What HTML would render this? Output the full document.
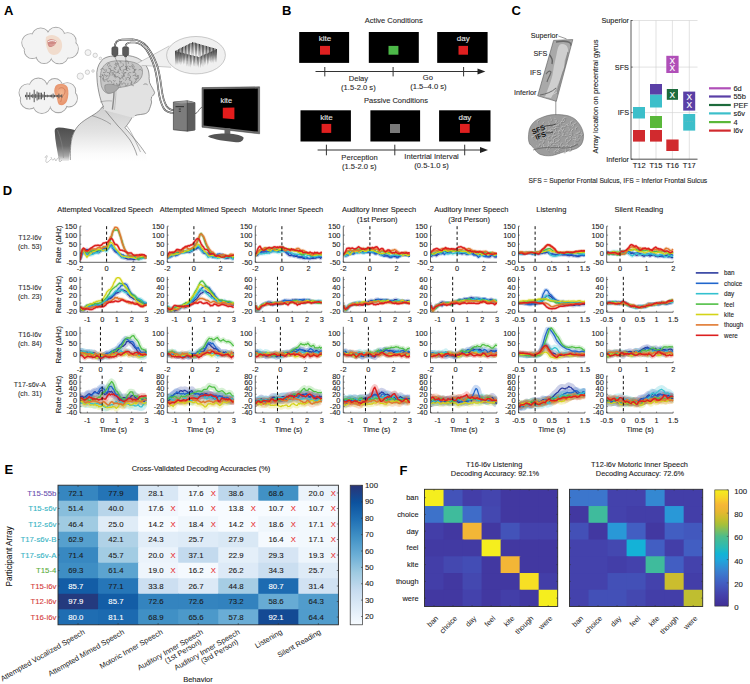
<!DOCTYPE html>
<html><head><meta charset="utf-8"><title>Figure</title>
<style>
html,body{margin:0;padding:0;background:#fff;}
svg{display:block;}
text{font-family:"Liberation Sans", Arial, sans-serif;}
</style></head>
<body>
<svg width="750" height="684" viewBox="0 0 750 684">
<rect width="750" height="684" fill="#fff"/>
<defs>
<linearGradient id="torsog" x1="0" y1="0" x2="0" y2="1"><stop offset="0" stop-color="#cfcfcf"/><stop offset="0.45" stop-color="#e2e2e2"/><stop offset="0.85" stop-color="#fbfbfb"/><stop offset="1" stop-color="#ffffff"/></linearGradient>
<linearGradient id="chairg" x1="0" y1="0" x2="0" y2="1"><stop offset="0" stop-color="#4e4e4e"/><stop offset="0.55" stop-color="#6a6a6a"/><stop offset="0.85" stop-color="#a8a8a8"/><stop offset="1" stop-color="#f0f0f0"/></linearGradient>
<radialGradient id="earg" cx="0.5" cy="0.45" r="0.6"><stop offset="0" stop-color="#f4b892"/><stop offset="1" stop-color="#e58f68"/></radialGradient>
<linearGradient id="spikeg" x1="0" y1="0" x2="0" y2="1"><stop offset="0" stop-color="#2a2a2a"/><stop offset="0.75" stop-color="#3a3a3a"/><stop offset="1" stop-color="#777"/></linearGradient>
</defs>
<circle cx="69.1" cy="48.8" r="9.23" fill="#f3f3f3" stroke="#a9a9a9" stroke-width="1.1"/>
<circle cx="59.3" cy="54.6" r="9.22" fill="#f3f3f3" stroke="#a9a9a9" stroke-width="1.1"/>
<circle cx="44.1" cy="55.4" r="7.99" fill="#f3f3f3" stroke="#a9a9a9" stroke-width="1.1"/>
<circle cx="32.3" cy="50.5" r="8.03" fill="#f3f3f3" stroke="#a9a9a9" stroke-width="1.1"/>
<circle cx="30.9" cy="42.8" r="9.06" fill="#f3f3f3" stroke="#a9a9a9" stroke-width="1.1"/>
<circle cx="40.7" cy="37.0" r="8.92" fill="#f3f3f3" stroke="#a9a9a9" stroke-width="1.1"/>
<circle cx="55.9" cy="36.2" r="8.83" fill="#f3f3f3" stroke="#a9a9a9" stroke-width="1.1"/>
<circle cx="67.7" cy="41.1" r="8.34" fill="#f3f3f3" stroke="#a9a9a9" stroke-width="1.1"/>
<circle cx="69.1" cy="48.8" r="8.73" fill="#f3f3f3"/>
<circle cx="59.3" cy="54.6" r="8.72" fill="#f3f3f3"/>
<circle cx="44.1" cy="55.4" r="7.49" fill="#f3f3f3"/>
<circle cx="32.3" cy="50.5" r="7.53" fill="#f3f3f3"/>
<circle cx="30.9" cy="42.8" r="8.56" fill="#f3f3f3"/>
<circle cx="40.7" cy="37.0" r="8.42" fill="#f3f3f3"/>
<circle cx="55.9" cy="36.2" r="8.33" fill="#f3f3f3"/>
<circle cx="67.7" cy="41.1" r="7.84" fill="#f3f3f3"/>
<ellipse cx="50.0" cy="45.8" rx="21.0" ry="11.0" fill="#f3f3f3"/>
<circle cx="68.8" cy="98.3" r="8.57" fill="#f3f3f3" stroke="#a9a9a9" stroke-width="1.1"/>
<circle cx="58.3" cy="103.9" r="8.72" fill="#f3f3f3" stroke="#a9a9a9" stroke-width="1.1"/>
<circle cx="41.9" cy="104.6" r="8.80" fill="#f3f3f3" stroke="#a9a9a9" stroke-width="1.1"/>
<circle cx="29.3" cy="99.9" r="8.99" fill="#f3f3f3" stroke="#a9a9a9" stroke-width="1.1"/>
<circle cx="27.8" cy="92.7" r="8.72" fill="#f3f3f3" stroke="#a9a9a9" stroke-width="1.1"/>
<circle cx="38.3" cy="87.1" r="8.97" fill="#f3f3f3" stroke="#a9a9a9" stroke-width="1.1"/>
<circle cx="54.7" cy="86.4" r="7.77" fill="#f3f3f3" stroke="#a9a9a9" stroke-width="1.1"/>
<circle cx="67.3" cy="91.1" r="8.35" fill="#f3f3f3" stroke="#a9a9a9" stroke-width="1.1"/>
<circle cx="68.8" cy="98.3" r="8.07" fill="#f3f3f3"/>
<circle cx="58.3" cy="103.9" r="8.22" fill="#f3f3f3"/>
<circle cx="41.9" cy="104.6" r="8.30" fill="#f3f3f3"/>
<circle cx="29.3" cy="99.9" r="8.49" fill="#f3f3f3"/>
<circle cx="27.8" cy="92.7" r="8.22" fill="#f3f3f3"/>
<circle cx="38.3" cy="87.1" r="8.47" fill="#f3f3f3"/>
<circle cx="54.7" cy="86.4" r="7.27" fill="#f3f3f3"/>
<circle cx="67.3" cy="91.1" r="7.85" fill="#f3f3f3"/>
<ellipse cx="48.3" cy="95.5" rx="22.5" ry="10.5" fill="#f3f3f3"/>
<circle cx="88.0" cy="52.6" r="3.0" fill="#f4f4f4" stroke="#a8a8a8" stroke-width="0.5"/>
<circle cx="95.2" cy="55.3" r="2.2" fill="#f4f4f4" stroke="#a8a8a8" stroke-width="0.5"/>
<circle cx="100.4" cy="58.4" r="1.3" fill="#f4f4f4" stroke="#a8a8a8" stroke-width="0.5"/>
<circle cx="80.3" cy="76.2" r="3.2" fill="#f4f4f4" stroke="#a8a8a8" stroke-width="0.5"/>
<circle cx="87.4" cy="72.2" r="2.2" fill="#f4f4f4" stroke="#a8a8a8" stroke-width="0.5"/>
<circle cx="93.0" cy="71.0" r="1.3" fill="#f4f4f4" stroke="#a8a8a8" stroke-width="0.5"/>
<path d="M46,37 C50,33.5 56,34.5 60,39 C63,43 63,49 59,53 C55,56.5 50,55 48,51 C46,47 45,41 46,37 Z" fill="#f1dccd"/>
<path d="M47.5,40.5 C50,38.5 54.5,38.8 56.5,41.2 C56,45 52,47.8 49,46.8 C47.6,45.5 47.2,42.5 47.5,40.5 Z" fill="#cf8a84"/>
<path d="M48,41.6 C50.5,40.3 54,40.4 56,41.6" fill="none" stroke="#fff" stroke-width="0.9"/>
<path d="M49.5,44.8 C51.5,45.3 53.5,45 55,44" fill="none" stroke="#e9b0aa" stroke-width="0.8"/>
<path d="M55.5,86 C58.5,83 64.5,83 67.5,87 C69,91 68.5,97 67,101 C65.5,104.5 62,106.5 58.8,104.5 C56.8,101.5 57.8,98.5 55.8,96 C53.8,93 53.8,89 55.5,86 Z" fill="url(#earg)"/>
<path d="M58.5,89 C60.5,87 64,87.5 65,90 C65.6,93 63.6,95 62,97.5 C61,99 61.5,101 60.5,102" fill="none" stroke="#c46a48" stroke-width="0.6"/>
<line x1="25.5" y1="94.8" x2="25.5" y2="97.2" stroke="#505050" stroke-width="0.95"/>
<line x1="26.9" y1="92.3" x2="26.9" y2="99.7" stroke="#505050" stroke-width="0.95"/>
<line x1="28.4" y1="94.9" x2="28.4" y2="97.1" stroke="#505050" stroke-width="0.95"/>
<line x1="29.8" y1="92.4" x2="29.8" y2="99.6" stroke="#505050" stroke-width="0.95"/>
<line x1="31.3" y1="94.8" x2="31.3" y2="97.2" stroke="#505050" stroke-width="0.95"/>
<line x1="32.8" y1="93.9" x2="32.8" y2="98.1" stroke="#505050" stroke-width="0.95"/>
<line x1="34.2" y1="89.8" x2="34.2" y2="102.2" stroke="#505050" stroke-width="0.95"/>
<line x1="35.7" y1="93.9" x2="35.7" y2="98.1" stroke="#505050" stroke-width="0.95"/>
<line x1="37.1" y1="91.5" x2="37.1" y2="100.5" stroke="#505050" stroke-width="0.95"/>
<line x1="38.6" y1="92.5" x2="38.6" y2="99.5" stroke="#505050" stroke-width="0.95"/>
<line x1="40.0" y1="92.7" x2="40.0" y2="99.3" stroke="#505050" stroke-width="0.95"/>
<line x1="41.5" y1="92.7" x2="41.5" y2="99.3" stroke="#505050" stroke-width="0.95"/>
<line x1="42.9" y1="94.3" x2="42.9" y2="97.7" stroke="#505050" stroke-width="0.95"/>
<line x1="44.4" y1="91.9" x2="44.4" y2="100.1" stroke="#505050" stroke-width="0.95"/>
<line x1="45.8" y1="95.0" x2="45.8" y2="97.0" stroke="#505050" stroke-width="0.95"/>
<line x1="47.3" y1="94.7" x2="47.3" y2="97.3" stroke="#505050" stroke-width="0.95"/>
<line x1="48.7" y1="95.4" x2="48.7" y2="96.6" stroke="#505050" stroke-width="0.95"/>
<line x1="50.2" y1="94.9" x2="50.2" y2="97.1" stroke="#505050" stroke-width="0.95"/>
<line x1="51.6" y1="94.6" x2="51.6" y2="97.4" stroke="#505050" stroke-width="0.95"/>
<line x1="53.1" y1="93.6" x2="53.1" y2="98.4" stroke="#505050" stroke-width="0.95"/>
<line x1="54.5" y1="94.8" x2="54.5" y2="97.2" stroke="#505050" stroke-width="0.95"/>
<line x1="56.0" y1="95.4" x2="56.0" y2="96.6" stroke="#505050" stroke-width="0.95"/>
<line x1="57.4" y1="95.1" x2="57.4" y2="96.9" stroke="#505050" stroke-width="0.95"/>
<line x1="58.9" y1="93.7" x2="58.9" y2="98.3" stroke="#505050" stroke-width="0.95"/>
<line x1="60.3" y1="95.5" x2="60.3" y2="96.5" stroke="#505050" stroke-width="0.95"/>
<line x1="61.8" y1="94.4" x2="61.8" y2="97.6" stroke="#505050" stroke-width="0.95"/>
<line x1="25.00" y1="96.00" x2="62.00" y2="96.00" stroke="#505050" stroke-width="0.8" />
<path d="M54.7,131 C54.5,128.5 56.5,127.5 59,127.5 C64,127.8 71,128.8 75.5,130.3 C72.5,134 71.3,138 71.2,142 L68.8,161 L59,161 C57.5,151 55,141 54.7,131 Z" fill="url(#chairg)"/>
<path d="M57.5,130 C61,138 63,148 63.5,158" fill="none" stroke="#8a8a8a" stroke-width="0.5"/>
<path d="M70.3,162 C70.3,152 70.6,144 71.5,140 C73,133 76,127 81.6,122.5 C86,119 90,117 94,114.5 C97,112.5 100.5,110 102.6,106.5 L133.8,114 C131,120 128,124 125,127.7 C131,134 139,144 146,155 L148,162 Z" fill="url(#torsog)"/>
<path d="M70.3,160 C70.3,150 70.6,144 71.5,140 C73,133 76,127 81.6,122.5 C86,119 90,117 94,114.5 C97,112.5 100.5,110 102.6,106.5" fill="none" stroke="#555" stroke-width="0.6"/>
<path d="M92,115.6 C98,117.5 105,120 111,124.3" fill="none" stroke="#666" stroke-width="0.5"/>
<path d="M102.4,106.9 C108,114 113,120 118,126 C123,131 127,136 130,140 C133,145 135.5,150 137,155.5" fill="none" stroke="#555" stroke-width="0.55"/>
<path d="M125,127.7 C129,132 132,136 135.3,139.9 C139,144 142.5,149 145.7,153.7" fill="none" stroke="#555" stroke-width="0.55"/>
<path d="M126.7,126 C131,131 134,138 140.5,152" fill="none" stroke="#666" stroke-width="0.45"/>
<path d="M133.8,114 C131,120 128,124 125,127.7" fill="none" stroke="#555" stroke-width="0.55"/>
<path d="M103.7,107.1 C101.5,103 100,98 98.8,92 C97.5,86 96.8,80 96.8,72.3 C97.5,66 100,61.5 103.7,58.6 C106.5,57 109.5,56.3 112.4,56.1 C117,55.4 122,55.2 127.3,55.5 C131,55.8 134.5,56.8 137.3,58 C140.5,59.6 142.8,61.5 144.7,63.6 C146.8,66.5 148,69 148.5,71 C149.1,74 149.3,76 149.1,78.5 C149.3,80 149.5,81.2 149.5,82.3 C150.3,84.5 151.5,86.5 152.5,88.2 C153.5,90 154.3,91.5 154.6,92.5 C154.3,94.5 152.8,95.8 151.6,96.9 C151.4,98 151.5,99 151.1,99.8 C151.3,100.8 151.7,101.5 151.6,102.2 C151.2,104.5 150,108 148.7,111 C147.5,112.8 146,113.6 144,114 C141.5,114.4 139.5,114.6 137.5,114.9 C136.3,115.2 135.3,115.5 134.8,115.8 L133.8,118 L103.7,110 Z" fill="#e2e2e2"/>
<path d="M103.7,107.1 C101.5,103 100,98 98.8,92 C97.5,86 96.8,80 96.8,72.3 C97.5,66 100,61.5 103.7,58.6 C106.5,57 109.5,56.3 112.4,56.1 C117,55.4 122,55.2 127.3,55.5 C131,55.8 134.5,56.8 137.3,58 C140.5,59.6 142.8,61.5 144.7,63.6 C146.8,66.5 148,69 148.5,71 C149.1,74 149.3,76 149.1,78.5 C149.3,80 149.5,81.2 149.5,82.3 C150.3,84.5 151.5,86.5 152.5,88.2 C153.5,90 154.3,91.5 154.6,92.5 C154.3,94.5 152.8,95.8 151.6,96.9 C151.4,98 151.5,99 151.1,99.8 C151.3,100.8 151.7,101.5 151.6,102.2 C151.2,104.5 150,108 148.7,111 C147.5,112.8 146,113.6 144,114 C141.5,114.4 139.5,114.6 137.5,114.9 C136.3,115.2 135.3,115.5 134.8,115.8" fill="none" stroke="#555" stroke-width="0.6"/>
<path d="M100.6,78 C100,71 102.5,66 107,63 C112,60.5 118,60.5 124,61 C131,61.3 137,62.5 140.5,66 C143,69 143,73 141.5,77 C139.5,81 136,83.5 131,85 C127,86.5 123,87 119,87.5 C116,90 113,93.5 108,93.3 C104,92.8 101.5,88 101,84 C100.7,82 100.6,80 100.6,78 Z" fill="#c6c6c6" stroke="#6a6a6a" stroke-width="0.5"/>
<path d="M118.9,63.6 Q116.4,65.6 115.6,62.5" fill="none" stroke="#6a6a6a" stroke-width="0.5"/>
<path d="M119.3,61.3 Q121.9,61.1 120.9,63.5" fill="none" stroke="#6a6a6a" stroke-width="0.5"/>
<path d="M125.2,61.2 Q128.9,60.0 128.4,63.8" fill="none" stroke="#6a6a6a" stroke-width="0.5"/>
<path d="M107.3,65.8 Q107.4,62.6 110.2,64.1" fill="none" stroke="#6a6a6a" stroke-width="0.5"/>
<path d="M115.7,64.1 Q118.4,67.2 114.4,68.2" fill="none" stroke="#6a6a6a" stroke-width="0.5"/>
<path d="M116.1,65.9 Q113.8,64.5 116.0,63.0" fill="none" stroke="#6a6a6a" stroke-width="0.5"/>
<path d="M122.9,63.3 Q125.0,65.9 121.7,66.7" fill="none" stroke="#6a6a6a" stroke-width="0.5"/>
<path d="M128.0,65.7 Q127.2,68.6 125.0,66.5" fill="none" stroke="#6a6a6a" stroke-width="0.5"/>
<path d="M132.1,64.7 Q131.5,68.1 128.8,66.1" fill="none" stroke="#6a6a6a" stroke-width="0.5"/>
<path d="M132.0,63.6 Q134.8,65.0 132.3,66.9" fill="none" stroke="#6a6a6a" stroke-width="0.5"/>
<path d="M108.1,66.7 Q110.2,63.9 111.8,67.0" fill="none" stroke="#6a6a6a" stroke-width="0.5"/>
<path d="M113.6,70.1 Q110.0,71.8 110.0,67.9" fill="none" stroke="#6a6a6a" stroke-width="0.5"/>
<path d="M116.2,69.5 Q113.1,69.3 114.6,66.6" fill="none" stroke="#6a6a6a" stroke-width="0.5"/>
<path d="M121.6,70.9 Q118.0,68.3 121.9,66.2" fill="none" stroke="#6a6a6a" stroke-width="0.5"/>
<path d="M125.5,66.1 Q127.8,69.2 123.9,69.9" fill="none" stroke="#6a6a6a" stroke-width="0.5"/>
<path d="M128.2,70.6 Q125.1,70.5 126.6,67.8" fill="none" stroke="#6a6a6a" stroke-width="0.5"/>
<path d="M133.4,69.1 Q131.1,67.6 133.4,66.2" fill="none" stroke="#6a6a6a" stroke-width="0.5"/>
<path d="M135.9,70.3 Q132.1,69.4 134.6,66.4" fill="none" stroke="#6a6a6a" stroke-width="0.5"/>
<path d="M100.2,69.9 Q103.2,66.7 104.8,70.8" fill="none" stroke="#6a6a6a" stroke-width="0.5"/>
<path d="M106.0,69.0 Q107.3,73.1 103.0,72.5" fill="none" stroke="#6a6a6a" stroke-width="0.5"/>
<path d="M108.1,67.9 Q112.5,68.9 109.7,72.5" fill="none" stroke="#6a6a6a" stroke-width="0.5"/>
<path d="M113.7,70.5 Q115.3,73.9 111.5,73.9" fill="none" stroke="#6a6a6a" stroke-width="0.5"/>
<path d="M119.2,70.8 Q116.9,74.8 114.3,71.0" fill="none" stroke="#6a6a6a" stroke-width="0.5"/>
<path d="M120.1,73.8 Q116.0,72.4 119.1,69.3" fill="none" stroke="#6a6a6a" stroke-width="0.5"/>
<path d="M126.3,72.6 Q122.3,73.3 123.4,69.4" fill="none" stroke="#6a6a6a" stroke-width="0.5"/>
<path d="M125.4,69.6 Q128.1,66.1 130.1,70.0" fill="none" stroke="#6a6a6a" stroke-width="0.5"/>
<path d="M134.8,69.7 Q135.5,72.6 132.5,72.0" fill="none" stroke="#6a6a6a" stroke-width="0.5"/>
<path d="M134.2,71.0 Q134.0,68.4 136.5,69.4" fill="none" stroke="#6a6a6a" stroke-width="0.5"/>
<path d="M138.6,70.1 Q140.5,68.0 141.6,70.6" fill="none" stroke="#6a6a6a" stroke-width="0.5"/>
<path d="M102.8,74.5 Q102.1,78.4 98.9,76.1" fill="none" stroke="#6a6a6a" stroke-width="0.5"/>
<path d="M106.5,75.3 Q104.1,76.3 104.2,73.7" fill="none" stroke="#6a6a6a" stroke-width="0.5"/>
<path d="M106.8,72.4 Q111.4,72.3 109.5,76.5" fill="none" stroke="#6a6a6a" stroke-width="0.5"/>
<path d="M109.3,74.5 Q110.0,70.5 113.4,72.9" fill="none" stroke="#6a6a6a" stroke-width="0.5"/>
<path d="M118.3,75.9 Q115.7,78.6 114.4,75.1" fill="none" stroke="#6a6a6a" stroke-width="0.5"/>
<path d="M121.5,72.6 Q125.5,73.4 123.0,76.6" fill="none" stroke="#6a6a6a" stroke-width="0.5"/>
<path d="M124.6,76.6 Q122.1,73.4 126.1,72.6" fill="none" stroke="#6a6a6a" stroke-width="0.5"/>
<path d="M128.2,75.9 Q127.2,71.8 131.3,72.7" fill="none" stroke="#6a6a6a" stroke-width="0.5"/>
<path d="M132.8,72.8 Q135.7,71.2 135.9,74.6" fill="none" stroke="#6a6a6a" stroke-width="0.5"/>
<path d="M139.1,75.3 Q136.3,78.0 135.1,74.3" fill="none" stroke="#6a6a6a" stroke-width="0.5"/>
<path d="M101.5,74.7 Q105.2,75.4 102.9,78.5" fill="none" stroke="#6a6a6a" stroke-width="0.5"/>
<path d="M106.8,78.8 Q103.8,81.7 102.5,77.7" fill="none" stroke="#6a6a6a" stroke-width="0.5"/>
<path d="M105.9,77.4 Q106.4,74.4 108.9,76.2" fill="none" stroke="#6a6a6a" stroke-width="0.5"/>
<path d="M111.7,75.3 Q115.5,72.9 116.1,77.4" fill="none" stroke="#6a6a6a" stroke-width="0.5"/>
<path d="M115.6,78.1 Q112.3,75.8 115.8,73.9" fill="none" stroke="#6a6a6a" stroke-width="0.5"/>
<path d="M121.9,75.1 Q123.1,78.9 119.2,78.3" fill="none" stroke="#6a6a6a" stroke-width="0.5"/>
<path d="M123.8,79.7 Q121.0,77.0 124.7,75.6" fill="none" stroke="#6a6a6a" stroke-width="0.5"/>
<path d="M128.9,74.5 Q132.6,77.2 128.6,79.3" fill="none" stroke="#6a6a6a" stroke-width="0.5"/>
<path d="M132.6,75.9 Q134.9,73.7 135.9,76.7" fill="none" stroke="#6a6a6a" stroke-width="0.5"/>
<path d="M137.2,74.9 Q140.1,78.2 135.9,79.4" fill="none" stroke="#6a6a6a" stroke-width="0.5"/>
<path d="M105.3,81.4 Q101.9,81.2 103.5,78.2" fill="none" stroke="#6a6a6a" stroke-width="0.5"/>
<path d="M108.4,82.2 Q105.1,79.4 109.1,77.6" fill="none" stroke="#6a6a6a" stroke-width="0.5"/>
<path d="M115.7,80.6 Q113.9,82.4 113.0,80.0" fill="none" stroke="#6a6a6a" stroke-width="0.5"/>
<path d="M117.6,77.1 Q121.4,77.2 119.6,80.5" fill="none" stroke="#6a6a6a" stroke-width="0.5"/>
<path d="M122.0,80.8 Q120.8,83.4 119.0,81.2" fill="none" stroke="#6a6a6a" stroke-width="0.5"/>
<path d="M125.7,77.6 Q127.8,79.7 124.9,80.7" fill="none" stroke="#6a6a6a" stroke-width="0.5"/>
<path d="M126.6,77.7 Q129.7,76.1 129.8,79.6" fill="none" stroke="#6a6a6a" stroke-width="0.5"/>
<path d="M134.3,77.9 Q138.0,80.7 133.9,82.8" fill="none" stroke="#6a6a6a" stroke-width="0.5"/>
<path d="M136.0,79.7 Q136.3,76.8 138.8,78.4" fill="none" stroke="#6a6a6a" stroke-width="0.5"/>
<path d="M107.9,81.5 Q111.4,79.3 111.9,83.4" fill="none" stroke="#6a6a6a" stroke-width="0.5"/>
<path d="M113.9,82.7 Q114.7,85.3 112.0,84.9" fill="none" stroke="#6a6a6a" stroke-width="0.5"/>
<path d="M119.6,84.9 Q116.5,86.4 116.4,82.9" fill="none" stroke="#6a6a6a" stroke-width="0.5"/>
<path d="M119.9,85.3 Q118.1,81.9 121.9,81.8" fill="none" stroke="#6a6a6a" stroke-width="0.5"/>
<path d="M128.0,82.9 Q128.2,86.5 124.9,85.1" fill="none" stroke="#6a6a6a" stroke-width="0.5"/>
<path d="M129.0,80.1 Q133.3,80.5 131.0,84.2" fill="none" stroke="#6a6a6a" stroke-width="0.5"/>
<path d="M134.0,85.8 Q129.5,85.6 131.7,81.7" fill="none" stroke="#6a6a6a" stroke-width="0.5"/>
<path d="M117.5,83.7 Q119.6,85.3 117.2,86.5" fill="none" stroke="#6a6a6a" stroke-width="0.5"/>
<path d="M120.7,87.4 Q117.8,84.3 121.9,83.0" fill="none" stroke="#6a6a6a" stroke-width="0.5"/>
<path d="M121.7,85.1 Q123.2,81.3 126.0,84.3" fill="none" stroke="#6a6a6a" stroke-width="0.5"/>
<path d="M105,85 C109,83.5 115,84 119,87 C117,91 113,93.5 108.5,93.2 C105.5,92.5 104,89 105,85 Z" fill="#a8a8a8" stroke="#6a6a6a" stroke-width="0.4"/>
<path d="M114,92 C114,98 113,104 112.4,109.6" fill="none" stroke="#8a8a8a" stroke-width="1.4"/>
<path d="M116,90 C116,97 115,104 114.5,110" fill="none" stroke="#9a9a9a" stroke-width="0.5"/>
<path d="M143.5,84.5 C145,83.6 146.6,83.8 147.6,84.8" fill="none" stroke="#555" stroke-width="0.55"/>
<path d="M100,102 C104,101 108,100.5 112,101" fill="none" stroke="#777" stroke-width="0.45"/>
<polygon points="137,63.6 169.3,45.9 171.2,67.3 141.7,65.4" fill="#efefef"/>
<line x1="137.00" y1="63.60" x2="169.30" y2="45.90" stroke="#9a9a9a" stroke-width="0.5" />
<line x1="141.70" y1="65.40" x2="171.20" y2="67.30" stroke="#9a9a9a" stroke-width="0.5" />
<path d="M114.9,47 C114.8,42 117.5,39.8 122,39.6 L132.5,39.4 C139,39.8 143.5,42.5 147,46.5 C151,51.5 154.5,58 157,65 C159.5,72 160.5,80 161.5,88 C162.5,96 164,102 166.5,106 C168.5,109 171,110 174,110.2" fill="none" stroke="#333" stroke-width="1.7"/>
<path d="M114.9,47 C114.8,42 117.5,39.8 122,39.6 L132.5,39.4 C139,39.8 143.5,42.5 147,46.5 C151,51.5 154.5,58 157,65 C159.5,72 160.5,80 161.5,88 C162.5,96 164,102 166.5,106 C168.5,109 171,110 174,110.2" fill="none" stroke="#fafafa" stroke-width="0.7"/>
<path d="M125.5,47 C125.6,44 127.5,42.6 130.5,42.5 L135,42.5 C140,43 143.5,46 146.5,50 C149.5,54.5 152.5,61 154.5,67.5 C156.5,74.5 157.5,82 158.3,89.5 C159.3,97.5 161,104 163.8,108.5 C165.8,111.5 169,112.8 174,113" fill="none" stroke="#333" stroke-width="1.7"/>
<path d="M125.5,47 C125.6,44 127.5,42.6 130.5,42.5 L135,42.5 C140,43 143.5,46 146.5,50 C149.5,54.5 152.5,61 154.5,67.5 C156.5,74.5 157.5,82 158.3,89.5 C159.3,97.5 161,104 163.8,108.5 C165.8,111.5 169,112.8 174,113" fill="none" stroke="#fafafa" stroke-width="0.7"/>
<rect x="111.8" y="46.8" width="6.2" height="8.7" rx="1.6" fill="#5a5a5a" stroke="#333" stroke-width="0.4"/>
<rect x="113.50" y="55.30" width="2.80" height="1.80" fill="#555" />
<line x1="114.90" y1="57.00" x2="120.90" y2="70.50" stroke="#6a6a6a" stroke-width="0.5" />
<rect x="122.5" y="46.8" width="6.2" height="8.7" rx="1.6" fill="#5a5a5a" stroke="#333" stroke-width="0.4"/>
<rect x="124.20" y="55.30" width="2.80" height="1.80" fill="#555" />
<line x1="125.60" y1="57.00" x2="126.60" y2="70.50" stroke="#6a6a6a" stroke-width="0.5" />
<ellipse cx="196.0" cy="55.2" rx="29.4" ry="18.7" fill="#f0f0f0" stroke="#a8a8a8" stroke-width="0.6"/>
<polygon points="175.1,50.7 176.1,50.7 175.6,65.5" fill="#333"/>
<polygon points="176.5,49.9 177.5,49.9 177.0,65.2" fill="#333"/>
<polygon points="177.9,49.2 178.9,49.2 178.4,64.6" fill="#333"/>
<polygon points="179.3,48.5 180.3,48.5 179.8,64.4" fill="#333"/>
<polygon points="180.7,47.8 181.7,47.8 181.2,63.1" fill="#333"/>
<polygon points="182.1,47.1 183.1,47.1 182.6,62.9" fill="#333"/>
<polygon points="183.5,46.4 184.5,46.4 184.0,59.5" fill="#333"/>
<polygon points="184.9,45.7 185.9,45.7 185.4,60.1" fill="#333"/>
<polygon points="186.4,45.0 187.4,45.0 186.9,60.9" fill="#333"/>
<polygon points="187.8,44.3 188.8,44.3 188.3,59.3" fill="#333"/>
<polygon points="189.2,43.6 190.2,43.6 189.7,59.3" fill="#333"/>
<polygon points="190.6,42.9 191.6,42.9 191.1,56.3" fill="#333"/>
<polygon points="192.0,42.2 193.0,42.2 192.5,56.6" fill="#333"/>
<polygon points="193.4,42.4 194.4,42.4 193.9,56.2" fill="#333"/>
<polygon points="194.8,42.8 195.8,42.8 195.3,57.5" fill="#333"/>
<polygon points="196.2,43.3 197.2,43.3 196.7,58.0" fill="#333"/>
<polygon points="197.6,43.7 198.6,43.7 198.1,56.7" fill="#333"/>
<polygon points="199.0,44.1 200.0,44.1 199.5,57.7" fill="#333"/>
<polygon points="200.4,44.5 201.4,44.5 200.9,58.3" fill="#333"/>
<polygon points="201.8,44.9 202.8,44.9 202.3,60.6" fill="#333"/>
<polygon points="203.2,45.3 204.2,45.3 203.7,60.6" fill="#333"/>
<polygon points="204.6,45.7 205.6,45.7 205.1,59.2" fill="#333"/>
<polygon points="206.1,46.1 207.1,46.1 206.6,61.5" fill="#333"/>
<polygon points="207.5,46.5 208.5,46.5 208.0,59.9" fill="#333"/>
<polygon points="208.9,46.9 209.9,46.9 209.4,61.8" fill="#333"/>
<polygon points="210.3,47.3 211.3,47.3 210.8,60.7" fill="#333"/>
<polygon points="211.7,47.7 212.7,47.7 212.2,60.7" fill="#333"/>
<polygon points="213.1,48.1 214.1,48.1 213.6,63.7" fill="#333"/>
<polygon points="214.5,48.5 215.5,48.5 215.0,62.2" fill="#333"/>
<polygon points="215.9,48.9 216.9,48.9 216.4,62.6" fill="#333"/>
<polygon points="175.8,51.3 176.8,51.3 176.3,64.3" fill="#454545"/>
<polygon points="177.2,51.7 178.2,51.7 177.7,64.3" fill="#454545"/>
<polygon points="178.6,52.0 179.6,52.0 179.1,62.9" fill="#454545"/>
<polygon points="180.0,52.4 181.0,52.4 180.5,65.3" fill="#454545"/>
<polygon points="181.4,52.7 182.4,52.7 181.9,64.4" fill="#454545"/>
<polygon points="182.8,53.1 183.8,53.1 183.3,65.1" fill="#454545"/>
<polygon points="184.2,53.5 185.2,53.5 184.7,64.1" fill="#454545"/>
<polygon points="185.6,53.8 186.6,53.8 186.1,66.6" fill="#454545"/>
<polygon points="187.1,54.2 188.1,54.2 187.6,66.2" fill="#454545"/>
<polygon points="188.5,54.5 189.5,54.5 189.0,67.4" fill="#454545"/>
<polygon points="189.9,54.9 190.9,54.9 190.4,67.5" fill="#454545"/>
<polygon points="191.3,55.2 192.3,55.2 191.8,66.1" fill="#454545"/>
<polygon points="192.7,55.6 193.7,55.6 193.2,66.6" fill="#454545"/>
<polygon points="194.1,55.9 195.1,55.9 194.6,66.4" fill="#454545"/>
<polygon points="195.5,56.3 196.5,56.3 196.0,66.7" fill="#454545"/>
<polygon points="196.9,56.6 197.9,56.6 197.4,66.8" fill="#454545"/>
<polygon points="198.3,57.0 199.3,57.0 198.8,67.9" fill="#454545"/>
<polygon points="199.7,56.5 200.7,56.5 200.2,68.3" fill="#454545"/>
<polygon points="201.1,55.8 202.1,55.8 201.6,65.9" fill="#454545"/>
<polygon points="202.5,55.2 203.5,55.2 203.0,67.3" fill="#454545"/>
<polygon points="203.9,54.6 204.9,54.6 204.4,65.6" fill="#454545"/>
<polygon points="205.3,54.0 206.3,54.0 205.8,64.9" fill="#454545"/>
<polygon points="206.8,53.4 207.8,53.4 207.3,65.8" fill="#454545"/>
<polygon points="208.2,52.8 209.2,52.8 208.7,64.2" fill="#454545"/>
<polygon points="209.6,52.1 210.6,52.1 210.1,63.1" fill="#454545"/>
<polygon points="211.0,51.5 212.0,51.5 211.5,63.0" fill="#454545"/>
<polygon points="212.4,50.9 213.4,50.9 212.9,63.0" fill="#454545"/>
<polygon points="213.8,50.3 214.8,50.3 214.3,60.5" fill="#454545"/>
<polygon points="215.2,49.7 216.2,49.7 215.7,62.6" fill="#454545"/>
<polygon points="173.4,102 187.3,100.8 195,102.6 195,130 187.3,131.2 173.4,129.8" fill="#7c7c7c" stroke="#2e2e2e" stroke-width="0.6"/>
<polygon points="187.3,100.8 195,102.6 195,130 187.3,131.2" fill="#5c5c5c"/>
<polygon points="173.4,102 187.3,100.8 195,102.6 181,103.6" fill="#9a9a9a"/>
<line x1="187.30" y1="100.80" x2="187.30" y2="131.20" stroke="#2e2e2e" stroke-width="0.5" />
<rect x="175.50" y="106.00" width="8.50" height="1.20" fill="#3a3a3a" />
<rect x="178.80" y="108.50" width="2.00" height="1.10" fill="#3a3a3a" />
<rect x="178.80" y="110.80" width="2.00" height="1.10" fill="#3a3a3a" />
<path d="M195,113.5 C198,113.5 199,108 202.5,107" fill="none" stroke="#2e2e2e" stroke-width="0.7"/>
<polygon points="202,87.6 259.6,86.8 259.6,133.8 202,127.2" fill="#707070" stroke="#3a3a3a" stroke-width="0.5"/>
<polygon points="203.6,89.2 257.8,88.6 257.8,131.6 203.6,125.6" fill="#000"/>
<text x="226.3" y="100.2" font-size="7.4" text-anchor="middle" fill="#f0f0f0" stroke="#f0f0f0" stroke-width="0.1" dominant-baseline="central" >kite</text>
<polygon points="222.8,107.7 234.4,107.5 234.4,119.2 222.8,118.2" fill="#e41c1c"/>
<rect x="224.50" y="128.20" width="5.80" height="6.50" fill="#666" />
<path d="M208,136.5 C212,132.5 238,132 243.6,137.5 C243.5,141 240.5,142.6 236,142.3 C225,141 214,139.8 208,136.5 Z" fill="#555"/>
<path d="M45,158 C46,155 48,155 47,157 C46,159 45,162.5 47,162.5 C49,161.5 50,160 51,159 M51,157 C52,160 53,161.5 54,159 C55,157 55,160.5 56,161 C57,159 58,157 59,158 C60,159 58,161 60,162 L62,160" fill="none" stroke="#8a8a8a" stroke-width="0.45"/>
<text x="393.8" y="20.8" font-size="7.5" text-anchor="middle" fill="#2a2a2a" stroke="#2a2a2a" stroke-width="0.1" textLength="58" lengthAdjust="spacingAndGlyphs" dominant-baseline="central" >Active Conditions</text>
<rect x="299.20" y="32.00" width="49.90" height="30.90" fill="#000" />
<text x="325.0" y="38.9" font-size="8.0" text-anchor="middle" fill="#e8e8e8" stroke="#e8e8e8" stroke-width="0.1" dominant-baseline="central" >kite</text>
<rect x="320.00" y="45.90" width="10.00" height="8.80" fill="#e02020" />
<rect x="368.80" y="32.00" width="50.00" height="30.90" fill="#000" />
<rect x="388.50" y="45.90" width="9.90" height="8.80" fill="#4cb848" />
<rect x="437.20" y="32.00" width="50.40" height="30.90" fill="#000" />
<text x="463.2" y="38.9" font-size="8.0" text-anchor="middle" fill="#e8e8e8" stroke="#e8e8e8" stroke-width="0.1" dominant-baseline="central" >day</text>
<rect x="458.50" y="45.90" width="9.50" height="8.80" fill="#e02020" />
<line x1="315.50" y1="71.50" x2="479.00" y2="71.50" stroke="#333" stroke-width="1" />
<polygon points="477.5,68.6 485.4,71.5 477.5,74.4" fill="#222"/>
<line x1="324.80" y1="67.00" x2="324.80" y2="76.40" stroke="#333" stroke-width="1" />
<line x1="393.10" y1="67.00" x2="393.10" y2="76.40" stroke="#333" stroke-width="1" />
<line x1="463.60" y1="67.00" x2="463.60" y2="76.40" stroke="#333" stroke-width="1" />
<text x="358.4" y="78.7" font-size="7.6" text-anchor="middle" fill="#2a2a2a" stroke="#2a2a2a" stroke-width="0.1" dominant-baseline="central" >Delay</text>
<text x="358.4" y="87.2" font-size="7.6" text-anchor="middle" fill="#2a2a2a" stroke="#2a2a2a" stroke-width="0.1" dominant-baseline="central" >(1.5-2.0 s)</text>
<text x="427.8" y="77.8" font-size="7.6" text-anchor="middle" fill="#2a2a2a" stroke="#2a2a2a" stroke-width="0.1" dominant-baseline="central" >Go</text>
<text x="428.4" y="86.6" font-size="7.6" text-anchor="middle" fill="#2a2a2a" stroke="#2a2a2a" stroke-width="0.1" dominant-baseline="central" >(1.5–4.0 s)</text>
<text x="396.0" y="100.9" font-size="7.5" text-anchor="middle" fill="#2a2a2a" stroke="#2a2a2a" stroke-width="0.1" textLength="64" lengthAdjust="spacingAndGlyphs" dominant-baseline="central" >Passive Conditions</text>
<rect x="300.50" y="110.30" width="50.40" height="31.20" fill="#000" />
<text x="326.4" y="117.2" font-size="8.0" text-anchor="middle" fill="#e8e8e8" stroke="#e8e8e8" stroke-width="0.1" dominant-baseline="central" >kite</text>
<rect x="321.60" y="123.90" width="9.60" height="9.00" fill="#e02020" />
<rect x="370.40" y="110.30" width="49.70" height="31.20" fill="#000" />
<rect x="390.00" y="124.00" width="10.00" height="9.00" fill="#7a7a7a" />
<rect x="439.10" y="110.30" width="51.40" height="31.20" fill="#000" />
<text x="464.9" y="117.2" font-size="8.0" text-anchor="middle" fill="#e8e8e8" stroke="#e8e8e8" stroke-width="0.1" dominant-baseline="central" >day</text>
<rect x="460.00" y="123.90" width="9.70" height="9.00" fill="#e02020" />
<line x1="317.60" y1="150.00" x2="482.00" y2="150.00" stroke="#333" stroke-width="1" />
<polygon points="480.0,147.1 488.0,150 480.0,152.9" fill="#222"/>
<line x1="326.40" y1="144.70" x2="326.40" y2="155.30" stroke="#333" stroke-width="1" />
<line x1="394.80" y1="144.70" x2="394.80" y2="155.30" stroke="#333" stroke-width="1" />
<line x1="464.70" y1="144.70" x2="464.70" y2="155.30" stroke="#333" stroke-width="1" />
<text x="359.5" y="157.2" font-size="7.6" text-anchor="middle" fill="#2a2a2a" stroke="#2a2a2a" stroke-width="0.1" dominant-baseline="central" >Perception</text>
<text x="359.2" y="166.0" font-size="7.6" text-anchor="middle" fill="#2a2a2a" stroke="#2a2a2a" stroke-width="0.1" dominant-baseline="central" >(1.5-2.0 s)</text>
<text x="431.6" y="156.9" font-size="7.6" text-anchor="middle" fill="#2a2a2a" stroke="#2a2a2a" stroke-width="0.1" dominant-baseline="central" >Intertrial Interval</text>
<text x="431.6" y="165.7" font-size="7.6" text-anchor="middle" fill="#2a2a2a" stroke="#2a2a2a" stroke-width="0.1" dominant-baseline="central" >(0.5-1.0 s)</text>
<defs><linearGradient id="stripg" x1="0" y1="0" x2="1" y2="0"><stop offset="0" stop-color="#8a8a8a"/><stop offset="0.5" stop-color="#c8c8c8"/><stop offset="1" stop-color="#9a9a9a"/></linearGradient><radialGradient id="braing" cx="0.45" cy="0.4" r="0.7"><stop offset="0" stop-color="#a8a8a8"/><stop offset="1" stop-color="#6a6a6a"/></radialGradient></defs>
<defs><clipPath id="stripclip"><polygon points="553.6,40.4 572.8,39.6 556.3,101.3 537.7,95.8"/></clipPath></defs>
<polygon points="553.6,40.4 572.8,39.6 556.3,101.3 537.7,95.8" fill="#a9a9a9"/>
<g clip-path="url(#stripclip)">
<path d="M562,44 C568,44 570,50 566,57 C563,62 566,68 562,75 C559,82 556,90 551,98 L545,97 C548,88 552,80 553,72 C554,64 556,58 557,52 C558,47 559,44 562,44 Z" fill="#cfcfcf"/>
<path d="M556,42 C566,40 572,42 571,46" fill="none" stroke="#6a6a6a" stroke-width="1.4"/>
<path d="M549,54 C552,58 553,60 552,64" fill="none" stroke="#606060" stroke-width="1.3"/>
<path d="M546,74 C548,72 549,70 551,72 C550,76 548,78 547,82" fill="none" stroke="#6a6a6a" stroke-width="1.1"/>
<path d="M568,52 C566,60 566,66 563,72 C561,78 559,86 557,94" fill="none" stroke="#8a8a8a" stroke-width="1.2"/>
<path d="M540,95 C546,94 552,92 556,88" fill="none" stroke="#6a6a6a" stroke-width="1.0"/>
<path d="M542,98 C548,96 553,95 557,92" fill="none" stroke="#d0d0d0" stroke-width="0.8"/>
</g>
<polygon points="553.6,40.4 572.8,39.6 556.3,101.3 537.7,95.8" fill="none" stroke="#555" stroke-width="0.6"/>
<line x1="555.80" y1="101.00" x2="555.80" y2="121.50" stroke="#555" stroke-width="0.6" />
<path d="M528.4,138 C528.5,133 529,129 530.7,126.3 C533,122 536.5,119.5 540.1,118.2 C545,116 549.5,114.8 554.1,114.6 C559,114.4 564,114.9 568.2,115.8 C572.5,117.2 575.5,119 577.5,121.7 C580.5,125 582.5,129 583.4,133.4 C584,138 583,142 581,145 C578.5,147.8 575.5,149 572.9,149.7 C569.5,150.8 566.5,151.3 563.5,152 C559.5,153.2 555.5,155 551.8,155.6 C547.5,156.2 543.5,155.6 540.1,154.4 C537.5,153 535.5,151 534.2,148.6 C532.5,146.5 530.8,145.3 529.6,143.9 C528.8,142 528.4,140 528.4,138 Z" fill="#9c9c9c" stroke="#5a5a5a" stroke-width="0.5"/>
<path d="M550.4,117.7 Q553.1,118.9 551.0,121.0" fill="none" stroke="#c4c4c4" stroke-width="0.8"/>
<path d="M550.4,117.7 Q553.1,118.9 551.0,121.0" fill="none" stroke="#5e5e5e" stroke-width="0.35" transform="translate(0.6 0.6)"/>
<path d="M554.5,118.3 Q558.4,119.4 556.0,122.7" fill="none" stroke="#c4c4c4" stroke-width="0.8"/>
<path d="M554.5,118.3 Q558.4,119.4 556.0,122.7" fill="none" stroke="#5e5e5e" stroke-width="0.35" transform="translate(0.6 0.6)"/>
<path d="M558.8,121.9 Q555.8,123.8 555.1,120.4" fill="none" stroke="#c4c4c4" stroke-width="0.8"/>
<path d="M558.8,121.9 Q555.8,123.8 555.1,120.4" fill="none" stroke="#5e5e5e" stroke-width="0.35" transform="translate(0.6 0.6)"/>
<path d="M564.3,118.2 Q565.4,122.4 561.1,121.9" fill="none" stroke="#c4c4c4" stroke-width="0.8"/>
<path d="M564.3,118.2 Q565.4,122.4 561.1,121.9" fill="none" stroke="#5e5e5e" stroke-width="0.35" transform="translate(0.6 0.6)"/>
<path d="M562.8,120.3 Q562.6,117.1 565.7,118.0" fill="none" stroke="#c4c4c4" stroke-width="0.8"/>
<path d="M562.8,120.3 Q562.6,117.1 565.7,118.0" fill="none" stroke="#5e5e5e" stroke-width="0.35" transform="translate(0.6 0.6)"/>
<path d="M538.5,124.5 Q535.6,121.2 539.7,119.7" fill="none" stroke="#c4c4c4" stroke-width="0.8"/>
<path d="M538.5,124.5 Q535.6,121.2 539.7,119.7" fill="none" stroke="#5e5e5e" stroke-width="0.35" transform="translate(0.6 0.6)"/>
<path d="M544.0,124.7 Q541.8,123.2 543.9,121.7" fill="none" stroke="#c4c4c4" stroke-width="0.8"/>
<path d="M544.0,124.7 Q541.8,123.2 543.9,121.7" fill="none" stroke="#5e5e5e" stroke-width="0.35" transform="translate(0.6 0.6)"/>
<path d="M548.0,121.7 Q551.0,122.9 548.8,125.3" fill="none" stroke="#c4c4c4" stroke-width="0.8"/>
<path d="M548.0,121.7 Q551.0,122.9 548.8,125.3" fill="none" stroke="#5e5e5e" stroke-width="0.35" transform="translate(0.6 0.6)"/>
<path d="M555.8,121.7 Q557.5,125.8 553.0,126.0" fill="none" stroke="#c4c4c4" stroke-width="0.8"/>
<path d="M555.8,121.7 Q557.5,125.8 553.0,126.0" fill="none" stroke="#5e5e5e" stroke-width="0.35" transform="translate(0.6 0.6)"/>
<path d="M558.9,123.4 Q558.9,127.1 555.5,125.9" fill="none" stroke="#c4c4c4" stroke-width="0.8"/>
<path d="M558.9,123.4 Q558.9,127.1 555.5,125.9" fill="none" stroke="#5e5e5e" stroke-width="0.35" transform="translate(0.6 0.6)"/>
<path d="M560.9,124.3 Q559.3,121.7 562.2,121.2" fill="none" stroke="#c4c4c4" stroke-width="0.8"/>
<path d="M560.9,124.3 Q559.3,121.7 562.2,121.2" fill="none" stroke="#5e5e5e" stroke-width="0.35" transform="translate(0.6 0.6)"/>
<path d="M568.4,123.4 Q565.8,126.6 563.7,123.1" fill="none" stroke="#c4c4c4" stroke-width="0.8"/>
<path d="M568.4,123.4 Q565.8,126.6 563.7,123.1" fill="none" stroke="#5e5e5e" stroke-width="0.35" transform="translate(0.6 0.6)"/>
<path d="M570.6,121.6 Q572.4,123.4 570.1,124.5" fill="none" stroke="#c4c4c4" stroke-width="0.8"/>
<path d="M570.6,121.6 Q572.4,123.4 570.1,124.5" fill="none" stroke="#5e5e5e" stroke-width="0.35" transform="translate(0.6 0.6)"/>
<path d="M570.8,123.4 Q570.0,120.7 572.8,120.9" fill="none" stroke="#c4c4c4" stroke-width="0.8"/>
<path d="M570.8,123.4 Q570.0,120.7 572.8,120.9" fill="none" stroke="#5e5e5e" stroke-width="0.35" transform="translate(0.6 0.6)"/>
<path d="M538.8,126.8 Q537.7,129.4 535.6,127.4" fill="none" stroke="#c4c4c4" stroke-width="0.8"/>
<path d="M538.8,126.8 Q537.7,129.4 535.6,127.4" fill="none" stroke="#5e5e5e" stroke-width="0.35" transform="translate(0.6 0.6)"/>
<path d="M543.7,125.0 Q545.5,128.3 541.8,128.9" fill="none" stroke="#c4c4c4" stroke-width="0.8"/>
<path d="M543.7,125.0 Q545.5,128.3 541.8,128.9" fill="none" stroke="#5e5e5e" stroke-width="0.35" transform="translate(0.6 0.6)"/>
<path d="M545.9,124.6 Q547.9,127.0 545.0,128.0" fill="none" stroke="#c4c4c4" stroke-width="0.8"/>
<path d="M545.9,124.6 Q547.9,127.0 545.0,128.0" fill="none" stroke="#5e5e5e" stroke-width="0.35" transform="translate(0.6 0.6)"/>
<path d="M549.3,124.0 Q551.6,124.9 550.0,126.8" fill="none" stroke="#c4c4c4" stroke-width="0.8"/>
<path d="M549.3,124.0 Q551.6,124.9 550.0,126.8" fill="none" stroke="#5e5e5e" stroke-width="0.35" transform="translate(0.6 0.6)"/>
<path d="M555.8,127.2 Q554.4,130.7 551.7,128.2" fill="none" stroke="#c4c4c4" stroke-width="0.8"/>
<path d="M555.8,127.2 Q554.4,130.7 551.7,128.2" fill="none" stroke="#5e5e5e" stroke-width="0.35" transform="translate(0.6 0.6)"/>
<path d="M555.8,125.8 Q557.9,123.6 559.2,126.3" fill="none" stroke="#c4c4c4" stroke-width="0.8"/>
<path d="M555.8,125.8 Q557.9,123.6 559.2,126.3" fill="none" stroke="#5e5e5e" stroke-width="0.35" transform="translate(0.6 0.6)"/>
<path d="M562.1,126.0 Q563.1,128.5 560.3,128.5" fill="none" stroke="#c4c4c4" stroke-width="0.8"/>
<path d="M562.1,126.0 Q563.1,128.5 560.3,128.5" fill="none" stroke="#5e5e5e" stroke-width="0.35" transform="translate(0.6 0.6)"/>
<path d="M565.8,125.5 Q564.5,128.6 562.0,126.3" fill="none" stroke="#c4c4c4" stroke-width="0.8"/>
<path d="M565.8,125.5 Q564.5,128.6 562.0,126.3" fill="none" stroke="#5e5e5e" stroke-width="0.35" transform="translate(0.6 0.6)"/>
<path d="M567.0,125.4 Q569.5,124.4 569.5,127.1" fill="none" stroke="#c4c4c4" stroke-width="0.8"/>
<path d="M567.0,125.4 Q569.5,124.4 569.5,127.1" fill="none" stroke="#5e5e5e" stroke-width="0.35" transform="translate(0.6 0.6)"/>
<path d="M571.3,125.7 Q571.9,122.9 574.4,124.4" fill="none" stroke="#c4c4c4" stroke-width="0.8"/>
<path d="M571.3,125.7 Q571.9,122.9 574.4,124.4" fill="none" stroke="#5e5e5e" stroke-width="0.35" transform="translate(0.6 0.6)"/>
<path d="M574.3,127.1 Q572.3,123.6 576.1,122.9" fill="none" stroke="#c4c4c4" stroke-width="0.8"/>
<path d="M574.3,127.1 Q572.3,123.6 576.1,122.9" fill="none" stroke="#5e5e5e" stroke-width="0.35" transform="translate(0.6 0.6)"/>
<path d="M535.9,129.7 Q535.0,133.0 532.2,130.9" fill="none" stroke="#c4c4c4" stroke-width="0.8"/>
<path d="M535.9,129.7 Q535.0,133.0 532.2,130.9" fill="none" stroke="#5e5e5e" stroke-width="0.35" transform="translate(0.6 0.6)"/>
<path d="M536.8,131.7 Q532.9,132.6 533.4,128.7" fill="none" stroke="#c4c4c4" stroke-width="0.8"/>
<path d="M536.8,131.7 Q532.9,132.6 533.4,128.7" fill="none" stroke="#5e5e5e" stroke-width="0.35" transform="translate(0.6 0.6)"/>
<path d="M539.7,130.8 Q537.6,129.3 539.7,127.9" fill="none" stroke="#c4c4c4" stroke-width="0.8"/>
<path d="M539.7,130.8 Q537.6,129.3 539.7,127.9" fill="none" stroke="#5e5e5e" stroke-width="0.35" transform="translate(0.6 0.6)"/>
<path d="M546.2,127.5 Q547.4,130.4 544.3,130.5" fill="none" stroke="#c4c4c4" stroke-width="0.8"/>
<path d="M546.2,127.5 Q547.4,130.4 544.3,130.5" fill="none" stroke="#5e5e5e" stroke-width="0.35" transform="translate(0.6 0.6)"/>
<path d="M550.6,128.6 Q550.8,131.2 548.2,130.5" fill="none" stroke="#c4c4c4" stroke-width="0.8"/>
<path d="M550.6,128.6 Q550.8,131.2 548.2,130.5" fill="none" stroke="#5e5e5e" stroke-width="0.35" transform="translate(0.6 0.6)"/>
<path d="M553.0,126.3 Q557.5,126.9 555.4,130.9" fill="none" stroke="#c4c4c4" stroke-width="0.8"/>
<path d="M553.0,126.3 Q557.5,126.9 555.4,130.9" fill="none" stroke="#5e5e5e" stroke-width="0.35" transform="translate(0.6 0.6)"/>
<path d="M554.2,129.0 Q555.6,125.7 558.3,128.2" fill="none" stroke="#c4c4c4" stroke-width="0.8"/>
<path d="M554.2,129.0 Q555.6,125.7 558.3,128.2" fill="none" stroke="#5e5e5e" stroke-width="0.35" transform="translate(0.6 0.6)"/>
<path d="M561.6,129.3 Q561.3,132.5 558.5,131.2" fill="none" stroke="#c4c4c4" stroke-width="0.8"/>
<path d="M561.6,129.3 Q561.3,132.5 558.5,131.2" fill="none" stroke="#5e5e5e" stroke-width="0.35" transform="translate(0.6 0.6)"/>
<path d="M565.7,131.0 Q563.6,132.6 562.9,130.1" fill="none" stroke="#c4c4c4" stroke-width="0.8"/>
<path d="M565.7,131.0 Q563.6,132.6 562.9,130.1" fill="none" stroke="#5e5e5e" stroke-width="0.35" transform="translate(0.6 0.6)"/>
<path d="M567.8,127.5 Q571.1,128.5 569.0,131.2" fill="none" stroke="#c4c4c4" stroke-width="0.8"/>
<path d="M567.8,127.5 Q571.1,128.5 569.0,131.2" fill="none" stroke="#5e5e5e" stroke-width="0.35" transform="translate(0.6 0.6)"/>
<path d="M572.1,126.4 Q575.2,125.0 575.4,128.4" fill="none" stroke="#c4c4c4" stroke-width="0.8"/>
<path d="M572.1,126.4 Q575.2,125.0 575.4,128.4" fill="none" stroke="#5e5e5e" stroke-width="0.35" transform="translate(0.6 0.6)"/>
<path d="M575.6,129.8 Q574.5,127.1 577.4,127.0" fill="none" stroke="#c4c4c4" stroke-width="0.8"/>
<path d="M575.6,129.8 Q574.5,127.1 577.4,127.0" fill="none" stroke="#5e5e5e" stroke-width="0.35" transform="translate(0.6 0.6)"/>
<path d="M532.2,132.9 Q532.1,130.0 534.9,130.9" fill="none" stroke="#c4c4c4" stroke-width="0.8"/>
<path d="M532.2,132.9 Q532.1,130.0 534.9,130.9" fill="none" stroke="#5e5e5e" stroke-width="0.35" transform="translate(0.6 0.6)"/>
<path d="M534.8,129.9 Q538.7,127.8 539.4,132.2" fill="none" stroke="#c4c4c4" stroke-width="0.8"/>
<path d="M534.8,129.9 Q538.7,127.8 539.4,132.2" fill="none" stroke="#5e5e5e" stroke-width="0.35" transform="translate(0.6 0.6)"/>
<path d="M537.3,132.1 Q538.1,128.2 541.5,130.2" fill="none" stroke="#c4c4c4" stroke-width="0.8"/>
<path d="M537.3,132.1 Q538.1,128.2 541.5,130.2" fill="none" stroke="#5e5e5e" stroke-width="0.35" transform="translate(0.6 0.6)"/>
<path d="M544.4,130.8 Q547.9,128.7 548.7,132.7" fill="none" stroke="#c4c4c4" stroke-width="0.8"/>
<path d="M544.4,130.8 Q547.9,128.7 548.7,132.7" fill="none" stroke="#5e5e5e" stroke-width="0.35" transform="translate(0.6 0.6)"/>
<path d="M548.7,130.5 Q552.6,130.1 551.6,133.9" fill="none" stroke="#c4c4c4" stroke-width="0.8"/>
<path d="M548.7,130.5 Q552.6,130.1 551.6,133.9" fill="none" stroke="#5e5e5e" stroke-width="0.35" transform="translate(0.6 0.6)"/>
<path d="M550.5,134.3 Q548.8,131.0 552.5,130.5" fill="none" stroke="#c4c4c4" stroke-width="0.8"/>
<path d="M550.5,134.3 Q548.8,131.0 552.5,130.5" fill="none" stroke="#5e5e5e" stroke-width="0.35" transform="translate(0.6 0.6)"/>
<path d="M559.5,132.8 Q559.1,135.2 556.9,134.0" fill="none" stroke="#c4c4c4" stroke-width="0.8"/>
<path d="M559.5,132.8 Q559.1,135.2 556.9,134.0" fill="none" stroke="#5e5e5e" stroke-width="0.35" transform="translate(0.6 0.6)"/>
<path d="M559.1,132.7 Q557.9,130.2 560.7,130.0" fill="none" stroke="#c4c4c4" stroke-width="0.8"/>
<path d="M559.1,132.7 Q557.9,130.2 560.7,130.0" fill="none" stroke="#5e5e5e" stroke-width="0.35" transform="translate(0.6 0.6)"/>
<path d="M564.3,133.7 Q560.5,131.4 564.1,128.7" fill="none" stroke="#c4c4c4" stroke-width="0.8"/>
<path d="M564.3,133.7 Q560.5,131.4 564.1,128.7" fill="none" stroke="#5e5e5e" stroke-width="0.35" transform="translate(0.6 0.6)"/>
<path d="M571.9,133.6 Q568.3,136.4 567.0,132.1" fill="none" stroke="#c4c4c4" stroke-width="0.8"/>
<path d="M571.9,133.6 Q568.3,136.4 567.0,132.1" fill="none" stroke="#5e5e5e" stroke-width="0.35" transform="translate(0.6 0.6)"/>
<path d="M572.4,133.4 Q569.7,130.8 573.1,129.1" fill="none" stroke="#c4c4c4" stroke-width="0.8"/>
<path d="M572.4,133.4 Q569.7,130.8 573.1,129.1" fill="none" stroke="#5e5e5e" stroke-width="0.35" transform="translate(0.6 0.6)"/>
<path d="M579.4,130.9 Q579.6,134.1 576.6,133.2" fill="none" stroke="#c4c4c4" stroke-width="0.8"/>
<path d="M579.4,130.9 Q579.6,134.1 576.6,133.2" fill="none" stroke="#5e5e5e" stroke-width="0.35" transform="translate(0.6 0.6)"/>
<path d="M581.6,134.6 Q578.0,136.1 577.9,132.2" fill="none" stroke="#c4c4c4" stroke-width="0.8"/>
<path d="M581.6,134.6 Q578.0,136.1 577.9,132.2" fill="none" stroke="#5e5e5e" stroke-width="0.35" transform="translate(0.6 0.6)"/>
<path d="M534.3,134.0 Q534.8,137.4 531.4,136.7" fill="none" stroke="#c4c4c4" stroke-width="0.8"/>
<path d="M534.3,134.0 Q534.8,137.4 531.4,136.7" fill="none" stroke="#5e5e5e" stroke-width="0.35" transform="translate(0.6 0.6)"/>
<path d="M536.5,136.9 Q533.9,135.8 535.9,133.8" fill="none" stroke="#c4c4c4" stroke-width="0.8"/>
<path d="M536.5,136.9 Q533.9,135.8 535.9,133.8" fill="none" stroke="#5e5e5e" stroke-width="0.35" transform="translate(0.6 0.6)"/>
<path d="M541.7,137.1 Q537.3,137.8 538.2,133.4" fill="none" stroke="#c4c4c4" stroke-width="0.8"/>
<path d="M541.7,137.1 Q537.3,137.8 538.2,133.4" fill="none" stroke="#5e5e5e" stroke-width="0.35" transform="translate(0.6 0.6)"/>
<path d="M545.8,134.7 Q546.5,138.5 542.6,137.8" fill="none" stroke="#c4c4c4" stroke-width="0.8"/>
<path d="M545.8,134.7 Q546.5,138.5 542.6,137.8" fill="none" stroke="#5e5e5e" stroke-width="0.35" transform="translate(0.6 0.6)"/>
<path d="M549.8,135.6 Q548.0,138.9 545.5,136.1" fill="none" stroke="#c4c4c4" stroke-width="0.8"/>
<path d="M549.8,135.6 Q548.0,138.9 545.5,136.1" fill="none" stroke="#5e5e5e" stroke-width="0.35" transform="translate(0.6 0.6)"/>
<path d="M555.8,134.6 Q554.8,138.0 551.9,135.9" fill="none" stroke="#c4c4c4" stroke-width="0.8"/>
<path d="M555.8,134.6 Q554.8,138.0 551.9,135.9" fill="none" stroke="#5e5e5e" stroke-width="0.35" transform="translate(0.6 0.6)"/>
<path d="M553.2,135.4 Q553.0,131.0 557.2,132.3" fill="none" stroke="#c4c4c4" stroke-width="0.8"/>
<path d="M553.2,135.4 Q553.0,131.0 557.2,132.3" fill="none" stroke="#5e5e5e" stroke-width="0.35" transform="translate(0.6 0.6)"/>
<path d="M561.3,131.8 Q565.0,133.8 561.8,136.5" fill="none" stroke="#c4c4c4" stroke-width="0.8"/>
<path d="M561.3,131.8 Q565.0,133.8 561.8,136.5" fill="none" stroke="#5e5e5e" stroke-width="0.35" transform="translate(0.6 0.6)"/>
<path d="M565.9,136.0 Q562.6,136.5 563.3,133.2" fill="none" stroke="#c4c4c4" stroke-width="0.8"/>
<path d="M565.9,136.0 Q562.6,136.5 563.3,133.2" fill="none" stroke="#5e5e5e" stroke-width="0.35" transform="translate(0.6 0.6)"/>
<path d="M570.0,132.0 Q573.6,134.3 570.2,136.8" fill="none" stroke="#c4c4c4" stroke-width="0.8"/>
<path d="M570.0,132.0 Q573.6,134.3 570.2,136.8" fill="none" stroke="#5e5e5e" stroke-width="0.35" transform="translate(0.6 0.6)"/>
<path d="M576.5,136.0 Q575.3,139.5 572.5,137.1" fill="none" stroke="#c4c4c4" stroke-width="0.8"/>
<path d="M576.5,136.0 Q575.3,139.5 572.5,137.1" fill="none" stroke="#5e5e5e" stroke-width="0.35" transform="translate(0.6 0.6)"/>
<path d="M575.7,133.3 Q579.6,134.2 577.5,137.6" fill="none" stroke="#c4c4c4" stroke-width="0.8"/>
<path d="M575.7,133.3 Q579.6,134.2 577.5,137.6" fill="none" stroke="#5e5e5e" stroke-width="0.35" transform="translate(0.6 0.6)"/>
<path d="M581.0,132.0 Q584.0,134.3 580.8,136.3" fill="none" stroke="#c4c4c4" stroke-width="0.8"/>
<path d="M581.0,132.0 Q584.0,134.3 580.8,136.3" fill="none" stroke="#5e5e5e" stroke-width="0.35" transform="translate(0.6 0.6)"/>
<path d="M533.7,139.6 Q530.7,138.5 532.8,136.1" fill="none" stroke="#c4c4c4" stroke-width="0.8"/>
<path d="M533.7,139.6 Q530.7,138.5 532.8,136.1" fill="none" stroke="#5e5e5e" stroke-width="0.35" transform="translate(0.6 0.6)"/>
<path d="M537.6,137.2 Q538.8,139.6 536.2,139.8" fill="none" stroke="#c4c4c4" stroke-width="0.8"/>
<path d="M537.6,137.2 Q538.8,139.6 536.2,139.8" fill="none" stroke="#5e5e5e" stroke-width="0.35" transform="translate(0.6 0.6)"/>
<path d="M538.9,136.5 Q541.7,135.8 541.3,138.7" fill="none" stroke="#c4c4c4" stroke-width="0.8"/>
<path d="M538.9,136.5 Q541.7,135.8 541.3,138.7" fill="none" stroke="#5e5e5e" stroke-width="0.35" transform="translate(0.6 0.6)"/>
<path d="M546.4,137.6 Q544.8,140.7 542.4,138.2" fill="none" stroke="#c4c4c4" stroke-width="0.8"/>
<path d="M546.4,137.6 Q544.8,140.7 542.4,138.2" fill="none" stroke="#5e5e5e" stroke-width="0.35" transform="translate(0.6 0.6)"/>
<path d="M550.4,139.7 Q547.9,140.6 548.0,137.9" fill="none" stroke="#c4c4c4" stroke-width="0.8"/>
<path d="M550.4,139.7 Q547.9,140.6 548.0,137.9" fill="none" stroke="#5e5e5e" stroke-width="0.35" transform="translate(0.6 0.6)"/>
<path d="M552.3,139.4 Q551.0,135.7 554.9,135.8" fill="none" stroke="#c4c4c4" stroke-width="0.8"/>
<path d="M552.3,139.4 Q551.0,135.7 554.9,135.8" fill="none" stroke="#5e5e5e" stroke-width="0.35" transform="translate(0.6 0.6)"/>
<path d="M560.0,139.3 Q557.2,142.4 555.2,138.7" fill="none" stroke="#c4c4c4" stroke-width="0.8"/>
<path d="M560.0,139.3 Q557.2,142.4 555.2,138.7" fill="none" stroke="#5e5e5e" stroke-width="0.35" transform="translate(0.6 0.6)"/>
<path d="M558.8,138.8 Q556.5,136.1 559.9,134.9" fill="none" stroke="#c4c4c4" stroke-width="0.8"/>
<path d="M558.8,138.8 Q556.5,136.1 559.9,134.9" fill="none" stroke="#5e5e5e" stroke-width="0.35" transform="translate(0.6 0.6)"/>
<path d="M564.8,135.3 Q568.3,135.2 567.2,138.5" fill="none" stroke="#c4c4c4" stroke-width="0.8"/>
<path d="M564.8,135.3 Q568.3,135.2 567.2,138.5" fill="none" stroke="#5e5e5e" stroke-width="0.35" transform="translate(0.6 0.6)"/>
<path d="M568.9,136.2 Q572.5,138.6 569.0,141.2" fill="none" stroke="#c4c4c4" stroke-width="0.8"/>
<path d="M568.9,136.2 Q572.5,138.6 569.0,141.2" fill="none" stroke="#5e5e5e" stroke-width="0.35" transform="translate(0.6 0.6)"/>
<path d="M574.0,134.8 Q578.0,136.5 575.0,139.7" fill="none" stroke="#c4c4c4" stroke-width="0.8"/>
<path d="M574.0,134.8 Q578.0,136.5 575.0,139.7" fill="none" stroke="#5e5e5e" stroke-width="0.35" transform="translate(0.6 0.6)"/>
<path d="M579.1,138.4 Q578.9,141.7 575.9,140.4" fill="none" stroke="#c4c4c4" stroke-width="0.8"/>
<path d="M579.1,138.4 Q578.9,141.7 575.9,140.4" fill="none" stroke="#5e5e5e" stroke-width="0.35" transform="translate(0.6 0.6)"/>
<path d="M536.3,140.2 Q538.8,139.0 539.0,141.8" fill="none" stroke="#c4c4c4" stroke-width="0.8"/>
<path d="M536.3,140.2 Q538.8,139.0 539.0,141.8" fill="none" stroke="#5e5e5e" stroke-width="0.35" transform="translate(0.6 0.6)"/>
<path d="M543.6,139.9 Q545.0,142.4 542.1,142.8" fill="none" stroke="#c4c4c4" stroke-width="0.8"/>
<path d="M543.6,139.9 Q545.0,142.4 542.1,142.8" fill="none" stroke="#5e5e5e" stroke-width="0.35" transform="translate(0.6 0.6)"/>
<path d="M546.9,138.7 Q550.6,140.2 547.9,143.2" fill="none" stroke="#c4c4c4" stroke-width="0.8"/>
<path d="M546.9,138.7 Q550.6,140.2 547.9,143.2" fill="none" stroke="#5e5e5e" stroke-width="0.35" transform="translate(0.6 0.6)"/>
<path d="M551.9,141.7 Q549.6,144.1 548.2,141.2" fill="none" stroke="#c4c4c4" stroke-width="0.8"/>
<path d="M551.9,141.7 Q549.6,144.1 548.2,141.2" fill="none" stroke="#5e5e5e" stroke-width="0.35" transform="translate(0.6 0.6)"/>
<path d="M552.8,139.3 Q555.4,141.2 552.7,142.9" fill="none" stroke="#c4c4c4" stroke-width="0.8"/>
<path d="M552.8,139.3 Q555.4,141.2 552.7,142.9" fill="none" stroke="#5e5e5e" stroke-width="0.35" transform="translate(0.6 0.6)"/>
<path d="M553.9,141.1 Q553.0,137.5 556.7,137.9" fill="none" stroke="#c4c4c4" stroke-width="0.8"/>
<path d="M553.9,141.1 Q553.0,137.5 556.7,137.9" fill="none" stroke="#5e5e5e" stroke-width="0.35" transform="translate(0.6 0.6)"/>
<path d="M560.0,142.9 Q557.3,142.9 558.2,140.4" fill="none" stroke="#c4c4c4" stroke-width="0.8"/>
<path d="M560.0,142.9 Q557.3,142.9 558.2,140.4" fill="none" stroke="#5e5e5e" stroke-width="0.35" transform="translate(0.6 0.6)"/>
<path d="M568.0,139.7 Q569.4,142.9 565.9,143.2" fill="none" stroke="#c4c4c4" stroke-width="0.8"/>
<path d="M568.0,139.7 Q569.4,142.9 565.9,143.2" fill="none" stroke="#5e5e5e" stroke-width="0.35" transform="translate(0.6 0.6)"/>
<path d="M565.8,141.6 Q564.9,137.9 568.7,138.3" fill="none" stroke="#c4c4c4" stroke-width="0.8"/>
<path d="M565.8,141.6 Q564.9,137.9 568.7,138.3" fill="none" stroke="#5e5e5e" stroke-width="0.35" transform="translate(0.6 0.6)"/>
<path d="M572.7,140.0 Q575.5,138.9 575.6,141.9" fill="none" stroke="#c4c4c4" stroke-width="0.8"/>
<path d="M572.7,140.0 Q575.5,138.9 575.6,141.9" fill="none" stroke="#5e5e5e" stroke-width="0.35" transform="translate(0.6 0.6)"/>
<path d="M574.9,140.9 Q575.5,137.9 578.1,139.4" fill="none" stroke="#c4c4c4" stroke-width="0.8"/>
<path d="M574.9,140.9 Q575.5,137.9 578.1,139.4" fill="none" stroke="#5e5e5e" stroke-width="0.35" transform="translate(0.6 0.6)"/>
<path d="M539.7,144.4 Q539.1,147.6 536.3,145.9" fill="none" stroke="#c4c4c4" stroke-width="0.8"/>
<path d="M539.7,144.4 Q539.1,147.6 536.3,145.9" fill="none" stroke="#5e5e5e" stroke-width="0.35" transform="translate(0.6 0.6)"/>
<path d="M539.5,141.1 Q543.0,140.0 542.8,143.7" fill="none" stroke="#c4c4c4" stroke-width="0.8"/>
<path d="M539.5,141.1 Q543.0,140.0 542.8,143.7" fill="none" stroke="#5e5e5e" stroke-width="0.35" transform="translate(0.6 0.6)"/>
<path d="M545.8,146.7 Q542.9,147.0 543.6,144.1" fill="none" stroke="#c4c4c4" stroke-width="0.8"/>
<path d="M545.8,146.7 Q542.9,147.0 543.6,144.1" fill="none" stroke="#5e5e5e" stroke-width="0.35" transform="translate(0.6 0.6)"/>
<path d="M548.1,144.8 Q548.5,142.3 550.7,143.4" fill="none" stroke="#c4c4c4" stroke-width="0.8"/>
<path d="M548.1,144.8 Q548.5,142.3 550.7,143.4" fill="none" stroke="#5e5e5e" stroke-width="0.35" transform="translate(0.6 0.6)"/>
<path d="M550.5,144.7 Q551.3,141.3 554.2,143.2" fill="none" stroke="#c4c4c4" stroke-width="0.8"/>
<path d="M550.5,144.7 Q551.3,141.3 554.2,143.2" fill="none" stroke="#5e5e5e" stroke-width="0.35" transform="translate(0.6 0.6)"/>
<path d="M554.7,142.9 Q557.7,140.3 559.1,144.0" fill="none" stroke="#c4c4c4" stroke-width="0.8"/>
<path d="M554.7,142.9 Q557.7,140.3 559.1,144.0" fill="none" stroke="#5e5e5e" stroke-width="0.35" transform="translate(0.6 0.6)"/>
<path d="M560.8,145.8 Q559.3,143.3 562.2,142.7" fill="none" stroke="#c4c4c4" stroke-width="0.8"/>
<path d="M560.8,145.8 Q559.3,143.3 562.2,142.7" fill="none" stroke="#5e5e5e" stroke-width="0.35" transform="translate(0.6 0.6)"/>
<path d="M567.4,143.8 Q568.0,146.6 565.2,146.2" fill="none" stroke="#c4c4c4" stroke-width="0.8"/>
<path d="M567.4,143.8 Q568.0,146.6 565.2,146.2" fill="none" stroke="#5e5e5e" stroke-width="0.35" transform="translate(0.6 0.6)"/>
<path d="M571.7,145.7 Q569.7,148.0 568.2,145.3" fill="none" stroke="#c4c4c4" stroke-width="0.8"/>
<path d="M571.7,145.7 Q569.7,148.0 568.2,145.3" fill="none" stroke="#5e5e5e" stroke-width="0.35" transform="translate(0.6 0.6)"/>
<path d="M574.3,141.7 Q576.5,143.7 573.8,145.1" fill="none" stroke="#c4c4c4" stroke-width="0.8"/>
<path d="M574.3,141.7 Q576.5,143.7 573.8,145.1" fill="none" stroke="#5e5e5e" stroke-width="0.35" transform="translate(0.6 0.6)"/>
<path d="M577.9,145.3 Q575.0,145.2 576.1,142.6" fill="none" stroke="#c4c4c4" stroke-width="0.8"/>
<path d="M577.9,145.3 Q575.0,145.2 576.1,142.6" fill="none" stroke="#5e5e5e" stroke-width="0.35" transform="translate(0.6 0.6)"/>
<path d="M539.2,144.2 Q542.5,143.9 541.7,147.1" fill="none" stroke="#c4c4c4" stroke-width="0.8"/>
<path d="M539.2,144.2 Q542.5,143.9 541.7,147.1" fill="none" stroke="#5e5e5e" stroke-width="0.35" transform="translate(0.6 0.6)"/>
<path d="M543.0,146.5 Q545.3,145.6 545.4,148.1" fill="none" stroke="#c4c4c4" stroke-width="0.8"/>
<path d="M543.0,146.5 Q545.3,145.6 545.4,148.1" fill="none" stroke="#5e5e5e" stroke-width="0.35" transform="translate(0.6 0.6)"/>
<path d="M547.7,147.9 Q547.2,144.5 550.7,145.3" fill="none" stroke="#c4c4c4" stroke-width="0.8"/>
<path d="M547.7,147.9 Q547.2,144.5 550.7,145.3" fill="none" stroke="#5e5e5e" stroke-width="0.35" transform="translate(0.6 0.6)"/>
<path d="M552.9,145.0 Q556.2,143.2 556.7,147.0" fill="none" stroke="#c4c4c4" stroke-width="0.8"/>
<path d="M552.9,145.0 Q556.2,143.2 556.7,147.0" fill="none" stroke="#5e5e5e" stroke-width="0.35" transform="translate(0.6 0.6)"/>
<path d="M556.7,144.4 Q560.3,145.4 558.1,148.5" fill="none" stroke="#c4c4c4" stroke-width="0.8"/>
<path d="M556.7,144.4 Q560.3,145.4 558.1,148.5" fill="none" stroke="#5e5e5e" stroke-width="0.35" transform="translate(0.6 0.6)"/>
<path d="M561.3,149.5 Q557.2,149.2 558.9,145.5" fill="none" stroke="#c4c4c4" stroke-width="0.8"/>
<path d="M561.3,149.5 Q557.2,149.2 558.9,145.5" fill="none" stroke="#5e5e5e" stroke-width="0.35" transform="translate(0.6 0.6)"/>
<path d="M561.8,147.8 Q561.7,144.9 564.5,145.8" fill="none" stroke="#c4c4c4" stroke-width="0.8"/>
<path d="M561.8,147.8 Q561.7,144.9 564.5,145.8" fill="none" stroke="#5e5e5e" stroke-width="0.35" transform="translate(0.6 0.6)"/>
<path d="M571.1,148.3 Q568.6,150.7 567.2,147.6" fill="none" stroke="#c4c4c4" stroke-width="0.8"/>
<path d="M571.1,148.3 Q568.6,150.7 567.2,147.6" fill="none" stroke="#5e5e5e" stroke-width="0.35" transform="translate(0.6 0.6)"/>
<path d="M571.1,149.3 Q568.7,147.2 571.5,145.7" fill="none" stroke="#c4c4c4" stroke-width="0.8"/>
<path d="M571.1,149.3 Q568.7,147.2 571.5,145.7" fill="none" stroke="#5e5e5e" stroke-width="0.35" transform="translate(0.6 0.6)"/>
<path d="M549.2,151.4 Q545.6,150.7 547.5,147.6" fill="none" stroke="#c4c4c4" stroke-width="0.8"/>
<path d="M549.2,151.4 Q545.6,150.7 547.5,147.6" fill="none" stroke="#5e5e5e" stroke-width="0.35" transform="translate(0.6 0.6)"/>
<path d="M549.5,148.2 Q552.3,145.1 554.3,148.7" fill="none" stroke="#c4c4c4" stroke-width="0.8"/>
<path d="M549.5,148.2 Q552.3,145.1 554.3,148.7" fill="none" stroke="#5e5e5e" stroke-width="0.35" transform="translate(0.6 0.6)"/>
<path d="M559.0,150.4 Q558.1,153.4 555.6,151.5" fill="none" stroke="#c4c4c4" stroke-width="0.8"/>
<path d="M559.0,150.4 Q558.1,153.4 555.6,151.5" fill="none" stroke="#5e5e5e" stroke-width="0.35" transform="translate(0.6 0.6)"/>
<path d="M558.9,152.8 Q556.4,149.5 560.3,148.3" fill="none" stroke="#c4c4c4" stroke-width="0.8"/>
<path d="M558.9,152.8 Q556.4,149.5 560.3,148.3" fill="none" stroke="#5e5e5e" stroke-width="0.35" transform="translate(0.6 0.6)"/>
<path d="M565.5,148.4 Q567.3,152.1 563.2,152.5" fill="none" stroke="#c4c4c4" stroke-width="0.8"/>
<path d="M565.5,148.4 Q567.3,152.1 563.2,152.5" fill="none" stroke="#5e5e5e" stroke-width="0.35" transform="translate(0.6 0.6)"/>
<path d="M570.7,148.6 Q571.3,151.2 568.7,150.9" fill="none" stroke="#c4c4c4" stroke-width="0.8"/>
<path d="M570.7,148.6 Q571.3,151.2 568.7,150.9" fill="none" stroke="#5e5e5e" stroke-width="0.35" transform="translate(0.6 0.6)"/>
<path d="M555.0,154.3 Q552.7,150.7 556.9,149.8" fill="none" stroke="#c4c4c4" stroke-width="0.8"/>
<path d="M555.0,154.3 Q552.7,150.7 556.9,149.8" fill="none" stroke="#5e5e5e" stroke-width="0.35" transform="translate(0.6 0.6)"/>
<path d="M533,150 C542,147 552,147 562,148 C568,148.5 574,147 578,144" fill="none" stroke="#555" stroke-width="0.6"/>
<text x="538.3" y="129.6" font-size="7.0" text-anchor="middle" fill="#111" font-weight="bold" transform="rotate(-22 538.3 129.6)" dominant-baseline="central" >SFS</text>
<text x="540.6" y="135.6" font-size="7.0" text-anchor="middle" fill="#111" font-weight="bold" transform="rotate(-22 540.6 135.6)" dominant-baseline="central" >IFS</text>
<path d="M544,126.5 C548,125 552,126 556,124" fill="none" stroke="#111" stroke-width="0.6"/>
<path d="M545.5,133 C548,132.5 550,133.5 553,132" fill="none" stroke="#111" stroke-width="0.6"/>
<text x="558.0" y="35.0" font-size="7.2" text-anchor="end" fill="#1a1a1a" stroke="#1a1a1a" stroke-width="0.1" dominant-baseline="central" >Superior</text>
<line x1="558.30" y1="36.00" x2="566.50" y2="38.90" stroke="#333" stroke-width="0.5" />
<text x="540.4" y="53.6" font-size="7.2" text-anchor="middle" fill="#222" stroke="#222" stroke-width="0.1" dominant-baseline="central" >SFS</text>
<text x="535.6" y="72.8" font-size="7.2" text-anchor="middle" fill="#222" stroke="#222" stroke-width="0.1" dominant-baseline="central" >IFS</text>
<text x="525.3" y="92.4" font-size="7.2" text-anchor="middle" fill="#222" stroke="#222" stroke-width="0.1" dominant-baseline="central" >Inferior</text>
<line x1="631.00" y1="20.50" x2="697.50" y2="20.50" stroke="#cfcfcf" stroke-width="0.6" />
<text x="629.0" y="20.5" font-size="7.3" text-anchor="end" fill="#1a1a1a" stroke="#1a1a1a" stroke-width="0.1" dominant-baseline="central" >Superior</text>
<line x1="631.00" y1="20.50" x2="632.80" y2="20.50" stroke="#333" stroke-width="0.6" />
<line x1="631.00" y1="67.10" x2="697.50" y2="67.10" stroke="#cfcfcf" stroke-width="0.6" />
<text x="629.0" y="67.1" font-size="7.3" text-anchor="end" fill="#1a1a1a" stroke="#1a1a1a" stroke-width="0.1" dominant-baseline="central" >SFS</text>
<line x1="631.00" y1="67.10" x2="632.80" y2="67.10" stroke="#333" stroke-width="0.6" />
<line x1="631.00" y1="112.60" x2="697.50" y2="112.60" stroke="#cfcfcf" stroke-width="0.6" />
<text x="629.0" y="112.6" font-size="7.3" text-anchor="end" fill="#1a1a1a" stroke="#1a1a1a" stroke-width="0.1" dominant-baseline="central" >IFS</text>
<line x1="631.00" y1="112.60" x2="632.80" y2="112.60" stroke="#333" stroke-width="0.6" />
<line x1="631.00" y1="159.20" x2="697.50" y2="159.20" stroke="#cfcfcf" stroke-width="0.6" />
<text x="629.0" y="159.2" font-size="7.3" text-anchor="end" fill="#1a1a1a" stroke="#1a1a1a" stroke-width="0.1" dominant-baseline="central" >Inferior</text>
<line x1="631.00" y1="159.20" x2="632.80" y2="159.20" stroke="#333" stroke-width="0.6" />
<line x1="639.20" y1="20.50" x2="639.20" y2="159.20" stroke="#cfcfcf" stroke-width="0.6" />
<text x="639.2" y="165.5" font-size="7.5" text-anchor="middle" fill="#1a1a1a" stroke="#1a1a1a" stroke-width="0.1" dominant-baseline="central" >T12</text>
<line x1="656.00" y1="20.50" x2="656.00" y2="159.20" stroke="#cfcfcf" stroke-width="0.6" />
<text x="656.0" y="165.5" font-size="7.5" text-anchor="middle" fill="#1a1a1a" stroke="#1a1a1a" stroke-width="0.1" dominant-baseline="central" >T15</text>
<line x1="672.40" y1="20.50" x2="672.40" y2="159.20" stroke="#cfcfcf" stroke-width="0.6" />
<text x="672.4" y="165.5" font-size="7.5" text-anchor="middle" fill="#1a1a1a" stroke="#1a1a1a" stroke-width="0.1" dominant-baseline="central" >T16</text>
<line x1="689.30" y1="20.50" x2="689.30" y2="159.20" stroke="#cfcfcf" stroke-width="0.6" />
<text x="689.3" y="165.5" font-size="7.5" text-anchor="middle" fill="#1a1a1a" stroke="#1a1a1a" stroke-width="0.1" dominant-baseline="central" >T17</text>
<line x1="631.00" y1="20.00" x2="631.00" y2="159.60" stroke="#333" stroke-width="0.8" />
<line x1="631.00" y1="159.20" x2="697.50" y2="159.20" stroke="#333" stroke-width="0.8" />
<rect x="633.00" y="107.00" width="12.00" height="11.50" fill="#3cbfca" />
<rect x="633.00" y="130.00" width="12.00" height="11.60" fill="#d12a2e" />
<rect x="650.00" y="84.00" width="12.00" height="10.70" fill="#5a3fa6" />
<rect x="650.00" y="94.70" width="12.00" height="12.80" fill="#3cbfca" />
<rect x="650.00" y="116.00" width="12.00" height="12.00" fill="#5ab83a" />
<rect x="650.00" y="130.00" width="12.00" height="11.60" fill="#d12a2e" />
<rect x="666.30" y="55.80" width="12.30" height="17.20" fill="#b04fb8" />
<text x="672.4" y="60.7" font-size="8.4" text-anchor="middle" fill="#fff" stroke="#fff" stroke-width="0.1" dominant-baseline="central" >X</text>
<text x="672.4" y="67.8" font-size="8.4" text-anchor="middle" fill="#fff" stroke="#fff" stroke-width="0.1" dominant-baseline="central" >X</text>
<rect x="666.80" y="89.00" width="11.20" height="10.80" fill="#1d6b3c" />
<text x="672.4" y="94.7" font-size="8.4" text-anchor="middle" fill="#fff" stroke="#fff" stroke-width="0.1" dominant-baseline="central" >X</text>
<rect x="666.30" y="139.50" width="12.30" height="11.50" fill="#d12a2e" />
<rect x="683.20" y="91.60" width="12.00" height="19.00" fill="#5a3fa6" />
<text x="689.3" y="96.5" font-size="8.4" text-anchor="middle" fill="#fff" stroke="#fff" stroke-width="0.1" dominant-baseline="central" >X</text>
<text x="689.3" y="104.5" font-size="8.4" text-anchor="middle" fill="#fff" stroke="#fff" stroke-width="0.1" dominant-baseline="central" >X</text>
<rect x="683.20" y="114.00" width="12.00" height="16.60" fill="#3cbfca" />
<line x1="685.50" y1="121.50" x2="693.00" y2="121.50" stroke="#7fb8c0" stroke-width="0.6" stroke-dasharray="0.8 0.8"/>
<text x="595.8" y="96.4" font-size="7.6" text-anchor="middle" fill="#1a1a1a" stroke="#1a1a1a" stroke-width="0.1" textLength="114" lengthAdjust="spacingAndGlyphs" transform="rotate(-90 595.8 96.4)" dominant-baseline="central" >Array location on precentral gyrus</text>
<line x1="709.00" y1="88.30" x2="730.80" y2="88.30" stroke="#b04fb8" stroke-width="2.2" />
<text x="733.4" y="88.3" font-size="7.5" text-anchor="start" fill="#1a1a1a" stroke="#1a1a1a" stroke-width="0.1" dominant-baseline="central" >6d</text>
<line x1="709.00" y1="96.50" x2="730.80" y2="96.50" stroke="#5a3fa6" stroke-width="2.2" />
<text x="733.4" y="96.5" font-size="7.5" text-anchor="start" fill="#1a1a1a" stroke="#1a1a1a" stroke-width="0.1" dominant-baseline="central" >55b</text>
<line x1="709.00" y1="105.00" x2="730.80" y2="105.00" stroke="#1d6b3c" stroke-width="2.2" />
<text x="733.4" y="105.0" font-size="7.5" text-anchor="start" fill="#1a1a1a" stroke="#1a1a1a" stroke-width="0.1" dominant-baseline="central" >PEF</text>
<line x1="709.00" y1="113.40" x2="730.80" y2="113.40" stroke="#3cbfca" stroke-width="2.2" />
<text x="733.4" y="113.4" font-size="7.5" text-anchor="start" fill="#1a1a1a" stroke="#1a1a1a" stroke-width="0.1" dominant-baseline="central" >s6v</text>
<line x1="709.00" y1="122.10" x2="730.80" y2="122.10" stroke="#5ab83a" stroke-width="2.2" />
<text x="733.4" y="122.1" font-size="7.5" text-anchor="start" fill="#1a1a1a" stroke="#1a1a1a" stroke-width="0.1" dominant-baseline="central" >4</text>
<line x1="709.00" y1="130.60" x2="730.80" y2="130.60" stroke="#d12a2e" stroke-width="2.2" />
<text x="733.4" y="130.6" font-size="7.5" text-anchor="start" fill="#1a1a1a" stroke="#1a1a1a" stroke-width="0.1" dominant-baseline="central" >i6v</text>
<text x="617.9" y="180.5" font-size="6.6" text-anchor="middle" fill="#222" stroke="#222" stroke-width="0.1" textLength="178.7" lengthAdjust="spacingAndGlyphs" dominant-baseline="central" >SFS = Superior Frontal Sulcus, IFS = Inferior Frontal Sulcus</text>
<text x="29.9" y="237.2" font-size="7.0" text-anchor="middle" fill="#333" stroke="#333" stroke-width="0.1" dominant-baseline="central" >T12-i6v</text>
<text x="29.9" y="246.8" font-size="7.0" text-anchor="middle" fill="#333" stroke="#333" stroke-width="0.1" dominant-baseline="central" >(ch. 53)</text>
<clipPath id="clipD00"><rect x="80.00" y="226.20" width="67.00" height="36.10"/></clipPath>
<g clip-path="url(#clipD00)">
<defs><path id="tr000" d="M80.0 259.5l1.2-4.1 1.1-2.9 1.2-0.8 1.2-1 1.1-0.7 1.2-0.5 1.2 0.5 1.1 0.3 1.2 0.6 1.2 1 1.1-0.2 1.2-0.2 1.2-1.2 1.1 1 1.2 0.8 1.2 0.5 1.1-0.9 1.2-1.2 1.2-0.7 1.1-0.7 1.2 0.2 1.2-0.5 1.1-0.2 1.2-0.7 1.2-1.4 1.1-0.4 1.2-0.4 1.2 2 1.1 1.8 1.2 1.9 1.2 0.8 1.1 0.4 1.2 0.9 1.2 1.2 1.1 1.5 1.2 1.1 1.2 0 1.1 0.6 1.2 0.2 1.2 0.6 1.1 0.4 1.2 0.1 1.2-0.4 1.1 0.3 1.2 0.1 1.2 0.6 1.1-0.6 1.2-0.5 1.2-0.1 1.1 0.2 1.2-0.2 1.2-0.5 1.1-1.2 1.2-0.4 1.2 0.1 1.1 0.3 1.2 1.2" fill="none" stroke="#2b3a9e" stroke-linejoin="round"/></defs><use href="#tr000" stroke-width="3.8" opacity="0.24"/>
<defs><path id="tr001" d="M80.0 259.7l1.2-3.2 1.1-3.4 1.2-0.7 1.2-0.4 1.1 1.5 1.2 0.7 1.2 0.3 1.1-1.9 1.2-1.4 1.2 0.6 1.1 1.5 1.2-0.1 1.2-0.7 1.1-0.8 1.2-0.4 1.2-0.9 1.1-0.7 1.2 0.2 1.2 0.2 1.1-0.9 1.2-0.4 1.2-0.2 1.1 0.1 1.2-0.1 1.2-1.8 1.1-1.1 1.2-0.7 1.2 2.4 1.1 2 1.2 1.1 1.2 1 1.1 0.9 1.2 1.1 1.2 0.7 1.1-0.2 1.2 0.8 1.2 0 1.1 1.1 1.2 0.3 1.2 0.1 1.1-0.2 1.2 0.7 1.2 0.3 1.1 0.2 1.2-0.3 1.2 0.3 1.1 0.1 1.2-0.7 1.2-0.1 1.1 1.1 1.2 0.8 1.2-0.2 1.1-0.4 1.2-0.7 1.2 0.4 1.1-0.7 1.2 1.3" fill="none" stroke="#2166cc" stroke-linejoin="round"/></defs><use href="#tr001" stroke-width="3.3" opacity="0.24"/>
<defs><path id="tr002" d="M80.0 259.1l1.2-4.5 1.1-3 1.2 0 1.2 1.3 1.1 1.2 1.2 0.7 1.2 0.2 1.1 0.1 1.2-0.1 1.2-0.3 1.1-0.2 1.2-1.3 1.2-0.3 1.1-0.3 1.2 0.3 1.2-0.5 1.1-1.2 1.2-0.4 1.2-0.5 1.1-0.6 1.2 0.8 1.2 0.3 1.1 0.3 1.2-2.6 1.2-2 1.1-0.6 1.2 0.2 1.2 1.1 1.1 1.4 1.2 0.4 1.2 1.2 1.1 1.4 1.2 2.4 1.2 1.3 1.1 0.3 1.2 1.7 1.2 0.5 1.1-0.2 1.2-0.6 1.2-0.1 1.1 0.2 1.2-0.9 1.2-0.7 1.1 1.4 1.2 0.6 1.2 0.9 1.1-1 1.2-0.7 1.2 1.2 1.1-0.2 1.2 1.2 1.2-1.5 1.1 1.2 1.2-0.7 1.2-0.2 1.1-0.6 1.2 0" fill="none" stroke="#33c1cf" stroke-linejoin="round"/></defs><use href="#tr002" stroke-width="3.8" opacity="0.24"/>
<defs><path id="tr003" d="M80.0 259.1l1.2-4.9 1.1-4.4 1.2-0.5 1.2 0.5 1.1 2.4 1.2-0.2 1.2 1.2 1.1-1.1 1.2-0.6 1.2-0.8 1.1-0.8 1.2 0.7 1.2 0.5 1.1-0.2 1.2-0.5 1.2-0.4 1.1 0.7 1.2-1.3 1.2-1.1 1.1-1.7 1.2 0.6 1.2-0.1 1.1 0.6 1.2-2.1 1.2-2.7 1.1-2.5 1.2-3.9 1.2-4.3 1.1-2.5 1.2 0.6 1.2-0.5 1.1 0.3 1.2 1.2 1.2 3.4 1.1 3 1.2 3 1.2 4.6 1.1 2.9 1.2 3.3 1.2 0.8 1.1 1.5 1.2 1.6 1.2 0.7 1.1 0.2 1.2-0.2 1.2 0 1.1 0.3 1.2 1.3 1.2 1 1.1 0.8 1.2-1.4 1.2-0.3 1.1-0.5 1.2 0.4 1.2-0.2 1.1-0.3 1.2-0.5" fill="none" stroke="#4fbf45" stroke-linejoin="round"/></defs><use href="#tr003" stroke-width="2.8" opacity="0.24"/>
<defs><path id="tr004" d="M80.0 258.4l1.2-5 1.1-2.8 1.2 0 1.2 3.1 1.1 1.8 1.2 1.8 1.2-1.8 1.1-0.6 1.2-1.8 1.2-0.2 1.1-1.2 1.2-0.1 1.2-0.5 1.1-1 1.2-0.5 1.2-0.3 1.1 0.2 1.2 0 1.2 0.7 1.1 0.5 1.2-0.9 1.2-0.2 1.1-0.5 1.2-1.5 1.2-3.3 1.1-1.7 1.2 0 1.2 1 1.1 1.7 1.2 2.3 1.2 2 1.1 0.9 1.2 1.3 1.2 1.5 1.1 1.6 1.2 1.1 1.2 0.2 1.1 0.5 1.2-0.5 1.2 1.2 1.1-0.5 1.2 0.6 1.2-0.1 1.1 0 1.2-0.1 1.2 0.3 1.1 0.8 1.2-0.1 1.2-0.8 1.1-0.7 1.2-0.1 1.2-0.4 1.1 0.3 1.2-0.2 1.2 0 1.1 0.1 1.2 1.7" fill="none" stroke="#d4d417" stroke-linejoin="round"/></defs><use href="#tr004" stroke-width="2.8" opacity="0.24"/>
<defs><path id="tr005" d="M80.0 258.6l1.2-3.9 1.1-4.2 1.2-0.2 1.2 0.4 1.1 0.8 1.2-0.2 1.2-0.4 1.1-0.2 1.2-1 1.2-0.5 1.1-0.1 1.2 0 1.2 0 1.1-0.1 1.2-1.1 1.2-0.3 1.1-0.1 1.2 0.7 1.2 0 1.1-0.7 1.2-0.8 1.2-0.2 1.1 0 1.2-2.8 1.2-3.2 1.1-3.3 1.2-1.1 1.2-4.4 1.1-1.9 1.2-2.7 1.2 0.1 1.1 0.7 1.2 2 1.2 3.6 1.1 3.5 1.2 5.5 1.2 3 1.1 3 1.2 2 1.2 2 1.1 1.9 1.2 1.3 1.2-0.3 1.1 0.2 1.2 0.8 1.2-0.8 1.1-0.5 1.2 0.2 1.2 1.8 1.1-0.3 1.2-0.9 1.2-1.5 1.1 0.5 1.2 0.9 1.2 0.8 1.1 1.4 1.2 0.1" fill="none" stroke="#e0782f" stroke-linejoin="round"/></defs><use href="#tr005" stroke-width="3.3" opacity="0.24"/>
<defs><path id="tr006" d="M80.0 260.5l1.2-5.8 1.1-5.2 1.2-1.4 1.2 0.8 1.1 1.6 1.2 0.5 1.2-0.7 1.1-1 1.2-1 1.2-0.5 1.1-0.9 1.2-0.8 1.2-0.6 1.1-0.1 1.2-0.2 1.2 0.1 1.1 0.4 1.2-0.4 1.2-1 1.1-1.2 1.2-0.2 1.2-0.3 1.1-0.1 1.2-0.7 1.2-1.6 1.1-1 1.2-0.9 1.2 1.5 1.1 2.3 1.2 2.3 1.2 0.1 1.1 0.6 1.2 2 1.2 2.6 1.1 0.5 1.2 0.1 1.2 0.4 1.1 0.3 1.2 0.6 1.2 0.6 1.1 0.9 1.2-0.1 1.2-0.1 1.1 0 1.2 1.5 1.2 0.8 1.1 0.3 1.2-0.2 1.2-0.4 1.1 0.2 1.2-0.4 1.2 0.7 1.1-0.8 1.2 0.1 1.2 0.1 1.1 1.3 1.2-0.4" fill="none" stroke="#dc1f1f" stroke-linejoin="round"/></defs><use href="#tr006" stroke-width="2.8" opacity="0.24"/>
<use href="#tr000" stroke-width="1.25"/>
<use href="#tr001" stroke-width="1.25"/>
<use href="#tr002" stroke-width="1.25"/>
<use href="#tr003" stroke-width="1.25"/>
<use href="#tr004" stroke-width="1.25"/>
<use href="#tr005" stroke-width="1.5"/>
<use href="#tr006" stroke-width="1.5"/>
</g>
<line x1="106.60" y1="226.20" x2="106.60" y2="262.30" stroke="#111" stroke-width="1.0" stroke-dasharray="3 2.4"/>
<line x1="80.00" y1="226.20" x2="80.00" y2="262.30" stroke="#3a3a3a" stroke-width="0.8" />
<line x1="80.00" y1="262.30" x2="146.50" y2="262.30" stroke="#3a3a3a" stroke-width="0.8" />
<line x1="80.00" y1="226.12" x2="81.40" y2="226.12" stroke="#3a3a3a" stroke-width="0.6" />
<text x="77.1" y="226.1" font-size="7.4" text-anchor="end" fill="#1a1a1a" stroke="#1a1a1a" stroke-width="0.1" dominant-baseline="central" >150</text>
<line x1="80.00" y1="235.15" x2="81.40" y2="235.15" stroke="#3a3a3a" stroke-width="0.6" />
<text x="77.1" y="235.1" font-size="7.4" text-anchor="end" fill="#1a1a1a" stroke="#1a1a1a" stroke-width="0.1" dominant-baseline="central" >100</text>
<line x1="80.00" y1="244.17" x2="81.40" y2="244.17" stroke="#3a3a3a" stroke-width="0.6" />
<text x="77.1" y="244.2" font-size="7.4" text-anchor="end" fill="#1a1a1a" stroke="#1a1a1a" stroke-width="0.1" dominant-baseline="central" >50</text>
<line x1="80.00" y1="253.20" x2="81.40" y2="253.20" stroke="#3a3a3a" stroke-width="0.6" />
<text x="77.1" y="253.2" font-size="7.4" text-anchor="end" fill="#1a1a1a" stroke="#1a1a1a" stroke-width="0.1" dominant-baseline="central" >0</text>
<line x1="80.00" y1="262.22" x2="81.40" y2="262.22" stroke="#3a3a3a" stroke-width="0.6" />
<text x="77.1" y="262.2" font-size="7.4" text-anchor="end" fill="#1a1a1a" stroke="#1a1a1a" stroke-width="0.1" dominant-baseline="central" >-50</text>
<line x1="80.00" y1="262.30" x2="80.00" y2="260.90" stroke="#3a3a3a" stroke-width="0.6" />
<text x="80.0" y="268.3" font-size="7.4" text-anchor="middle" fill="#1a1a1a" stroke="#1a1a1a" stroke-width="0.1" dominant-baseline="central" >-2</text>
<line x1="106.60" y1="262.30" x2="106.60" y2="260.90" stroke="#3a3a3a" stroke-width="0.6" />
<text x="106.6" y="268.3" font-size="7.4" text-anchor="middle" fill="#1a1a1a" stroke="#1a1a1a" stroke-width="0.1" dominant-baseline="central" >0</text>
<line x1="133.20" y1="262.30" x2="133.20" y2="260.90" stroke="#3a3a3a" stroke-width="0.6" />
<text x="133.2" y="268.3" font-size="7.4" text-anchor="middle" fill="#1a1a1a" stroke="#1a1a1a" stroke-width="0.1" dominant-baseline="central" >2</text>
<clipPath id="clipD01"><rect x="167.30" y="226.20" width="67.00" height="36.10"/></clipPath>
<g clip-path="url(#clipD01)">
<defs><path id="tr010" d="M167.3 257.0l1.2-0.6 1.1 0.5 1.2-0.2 1.2-0.7 1.1-1.6 1.2-0.8 1.2-0.3 1.1-0.4 1.2-0.3 1.2-0.5 1.1 0 1.2 0 1.2-0.5 1.1 0.3 1.2-0.1 1.2 0.1 1.1 0 1.2-0.3 1.2 0.7 1.1-0.6 1.2-0.7 1.2-1.4 1.1-0.6 1.2-0.2 1.2 0.1 1.1-1.2 1.2 0 1.2-0.5 1.1 2.2 1.2 1.3 1.2 2.2 1.1 0.2 1.2 0.4 1.2 0.6 1.1 0.6 1.2 0.4 1.2 0.1 1.1 1.1 1.2 0.9 1.2-0.3 1.1 0 1.2-0.4 1.2-0.3 1.1-0.8 1.2-0.1 1.2-0.5 1.1-0.1 1.2 1.1 1.2 1.1 1.1 1.2 1.2 0 1.2 0 1.1-0.4 1.2-0.6 1.2 0.8 1.1 0.8 1.2 0.3" fill="none" stroke="#2b3a9e" stroke-linejoin="round"/></defs><use href="#tr010" stroke-width="3.8" opacity="0.24"/>
<defs><path id="tr011" d="M167.3 258.0l1.2-0.2 1.1-1 1.2-0.7 1.2-0.8 1.1 0.1 1.2-0.3 1.2 0.8 1.1-0.4 1.2-0.6 1.2-0.9 1.1-1 1.2-0.3 1.2-0.4 1.1 0 1.2 0 1.2-1 1.1-0.6 1.2-0.3 1.2 0.4 1.1 0.1 1.2-0.2 1.2-1.1 1.1-0.6 1.2-0.8 1.2-0.4 1.1-0.6 1.2 0.3 1.2 1 1.1 1.3 1.2 0.9 1.2 0.6 1.1 1 1.2 1 1.2-0.4 1.1 0.6 1.2-0.5 1.2 1.3 1.1-0.5 1.2 1.8 1.2 0.5 1.1 0.6 1.2-1.3 1.2-1.3 1.1 0 1.2-0.2 1.2 0.9 1.1-0.3 1.2 0.5 1.2 0.5 1.1 0.3 1.2 0.8 1.2-0.5 1.1 0.8 1.2-0.6 1.2-0.3 1.1-0.3 1.2 0.2" fill="none" stroke="#2166cc" stroke-linejoin="round"/></defs><use href="#tr011" stroke-width="3.3" opacity="0.24"/>
<defs><path id="tr012" d="M167.3 257.5l1.2 0.1 1.1-0.7 1.2-1.1 1.2 0.1 1.1-1 1.2-0.9 1.2-0.8 1.1 0.3 1.2 0.6 1.2-1 1.1 0.1 1.2-0.8 1.2 0.6 1.1-0.2 1.2-0.2 1.2-1 1.1-0.6 1.2 0.5 1.2 0 1.1-0.2 1.2-0.7 1.2-0.7 1.1-0.9 1.2-0.7 1.2-1.8 1.1-0.4 1.2-0.3 1.2 2.5 1.1 1.4 1.2 2.3 1.2-0.1 1.1 0.5 1.2 0.8 1.2 2.3 1.1 2 1.2-0.7 1.2-0.2 1.1-0.4 1.2 0.9 1.2 0 1.1 0.5 1.2 0 1.2 0.7 1.1-0.4 1.2-0.1 1.2-0.9 1.1 0.2 1.2 0.6 1.2 0.2 1.1 0.1 1.2-1.1 1.2-0.2 1.1-0.2 1.2 1 1.2 0.7 1.1 0.5 1.2-0.1" fill="none" stroke="#33c1cf" stroke-linejoin="round"/></defs><use href="#tr012" stroke-width="3.8" opacity="0.24"/>
<defs><path id="tr013" d="M167.3 256.2l1.2-1.3 1.1 0.1 1.2-0.3 1.2-0.8 1.1 0 1.2-0.2 1.2 0.7 1.1-1.5 1.2-0.9 1.2-0.2 1.1-0.5 1.2-0.2 1.2-0.8 1.1 0.9 1.2 0.2 1.2 0.2 1.1-0.7 1.2-0.1 1.2-0.6 1.1-0.5 1.2-1.2 1.2-0.6 1.1-1.1 1.2-1.5 1.2-2 1.1-1.7 1.2-2.9 1.2-4 1.1-1.3 1.2 1.8 1.2 2.2 1.1 3.5 1.2 3.3 1.2 2.4 1.1 1.7 1.2 1.9 1.2 2.4 1.1 0.3 1.2 0.8 1.2 0 1.1 1.4 1.2 0.4 1.2 0.7 1.1 0.7 1.2-0.6 1.2-0.3 1.1 0.1 1.2 0.4 1.2 0.5 1.1-1 1.2 0.2 1.2 0.7 1.1 0.3 1.2-0.5 1.2-0.4 1.1 0.5 1.2 1.4" fill="none" stroke="#4fbf45" stroke-linejoin="round"/></defs><use href="#tr013" stroke-width="2.8" opacity="0.24"/>
<defs><path id="tr014" d="M167.3 257.3l1.2-1.2 1.1-0.4 1.2-0.8 1.2 0 1.1-0.1 1.2 0.3 1.2-1 1.1-0.4 1.2 0.3 1.2-0.3 1.1-1 1.2-0.2 1.2-0.1 1.1 0 1.2-1.1 1.2-0.3 1.1-0.5 1.2 0.1 1.2-0.8 1.1-1 1.2-0.4 1.2-0.3 1.1 0.6 1.2-1.3 1.2-1.4 1.1-2 1.2 0.4 1.2 1.2 1.1 1.7 1.2 1.5 1.2 1.2 1.1 1.7 1.2 0.5 1.2 1.5 1.1 1.3 1.2 0.8 1.2-0.1 1.1-0.2 1.2-0.1 1.2 0.5 1.1 0.1 1.2 0.4 1.2 0.7 1.1 0.1 1.2 0.3 1.2-1.1 1.1-0.2 1.2-0.1 1.2 0.7 1.1-0.2 1.2-0.6 1.2 0.1 1.1-1 1.2 1.1 1.2-0.3 1.1 1.1 1.2-0.8" fill="none" stroke="#d4d417" stroke-linejoin="round"/></defs><use href="#tr014" stroke-width="2.8" opacity="0.24"/>
<defs><path id="tr015" d="M167.3 258.1l1.2-1.6 1.1-1.9 1.2-1.6 1.2-0.4 1.1-0.5 1.2 0.3 1.2-0.6 1.1-1.2 1.2 0.6 1.2-0.2 1.1 2 1.2-1.3 1.2-0.3 1.1-2.4 1.2-1 1.2-0.4 1.1 0.2 1.2 1 1.2 0.3 1.1 0 1.2-0.8 1.2-0.9 1.1-1 1.2-1.1 1.2-2.5 1.1-2.4 1.2-2.7 1.2-3.1 1.1-0.7 1.2 1.2 1.2 1.3 1.1 2.6 1.2 3.3 1.2 3 1.1 1.9 1.2 2 1.2 1.3 1.1 1.5 1.2 0 1.2 1.5 1.1 0.8 1.2 1.4 1.2-0.3 1.1-0.1 1.2-0.6 1.2 0.3 1.1 0 1.2-0.4 1.2 0.3 1.1 0.1 1.2 1.3 1.2 0 1.1-0.4 1.2-1.6 1.2-0.1 1.1 0.4 1.2-0.1" fill="none" stroke="#e0782f" stroke-linejoin="round"/></defs><use href="#tr015" stroke-width="3.3" opacity="0.24"/>
<defs><path id="tr016" d="M167.3 255.8l1.2-1.9 1.1-1.8 1.2 0.5 1.2-0.3 1.1 0.4 1.2-0.6 1.2-0.9 1.1-1.6 1.2-0.1 1.2 0.3 1.1 0.3 1.2-0.3 1.2-1.1 1.1-0.7 1.2-1 1.2-0.7 1.1 0.3 1.2-1 1.2 0.4 1.1-1.1 1.2 0 1.2-1.2 1.1-1.5 1.2-1.6 1.2-1.5 1.1-0.5 1.2 0.3 1.2 2.3 1.1 2.6 1.2 1.9 1.2 1.3 1.1 2 1.2 0.6 1.2 0 1.1 1.1 1.2 2 1.2 1.5 1.1-0.7 1.2 0.2 1.2 0.7 1.1 1.3 1.2 0.5 1.2-0.5 1.1 0.1 1.2 0.6 1.2 0.5 1.1 0.4 1.2-0.4 1.2 0.1 1.1-1.2 1.2 0.1 1.2 0.1 1.1 0.3 1.2-0.4 1.2-0.2 1.1-0.3 1.2-0.4" fill="none" stroke="#dc1f1f" stroke-linejoin="round"/></defs><use href="#tr016" stroke-width="2.8" opacity="0.24"/>
<use href="#tr010" stroke-width="1.25"/>
<use href="#tr011" stroke-width="1.25"/>
<use href="#tr012" stroke-width="1.25"/>
<use href="#tr013" stroke-width="1.25"/>
<use href="#tr014" stroke-width="1.25"/>
<use href="#tr015" stroke-width="1.5"/>
<use href="#tr016" stroke-width="1.5"/>
</g>
<line x1="193.90" y1="226.20" x2="193.90" y2="262.30" stroke="#111" stroke-width="1.0" stroke-dasharray="3 2.4"/>
<line x1="167.30" y1="226.20" x2="167.30" y2="262.30" stroke="#3a3a3a" stroke-width="0.8" />
<line x1="167.30" y1="262.30" x2="233.80" y2="262.30" stroke="#3a3a3a" stroke-width="0.8" />
<line x1="167.30" y1="226.12" x2="168.70" y2="226.12" stroke="#3a3a3a" stroke-width="0.6" />
<text x="164.4" y="226.1" font-size="7.4" text-anchor="end" fill="#1a1a1a" stroke="#1a1a1a" stroke-width="0.1" dominant-baseline="central" >150</text>
<line x1="167.30" y1="235.15" x2="168.70" y2="235.15" stroke="#3a3a3a" stroke-width="0.6" />
<text x="164.4" y="235.1" font-size="7.4" text-anchor="end" fill="#1a1a1a" stroke="#1a1a1a" stroke-width="0.1" dominant-baseline="central" >100</text>
<line x1="167.30" y1="244.17" x2="168.70" y2="244.17" stroke="#3a3a3a" stroke-width="0.6" />
<text x="164.4" y="244.2" font-size="7.4" text-anchor="end" fill="#1a1a1a" stroke="#1a1a1a" stroke-width="0.1" dominant-baseline="central" >50</text>
<line x1="167.30" y1="253.20" x2="168.70" y2="253.20" stroke="#3a3a3a" stroke-width="0.6" />
<text x="164.4" y="253.2" font-size="7.4" text-anchor="end" fill="#1a1a1a" stroke="#1a1a1a" stroke-width="0.1" dominant-baseline="central" >0</text>
<line x1="167.30" y1="262.22" x2="168.70" y2="262.22" stroke="#3a3a3a" stroke-width="0.6" />
<text x="164.4" y="262.2" font-size="7.4" text-anchor="end" fill="#1a1a1a" stroke="#1a1a1a" stroke-width="0.1" dominant-baseline="central" >-50</text>
<line x1="167.30" y1="262.30" x2="167.30" y2="260.90" stroke="#3a3a3a" stroke-width="0.6" />
<text x="167.3" y="268.3" font-size="7.4" text-anchor="middle" fill="#1a1a1a" stroke="#1a1a1a" stroke-width="0.1" dominant-baseline="central" >-2</text>
<line x1="193.90" y1="262.30" x2="193.90" y2="260.90" stroke="#3a3a3a" stroke-width="0.6" />
<text x="193.9" y="268.3" font-size="7.4" text-anchor="middle" fill="#1a1a1a" stroke="#1a1a1a" stroke-width="0.1" dominant-baseline="central" >0</text>
<line x1="220.50" y1="262.30" x2="220.50" y2="260.90" stroke="#3a3a3a" stroke-width="0.6" />
<text x="220.5" y="268.3" font-size="7.4" text-anchor="middle" fill="#1a1a1a" stroke="#1a1a1a" stroke-width="0.1" dominant-baseline="central" >2</text>
<clipPath id="clipD02"><rect x="255.30" y="226.20" width="67.00" height="36.10"/></clipPath>
<g clip-path="url(#clipD02)">
<defs><path id="tr020" d="M255.3 254.9l1.2-0.4 1.1 0.7 1.2-2.2 1.2-0.3 1.1-1.4 1.2 0.5 1.2 0.2 1.1-0.3 1.2 0.2 1.2 0.2 1.1 0.1 1.2-0.7 1.2-0.1 1.1-0.4 1.2 0.3 1.2-1.2 1.1 0 1.2-0.6 1.2 0.2 1.1-0.3 1.2 0.8 1.2-0.4 1.1 1 1.2 0.2 1.2 0.2 1.1 0.2 1.2 0.8 1.2 2 1.1 1.1 1.2 0.4 1.2-0.4 1.1 0 1.2 0.3 1.2 0.7 1.1-0.2 1.2 0.6 1.2 0.5 1.1 0.3 1.2 0 1.2 0 1.1 0.8 1.2 0.2 1.2-0.3 1.1-0.4 1.2 0.5 1.2 0.2 1.1 0.1 1.2-0.2 1.2-0.1 1.1 0.1 1.2-0.4 1.2 0 1.1-0.9 1.2 0.1 1.2 0.1 1.1 1 1.2-1.5" fill="none" stroke="#2b3a9e" stroke-linejoin="round"/></defs><use href="#tr020" stroke-width="3.8" opacity="0.24"/>
<defs><path id="tr021" d="M255.3 255.9l1.2-1.8 1.1-1.7 1.2-0.1 1.2 0.2 1.1 0.5 1.2-1.3 1.2 0 1.1-0.8 1.2-0.1 1.2 0.4 1.1 0.6 1.2 0.7 1.2-1.4 1.1 0.5 1.2-1 1.2-0.2 1.1-0.4 1.2 0.6 1.2 1.3 1.1-0.6 1.2-1 1.2-0.4 1.1 0.2 1.2 0.4 1.2-0.2 1.1 2 1.2 1 1.2 0.4 1.1-0.9 1.2 0 1.2 2.1 1.1 0.8 1.2 0.6 1.2-2 1.1 0.8 1.2 0.6 1.2 1.4 1.1-0.6 1.2 0.2 1.2-0.3 1.1 0.9 1.2-0.2 1.2 0.9 1.1-0.3 1.2 0.5 1.2 0.5 1.1-0.4 1.2-0.5 1.2-0.6 1.1 0.4 1.2-0.5 1.2 0.1 1.1 0.1 1.2 0.1 1.2-0.9 1.1 0 1.2 1.2" fill="none" stroke="#2166cc" stroke-linejoin="round"/></defs><use href="#tr021" stroke-width="3.3" opacity="0.24"/>
<defs><path id="tr022" d="M255.3 255.2l1.2-0.2 1.1-0.9 1.2-0.5 1.2 0 1.1 0.3 1.2-0.1 1.2-0.3 1.1 0.1 1.2-0.6 1.2 0.3 1.1-1 1.2 0.7 1.2-0.9 1.1-0.4 1.2-0.7 1.2 0.4 1.1 0.5 1.2-0.1 1.2 0.4 1.1 0.3 1.2-0.1 1.2-0.6 1.1-0.3 1.2-0.2 1.2-0.5 1.1-0.2 1.2 0.2 1.2 0.6 1.1 0.7 1.2 0.6 1.2 0.2 1.1 0.2 1.2 0.9 1.2 0.2 1.1 0.1 1.2-0.1 1.2 0.1 1.1 0 1.2-0.1 1.2-0.7 1.1 1.8 1.2 0.3 1.2 2 1.1-1.4 1.2-1.2 1.2 0.4 1.1 0.5 1.2 1 1.2-1 1.1-0.2 1.2 1.3 1.2-0.6 1.1 0.1 1.2-1.1 1.2 0.6 1.1-0.1 1.2 0.2" fill="none" stroke="#33c1cf" stroke-linejoin="round"/></defs><use href="#tr022" stroke-width="3.8" opacity="0.24"/>
<defs><path id="tr023" d="M255.3 256.2l1.2-1.3 1.1-1.9 1.2-2.7 1.2-0.1 1.1-0.1 1.2-0.2 1.2-0.5 1.1-0.7 1.2-0.6 1.2 0.5 1.1 1.4 1.2 0.5 1.2-1.3 1.1-1.4 1.2-0.1 1.2 0.9 1.1 0.7 1.2-0.2 1.2 0.1 1.1 0.4 1.2 0.9 1.2-1.7 1.1-1.7 1.2-0.1 1.2 1.7 1.1 1 1.2 0.2 1.2-0.8 1.1 0.3 1.2 0.3 1.2 0.2 1.1 0.3 1.2-0.4 1.2 0.8 1.1 0.1 1.2 0.3 1.2 0.6 1.1 1.1 1.2 1.6 1.2 0.6 1.1-0.1 1.2-0.7 1.2-0.3 1.1-0.3 1.2 0.1 1.2 0.6 1.1 0.8 1.2 1.1 1.2-0.2 1.1-0.4 1.2-1.2 1.2 0 1.1 0.4 1.2-0.2 1.2 0 1.1-0.4 1.2 0.3" fill="none" stroke="#4fbf45" stroke-linejoin="round"/></defs><use href="#tr023" stroke-width="2.8" opacity="0.24"/>
<defs><path id="tr024" d="M255.3 254.6l1.2-0.9 1.1-0.3 1.2-0.9 1.2-1.3 1.1-1.4 1.2-0.6 1.2 0.4 1.1 0.2 1.2-0.4 1.2-0.3 1.1 1.1 1.2 0.6 1.2 0.2 1.1-1.4 1.2-0.4 1.2 0.5 1.1 0.7 1.2 0.3 1.2-0.1 1.1-1 1.2 0 1.2-0.4 1.1-0.3 1.2-0.8 1.2-0.1 1.1 1.5 1.2 0.5 1.2-0.5 1.1-0.4 1.2-0.2 1.2 0.9 1.1 0.3 1.2 0.9 1.2 0 1.1-0.2 1.2 0.8 1.2 0.5 1.1 0.8 1.2-0.2 1.2 0.4 1.1 0 1.2-0.9 1.2-0.2 1.1 0.4 1.2 1.9 1.2-0.5 1.1 0.3 1.2-0.6 1.2 1.5 1.1 0.1 1.2 0.6 1.2-0.5 1.1-0.2 1.2-0.4 1.2-0.1 1.1 0.7 1.2-0.6" fill="none" stroke="#d4d417" stroke-linejoin="round"/></defs><use href="#tr024" stroke-width="2.8" opacity="0.24"/>
<defs><path id="tr025" d="M255.3 256.3l1.2-1.7 1.1-2.3 1.2-1.4 1.2-1.1 1.1-0.2 1.2-0.3 1.2-0.6 1.1-0.9 1.2 0 1.2 0.6 1.1 0.4 1.2-0.1 1.2-0.4 1.1-0.1 1.2 1 1.2 0.2 1.1 0.3 1.2-1.5 1.2 0.1 1.1-0.5 1.2-0.8 1.2 0.2 1.1 0.6 1.2 1.7 1.2 0.8 1.1 0.6 1.2-0.7 1.2-0.6 1.1 0.2 1.2 1 1.2-0.5 1.1-0.4 1.2-0.3 1.2 0.3 1.1-0.7 1.2-0.8 1.2 0 1.1 0.9 1.2 1.2 1.2 0 1.1-0.2 1.2 0.6 1.2 0.9 1.1 0.8 1.2 0.1 1.2 0.6 1.1 1 1.2 0.3 1.2 0.6 1.1-1.1 1.2-0.4 1.2-0.1 1.1-0.1 1.2-0.1 1.2 0.4 1.1-0.1 1.2 0.1" fill="none" stroke="#e0782f" stroke-linejoin="round"/></defs><use href="#tr025" stroke-width="3.3" opacity="0.24"/>
<defs><path id="tr026" d="M255.3 254.4l1.2-1.8 1.1-3.5 1.2-2 1.2-0.9 1.1 2 1.2 1.3 1.2 1.1 1.1-0.6 1.2-0.6 1.2-1 1.1-0.6 1.2-0.4 1.2 0.5 1.1 0.3 1.2-0.5 1.2-0.7 1.1-0.2 1.2 0.6 1.2-0.4 1.1 0.4 1.2-0.5 1.2 0.3 1.1-0.1 1.2 0.1 1.2 1.4 1.1-0.3 1.2 0.5 1.2 0.4 1.1 0.3 1.2 0.6 1.2-1.2 1.1 0.8 1.2-0.1 1.2 0.7 1.1 0.1 1.2 0 1.2 0.7 1.1-0.3 1.2 0.4 1.2-0.2 1.1 1.8 1.2-0.4 1.2 0.2 1.1-0.3 1.2 0.7 1.2 0 1.1-1 1.2 0.9 1.2 0 1.1 0.9 1.2-1.5 1.2 0.8 1.1-0.7 1.2 1 1.2 0 1.1-0.6 1.2-0.9" fill="none" stroke="#dc1f1f" stroke-linejoin="round"/></defs><use href="#tr026" stroke-width="2.8" opacity="0.24"/>
<use href="#tr020" stroke-width="1.25"/>
<use href="#tr021" stroke-width="1.25"/>
<use href="#tr022" stroke-width="1.25"/>
<use href="#tr023" stroke-width="1.25"/>
<use href="#tr024" stroke-width="1.25"/>
<use href="#tr025" stroke-width="1.5"/>
<use href="#tr026" stroke-width="1.5"/>
</g>
<line x1="281.90" y1="226.20" x2="281.90" y2="262.30" stroke="#111" stroke-width="1.0" stroke-dasharray="3 2.4"/>
<line x1="255.30" y1="226.20" x2="255.30" y2="262.30" stroke="#3a3a3a" stroke-width="0.8" />
<line x1="255.30" y1="262.30" x2="321.80" y2="262.30" stroke="#3a3a3a" stroke-width="0.8" />
<line x1="255.30" y1="226.12" x2="256.70" y2="226.12" stroke="#3a3a3a" stroke-width="0.6" />
<text x="252.4" y="226.1" font-size="7.4" text-anchor="end" fill="#1a1a1a" stroke="#1a1a1a" stroke-width="0.1" dominant-baseline="central" >150</text>
<line x1="255.30" y1="235.15" x2="256.70" y2="235.15" stroke="#3a3a3a" stroke-width="0.6" />
<text x="252.4" y="235.1" font-size="7.4" text-anchor="end" fill="#1a1a1a" stroke="#1a1a1a" stroke-width="0.1" dominant-baseline="central" >100</text>
<line x1="255.30" y1="244.17" x2="256.70" y2="244.17" stroke="#3a3a3a" stroke-width="0.6" />
<text x="252.4" y="244.2" font-size="7.4" text-anchor="end" fill="#1a1a1a" stroke="#1a1a1a" stroke-width="0.1" dominant-baseline="central" >50</text>
<line x1="255.30" y1="253.20" x2="256.70" y2="253.20" stroke="#3a3a3a" stroke-width="0.6" />
<text x="252.4" y="253.2" font-size="7.4" text-anchor="end" fill="#1a1a1a" stroke="#1a1a1a" stroke-width="0.1" dominant-baseline="central" >0</text>
<line x1="255.30" y1="262.22" x2="256.70" y2="262.22" stroke="#3a3a3a" stroke-width="0.6" />
<text x="252.4" y="262.2" font-size="7.4" text-anchor="end" fill="#1a1a1a" stroke="#1a1a1a" stroke-width="0.1" dominant-baseline="central" >-50</text>
<line x1="255.30" y1="262.30" x2="255.30" y2="260.90" stroke="#3a3a3a" stroke-width="0.6" />
<text x="255.3" y="268.3" font-size="7.4" text-anchor="middle" fill="#1a1a1a" stroke="#1a1a1a" stroke-width="0.1" dominant-baseline="central" >-2</text>
<line x1="281.90" y1="262.30" x2="281.90" y2="260.90" stroke="#3a3a3a" stroke-width="0.6" />
<text x="281.9" y="268.3" font-size="7.4" text-anchor="middle" fill="#1a1a1a" stroke="#1a1a1a" stroke-width="0.1" dominant-baseline="central" >0</text>
<line x1="308.50" y1="262.30" x2="308.50" y2="260.90" stroke="#3a3a3a" stroke-width="0.6" />
<text x="308.5" y="268.3" font-size="7.4" text-anchor="middle" fill="#1a1a1a" stroke="#1a1a1a" stroke-width="0.1" dominant-baseline="central" >2</text>
<clipPath id="clipD03"><rect x="343.30" y="226.20" width="67.00" height="36.10"/></clipPath>
<g clip-path="url(#clipD03)">
<defs><path id="tr030" d="M343.3 254.2l1.2 1.2 1.1 0.5 1.2-0.2 1.2-0.7 1.1-0.8 1.2-0.8 1.2-0.5 1.1 0 1.2-0.1 1.2-0.4 1.1-0.4 1.2-0.7 1.2 0.3 1.1 0.9 1.2-0.4 1.2-0.5 1.1-1.3 1.2 1.3 1.2 0.1 1.1 0.5 1.2-0.1 1.2 0.1 1.1-0.2 1.2-1 1.2-0.8 1.1 1.1 1.2 1.5 1.2 0.9 1.1-0.5 1.2-0.3 1.2 1.2 1.1 0.4 1.2 0.1 1.2-0.6 1.1 0.8 1.2 0.4 1.2 0.1 1.1 0.3 1.2 1.2 1.2 0.4 1.1-0.4 1.2-0.7 1.2-0.1 1.1 0.6 1.2 0.1 1.2 0.6 1.1-0.6 1.2-0.8 1.2-0.1 1.1-0.8 1.2 0 1.2-0.6 1.1 0.6 1.2-0.3 1.2 0.4 1.1 0.2 1.2 1.2" fill="none" stroke="#2b3a9e" stroke-linejoin="round"/></defs><use href="#tr030" stroke-width="3.8" opacity="0.24"/>
<defs><path id="tr031" d="M343.3 253.9l1.2-0.2 1.1 0.5 1.2-0.1 1.2 0.6 1.1-0.9 1.2 0 1.2-0.4 1.1 0.6 1.2 0 1.2-1.1 1.1-1.1 1.2 0.1 1.2-0.1 1.1-0.1 1.2-0.5 1.2 1 1.1 0.6 1.2-0.1 1.2-0.9 1.1-0.2 1.2 0.6 1.2 0.1 1.1 0.7 1.2-1.2 1.2 0.9 1.1-0.1 1.2 1.2 1.2 0.1 1.1-0.6 1.2-0.4 1.2-0.1 1.1 0.8 1.2 1.4 1.2 0.8 1.1 0.6 1.2-0.2 1.2-0.3 1.1 0.2 1.2-0.1 1.2 0.8 1.1 0.7 1.2-0.6 1.2-1 1.1-1 1.2 0.7 1.2 2 1.1 0 1.2-1 1.2-1.4 1.1-0.4 1.2-0.1 1.2-0.4 1.1 0.6 1.2 0.2 1.2 0.2 1.1 0.5 1.2 0.7" fill="none" stroke="#2166cc" stroke-linejoin="round"/></defs><use href="#tr031" stroke-width="3.3" opacity="0.24"/>
<defs><path id="tr032" d="M343.3 255.5l1.2-0.4 1.1 0.8 1.2-0.5 1.2-0.9 1.1-1.8 1.2 1.1 1.2-0.5 1.1-0.5 1.2-1.7 1.2 0.5 1.1 0.7 1.2 0.9 1.2-0.7 1.1-0.5 1.2-0.2 1.2 1 1.1 0 1.2 0.2 1.2-1 1.1 0.1 1.2-1 1.2-0.2 1.1 0.3 1.2 0.7 1.2-0.2 1.1 0.2 1.2 0.1 1.2 0.5 1.1-0.7 1.2 0.2 1.2 1.4 1.1 1.4 1.2 0.2 1.2-0.6 1.1-1.7 1.2 0.6 1.2-0.2 1.1 0.9 1.2 0.5 1.2 1 1.1 0.3 1.2-0.4 1.2-0.3 1.1-0.1 1.2 0.2 1.2-0.2 1.1 0.5 1.2-0.1 1.2 0 1.1-0.1 1.2-0.4 1.2-0.5 1.1-0.3 1.2 0.2 1.2 0.4 1.1 0.2 1.2-0.6" fill="none" stroke="#33c1cf" stroke-linejoin="round"/></defs><use href="#tr032" stroke-width="3.8" opacity="0.24"/>
<defs><path id="tr033" d="M343.3 254.7l1.2-0.6 1.1-0.8 1.2-0.2 1.2-1.6 1.1 0.2 1.2-1.5 1.2 1 1.1-0.6 1.2-0.3 1.2-0.7 1.1 0.4 1.2-0.6 1.2-0.3 1.1-0.1 1.2 1.4 1.2-0.3 1.1-0.4 1.2-0.5 1.2-0.6 1.1 0.2 1.2-0.1 1.2 0.1 1.1 0.4 1.2-0.2 1.2-0.1 1.1 0.3 1.2 1.2 1.2 1.5 1.1 0.4 1.2-0.5 1.2 0.6 1.1-0.9 1.2-0.3 1.2 0 1.1 0.5 1.2 1.8 1.2-1 1.1 0.4 1.2-0.6 1.2 0.5 1.1-0.4 1.2 0.2 1.2 0.2 1.1 0.6 1.2-0.1 1.2 0.7 1.1-0.2 1.2 1.1 1.2-0.3 1.1-0.8 1.2-0.8 1.2 0.4 1.1 0.9 1.2 0.5 1.2 0.3 1.1 0.5 1.2-0.7" fill="none" stroke="#4fbf45" stroke-linejoin="round"/></defs><use href="#tr033" stroke-width="2.8" opacity="0.24"/>
<defs><path id="tr034" d="M343.3 254.4l1.2 0.5 1.1-1 1.2-0.8 1.2-0.3 1.1 1.4 1.2 0.4 1.2-1.8 1.1-0.7 1.2-0.9 1.2 0.9 1.1-0.6 1.2-0.1 1.2 0.6 1.1 0.3 1.2-1 1.2-0.4 1.1-1 1.2 1.5 1.2-0.3 1.1 0.2 1.2-1.3 1.2 0.4 1.1-0.1 1.2 0.3 1.2 0 1.1 0.1 1.2 0.8 1.2 0.2 1.1 0.4 1.2 1.1 1.2-0.1 1.1 0.6 1.2-0.4 1.2 0.3 1.1-0.7 1.2-0.3 1.2-0.6 1.1 1.1 1.2 0.6 1.2 0.1 1.1-0.6 1.2-0.9 1.2 1.3 1.1-0.1 1.2 0.4 1.2-0.6 1.1 0.4 1.2-0.4 1.2 0.6 1.1 0.5 1.2 1.3 1.2-0.9 1.1-0.1 1.2-0.3 1.2 1 1.1-0.2 1.2 0.1" fill="none" stroke="#d4d417" stroke-linejoin="round"/></defs><use href="#tr034" stroke-width="2.8" opacity="0.24"/>
<defs><path id="tr035" d="M343.3 253.9l1.2-0.6 1.1-1.2 1.2-0.8 1.2-0.8 1.1-0.3 1.2-0.5 1.2 0.9 1.1 0.3 1.2 0.5 1.2-1.5 1.1 0.5 1.2-0.2 1.2 0.5 1.1-0.7 1.2-0.9 1.2-0.1 1.1-0.7 1.2 1.1 1.2 0.5 1.1-0.2 1.2-0.9 1.2-1.1 1.1 0.5 1.2 0 1.2 1 1.1-0.2 1.2 0.7 1.2-0.8 1.1 0.5 1.2 0.8 1.2 1.3 1.1-0.4 1.2-0.6 1.2-0.3 1.1 0.5 1.2 0.3 1.2 0.3 1.1 0.2 1.2-0.1 1.2-0.8 1.1 0.2 1.2-0.6 1.2 0 1.1-0.6 1.2 0.5 1.2 0.9 1.1 0.8 1.2 0.7 1.2 0.5 1.1 0.1 1.2 0.4 1.2-1.1 1.1-0.2 1.2 0 1.2 1.7 1.1 0.4 1.2 0" fill="none" stroke="#e0782f" stroke-linejoin="round"/></defs><use href="#tr035" stroke-width="3.3" opacity="0.24"/>
<defs><path id="tr036" d="M343.3 255.3l1.2-1.9 1.1-1.8 1.2-3.2 1.2-0.2 1.1-0.2 1.2 0.4 1.2-0.2 1.1-0.2 1.2 0.8 1.2 0.3 1.1-0.6 1.2-0.7 1.2-1.1 1.1 0.9 1.2 0.4 1.2 1.3 1.1-0.6 1.2 0.7 1.2-0.6 1.1-0.1 1.2-1.3 1.2 0.6 1.1-0.1 1.2 0.5 1.2-0.9 1.1 0.7 1.2-0.7 1.2-0.7 1.1 0.2 1.2 1.5 1.2 1.5 1.1-1 1.2-0.6 1.2 0.4 1.1 2.2 1.2 1 1.2-0.6 1.1-1.5 1.2 0 1.2 1.1 1.1 1.3 1.2 0.9 1.2-0.6 1.1 0.5 1.2-1.3 1.2 1.3 1.1 0.2 1.2 0.5 1.2-0.4 1.1-0.9 1.2 0.2 1.2 0.3 1.1 0.2 1.2-0.4 1.2 0.5 1.1-0.5 1.2 0.2" fill="none" stroke="#dc1f1f" stroke-linejoin="round"/></defs><use href="#tr036" stroke-width="2.8" opacity="0.24"/>
<use href="#tr030" stroke-width="1.25"/>
<use href="#tr031" stroke-width="1.25"/>
<use href="#tr032" stroke-width="1.25"/>
<use href="#tr033" stroke-width="1.25"/>
<use href="#tr034" stroke-width="1.25"/>
<use href="#tr035" stroke-width="1.5"/>
<use href="#tr036" stroke-width="1.5"/>
</g>
<line x1="369.90" y1="226.20" x2="369.90" y2="262.30" stroke="#111" stroke-width="1.0" stroke-dasharray="3 2.4"/>
<line x1="343.30" y1="226.20" x2="343.30" y2="262.30" stroke="#3a3a3a" stroke-width="0.8" />
<line x1="343.30" y1="262.30" x2="409.80" y2="262.30" stroke="#3a3a3a" stroke-width="0.8" />
<line x1="343.30" y1="226.12" x2="344.70" y2="226.12" stroke="#3a3a3a" stroke-width="0.6" />
<text x="340.4" y="226.1" font-size="7.4" text-anchor="end" fill="#1a1a1a" stroke="#1a1a1a" stroke-width="0.1" dominant-baseline="central" >150</text>
<line x1="343.30" y1="235.15" x2="344.70" y2="235.15" stroke="#3a3a3a" stroke-width="0.6" />
<text x="340.4" y="235.1" font-size="7.4" text-anchor="end" fill="#1a1a1a" stroke="#1a1a1a" stroke-width="0.1" dominant-baseline="central" >100</text>
<line x1="343.30" y1="244.17" x2="344.70" y2="244.17" stroke="#3a3a3a" stroke-width="0.6" />
<text x="340.4" y="244.2" font-size="7.4" text-anchor="end" fill="#1a1a1a" stroke="#1a1a1a" stroke-width="0.1" dominant-baseline="central" >50</text>
<line x1="343.30" y1="253.20" x2="344.70" y2="253.20" stroke="#3a3a3a" stroke-width="0.6" />
<text x="340.4" y="253.2" font-size="7.4" text-anchor="end" fill="#1a1a1a" stroke="#1a1a1a" stroke-width="0.1" dominant-baseline="central" >0</text>
<line x1="343.30" y1="262.22" x2="344.70" y2="262.22" stroke="#3a3a3a" stroke-width="0.6" />
<text x="340.4" y="262.2" font-size="7.4" text-anchor="end" fill="#1a1a1a" stroke="#1a1a1a" stroke-width="0.1" dominant-baseline="central" >-50</text>
<line x1="343.30" y1="262.30" x2="343.30" y2="260.90" stroke="#3a3a3a" stroke-width="0.6" />
<text x="343.3" y="268.3" font-size="7.4" text-anchor="middle" fill="#1a1a1a" stroke="#1a1a1a" stroke-width="0.1" dominant-baseline="central" >-2</text>
<line x1="369.90" y1="262.30" x2="369.90" y2="260.90" stroke="#3a3a3a" stroke-width="0.6" />
<text x="369.9" y="268.3" font-size="7.4" text-anchor="middle" fill="#1a1a1a" stroke="#1a1a1a" stroke-width="0.1" dominant-baseline="central" >0</text>
<line x1="396.50" y1="262.30" x2="396.50" y2="260.90" stroke="#3a3a3a" stroke-width="0.6" />
<text x="396.5" y="268.3" font-size="7.4" text-anchor="middle" fill="#1a1a1a" stroke="#1a1a1a" stroke-width="0.1" dominant-baseline="central" >2</text>
<clipPath id="clipD04"><rect x="430.50" y="226.20" width="67.00" height="36.10"/></clipPath>
<g clip-path="url(#clipD04)">
<defs><path id="tr040" d="M430.5 255.9l1.2 0.3 1.1-1.7 1.2 0.1 1.2 0 1.1 1.2 1.2-0.9 1.2-0.8 1.1-0.4 1.2-0.1 1.2-0.2 1.1-1.7 1.2-0.8 1.2 0.3 1.1 1.1 1.2 0.6 1.2 0.1 1.1-0.8 1.2-0.5 1.2-1.1 1.1-0.1 1.2 0.4 1.2 0.1 1.1-0.3 1.2-0.4 1.2 1.3 1.1 1.5 1.2 0.8 1.2-0.5 1.1-0.2 1.2 0.5 1.2 0.6 1.1-0.2 1.2-0.7 1.2 0 1.1-0.4 1.2 0.7 1.2 0 1.1 1.2 1.2-0.7 1.2 0.4 1.1-0.5 1.2-0.1 1.2 0.2 1.1-0.3 1.2 0.1 1.2 0.1 1.1 1 1.2 1 1.2 0.6 1.1 0.1 1.2 0 1.2-1.4 1.1-0.2 1.2-0.2 1.2 1.9 1.1 0.1 1.2-0.2" fill="none" stroke="#2b3a9e" stroke-linejoin="round"/></defs><use href="#tr040" stroke-width="3.8" opacity="0.24"/>
<defs><path id="tr041" d="M430.5 254.6l1.2 0.2 1.1-1.3 1.2 1.6 1.2-0.5 1.1 0.1 1.2-1.4 1.2-0.6 1.1-0.2 1.2-0.3 1.2 1 1.1 0.3 1.2 1 1.2-1.3 1.1-0.6 1.2-1.2 1.2 0.6 1.1 0.3 1.2-1 1.2-1.3 1.1-0.3 1.2 0.2 1.2 1.6 1.1 1 1.2 0.9 1.2-0.1 1.1-0.5 1.2 0 1.2-1.5 1.1 0.3 1.2 0.4 1.2 1.5 1.1 0 1.2-0.2 1.2-0.5 1.1 0.7 1.2 0.5 1.2 1.1 1.1-0.7 1.2 0.9 1.2 0.7 1.1 1.4 1.2-1 1.2-0.8 1.1-1.1 1.2 1.4 1.2 0.4 1.1 0.4 1.2-0.3 1.2 0.3 1.1-0.6 1.2-0.8 1.2-0.4 1.1 0.2 1.2 0.6 1.2 0.1 1.1 0.3 1.2-0.5" fill="none" stroke="#2166cc" stroke-linejoin="round"/></defs><use href="#tr041" stroke-width="3.3" opacity="0.24"/>
<defs><path id="tr042" d="M430.5 255.2l1.2 0.1 1.1-1.3 1.2-0.5 1.2-0.7 1.1-0.2 1.2-0.6 1.2 0.8 1.1 0.5 1.2 0.2 1.2-1.8 1.1-0.4 1.2 0 1.2 1.4 1.1 1 1.2 0.2 1.2-0.8 1.1 0.1 1.2 0.3 1.2 0.4 1.1-0.5 1.2-0.3 1.2 0 1.1 0.7 1.2-0.4 1.2-0.8 1.1-0.5 1.2 0.2 1.2 0.6 1.1-0.3 1.2 0.4 1.2 0.7 1.1 0.1 1.2-0.2 1.2 0.2 1.1-0.6 1.2-0.4 1.2-1.2 1.1 0.1 1.2 0.7 1.2 1.1 1.1 1.3 1.2 0.8 1.2-0.1 1.1-0.2 1.2-0.7 1.2 1.1 1.1-1.1 1.2-0.7 1.2-1 1.1 0.8 1.2 0.8 1.2-0.1 1.1 0.4 1.2 0.3 1.2 0.5 1.1-0.2 1.2-0.1" fill="none" stroke="#33c1cf" stroke-linejoin="round"/></defs><use href="#tr042" stroke-width="3.8" opacity="0.24"/>
<defs><path id="tr043" d="M430.5 254.3l1.2-0.1 1.1-0.9 1.2 0.3 1.2-0.5 1.1-0.4 1.2-1.1 1.2 0.1 1.1 0.5 1.2 0.1 1.2-0.7 1.1-1.1 1.2-0.2 1.2 0.5 1.1 0.5 1.2-0.3 1.2 0 1.1 0.4 1.2 0.1 1.2-0.8 1.1 0.1 1.2 0.4 1.2 0.1 1.1 0 1.2-0.5 1.2 0.1 1.1-0.5 1.2 0.6 1.2 0.3 1.1 0.2 1.2-0.5 1.2 0.4 1.1-0.5 1.2 1 1.2-0.2 1.1 0.7 1.2-1.1 1.2 0.3 1.1-0.1 1.2 0.9 1.2-0.4 1.1-0.4 1.2 0.1 1.2 0.3 1.1 1.4 1.2-0.5 1.2-0.2 1.1-0.4 1.2 1.1 1.2 0.4 1.1-0.4 1.2-1 1.2-0.1 1.1 1.5 1.2 0.9 1.2-0.2 1.1-0.2 1.2-0.8" fill="none" stroke="#4fbf45" stroke-linejoin="round"/></defs><use href="#tr043" stroke-width="2.8" opacity="0.24"/>
<defs><path id="tr044" d="M430.5 252.3l1.2 0.9 1.1 0.6 1.2 0.4 1.2-0.4 1.1-0.8 1.2-0.6 1.2-0.3 1.1-0.4 1.2-0.1 1.2-0.3 1.1-0.9 1.2-0.2 1.2-0.1 1.1 0.8 1.2 0.4 1.2-0.7 1.1-0.3 1.2 0.1 1.2 0.8 1.1 0.1 1.2-0.3 1.2-0.8 1.1 0.5 1.2-0.3 1.2 0.5 1.1 0.2 1.2 0.3 1.2 0.3 1.1-0.6 1.2 0.5 1.2 0 1.1 1.2 1.2 0.5 1.2-0.1 1.1-1.1 1.2-0.4 1.2 0.9 1.1 0.1 1.2 1.2 1.2 0.3 1.1 0.3 1.2-1.1 1.2 0.3 1.1 1.3 1.2-0.3 1.2-0.4 1.1-0.5 1.2 0.7 1.2-0.3 1.1 0.8 1.2-0.5 1.2 0 1.1-0.2 1.2 0.1 1.2 1.2 1.1-1.6 1.2 0.2" fill="none" stroke="#d4d417" stroke-linejoin="round"/></defs><use href="#tr044" stroke-width="2.8" opacity="0.24"/>
<defs><path id="tr045" d="M430.5 252.4l1.2-0.3 1.1-0.9 1.2-0.4 1.2 0.3 1.1-0.4 1.2 0 1.2-0.5 1.1-0.4 1.2-0.6 1.2-0.6 1.1 0.3 1.2-0.6 1.2 0.9 1.1-0.5 1.2 1.4 1.2-0.5 1.1 0.4 1.2-0.8 1.2 0.3 1.1 0 1.2 0.1 1.2 0.7 1.1 0 1.2-0.1 1.2-0.8 1.1 0.1 1.2-0.1 1.2-0.6 1.1-0.2 1.2 0.4 1.2 0.1 1.1-0.2 1.2-0.3 1.2 0.4 1.1 0.8 1.2 0.7 1.2 0.2 1.1 0.3 1.2 0.2 1.2 0.5 1.1-0.3 1.2 0.2 1.2-0.1 1.1 0.4 1.2-0.4 1.2 0.1 1.1-0.3 1.2 0.1 1.2 1.1 1.1 1 1.2 0.7 1.2-0.7 1.1-1.2 1.2 0.3 1.2 0.2 1.1 1.2 1.2-0.2" fill="none" stroke="#e0782f" stroke-linejoin="round"/></defs><use href="#tr045" stroke-width="3.3" opacity="0.24"/>
<defs><path id="tr046" d="M430.5 252.9l1.2-1.8 1.1-0.5 1.2-1.3 1.2-0.2 1.1-0.7 1.2 0.2 1.2 0.7 1.1 0.7 1.2 0.5 1.2 0.1 1.1-1.9 1.2 0 1.2-1.1 1.1 1.2 1.2-0.4 1.2 0.4 1.1 0.3 1.2-0.3 1.2 0.1 1.1 0.2 1.2 0.1 1.2-0.2 1.1-1.1 1.2-0.9 1.2-0.1 1.1-0.3 1.2 0.6 1.2 0.5 1.1 0.2 1.2 1.5 1.2 0.6 1.1 0.7 1.2 0 1.2-0.3 1.1 1.3 1.2-0.3 1.2 0.7 1.1-0.7 1.2 0.9 1.2-0.5 1.1 0.4 1.2-0.5 1.2 0.4 1.1-0.1 1.2 0.8 1.2 1.3 1.1 0.1 1.2-0.1 1.2-0.9 1.1-0.1 1.2 0.6 1.2 0.2 1.1 0.6 1.2-0.4 1.2-0.4 1.1-0.2 1.2 0" fill="none" stroke="#dc1f1f" stroke-linejoin="round"/></defs><use href="#tr046" stroke-width="2.8" opacity="0.24"/>
<use href="#tr040" stroke-width="1.25"/>
<use href="#tr041" stroke-width="1.25"/>
<use href="#tr042" stroke-width="1.25"/>
<use href="#tr043" stroke-width="1.25"/>
<use href="#tr044" stroke-width="1.25"/>
<use href="#tr045" stroke-width="1.5"/>
<use href="#tr046" stroke-width="1.5"/>
</g>
<line x1="457.10" y1="226.20" x2="457.10" y2="262.30" stroke="#111" stroke-width="1.0" stroke-dasharray="3 2.4"/>
<line x1="430.50" y1="226.20" x2="430.50" y2="262.30" stroke="#3a3a3a" stroke-width="0.8" />
<line x1="430.50" y1="262.30" x2="497.00" y2="262.30" stroke="#3a3a3a" stroke-width="0.8" />
<line x1="430.50" y1="226.12" x2="431.90" y2="226.12" stroke="#3a3a3a" stroke-width="0.6" />
<text x="427.6" y="226.1" font-size="7.4" text-anchor="end" fill="#1a1a1a" stroke="#1a1a1a" stroke-width="0.1" dominant-baseline="central" >150</text>
<line x1="430.50" y1="235.15" x2="431.90" y2="235.15" stroke="#3a3a3a" stroke-width="0.6" />
<text x="427.6" y="235.1" font-size="7.4" text-anchor="end" fill="#1a1a1a" stroke="#1a1a1a" stroke-width="0.1" dominant-baseline="central" >100</text>
<line x1="430.50" y1="244.17" x2="431.90" y2="244.17" stroke="#3a3a3a" stroke-width="0.6" />
<text x="427.6" y="244.2" font-size="7.4" text-anchor="end" fill="#1a1a1a" stroke="#1a1a1a" stroke-width="0.1" dominant-baseline="central" >50</text>
<line x1="430.50" y1="253.20" x2="431.90" y2="253.20" stroke="#3a3a3a" stroke-width="0.6" />
<text x="427.6" y="253.2" font-size="7.4" text-anchor="end" fill="#1a1a1a" stroke="#1a1a1a" stroke-width="0.1" dominant-baseline="central" >0</text>
<line x1="430.50" y1="262.22" x2="431.90" y2="262.22" stroke="#3a3a3a" stroke-width="0.6" />
<text x="427.6" y="262.2" font-size="7.4" text-anchor="end" fill="#1a1a1a" stroke="#1a1a1a" stroke-width="0.1" dominant-baseline="central" >-50</text>
<line x1="430.50" y1="262.30" x2="430.50" y2="260.90" stroke="#3a3a3a" stroke-width="0.6" />
<text x="430.5" y="268.3" font-size="7.4" text-anchor="middle" fill="#1a1a1a" stroke="#1a1a1a" stroke-width="0.1" dominant-baseline="central" >-2</text>
<line x1="457.10" y1="262.30" x2="457.10" y2="260.90" stroke="#3a3a3a" stroke-width="0.6" />
<text x="457.1" y="268.3" font-size="7.4" text-anchor="middle" fill="#1a1a1a" stroke="#1a1a1a" stroke-width="0.1" dominant-baseline="central" >0</text>
<line x1="483.70" y1="262.30" x2="483.70" y2="260.90" stroke="#3a3a3a" stroke-width="0.6" />
<text x="483.7" y="268.3" font-size="7.4" text-anchor="middle" fill="#1a1a1a" stroke="#1a1a1a" stroke-width="0.1" dominant-baseline="central" >2</text>
<clipPath id="clipD05"><rect x="518.50" y="226.20" width="67.00" height="36.10"/></clipPath>
<g clip-path="url(#clipD05)">
<defs><path id="tr050" d="M518.5 253.4l1.2-0.4 1.1 0.1 1.2 0.3 1.2 0.4 1.1 0.1 1.2-0.5 1.2-0.4 1.1-0.1 1.2-0.2 1.2 0.3 1.1 0.2 1.2 0.1 1.2 0 1.1-0.3 1.2 0.5 1.2-0.2 1.1 0.2 1.2 0.1 1.2-0.1 1.1-0.2 1.2-0.5 1.2 0.2 1.1-0.1 1.2-0.5 1.2-0.2 1.1 0.7 1.2 0.8 1.2 0.4 1.1-0.3 1.2 0.3 1.2 0.2 1.1 0.3 1.2-0.1 1.2 0.2 1.1-0.5 1.2 0.4 1.2 0 1.1 0.3 1.2-0.2 1.2 0.1 1.1 0 1.2 0.6 1.2 0.1 1.1 0 1.2-0.2 1.2 0.2 1.1 0.3 1.2-0.2 1.2-0.1 1.1 0.6 1.2 0.3 1.2-0.2 1.1-0.6 1.2-0.7 1.2 0 1.1 0 1.2 0.3" fill="none" stroke="#2b3a9e" stroke-linejoin="round"/></defs><use href="#tr050" stroke-width="3.8" opacity="0.24"/>
<defs><path id="tr051" d="M518.5 252.9l1.2 0.8 1.1-0.4 1.2 0.5 1.2-0.7 1.1 0.1 1.2 0.1 1.2 0.1 1.1 0.1 1.2-0.3 1.2 0.2 1.1 0.3 1.2 0.5 1.2-0.7 1.1-0.2 1.2-0.4 1.2 0.9 1.1-0.3 1.2 0 1.2-0.6 1.1-0.1 1.2-0.4 1.2-0.5 1.1-0.1 1.2-0.3 1.2 0.6 1.1 0.8 1.2 0.8 1.2 0.5 1.1-0.3 1.2 0.8 1.2 0.1 1.1 0.6 1.2-0.7 1.2-0.2 1.1-0.3 1.2-0.2 1.2 0.1 1.1 0 1.2-0.1 1.2 0.2 1.1 0.2 1.2 0.4 1.2-0.1 1.1 0.1 1.2-0.1 1.2 0 1.1 0.5 1.2 0.3 1.2 0.5 1.1-0.1 1.2 0 1.2-0.6 1.1-0.3 1.2 0.2 1.2 0.2 1.1 0.2 1.2-0.4" fill="none" stroke="#2166cc" stroke-linejoin="round"/></defs><use href="#tr051" stroke-width="3.3" opacity="0.24"/>
<defs><path id="tr052" d="M518.5 253.1l1.2 0.6 1.1 0.4 1.2-0.6 1.2-0.2 1.1-0.4 1.2-0.3 1.2 0.2 1.1 0.2 1.2-0.1 1.2-0.2 1.1-0.1 1.2 0.8 1.2 0.4 1.1 0.3 1.2-0.5 1.2-0.4 1.1-0.8 1.2-0.1 1.2 0.1 1.1 0.2 1.2-1 1.2-0.7 1.1-1.1 1.2 0.1 1.2 0.2 1.1 1.8 1.2 1.9 1.2 1.5 1.1 0.6 1.2 0.3 1.2 0 1.1-0.2 1.2-0.4 1.2-0.2 1.1-0.5 1.2-0.5 1.2-0.6 1.1-0.2 1.2-0.1 1.2 0 1.1-0.5 1.2 0 1.2 0 1.1 0.2 1.2 0.2 1.2-0.1 1.1-0.3 1.2-0.3 1.2 0.2 1.1 0.3 1.2 0.3 1.2 0.6 1.1 0 1.2 0 1.2-0.2 1.1 0.4 1.2-0.1" fill="none" stroke="#33c1cf" stroke-linejoin="round"/></defs><use href="#tr052" stroke-width="3.8" opacity="0.24"/>
<defs><path id="tr053" d="M518.5 253.1l1.2-1 1.1 0.5 1.2 0 1.2 0.6 1.1-0.3 1.2 0 1.2 0 1.1-0.3 1.2 0.1 1.2-0.2 1.1 0.1 1.2-0.2 1.2-0.1 1.1 0 1.2-0.2 1.2 0.1 1.1 0 1.2-0.2 1.2-0.8 1.1 0.1 1.2-0.6 1.2-0.1 1.1-0.8 1.2-0.4 1.2-0.6 1.1-0.2 1.2 0 1.2 0.9 1.1 0.8 1.2 1 1.2 0.2 1.1 0.7 1.2 0.2 1.2 0.4 1.1-0.1 1.2 0.3 1.2-0.1 1.1-0.1 1.2-0.2 1.2 0.2 1.1 0 1.2-0.1 1.2 0.2 1.1-0.1 1.2 0.5 1.2-0.3 1.1 0.1 1.2-0.7 1.2 0 1.1 0.2 1.2 0.4 1.2 0.2 1.1-0.3 1.2-0.2 1.2-0.2 1.1-0.1 1.2 0.1" fill="none" stroke="#4fbf45" stroke-linejoin="round"/></defs><use href="#tr053" stroke-width="2.8" opacity="0.24"/>
<defs><path id="tr054" d="M518.5 253.0l1.2-0.4 1.1-0.1 1.2 0.6 1.2 0.3 1.1-0.1 1.2-0.4 1.2-0.1 1.1 0 1.2-0.1 1.2-0.1 1.1-0.2 1.2 0.3 1.2 0.2 1.1-0.1 1.2 0.1 1.2-0.2 1.1 0.3 1.2 0 1.2-0.3 1.1-0.2 1.2-0.6 1.2-0.4 1.1-0.1 1.2-0.4 1.2-0.2 1.1-0.5 1.2 0.4 1.2 0.3 1.1 0.6 1.2-0.1 1.2 0.2 1.1 0 1.2-0.1 1.2 0.2 1.1 0.3 1.2 0.5 1.2 0.2 1.1 0 1.2 0.3 1.2-0.2 1.1-0.1 1.2-0.6 1.2 0.1 1.1-0.3 1.2 0.4 1.2-0.1 1.1 0.7 1.2 0 1.2 0.1 1.1-0.7 1.2-0.3 1.2 0 1.1 0.2 1.2 0 1.2-0.2 1.1 0.1 1.2 0.2" fill="none" stroke="#d4d417" stroke-linejoin="round"/></defs><use href="#tr054" stroke-width="2.8" opacity="0.24"/>
<defs><path id="tr055" d="M518.5 252.8l1.2-0.4 1.1-0.6 1.2 0 1.2 0.5 1.1 0.3 1.2-0.2 1.2-0.2 1.1 0.1 1.2 0.1 1.2 0.2 1.1-0.3 1.2 0.1 1.2 0.3 1.1 0 1.2-0.4 1.2-0.2 1.1-0.2 1.2-0.4 1.2-0.6 1.1-0.4 1.2-1.1 1.2-1.4 1.1-1.6 1.2-0.5 1.2-0.9 1.1 0.3 1.2 0.4 1.2 1.2 1.1 0.6 1.2 1 1.2 1.3 1.1 1.3 1.2 1.1 1.2 0.3 1.1 0 1.2-0.2 1.2 0 1.1 0 1.2-0.1 1.2 0 1.1-0.2 1.2 0.1 1.2 0 1.1 0.4 1.2-0.4 1.2 0.1 1.1-0.3 1.2 0.1 1.2-0.2 1.1-0.3 1.2-0.1 1.2-0.3 1.1 0.1 1.2-0.4 1.2 0.3 1.1-0.1 1.2 0.1" fill="none" stroke="#e0782f" stroke-linejoin="round"/></defs><use href="#tr055" stroke-width="3.3" opacity="0.24"/>
<defs><path id="tr056" d="M518.5 253.3l1.2-0.1 1.1-0.2 1.2 0.1 1.2 0.3 1.1 0.6 1.2-0.1 1.2-0.2 1.1-0.4 1.2-0.2 1.2-0.5 1.1 0 1.2 0 1.2 0.5 1.1 0 1.2 0.1 1.2 0.2 1.1 0.6 1.2-0.7 1.2-1.4 1.1-2.1 1.2-0.9 1.2-0.7 1.1-1.2 1.2-1.6 1.2-0.7 1.1 0.1 1.2 0.4 1.2 0.9 1.1 0.6 1.2 1.1 1.2 0.8 1.1 1.8 1.2 1.4 1.2 0.7 1.1 0.3 1.2-0.4 1.2 0.5 1.1-0.1 1.2 0.4 1.2-0.5 1.1-0.5 1.2 0 1.2 0 1.1 0.2 1.2-0.1 1.2 0.4 1.1-0.4 1.2-0.3 1.2-0.7 1.1 0.2 1.2-0.1 1.2-0.2 1.1-0.2 1.2-0.3 1.2 0.2 1.1-0.2 1.2 0.3" fill="none" stroke="#dc1f1f" stroke-linejoin="round"/></defs><use href="#tr056" stroke-width="2.8" opacity="0.24"/>
<use href="#tr050" stroke-width="1.25"/>
<use href="#tr051" stroke-width="1.25"/>
<use href="#tr052" stroke-width="1.25"/>
<use href="#tr053" stroke-width="1.25"/>
<use href="#tr054" stroke-width="1.25"/>
<use href="#tr055" stroke-width="1.5"/>
<use href="#tr056" stroke-width="1.5"/>
</g>
<line x1="535.12" y1="226.20" x2="535.12" y2="262.30" stroke="#111" stroke-width="1.0" stroke-dasharray="3 2.4"/>
<line x1="518.50" y1="226.20" x2="518.50" y2="262.30" stroke="#3a3a3a" stroke-width="0.8" />
<line x1="518.50" y1="262.30" x2="585.00" y2="262.30" stroke="#3a3a3a" stroke-width="0.8" />
<line x1="518.50" y1="226.12" x2="519.90" y2="226.12" stroke="#3a3a3a" stroke-width="0.6" />
<text x="515.6" y="226.1" font-size="7.4" text-anchor="end" fill="#1a1a1a" stroke="#1a1a1a" stroke-width="0.1" dominant-baseline="central" >150</text>
<line x1="518.50" y1="235.15" x2="519.90" y2="235.15" stroke="#3a3a3a" stroke-width="0.6" />
<text x="515.6" y="235.1" font-size="7.4" text-anchor="end" fill="#1a1a1a" stroke="#1a1a1a" stroke-width="0.1" dominant-baseline="central" >100</text>
<line x1="518.50" y1="244.17" x2="519.90" y2="244.17" stroke="#3a3a3a" stroke-width="0.6" />
<text x="515.6" y="244.2" font-size="7.4" text-anchor="end" fill="#1a1a1a" stroke="#1a1a1a" stroke-width="0.1" dominant-baseline="central" >50</text>
<line x1="518.50" y1="253.20" x2="519.90" y2="253.20" stroke="#3a3a3a" stroke-width="0.6" />
<text x="515.6" y="253.2" font-size="7.4" text-anchor="end" fill="#1a1a1a" stroke="#1a1a1a" stroke-width="0.1" dominant-baseline="central" >0</text>
<line x1="518.50" y1="262.22" x2="519.90" y2="262.22" stroke="#3a3a3a" stroke-width="0.6" />
<text x="515.6" y="262.2" font-size="7.4" text-anchor="end" fill="#1a1a1a" stroke="#1a1a1a" stroke-width="0.1" dominant-baseline="central" >-50</text>
<line x1="518.50" y1="262.30" x2="518.50" y2="260.90" stroke="#3a3a3a" stroke-width="0.6" />
<text x="518.5" y="268.3" font-size="7.4" text-anchor="middle" fill="#1a1a1a" stroke="#1a1a1a" stroke-width="0.1" dominant-baseline="central" >-0.5</text>
<line x1="535.12" y1="262.30" x2="535.12" y2="260.90" stroke="#3a3a3a" stroke-width="0.6" />
<text x="535.1" y="268.3" font-size="7.4" text-anchor="middle" fill="#1a1a1a" stroke="#1a1a1a" stroke-width="0.1" dominant-baseline="central" >0</text>
<line x1="551.75" y1="262.30" x2="551.75" y2="260.90" stroke="#3a3a3a" stroke-width="0.6" />
<text x="551.8" y="268.3" font-size="7.4" text-anchor="middle" fill="#1a1a1a" stroke="#1a1a1a" stroke-width="0.1" dominant-baseline="central" >0.5</text>
<line x1="568.38" y1="262.30" x2="568.38" y2="260.90" stroke="#3a3a3a" stroke-width="0.6" />
<text x="568.4" y="268.3" font-size="7.4" text-anchor="middle" fill="#1a1a1a" stroke="#1a1a1a" stroke-width="0.1" dominant-baseline="central" >1</text>
<line x1="585.00" y1="262.30" x2="585.00" y2="260.90" stroke="#3a3a3a" stroke-width="0.6" />
<text x="585.0" y="268.3" font-size="7.4" text-anchor="middle" fill="#1a1a1a" stroke="#1a1a1a" stroke-width="0.1" dominant-baseline="central" >1.5</text>
<clipPath id="clipD06"><rect x="606.70" y="226.20" width="67.00" height="36.10"/></clipPath>
<g clip-path="url(#clipD06)">
<defs><path id="tr060" d="M606.7 253.2l1.2-0.1 1.1 0.9 1.2-0.9 1.2 0.3 1.1 0.5 1.2 0.2 1.2-0.3 1.1-0.6 1.2-0.3 1.2 0.2 1.1 0 1.2 0.4 1.2-0.5 1.1 0 1.2-0.4 1.2-0.8 1.1 0 1.2-0.4 1.2 2 1.1-0.8 1.2 1.1 1.2-0.9 1.1 1 1.2 0.4 1.2 0.8 1.1 0.3 1.2-0.6 1.2-0.9 1.1 0.2 1.2 0.9 1.2 0.9 1.1 0.5 1.2-1 1.2-0.5 1.1-0.6 1.2 1.1 1.2 0.8 1.1-0.5 1.2-0.5 1.2 0 1.1 0.2 1.2 0.9 1.2-0.7 1.1 1 1.2-0.3 1.2 0.1 1.1-0.5 1.2-0.6 1.2 0.7 1.1-0.5 1.2 0 1.2-0.3 1.1 0.6 1.2 1 1.2 0.2 1.1 0.8 1.2-0.3" fill="none" stroke="#2b3a9e" stroke-linejoin="round"/></defs><use href="#tr060" stroke-width="3.8" opacity="0.24"/>
<defs><path id="tr061" d="M606.7 252.1l1.2-0.3 1.1 0.7 1.2 0.4 1.2 0.5 1.1-0.3 1.2 0.7 1.2-0.6 1.1 0.7 1.2-0.7 1.2 0.3 1.1-0.5 1.2-1.1 1.2 0 1.1-0.9 1.2 0.1 1.2 0.2 1.1 0.5 1.2-0.1 1.2 0 1.1 0.1 1.2 0.9 1.2 0 1.1 0.5 1.2 0 1.2 0 1.1-0.5 1.2 0.2 1.2 0.5 1.1 0.4 1.2 0.3 1.2 0.6 1.1 0 1.2 0.4 1.2-0.9 1.1 1 1.2-1.2 1.2 1 1.1-0.8 1.2 0.2 1.2 0 1.1-0.2 1.2 1.1 1.2 0.4 1.1 0.4 1.2-0.6 1.2-0.7 1.1 1.5 1.2 0.4 1.2 0.1 1.1-0.9 1.2 0.2 1.2 0.7 1.1 0.1 1.2-0.9 1.2-1.4 1.1-0.1 1.2 1.2" fill="none" stroke="#2166cc" stroke-linejoin="round"/></defs><use href="#tr061" stroke-width="3.3" opacity="0.24"/>
<defs><path id="tr062" d="M606.7 252.2l1.2 0.7 1.1 0.3 1.2 0.2 1.2-1.3 1.1-0.5 1.2-0.3 1.2 0 1.1 0.7 1.2-0.6 1.2 0.7 1.1-0.4 1.2 0.2 1.2 0.2 1.1 0.4 1.2 1.2 1.2-0.5 1.1-0.2 1.2-0.6 1.2 0.2 1.1 1.9 1.2 0.9 1.2 0.6 1.1-0.9 1.2-0.6 1.2-1 1.1-0.2 1.2 0.7 1.2 1 1.1-0.2 1.2-0.6 1.2 0.2 1.1-0.4 1.2 0.9 1.2-0.7 1.1 0.4 1.2-0.6 1.2-0.5 1.1 0.4 1.2 0.3 1.2 0.9 1.1-0.5 1.2 0.6 1.2 0.1 1.1 0.8 1.2-0.8 1.2-0.5 1.1-0.3 1.2 0.4 1.2 0.6 1.1 1.4 1.2-0.4 1.2-0.1 1.1-1.3 1.2 0.5 1.2 0.7 1.1 0.2 1.2-0.7" fill="none" stroke="#33c1cf" stroke-linejoin="round"/></defs><use href="#tr062" stroke-width="3.8" opacity="0.24"/>
<defs><path id="tr063" d="M606.7 253.8l1.2 0.2 1.1 0.5 1.2-1.1 1.2 0.6 1.1 0.5 1.2-0.5 1.2-0.1 1.1 0.2 1.2 1.1 1.2-0.3 1.1-0.8 1.2-0.8 1.2 0.6 1.1-0.4 1.2 0.4 1.2-0.8 1.1-0.8 1.2-1.5 1.2-1 1.1 0 1.2 0 1.2-0.1 1.1 0.2 1.2-0.4 1.2-0.2 1.1 0.9 1.2-0.6 1.2 0.8 1.1-0.6 1.2 1.4 1.2-0.7 1.1 0.3 1.2-0.1 1.2-0.6 1.1-0.1 1.2 0.7 1.2 0.9 1.1 0.5 1.2-0.3 1.2 0.1 1.1-0.5 1.2 0.1 1.2-0.3 1.1 0.3 1.2 0.5 1.2 0.1 1.1 0.1 1.2-1.1 1.2 0.7 1.1-0.3 1.2 0.4 1.2 1 1.1 1 1.2 0.7 1.2-1.8 1.1 0.2 1.2-0.9" fill="none" stroke="#4fbf45" stroke-linejoin="round"/></defs><use href="#tr063" stroke-width="2.8" opacity="0.24"/>
<defs><path id="tr064" d="M606.7 252.2l1.2 0.5 1.1 0.1 1.2 0 1.2-0.6 1.1-0.5 1.2-0.1 1.2 0.3 1.1 0.4 1.2-0.5 1.2 0.2 1.1 0.1 1.2 0.2 1.2-0.7 1.1-0.6 1.2 0.8 1.2-0.2 1.1-0.2 1.2-1.7 1.2 0.7 1.1-0.1 1.2 0.1 1.2-1 1.1-0.4 1.2 0.1 1.2 1.1 1.1 0.6 1.2 0.9 1.2 0 1.1-0.3 1.2 0.3 1.2 0.1 1.1 0.9 1.2 0.2 1.2-0.8 1.1-0.3 1.2-0.9 1.2 0.3 1.1 0.5 1.2 0.2 1.2 0.6 1.1 0 1.2 0.6 1.2-0.3 1.1-0.7 1.2 0.2 1.2 0 1.1 0.6 1.2 0.3 1.2 0.7 1.1 0.1 1.2-0.7 1.2-0.6 1.1-0.2 1.2 0.2 1.2 0.4 1.1 0 1.2 0.6" fill="none" stroke="#d4d417" stroke-linejoin="round"/></defs><use href="#tr064" stroke-width="2.8" opacity="0.24"/>
<defs><path id="tr065" d="M606.7 253.7l1.2-0.4 1.1 0.3 1.2-0.4 1.2-0.1 1.1 0.1 1.2 0 1.2 0.8 1.1-0.3 1.2 0.2 1.2-0.9 1.1 1.4 1.2-0.1 1.2 0 1.1-0.3 1.2-0.3 1.2-0.2 1.1-1.9 1.2-1 1.2-1.7 1.1-1.2 1.2-0.6 1.2-0.3 1.1 0.4 1.2-0.1 1.2 1 1.1 0.2 1.2 0.2 1.2-0.5 1.1 0.1 1.2 0.5 1.2 0.7 1.1-0.2 1.2 0 1.2-0.2 1.1 0.2 1.2 0 1.2 1.3 1.1 0.2 1.2-0.1 1.2-1.1 1.1 0.5 1.2-0.4 1.2 0.2 1.1 0 1.2 0.9 1.2-0.2 1.1 0.3 1.2 0.2 1.2-0.7 1.1-1.1 1.2-0.9 1.2 0.4 1.1 0.3 1.2 1.3 1.2 0.2 1.1-0.3 1.2-0.9" fill="none" stroke="#e0782f" stroke-linejoin="round"/></defs><use href="#tr065" stroke-width="3.3" opacity="0.24"/>
<defs><path id="tr066" d="M606.7 252.9l1.2-0.7 1.1 0.6 1.2 0.2 1.2-0.1 1.1-0.4 1.2 0.3 1.2-0.4 1.1 0.5 1.2 0.7 1.2 0.7 1.1-1.4 1.2-0.8 1.2-1 1.1 0.9 1.2-1 1.2-0.3 1.1-0.7 1.2-1.4 1.2-1.1 1.1-1.9 1.2-1 1.2 0.4 1.1 0.6 1.2 1 1.2-0.8 1.1 1 1.2 1.1 1.2 1.9 1.1 0.4 1.2-0.4 1.2-1.6 1.1 0.2 1.2-0.3 1.2 0.8 1.1-0.2 1.2-0.3 1.2 1.4 1.1-0.1 1.2 1 1.2-2 1.1-0.8 1.2-0.8 1.2 1 1.1 0.4 1.2 0.5 1.2 0 1.1 0.4 1.2 0.8 1.2 0.6 1.1 0.9 1.2-0.8 1.2 0.2 1.1 0.6 1.2 1 1.2 0 1.1-0.8 1.2-0.5" fill="none" stroke="#dc1f1f" stroke-linejoin="round"/></defs><use href="#tr066" stroke-width="2.8" opacity="0.24"/>
<use href="#tr060" stroke-width="1.25"/>
<use href="#tr061" stroke-width="1.25"/>
<use href="#tr062" stroke-width="1.25"/>
<use href="#tr063" stroke-width="1.25"/>
<use href="#tr064" stroke-width="1.25"/>
<use href="#tr065" stroke-width="1.5"/>
<use href="#tr066" stroke-width="1.5"/>
</g>
<line x1="620.00" y1="226.20" x2="620.00" y2="262.30" stroke="#111" stroke-width="1.0" stroke-dasharray="3 2.4"/>
<line x1="606.70" y1="226.20" x2="606.70" y2="262.30" stroke="#3a3a3a" stroke-width="0.8" />
<line x1="606.70" y1="262.30" x2="673.20" y2="262.30" stroke="#3a3a3a" stroke-width="0.8" />
<line x1="606.70" y1="226.12" x2="608.10" y2="226.12" stroke="#3a3a3a" stroke-width="0.6" />
<text x="603.8" y="226.1" font-size="7.4" text-anchor="end" fill="#1a1a1a" stroke="#1a1a1a" stroke-width="0.1" dominant-baseline="central" >150</text>
<line x1="606.70" y1="235.15" x2="608.10" y2="235.15" stroke="#3a3a3a" stroke-width="0.6" />
<text x="603.8" y="235.1" font-size="7.4" text-anchor="end" fill="#1a1a1a" stroke="#1a1a1a" stroke-width="0.1" dominant-baseline="central" >100</text>
<line x1="606.70" y1="244.17" x2="608.10" y2="244.17" stroke="#3a3a3a" stroke-width="0.6" />
<text x="603.8" y="244.2" font-size="7.4" text-anchor="end" fill="#1a1a1a" stroke="#1a1a1a" stroke-width="0.1" dominant-baseline="central" >50</text>
<line x1="606.70" y1="253.20" x2="608.10" y2="253.20" stroke="#3a3a3a" stroke-width="0.6" />
<text x="603.8" y="253.2" font-size="7.4" text-anchor="end" fill="#1a1a1a" stroke="#1a1a1a" stroke-width="0.1" dominant-baseline="central" >0</text>
<line x1="606.70" y1="262.22" x2="608.10" y2="262.22" stroke="#3a3a3a" stroke-width="0.6" />
<text x="603.8" y="262.2" font-size="7.4" text-anchor="end" fill="#1a1a1a" stroke="#1a1a1a" stroke-width="0.1" dominant-baseline="central" >-50</text>
<line x1="620.00" y1="262.30" x2="620.00" y2="260.90" stroke="#3a3a3a" stroke-width="0.6" />
<text x="620.0" y="268.3" font-size="7.4" text-anchor="middle" fill="#1a1a1a" stroke="#1a1a1a" stroke-width="0.1" dominant-baseline="central" >0</text>
<line x1="646.60" y1="262.30" x2="646.60" y2="260.90" stroke="#3a3a3a" stroke-width="0.6" />
<text x="646.6" y="268.3" font-size="7.4" text-anchor="middle" fill="#1a1a1a" stroke="#1a1a1a" stroke-width="0.1" dominant-baseline="central" >1</text>
<line x1="673.20" y1="262.30" x2="673.20" y2="260.90" stroke="#3a3a3a" stroke-width="0.6" />
<text x="673.2" y="268.3" font-size="7.4" text-anchor="middle" fill="#1a1a1a" stroke="#1a1a1a" stroke-width="0.1" dominant-baseline="central" >2</text>
<text x="58.8" y="244.2" font-size="7.6" text-anchor="middle" fill="#222" stroke="#222" stroke-width="0.1" transform="rotate(-90 58.8 244.2)" dominant-baseline="central" >Rate (ΔHz)</text>
<text x="29.9" y="287.0" font-size="7.0" text-anchor="middle" fill="#333" stroke="#333" stroke-width="0.1" dominant-baseline="central" >T15-i6v</text>
<text x="29.9" y="296.6" font-size="7.0" text-anchor="middle" fill="#333" stroke="#333" stroke-width="0.1" dominant-baseline="central" >(ch. 23)</text>
<clipPath id="clipD10"><rect x="80.00" y="276.80" width="67.00" height="35.40"/></clipPath>
<g clip-path="url(#clipD10)">
<defs><path id="tr100" d="M80.0 307.4l1.2 1.5 1.1 1.4 1.2-0.2 1.2-1.9 1.1-1.4 1.2-0.6 1.2 0.1 1.1-0.3 1.2-0.8 1.2 0.3 1.1 0 1.2 0 1.2-0.4 1.1-0.1 1.2-0.3 1.2 0.5 1.1 0.1 1.2 0.5 1.2-0.8 1.1-0.9 1.2-0.9 1.2-0.9 1.1-1.7 1.2-1.7 1.2-0.4 1.1 0.1 1.2-0.8 1.2-1.4 1.1-1.1 1.2-1.2 1.2-1 1.1-0.2 1.2-0.7 1.2-0.7 1.1-1.3 1.2-0.3 1.2 0.1 1.1 0.5 1.2 0.6 1.2 1 1.1 2.1 1.2 1.1 1.2 1.5 1.1 0.4 1.2 0.9 1.2 1 1.1-0.1 1.2 0.9 1.2-0.6 1.1 1.1 1.2 0.1 1.2 0.6 1.1 0.2 1.2 1.2 1.2 1 1.1 0.4 1.2-0.8" fill="none" stroke="#2b3a9e" stroke-linejoin="round"/></defs><use href="#tr100" stroke-width="4.1" opacity="0.24"/>
<defs><path id="tr101" d="M80.0 307.0l1.2 1.1 1.1 1.2 1.2 0.8 1.2-0.8 1.1-0.7 1.2-1.3 1.2 0 1.1-0.2 1.2 0 1.2-0.2 1.1-1.4 1.2-1.2 1.2-0.7 1.1 0.4 1.2 0.6 1.2 0.7 1.1 0.6 1.2-0.8 1.2-1.9 1.1-1.3 1.2-0.4 1.2-0.4 1.1-0.8 1.2-0.9 1.2-1 1.1-1 1.2-1.1 1.2-0.7 1.1-0.8 1.2-1.3 1.2-1.8 1.1-1.2 1.2-2.1 1.2-0.6 1.1-1.9 1.2-0.2 1.2-1.6 1.1-0.2 1.2 0 1.2 0.8 1.1 2.1 1.2 2.6 1.2 2.5 1.1 1.3 1.2 1.2 1.2 1 1.1 0.9 1.2 1.6 1.2 1.4 1.1 1.3 1.2 0.9 1.2 0.6 1.1 0.8 1.2 0.1 1.2-0.2 1.1 0 1.2-0.1" fill="none" stroke="#2166cc" stroke-linejoin="round"/></defs><use href="#tr101" stroke-width="3.6" opacity="0.24"/>
<defs><path id="tr102" d="M80.0 306.4l1.2 0.9 1.1 0.9 1.2 0.7 1.2-0.4 1.1-0.8 1.2-0.2 1.2-1.3 1.1-0.1 1.2-0.8 1.2 1.2 1.1-0.4 1.2-0.6 1.2-0.6 1.1 0 1.2 0.1 1.2-0.2 1.1-0.4 1.2-0.4 1.2-0.9 1.1-0.5 1.2-1.1 1.2-0.9 1.1-1.6 1.2-1.3 1.2-0.9 1.1-0.5 1.2-0.6 1.2-1.1 1.1-1.5 1.2-1.5 1.2-0.9 1.1 0.2 1.2 0.5 1.2-0.3 1.1-0.7 1.2-0.4 1.2 1 1.1 0.8 1.2 0.4 1.2 0.4 1.1 0.5 1.2 0.9 1.2 0.7 1.1 1.2 1.2 0.2 1.2 0.2 1.1 0.5 1.2 1.3 1.2 0.4 1.1 0.1 1.2 0.3 1.2 0.4 1.1 0.9 1.2 1 1.2 0.8 1.1 0.6 1.2 0.1" fill="none" stroke="#33c1cf" stroke-linejoin="round"/></defs><use href="#tr102" stroke-width="4.1" opacity="0.24"/>
<defs><path id="tr103" d="M80.0 307.8l1.2 1.6 1.1 0.6 1.2-0.2 1.2-1.9 1.1-1.4 1.2-1.4 1.2-0.1 1.1-0.5 1.2-0.4 1.2 0.5 1.1-0.1 1.2-0.1 1.2-1.2 1.1 0.6 1.2-0.5 1.2 0.1 1.1-0.5 1.2-0.4 1.2-0.8 1.1-1.1 1.2-0.8 1.2-1.4 1.1-1 1.2-2.1 1.2-1.4 1.1-2.3 1.2-1.5 1.2-1.3 1.1-0.8 1.2-1 1.2-0.6 1.1-1.3 1.2-1.1 1.2-1 1.1 0.7 1.2 0.1 1.2 0.6 1.1 1.3 1.2 1.7 1.2 0.9 1.1 0.7 1.2 1.3 1.2 2.2 1.1 1.6 1.2 1.1 1.2-0.1 1.1 0.7 1.2 1.3 1.2 1.6 1.1 1 1.2 0.5 1.2 0.8 1.1 1 1.2 1.3 1.2 1.1 1.1 0.1 1.2 0.2" fill="none" stroke="#4fbf45" stroke-linejoin="round"/></defs><use href="#tr103" stroke-width="3.0" opacity="0.24"/>
<defs><path id="tr104" d="M80.0 306.9l1.2 2.2 1.1 0.9 1.2 0 1.2-1.3 1.1-1.6 1.2-0.9 1.2-1.1 1.1-0.3 1.2-0.7 1.2-0.4 1.1-0.4 1.2-1 1.2 0 1.1-0.9 1.2-0.1 1.2-0.4 1.1-0.1 1.2-0.2 1.2-0.9 1.1-1 1.2-2.4 1.2-1.6 1.1-2.5 1.2-1.3 1.2-1.3 1.1-0.1 1.2-1.9 1.2-1.7 1.1-3 1.2-2 1.2-2.4 1.1-0.8 1.2-0.1 1.2 0.5 1.1 1.5 1.2 2.2 1.2 2.3 1.1 1.2 1.2 1.6 1.2 1.3 1.1 2.5 1.2 1.6 1.2 2.2 1.1 1.1 1.2 0.8 1.2 0.8 1.1 1.5 1.2 1.4 1.2 1.5 1.1 0.7 1.2 0.9 1.2 0.2 1.1 1.4 1.2 0.8 1.2 0.1 1.1-0.7 1.2-1" fill="none" stroke="#d4d417" stroke-linejoin="round"/></defs><use href="#tr104" stroke-width="3.0" opacity="0.24"/>
<defs><path id="tr105" d="M80.0 306.8l1.2 0.6 1.1 0 1.2 0.5 1.2 0.1 1.1-0.1 1.2 0.1 1.2-0.2 1.1 0.3 1.2-0.4 1.2-0.6 1.1-0.2 1.2-0.4 1.2 0.3 1.1-0.7 1.2 0.8 1.2-0.3 1.1 0 1.2-0.8 1.2-0.8 1.1-0.4 1.2-1.4 1.2-0.7 1.1-0.8 1.2-0.3 1.2 0.1 1.1-0.2 1.2-0.6 1.2-1.2 1.1-0.4 1.2-1.6 1.2 0.5 1.1-0.5 1.2 1.4 1.2-0.3 1.1 0.4 1.2 0.1 1.2 0.6 1.1 0.5 1.2 0.5 1.2 0.8 1.1 0.7 1.2 0.9 1.2 0.1 1.1 0.3 1.2-0.3 1.2 0.1 1.1-0.4 1.2 0.1 1.2 0.3 1.1 0.8 1.2 0.4 1.2 0.7 1.1 0.7 1.2 0.6 1.2-1.4 1.1-0.3 1.2-0.3" fill="none" stroke="#e0782f" stroke-linejoin="round"/></defs><use href="#tr105" stroke-width="3.6" opacity="0.24"/>
<defs><path id="tr106" d="M80.0 306.9l1.2 0.6 1.1 1.4 1.2-0.1 1.2 0.4 1.1-0.4 1.2 0.3 1.2-0.1 1.1 0.5 1.2 0 1.2 0.1 1.1-0.5 1.2-0.7 1.2-0.6 1.1-0.7 1.2-0.1 1.2-0.4 1.1-0.1 1.2 0.3 1.2-0.2 1.1 0.1 1.2-0.7 1.2-0.8 1.1-1.6 1.2-0.6 1.2-0.8 1.1 0.1 1.2-0.5 1.2 0.2 1.1-0.2 1.2-0.7 1.2 0 1.1 0.4 1.2 0.1 1.2-0.5 1.1-0.8 1.2-0.2 1.2 0 1.1 0.8 1.2 0.4 1.2 0.6 1.1-0.4 1.2 0.3 1.2 0.3 1.1 0.6 1.2-0.4 1.2 1.3 1.1 0.4 1.2 0.2 1.2-0.5 1.1 0.9 1.2 1 1.2 0.8 1.1-0.2 1.2 0.2 1.2-0.9 1.1-0.3 1.2 0" fill="none" stroke="#dc1f1f" stroke-linejoin="round"/></defs><use href="#tr106" stroke-width="3.0" opacity="0.24"/>
<use href="#tr100" stroke-width="1.25"/>
<use href="#tr101" stroke-width="1.25"/>
<use href="#tr102" stroke-width="1.25"/>
<use href="#tr103" stroke-width="1.25"/>
<use href="#tr104" stroke-width="1.25"/>
<use href="#tr105" stroke-width="1.5"/>
<use href="#tr106" stroke-width="1.5"/>
</g>
<line x1="102.17" y1="276.80" x2="102.17" y2="312.20" stroke="#111" stroke-width="1.0" stroke-dasharray="3 2.4"/>
<line x1="80.00" y1="276.80" x2="80.00" y2="312.20" stroke="#3a3a3a" stroke-width="0.8" />
<line x1="80.00" y1="312.20" x2="146.50" y2="312.20" stroke="#3a3a3a" stroke-width="0.8" />
<line x1="80.00" y1="279.55" x2="81.40" y2="279.55" stroke="#3a3a3a" stroke-width="0.6" />
<text x="77.1" y="279.6" font-size="7.4" text-anchor="end" fill="#1a1a1a" stroke="#1a1a1a" stroke-width="0.1" dominant-baseline="central" >60</text>
<line x1="80.00" y1="287.40" x2="81.40" y2="287.40" stroke="#3a3a3a" stroke-width="0.6" />
<text x="77.1" y="287.4" font-size="7.4" text-anchor="end" fill="#1a1a1a" stroke="#1a1a1a" stroke-width="0.1" dominant-baseline="central" >40</text>
<line x1="80.00" y1="295.25" x2="81.40" y2="295.25" stroke="#3a3a3a" stroke-width="0.6" />
<text x="77.1" y="295.2" font-size="7.4" text-anchor="end" fill="#1a1a1a" stroke="#1a1a1a" stroke-width="0.1" dominant-baseline="central" >20</text>
<line x1="80.00" y1="303.10" x2="81.40" y2="303.10" stroke="#3a3a3a" stroke-width="0.6" />
<text x="77.1" y="303.1" font-size="7.4" text-anchor="end" fill="#1a1a1a" stroke="#1a1a1a" stroke-width="0.1" dominant-baseline="central" >0</text>
<line x1="80.00" y1="310.95" x2="81.40" y2="310.95" stroke="#3a3a3a" stroke-width="0.6" />
<text x="77.1" y="311.0" font-size="7.4" text-anchor="end" fill="#1a1a1a" stroke="#1a1a1a" stroke-width="0.1" dominant-baseline="central" >-20</text>
<line x1="87.39" y1="312.20" x2="87.39" y2="310.80" stroke="#3a3a3a" stroke-width="0.6" />
<text x="87.4" y="319.7" font-size="7.4" text-anchor="middle" fill="#1a1a1a" stroke="#1a1a1a" stroke-width="0.1" dominant-baseline="central" >-1</text>
<line x1="102.17" y1="312.20" x2="102.17" y2="310.80" stroke="#3a3a3a" stroke-width="0.6" />
<text x="102.2" y="319.7" font-size="7.4" text-anchor="middle" fill="#1a1a1a" stroke="#1a1a1a" stroke-width="0.1" dominant-baseline="central" >0</text>
<line x1="116.94" y1="312.20" x2="116.94" y2="310.80" stroke="#3a3a3a" stroke-width="0.6" />
<text x="116.9" y="319.7" font-size="7.4" text-anchor="middle" fill="#1a1a1a" stroke="#1a1a1a" stroke-width="0.1" dominant-baseline="central" >1</text>
<line x1="131.72" y1="312.20" x2="131.72" y2="310.80" stroke="#3a3a3a" stroke-width="0.6" />
<text x="131.7" y="319.7" font-size="7.4" text-anchor="middle" fill="#1a1a1a" stroke="#1a1a1a" stroke-width="0.1" dominant-baseline="central" >2</text>
<line x1="146.50" y1="312.20" x2="146.50" y2="310.80" stroke="#3a3a3a" stroke-width="0.6" />
<text x="146.5" y="319.7" font-size="7.4" text-anchor="middle" fill="#1a1a1a" stroke="#1a1a1a" stroke-width="0.1" dominant-baseline="central" >3</text>
<clipPath id="clipD11"><rect x="167.30" y="276.80" width="67.00" height="35.40"/></clipPath>
<g clip-path="url(#clipD11)">
<defs><path id="tr110" d="M167.3 306.9l1.2 1.9 1.1 1.4 1.2-0.1 1.2 0.1 1.1 0.1 1.2 0.2 1.2-0.1 1.1-0.3 1.2-0.7 1.2-0.6 1.1-0.9 1.2-0.5 1.2-0.4 1.1 0.5 1.2 0.1 1.2-0.5 1.1-0.6 1.2-1 1.2 0.1 1.1-1 1.2-0.8 1.2-1.8 1.1-1.1 1.2-1.1 1.2-0.9 1.1-1.2 1.2-2 1.2-1.3 1.1-1.2 1.2-0.4 1.2-1.1 1.1-0.5 1.2-0.1 1.2 1.3 1.1 0.1 1.2 0.7 1.2 0.5 1.1 2.1 1.2 1.4 1.2 0.7 1.1 1.3 1.2 1 1.2 1.4 1.1-0.3 1.2 0 1.2-0.5 1.1 1.1 1.2 0.3 1.2 0.4 1.1-0.1 1.2 0.6 1.2 0 1.1 0.3 1.2 0.4 1.2 1 1.1-0.2 1.2 1" fill="none" stroke="#2b3a9e" stroke-linejoin="round"/></defs><use href="#tr110" stroke-width="4.1" opacity="0.24"/>
<defs><path id="tr111" d="M167.3 306.5l1.2 2.6 1.1 1.4 1.2 0.7 1.2-1.1 1.1 0 1.2-0.7 1.2 0.2 1.1-1.4 1.2 0 1.2-0.8 1.1 0 1.2-1.2 1.2-0.2 1.1-0.5 1.2-0.6 1.2-0.7 1.1-0.9 1.2 0.4 1.2-0.7 1.1 0.2 1.2-1.5 1.2-1.3 1.1-1.8 1.2-1.1 1.2-2 1.1-1.9 1.2-1.4 1.2-1.7 1.1-1.1 1.2-1.8 1.2-0.6 1.1-0.7 1.2 0 1.2 0.7 1.1 0.3 1.2 0.6 1.2 1.9 1.1 1.3 1.2 1.7 1.2 0.8 1.1 2 1.2 1.5 1.2 1.9 1.1 1.3 1.2 0.9 1.2 0.3 1.1-0.2 1.2 0.5 1.2-0.4 1.1 0.6 1.2 0 1.2 0.5 1.1-0.3 1.2 0.1 1.2 0.8 1.1 0.6 1.2 0.7" fill="none" stroke="#2166cc" stroke-linejoin="round"/></defs><use href="#tr111" stroke-width="3.6" opacity="0.24"/>
<defs><path id="tr112" d="M167.3 305.6l1.2 1.2 1.1 1.1 1.2 0.4 1.2-0.3 1.1 0 1.2-0.1 1.2-0.7 1.1 0.2 1.2 0.3 1.2 0.8 1.1-1.2 1.2-1.2 1.2-0.7 1.1-0.3 1.2 0 1.2-0.7 1.1-0.1 1.2-0.5 1.2-0.5 1.1-1.4 1.2-2 1.2-0.9 1.1-1.4 1.2-0.8 1.2-2.4 1.1-1.6 1.2-2 1.2-1.6 1.1 0 1.2 1.1 1.2 0.7 1.1 0.5 1.2 1.1 1.2 1.2 1.1 0.9 1.2 1.3 1.2 0.9 1.1 1.3 1.2-0.5 1.2 1.3 1.1 0.5 1.2 1.6 1.2 0.4 1.1-0.2 1.2 0 1.2 0.9 1.1-0.2 1.2-0.7 1.2-0.7 1.1 1.1 1.2 1.1 1.2 1 1.1-0.3 1.2-0.8 1.2-0.1 1.1 0.3 1.2 0.7" fill="none" stroke="#33c1cf" stroke-linejoin="round"/></defs><use href="#tr112" stroke-width="4.1" opacity="0.24"/>
<defs><path id="tr113" d="M167.3 306.2l1.2 1.6 1.1 1.3 1.2 0.5 1.2-0.9 1.1-0.7 1.2-0.1 1.2-1 1.1-0.3 1.2-0.6 1.2 0 1.1-0.2 1.2-0.2 1.2-0.2 1.1-1.2 1.2-0.8 1.2-0.8 1.1 0.5 1.2-0.1 1.2-1.3 1.1-1.6 1.2-2.1 1.2-1.6 1.1-2.7 1.2-2.4 1.2-1.8 1.1-1.8 1.2-2.5 1.2-2.6 1.1-1.3 1.2-0.4 1.2 1.2 1.1 1.5 1.2 1.8 1.2 1.3 1.1 1.2 1.2 1.5 1.2 1.4 1.1 1.1 1.2 1.9 1.2 1.8 1.1 1.9 1.2 0.4 1.2 0.8 1.1 1 1.2 0.3 1.2 0.1 1.1 0 1.2 0.9 1.2 0.2 1.1 0.2 1.2 0 1.2 0.2 1.1-0.3 1.2 0.8 1.2 0.2 1.1 1.4 1.2 0.1" fill="none" stroke="#4fbf45" stroke-linejoin="round"/></defs><use href="#tr113" stroke-width="3.0" opacity="0.24"/>
<defs><path id="tr114" d="M167.3 306.9l1.2 1.9 1.1 2.1 1.2 0.2 1.2-0.7 1.1-0.5 1.2-0.1 1.2-1 1.1-0.4 1.2-1 1.2 0.3 1.1-0.6 1.2-0.6 1.2-0.7 1.1-1.1 1.2-0.2 1.2-0.3 1.1-1.2 1.2-1.2 1.2-1.6 1.1-0.9 1.2-1.9 1.2-1.8 1.1-1.3 1.2-1.4 1.2-2.2 1.1-2.5 1.2-2.8 1.2-0.9 1.1 0.1 1.2 0.9 1.2 0.9 1.1 0.6 1.2 1.5 1.2 0.4 1.1 1.4 1.2 1 1.2 1.6 1.1 1 1.2 1.5 1.2 1.4 1.1 0.7 1.2 1.2 1.2 1.3 1.1 1.8 1.2 0.8 1.2 0.1 1.1-0.3 1.2-0.8 1.2 0.3 1.1 1 1.2 0.4 1.2 0.5 1.1-0.3 1.2 0.4 1.2-0.5 1.1-0.2 1.2-1" fill="none" stroke="#d4d417" stroke-linejoin="round"/></defs><use href="#tr114" stroke-width="3.0" opacity="0.24"/>
<defs><path id="tr115" d="M167.3 307.2l1.2 0.7 1.1 0.2 1.2 0.8 1.2-0.3 1.1 0.4 1.2-0.6 1.2 1.2 1.1-0.2 1.2 0.3 1.2-1.3 1.1-1 1.2-0.8 1.2 0.6 1.1 0.2 1.2-0.6 1.2-0.3 1.1 0.1 1.2-0.2 1.2-1.1 1.1-1 1.2-0.9 1.2-0.2 1.1 0 1.2-1 1.2-1 1.1-1.6 1.2-0.4 1.2-0.8 1.1 0.2 1.2-0.2 1.2 0.7 1.1 0.2 1.2 0.9 1.2 0.1 1.1 0.3 1.2 1.1 1.2 0.8 1.1-0.3 1.2-0.6 1.2-0.2 1.1 0.6 1.2 0.6 1.2 0.6 1.1 0.5 1.2-0.4 1.2-0.2 1.1-0.8 1.2 0.4 1.2-0.3 1.1 0.6 1.2 0.7 1.2 0.3 1.1 0.2 1.2-0.7 1.2 0.7 1.1 0.3 1.2 0.5" fill="none" stroke="#e0782f" stroke-linejoin="round"/></defs><use href="#tr115" stroke-width="3.6" opacity="0.24"/>
<defs><path id="tr116" d="M167.3 308.2l1.2 0.7 1.1 0.9 1.2-0.2 1.2-0.8 1.1-1.9 1.2-1.3 1.2-0.1 1.1 0.2 1.2 0.6 1.2-0.3 1.1 0.2 1.2 0 1.2-0.1 1.1 0.4 1.2-0.5 1.2 0 1.1-0.3 1.2 0.2 1.2-0.5 1.1-0.4 1.2-0.6 1.2-0.4 1.1-1.2 1.2 0.2 1.2 0 1.1 0.3 1.2-1 1.2-0.2 1.1-0.1 1.2 1.1 1.2 0.4 1.1-0.2 1.2-0.2 1.2-0.6 1.1 1.2 1.2 0.4 1.2 1.7 1.1-0.3 1.2-0.1 1.2-1.3 1.1 0.1 1.2 0.2 1.2 1.2 1.1 0.1 1.2-0.4 1.2-0.6 1.1-0.4 1.2 0.2 1.2 0.5 1.1 0.3 1.2 0.5 1.2 0.6 1.1-0.2 1.2 0.1 1.2 0.1 1.1 0.6 1.2 0.2" fill="none" stroke="#dc1f1f" stroke-linejoin="round"/></defs><use href="#tr116" stroke-width="3.0" opacity="0.24"/>
<use href="#tr110" stroke-width="1.25"/>
<use href="#tr111" stroke-width="1.25"/>
<use href="#tr112" stroke-width="1.25"/>
<use href="#tr113" stroke-width="1.25"/>
<use href="#tr114" stroke-width="1.25"/>
<use href="#tr115" stroke-width="1.5"/>
<use href="#tr116" stroke-width="1.5"/>
</g>
<line x1="189.47" y1="276.80" x2="189.47" y2="312.20" stroke="#111" stroke-width="1.0" stroke-dasharray="3 2.4"/>
<line x1="167.30" y1="276.80" x2="167.30" y2="312.20" stroke="#3a3a3a" stroke-width="0.8" />
<line x1="167.30" y1="312.20" x2="233.80" y2="312.20" stroke="#3a3a3a" stroke-width="0.8" />
<line x1="167.30" y1="279.55" x2="168.70" y2="279.55" stroke="#3a3a3a" stroke-width="0.6" />
<text x="164.4" y="279.6" font-size="7.4" text-anchor="end" fill="#1a1a1a" stroke="#1a1a1a" stroke-width="0.1" dominant-baseline="central" >60</text>
<line x1="167.30" y1="287.40" x2="168.70" y2="287.40" stroke="#3a3a3a" stroke-width="0.6" />
<text x="164.4" y="287.4" font-size="7.4" text-anchor="end" fill="#1a1a1a" stroke="#1a1a1a" stroke-width="0.1" dominant-baseline="central" >40</text>
<line x1="167.30" y1="295.25" x2="168.70" y2="295.25" stroke="#3a3a3a" stroke-width="0.6" />
<text x="164.4" y="295.2" font-size="7.4" text-anchor="end" fill="#1a1a1a" stroke="#1a1a1a" stroke-width="0.1" dominant-baseline="central" >20</text>
<line x1="167.30" y1="303.10" x2="168.70" y2="303.10" stroke="#3a3a3a" stroke-width="0.6" />
<text x="164.4" y="303.1" font-size="7.4" text-anchor="end" fill="#1a1a1a" stroke="#1a1a1a" stroke-width="0.1" dominant-baseline="central" >0</text>
<line x1="167.30" y1="310.95" x2="168.70" y2="310.95" stroke="#3a3a3a" stroke-width="0.6" />
<text x="164.4" y="311.0" font-size="7.4" text-anchor="end" fill="#1a1a1a" stroke="#1a1a1a" stroke-width="0.1" dominant-baseline="central" >-20</text>
<line x1="174.69" y1="312.20" x2="174.69" y2="310.80" stroke="#3a3a3a" stroke-width="0.6" />
<text x="174.7" y="319.7" font-size="7.4" text-anchor="middle" fill="#1a1a1a" stroke="#1a1a1a" stroke-width="0.1" dominant-baseline="central" >-1</text>
<line x1="189.47" y1="312.20" x2="189.47" y2="310.80" stroke="#3a3a3a" stroke-width="0.6" />
<text x="189.5" y="319.7" font-size="7.4" text-anchor="middle" fill="#1a1a1a" stroke="#1a1a1a" stroke-width="0.1" dominant-baseline="central" >0</text>
<line x1="204.24" y1="312.20" x2="204.24" y2="310.80" stroke="#3a3a3a" stroke-width="0.6" />
<text x="204.2" y="319.7" font-size="7.4" text-anchor="middle" fill="#1a1a1a" stroke="#1a1a1a" stroke-width="0.1" dominant-baseline="central" >1</text>
<line x1="219.02" y1="312.20" x2="219.02" y2="310.80" stroke="#3a3a3a" stroke-width="0.6" />
<text x="219.0" y="319.7" font-size="7.4" text-anchor="middle" fill="#1a1a1a" stroke="#1a1a1a" stroke-width="0.1" dominant-baseline="central" >2</text>
<line x1="233.80" y1="312.20" x2="233.80" y2="310.80" stroke="#3a3a3a" stroke-width="0.6" />
<text x="233.8" y="319.7" font-size="7.4" text-anchor="middle" fill="#1a1a1a" stroke="#1a1a1a" stroke-width="0.1" dominant-baseline="central" >3</text>
<clipPath id="clipD12"><rect x="255.30" y="276.80" width="67.00" height="35.40"/></clipPath>
<g clip-path="url(#clipD12)">
<defs><path id="tr120" d="M255.3 305.3l1.2 3.1 1.1 1.7 1.2-1.4 1.2-0.7 1.1-0.8 1.2-1.2 1.2-1.6 1.1-0.1 1.2 0 1.2-0.1 1.1-0.8 1.2-1 1.2-0.1 1.1 0.4 1.2 1.6 1.2-0.3 1.1-0.2 1.2-0.9 1.2 0.6 1.1-0.4 1.2 0.3 1.2-0.7 1.1-0.1 1.2-1 1.2-0.7 1.1-0.1 1.2-0.2 1.2 0 1.1 0.3 1.2 0 1.2 0.1 1.1-0.9 1.2 0.2 1.2-0.3 1.1 0.2 1.2 0.3 1.2 0.9 1.1 0.7 1.2-0.5 1.2-0.6 1.1-0.7 1.2-0.2 1.2 0.4 1.1-0.1 1.2 0.1 1.2-0.4 1.1 0.3 1.2 0.8 1.2 0.1 1.1 0.7 1.2 0 1.2 0.3 1.1-0.3 1.2-0.4 1.2 0.1 1.1 0.5 1.2-0.1" fill="none" stroke="#2b3a9e" stroke-linejoin="round"/></defs><use href="#tr120" stroke-width="4.1" opacity="0.24"/>
<defs><path id="tr121" d="M255.3 305.8l1.2 2.2 1.1 1.4 1.2-0.3 1.2-1.5 1.1-2 1.2-1.1 1.2-0.2 1.1 0 1.2-1.5 1.2-0.3 1.1-0.4 1.2 0.8 1.2 0.7 1.1 0.7 1.2 0.6 1.2-0.9 1.1-0.5 1.2-1.1 1.2 0.1 1.1-0.2 1.2 0.4 1.2-0.4 1.1-1 1.2-0.4 1.2-0.7 1.1 0.2 1.2 0.2 1.2 0.1 1.1 0.4 1.2-0.4 1.2 0.1 1.1-0.2 1.2 0.2 1.2-0.5 1.1 0.1 1.2-0.4 1.2 0 1.1-0.3 1.2 0 1.2 0.1 1.1-0.1 1.2-0.2 1.2 1.1 1.1-0.3 1.2 0.7 1.2 0.2 1.1 1 1.2 0.5 1.2-0.5 1.1 0.3 1.2 0 1.2-0.1 1.1-0.5 1.2 0 1.2 0.2 1.1 0.2 1.2-0.3" fill="none" stroke="#2166cc" stroke-linejoin="round"/></defs><use href="#tr121" stroke-width="3.6" opacity="0.24"/>
<defs><path id="tr122" d="M255.3 304.8l1.2 3.6 1.1 1.8 1.2-0.4 1.2-1.9 1.1-1.3 1.2-0.6 1.2-0.9 1.1-1.3 1.2-0.4 1.2 0 1.1 0.2 1.2-0.1 1.2 0.6 1.1 0 1.2 0 1.2-0.5 1.1-0.2 1.2-0.2 1.2-0.1 1.1 0.8 1.2 0.5 1.2-0.4 1.1-1 1.2-1 1.2-0.3 1.1 0 1.2 0.4 1.2 0.4 1.1-0.3 1.2-0.2 1.2-0.7 1.1 0.4 1.2 0.2 1.2 0.3 1.1 0.2 1.2-1.2 1.2 0.3 1.1-0.6 1.2 0.8 1.2 0 1.1 0.6 1.2 0.7 1.2-0.6 1.1-1 1.2-1.4 1.2 0.9 1.1 0.2 1.2 0.8 1.2-0.7 1.1 0.4 1.2-0.2 1.2 0 1.1-0.3 1.2-0.2 1.2 0.4 1.1-0.3 1.2 0.8" fill="none" stroke="#33c1cf" stroke-linejoin="round"/></defs><use href="#tr122" stroke-width="4.1" opacity="0.24"/>
<defs><path id="tr123" d="M255.3 305.4l1.2 3.9 1.1 0.8 1.2-1.1 1.2-2.1 1.1-1.3 1.2-1 1.2 0.1 1.1-0.3 1.2-0.3 1.2-0.8 1.1 0.3 1.2 0.4 1.2 0.5 1.1-1.4 1.2-0.3 1.2-0.3 1.1 0.1 1.2 0.6 1.2-0.6 1.1 0.1 1.2-0.4 1.2 0.7 1.1 0.1 1.2 0.6 1.2-0.5 1.1 0.5 1.2-1.4 1.2 0 1.1 0.1 1.2 0.1 1.2-0.6 1.1-0.7 1.2-0.5 1.2-0.2 1.1-0.2 1.2 1 1.2 1.4 1.1-0.1 1.2-0.5 1.2-0.8 1.1 0.7 1.2 0.4 1.2 0.4 1.1-0.5 1.2-0.2 1.2-1.1 1.1-0.1 1.2 0.2 1.2 0.4 1.1-0.4 1.2 0.2 1.2 0.8 1.1 0.8 1.2 0.4 1.2-0.1 1.1-0.2 1.2-0.5" fill="none" stroke="#4fbf45" stroke-linejoin="round"/></defs><use href="#tr123" stroke-width="3.0" opacity="0.24"/>
<defs><path id="tr124" d="M255.3 305.1l1.2 2.9 1.1 1.4 1.2-1.1 1.2-1.9 1.1-0.8 1.2-0.4 1.2-0.8 1.1-0.8 1.2-0.6 1.2 0.6 1.1-0.4 1.2 0.2 1.2 0.2 1.1 0.3 1.2 0 1.2-0.8 1.1 0.1 1.2-0.2 1.2 0.3 1.1-0.4 1.2 0.1 1.2-0.6 1.1 0.5 1.2-0.2 1.2 0.5 1.1-0.8 1.2-0.3 1.2-0.5 1.1 0.2 1.2 0.2 1.2 0.5 1.1 0 1.2-0.1 1.2-0.5 1.1-0.2 1.2-0.5 1.2 0.1 1.1 0.5 1.2 0.7 1.2 0 1.1-0.4 1.2-1 1.2 0 1.1-0.5 1.2 0 1.2 0.5 1.1 0.2 1.2 0.3 1.2-0.8 1.1 0.5 1.2 0.1 1.2 0.7 1.1 0 1.2 0.4 1.2-0.8 1.1 0.1 1.2-0.3" fill="none" stroke="#d4d417" stroke-linejoin="round"/></defs><use href="#tr124" stroke-width="3.0" opacity="0.24"/>
<defs><path id="tr125" d="M255.3 305.2l1.2 2.8 1.1 1.7 1.2-0.8 1.2-1 1.1-1.3 1.2-0.6 1.2-0.9 1.1-0.6 1.2 0.4 1.2-0.3 1.1-0.6 1.2-0.5 1.2-0.1 1.1 0.6 1.2-0.4 1.2-0.1 1.1-0.7 1.2 0.3 1.2 0.1 1.1 0 1.2-0.7 1.2-0.2 1.1-0.2 1.2 0.6 1.2-0.3 1.1-0.4 1.2-0.2 1.2 0 1.1 0.2 1.2-0.2 1.2 0.7 1.1-0.6 1.2 0.7 1.2-0.6 1.1 0.8 1.2-1.1 1.2 0.3 1.1-0.1 1.2 0.2 1.2-0.3 1.1 0.2 1.2 0 1.2 0 1.1-0.5 1.2 0.5 1.2 0.2 1.1 0.5 1.2 0.1 1.2-0.1 1.1-0.2 1.2-0.8 1.2 0.2 1.1 0.1 1.2 0.1 1.2-0.1 1.1 0.2 1.2 0.4" fill="none" stroke="#e0782f" stroke-linejoin="round"/></defs><use href="#tr125" stroke-width="3.6" opacity="0.24"/>
<defs><path id="tr126" d="M255.3 305.3l1.2 2.6 1.1 1.4 1.2 0.2 1.2-1.5 1.1-1.7 1.2-0.7 1.2-0.1 1.1-0.3 1.2-1.1 1.2-1 1.1 0.5 1.2 0.3 1.2 0.8 1.1-0.4 1.2 0.3 1.2-0.4 1.1-0.3 1.2-0.3 1.2 0.2 1.1 0.4 1.2-0.1 1.2 0 1.1-0.2 1.2-0.2 1.2-0.9 1.1 0.7 1.2 0.6 1.2 0.9 1.1-1.2 1.2-1.4 1.2-0.5 1.1 0.2 1.2 0.4 1.2 1 1.1 0.1 1.2 1.5 1.2-0.9 1.1 0.1 1.2-1 1.2 0 1.1 0 1.2-0.5 1.2 0.1 1.1-0.3 1.2-0.6 1.2 0.2 1.1-0.2 1.2 1.2 1.2-0.6 1.1 0 1.2-0.3 1.2 0 1.1-0.2 1.2-0.4 1.2 0.3 1.1 0.6 1.2 0.1" fill="none" stroke="#dc1f1f" stroke-linejoin="round"/></defs><use href="#tr126" stroke-width="3.0" opacity="0.24"/>
<use href="#tr120" stroke-width="1.25"/>
<use href="#tr121" stroke-width="1.25"/>
<use href="#tr122" stroke-width="1.25"/>
<use href="#tr123" stroke-width="1.25"/>
<use href="#tr124" stroke-width="1.25"/>
<use href="#tr125" stroke-width="1.5"/>
<use href="#tr126" stroke-width="1.5"/>
</g>
<line x1="277.47" y1="276.80" x2="277.47" y2="312.20" stroke="#111" stroke-width="1.0" stroke-dasharray="3 2.4"/>
<line x1="255.30" y1="276.80" x2="255.30" y2="312.20" stroke="#3a3a3a" stroke-width="0.8" />
<line x1="255.30" y1="312.20" x2="321.80" y2="312.20" stroke="#3a3a3a" stroke-width="0.8" />
<line x1="255.30" y1="279.55" x2="256.70" y2="279.55" stroke="#3a3a3a" stroke-width="0.6" />
<text x="252.4" y="279.6" font-size="7.4" text-anchor="end" fill="#1a1a1a" stroke="#1a1a1a" stroke-width="0.1" dominant-baseline="central" >60</text>
<line x1="255.30" y1="287.40" x2="256.70" y2="287.40" stroke="#3a3a3a" stroke-width="0.6" />
<text x="252.4" y="287.4" font-size="7.4" text-anchor="end" fill="#1a1a1a" stroke="#1a1a1a" stroke-width="0.1" dominant-baseline="central" >40</text>
<line x1="255.30" y1="295.25" x2="256.70" y2="295.25" stroke="#3a3a3a" stroke-width="0.6" />
<text x="252.4" y="295.2" font-size="7.4" text-anchor="end" fill="#1a1a1a" stroke="#1a1a1a" stroke-width="0.1" dominant-baseline="central" >20</text>
<line x1="255.30" y1="303.10" x2="256.70" y2="303.10" stroke="#3a3a3a" stroke-width="0.6" />
<text x="252.4" y="303.1" font-size="7.4" text-anchor="end" fill="#1a1a1a" stroke="#1a1a1a" stroke-width="0.1" dominant-baseline="central" >0</text>
<line x1="255.30" y1="310.95" x2="256.70" y2="310.95" stroke="#3a3a3a" stroke-width="0.6" />
<text x="252.4" y="311.0" font-size="7.4" text-anchor="end" fill="#1a1a1a" stroke="#1a1a1a" stroke-width="0.1" dominant-baseline="central" >-20</text>
<line x1="262.69" y1="312.20" x2="262.69" y2="310.80" stroke="#3a3a3a" stroke-width="0.6" />
<text x="262.7" y="319.7" font-size="7.4" text-anchor="middle" fill="#1a1a1a" stroke="#1a1a1a" stroke-width="0.1" dominant-baseline="central" >-1</text>
<line x1="277.47" y1="312.20" x2="277.47" y2="310.80" stroke="#3a3a3a" stroke-width="0.6" />
<text x="277.5" y="319.7" font-size="7.4" text-anchor="middle" fill="#1a1a1a" stroke="#1a1a1a" stroke-width="0.1" dominant-baseline="central" >0</text>
<line x1="292.24" y1="312.20" x2="292.24" y2="310.80" stroke="#3a3a3a" stroke-width="0.6" />
<text x="292.2" y="319.7" font-size="7.4" text-anchor="middle" fill="#1a1a1a" stroke="#1a1a1a" stroke-width="0.1" dominant-baseline="central" >1</text>
<line x1="307.02" y1="312.20" x2="307.02" y2="310.80" stroke="#3a3a3a" stroke-width="0.6" />
<text x="307.0" y="319.7" font-size="7.4" text-anchor="middle" fill="#1a1a1a" stroke="#1a1a1a" stroke-width="0.1" dominant-baseline="central" >2</text>
<line x1="321.80" y1="312.20" x2="321.80" y2="310.80" stroke="#3a3a3a" stroke-width="0.6" />
<text x="321.8" y="319.7" font-size="7.4" text-anchor="middle" fill="#1a1a1a" stroke="#1a1a1a" stroke-width="0.1" dominant-baseline="central" >3</text>
<clipPath id="clipD13"><rect x="343.30" y="276.80" width="67.00" height="35.40"/></clipPath>
<g clip-path="url(#clipD13)">
<defs><path id="tr130" d="M343.3 305.6l1.2 2.3 1.1 0.8 1.2-1.1 1.2-1.4 1.1-0.8 1.2 0.3 1.2-0.5 1.1-0.6 1.2-0.7 1.2-0.2 1.1-0.3 1.2 0.2 1.2 0.2 1.1 0.8 1.2-0.8 1.2 0.2 1.1-0.1 1.2 0 1.2-0.4 1.1-1.1 1.2 0.1 1.2-1.2 1.1-0.3 1.2-0.5 1.2 0.4 1.1 0.1 1.2-0.4 1.2-1 1.1-0.1 1.2 0.5 1.2 0.3 1.1-0.6 1.2 0.2 1.2 0.5 1.1 0.7 1.2-0.7 1.2-0.4 1.1 0 1.2 0.7 1.2 0 1.1 0.6 1.2-0.6 1.2 0.4 1.1-1.4 1.2-0.1 1.2 0.3 1.1 0.8 1.2 0.5 1.2 0.2 1.1-0.1 1.2-0.3 1.2 0.3 1.1 0.2 1.2-0.1 1.2-0.7 1.1 0.3 1.2 0.8" fill="none" stroke="#2b3a9e" stroke-linejoin="round"/></defs><use href="#tr130" stroke-width="4.1" opacity="0.24"/>
<defs><path id="tr131" d="M343.3 305.5l1.2 2.7 1.1 1.4 1.2 0.2 1.2-1.3 1.1-1.4 1.2-1.9 1.2-0.7 1.1-0.8 1.2-0.1 1.2-0.6 1.1 0 1.2 1.1 1.2-0.3 1.1-0.3 1.2-0.7 1.2 0.5 1.1 0.5 1.2 0.1 1.2 0.4 1.1-0.7 1.2-0.8 1.2-0.8 1.1-0.5 1.2-0.3 1.2-0.2 1.1 0.4 1.2-0.2 1.2-0.6 1.1-0.8 1.2-0.4 1.2 0.5 1.1 0.5 1.2 0 1.2 0.1 1.1-0.5 1.2 0.6 1.2-0.2 1.1 0.3 1.2 0.2 1.2 0.7 1.1-0.7 1.2-0.2 1.2 0.1 1.1 1 1.2 0.5 1.2-0.3 1.1 0.6 1.2-0.5 1.2-0.8 1.1-0.7 1.2 0 1.2 0.4 1.1 0.4 1.2-0.1 1.2 0.9 1.1-0.2 1.2 0.7" fill="none" stroke="#2166cc" stroke-linejoin="round"/></defs><use href="#tr131" stroke-width="3.6" opacity="0.24"/>
<defs><path id="tr132" d="M343.3 304.6l1.2 3.7 1.1 1.8 1.2-0.8 1.2-2 1.1-1.8 1.2-1 1.2-0.5 1.1 0 1.2-0.7 1.2-0.2 1.1-0.2 1.2-0.1 1.2-0.6 1.1-0.2 1.2 0.6 1.2 0.8 1.1-0.2 1.2 0 1.2-0.7 1.1 0.5 1.2-0.4 1.2 0 1.1-0.6 1.2-0.3 1.2-0.2 1.1 0.3 1.2 0.2 1.2 0 1.1-1.2 1.2-0.5 1.2 0.2 1.1 0.8 1.2 0 1.2-0.8 1.1 0 1.2-0.1 1.2 0.4 1.1-0.1 1.2 0.6 1.2 0.2 1.1 0.2 1.2-0.5 1.2 0.6 1.1-0.6 1.2 0 1.2-0.8 1.1-0.1 1.2 0.1 1.2 0.9 1.1 0.6 1.2 0.1 1.2-0.3 1.1 0.5 1.2 0 1.2-0.3 1.1-0.2 1.2 0.3" fill="none" stroke="#33c1cf" stroke-linejoin="round"/></defs><use href="#tr132" stroke-width="4.1" opacity="0.24"/>
<defs><path id="tr133" d="M343.3 305.5l1.2 2.4 1.1 2.1 1.2-0.6 1.2-1.7 1.1-2 1.2-0.9 1.2-0.5 1.1-0.1 1.2 0.1 1.2 0.8 1.1 0 1.2-0.6 1.2-1 1.1-0.4 1.2 0.3 1.2 0.1 1.1-0.4 1.2-0.4 1.2 0.8 1.1 0.2 1.2 0.8 1.2-0.9 1.1-0.1 1.2-0.9 1.2-0.6 1.1-0.9 1.2-0.6 1.2 0.3 1.1 0.2 1.2 0.3 1.2 0 1.1-0.6 1.2 0.1 1.2 0.2 1.1 0.6 1.2-0.6 1.2-0.5 1.1 0.5 1.2 0.4 1.2 0.4 1.1 0.2 1.2-0.1 1.2 0.2 1.1-0.8 1.2-0.1 1.2 0.2 1.1 0.3 1.2 0.4 1.2 0 1.1 0.2 1.2-0.4 1.2-0.1 1.1 0.5 1.2 0.7 1.2-0.4 1.1-1.3 1.2 0.1" fill="none" stroke="#4fbf45" stroke-linejoin="round"/></defs><use href="#tr133" stroke-width="3.0" opacity="0.24"/>
<defs><path id="tr134" d="M343.3 305.8l1.2 2.7 1.1 1.7 1.2-1.3 1.2-2.2 1.1-1.2 1.2-1 1.2-0.2 1.1-0.5 1.2 0.2 1.2-0.4 1.1-0.6 1.2-0.4 1.2 0.9 1.1-0.1 1.2-0.2 1.2-1.2 1.1-0.2 1.2-0.2 1.2 0.6 1.1 0.4 1.2 0.3 1.2-0.2 1.1-0.2 1.2-0.6 1.2-0.4 1.1-0.1 1.2 0.3 1.2-0.1 1.1-0.5 1.2 0 1.2 0 1.1 0.4 1.2-0.5 1.2 0 1.1 0.2 1.2 0.2 1.2-0.3 1.1-0.7 1.2 0.5 1.2 1.6 1.1 0.5 1.2-0.3 1.2-0.6 1.1 0.7 1.2-0.3 1.2-0.1 1.1-0.4 1.2-0.1 1.2-0.9 1.1-0.6 1.2-0.1 1.2 1 1.1 0.4 1.2 0.4 1.2-0.5 1.1 0.1 1.2 0" fill="none" stroke="#d4d417" stroke-linejoin="round"/></defs><use href="#tr134" stroke-width="3.0" opacity="0.24"/>
<defs><path id="tr135" d="M343.3 304.8l1.2 2.7 1.1 1.6 1.2-0.6 1.2-0.4 1.1-1.7 1.2-0.9 1.2-1 1.1-0.9 1.2 0 1.2 0 1.1 1 1.2-0.4 1.2-0.5 1.1-1 1.2 0.8 1.2 0 1.1 0 1.2-0.4 1.2-0.3 1.1 0.3 1.2-0.4 1.2 0 1.1-1.1 1.2 0.5 1.2-0.3 1.1 0.2 1.2-0.1 1.2 0.2 1.1-0.5 1.2-0.8 1.2 1 1.1 0.9 1.2 0.9 1.2-1.1 1.1 0.2 1.2-0.4 1.2 0.4 1.1-0.3 1.2 0 1.2 0 1.1 0.2 1.2-0.2 1.2 0 1.1-0.5 1.2 0.8 1.2-0.5 1.1 0.6 1.2-1.1 1.2 0.4 1.1 0.1 1.2 1.1 1.2-0.9 1.1-0.4 1.2-0.1 1.2 0.8 1.1 0.6 1.2-0.9" fill="none" stroke="#e0782f" stroke-linejoin="round"/></defs><use href="#tr135" stroke-width="3.6" opacity="0.24"/>
<defs><path id="tr136" d="M343.3 305.6l1.2 2.8 1.1 1 1.2-0.8 1.2-1.2 1.1-1.3 1.2-0.5 1.2-0.3 1.1-0.4 1.2-0.2 1.2-0.3 1.1 0.3 1.2 0.3 1.2-0.1 1.1-0.5 1.2 0.5 1.2 0.2 1.1-0.2 1.2-1.2 1.2 0 1.1 0 1.2 0.5 1.2 0 1.1-0.3 1.2-0.3 1.2-0.4 1.1 1.2 1.2 0.1 1.2 0.2 1.1-0.6 1.2 0.2 1.2-0.8 1.1 0 1.2-0.5 1.2 0.6 1.1-0.4 1.2-0.8 1.2 0 1.1-0.3 1.2 0 1.2-0.7 1.1 0.5 1.2 1.1 1.2 0.3 1.1 0.2 1.2-0.6 1.2 0.9 1.1 0 1.2 0 1.2-0.4 1.1-0.2 1.2-0.5 1.2-0.4 1.1 0.4 1.2-0.3 1.2 0.9 1.1 0 1.2 0.7" fill="none" stroke="#dc1f1f" stroke-linejoin="round"/></defs><use href="#tr136" stroke-width="3.0" opacity="0.24"/>
<use href="#tr130" stroke-width="1.25"/>
<use href="#tr131" stroke-width="1.25"/>
<use href="#tr132" stroke-width="1.25"/>
<use href="#tr133" stroke-width="1.25"/>
<use href="#tr134" stroke-width="1.25"/>
<use href="#tr135" stroke-width="1.5"/>
<use href="#tr136" stroke-width="1.5"/>
</g>
<line x1="365.47" y1="276.80" x2="365.47" y2="312.20" stroke="#111" stroke-width="1.0" stroke-dasharray="3 2.4"/>
<line x1="343.30" y1="276.80" x2="343.30" y2="312.20" stroke="#3a3a3a" stroke-width="0.8" />
<line x1="343.30" y1="312.20" x2="409.80" y2="312.20" stroke="#3a3a3a" stroke-width="0.8" />
<line x1="343.30" y1="279.55" x2="344.70" y2="279.55" stroke="#3a3a3a" stroke-width="0.6" />
<text x="340.4" y="279.6" font-size="7.4" text-anchor="end" fill="#1a1a1a" stroke="#1a1a1a" stroke-width="0.1" dominant-baseline="central" >60</text>
<line x1="343.30" y1="287.40" x2="344.70" y2="287.40" stroke="#3a3a3a" stroke-width="0.6" />
<text x="340.4" y="287.4" font-size="7.4" text-anchor="end" fill="#1a1a1a" stroke="#1a1a1a" stroke-width="0.1" dominant-baseline="central" >40</text>
<line x1="343.30" y1="295.25" x2="344.70" y2="295.25" stroke="#3a3a3a" stroke-width="0.6" />
<text x="340.4" y="295.2" font-size="7.4" text-anchor="end" fill="#1a1a1a" stroke="#1a1a1a" stroke-width="0.1" dominant-baseline="central" >20</text>
<line x1="343.30" y1="303.10" x2="344.70" y2="303.10" stroke="#3a3a3a" stroke-width="0.6" />
<text x="340.4" y="303.1" font-size="7.4" text-anchor="end" fill="#1a1a1a" stroke="#1a1a1a" stroke-width="0.1" dominant-baseline="central" >0</text>
<line x1="343.30" y1="310.95" x2="344.70" y2="310.95" stroke="#3a3a3a" stroke-width="0.6" />
<text x="340.4" y="311.0" font-size="7.4" text-anchor="end" fill="#1a1a1a" stroke="#1a1a1a" stroke-width="0.1" dominant-baseline="central" >-20</text>
<line x1="350.69" y1="312.20" x2="350.69" y2="310.80" stroke="#3a3a3a" stroke-width="0.6" />
<text x="350.7" y="319.7" font-size="7.4" text-anchor="middle" fill="#1a1a1a" stroke="#1a1a1a" stroke-width="0.1" dominant-baseline="central" >-1</text>
<line x1="365.47" y1="312.20" x2="365.47" y2="310.80" stroke="#3a3a3a" stroke-width="0.6" />
<text x="365.5" y="319.7" font-size="7.4" text-anchor="middle" fill="#1a1a1a" stroke="#1a1a1a" stroke-width="0.1" dominant-baseline="central" >0</text>
<line x1="380.24" y1="312.20" x2="380.24" y2="310.80" stroke="#3a3a3a" stroke-width="0.6" />
<text x="380.2" y="319.7" font-size="7.4" text-anchor="middle" fill="#1a1a1a" stroke="#1a1a1a" stroke-width="0.1" dominant-baseline="central" >1</text>
<line x1="395.02" y1="312.20" x2="395.02" y2="310.80" stroke="#3a3a3a" stroke-width="0.6" />
<text x="395.0" y="319.7" font-size="7.4" text-anchor="middle" fill="#1a1a1a" stroke="#1a1a1a" stroke-width="0.1" dominant-baseline="central" >2</text>
<line x1="409.80" y1="312.20" x2="409.80" y2="310.80" stroke="#3a3a3a" stroke-width="0.6" />
<text x="409.8" y="319.7" font-size="7.4" text-anchor="middle" fill="#1a1a1a" stroke="#1a1a1a" stroke-width="0.1" dominant-baseline="central" >3</text>
<clipPath id="clipD14"><rect x="430.50" y="276.80" width="67.00" height="35.40"/></clipPath>
<g clip-path="url(#clipD14)">
<defs><path id="tr140" d="M430.5 306.0l1.2 2.5 1.1 1.2 1.2-1.2 1.2-1.3 1.1-2 1.2 0.3 1.2-0.6 1.1-0.7 1.2-1.6 1.2-0.6 1.1 0.4 1.2 0.6 1.2 0.7 1.1-0.4 1.2 0.3 1.2-0.3 1.1 1 1.2 0.2 1.2-0.8 1.1-1 1.2-1.1 1.2 0.9 1.1-0.6 1.2-1.2 1.2-0.7 1.1 0.4 1.2 0.4 1.2-0.7 1.1-1.2 1.2 0.1 1.2 0.1 1.1 0.2 1.2-0.6 1.2-0.5 1.1-0.7 1.2 0.7 1.2-0.1 1.1 0.5 1.2-0.3 1.2 0 1.1 0 1.2 0.3 1.2 1 1.1 0.1 1.2-0.3 1.2-0.3 1.1 0.2 1.2 1 1.2 0.4 1.1-0.1 1.2-0.9 1.2-0.3 1.1 0.9 1.2 0.7 1.2 0.6 1.1-0.4 1.2-0.7" fill="none" stroke="#2b3a9e" stroke-linejoin="round"/></defs><use href="#tr140" stroke-width="4.1" opacity="0.24"/>
<defs><path id="tr141" d="M430.5 304.6l1.2 3.3 1.1 1.5 1.2-0.4 1.2-1.8 1.1-0.6 1.2-1 1.2-0.9 1.1-0.3 1.2 0.9 1.2 0.5 1.1-1.5 1.2-1 1.2-0.6 1.1 0.3 1.2-0.3 1.2 0.4 1.1 0.4 1.2 0.1 1.2-0.6 1.1-0.7 1.2-0.4 1.2-0.1 1.1-0.7 1.2-0.5 1.2-1 1.1 1 1.2-0.6 1.2 0.9 1.1-1.3 1.2 0.3 1.2-1.1 1.1 0.2 1.2-0.2 1.2 0 1.1-0.2 1.2 0.2 1.2 1.1 1.1 0.5 1.2-0.4 1.2-0.5 1.1-0.3 1.2 0.4 1.2 0.1 1.1-0.1 1.2-0.7 1.2-0.2 1.1 0.5 1.2 0.4 1.2 0.5 1.1 0.4 1.2 0.1 1.2-0.7 1.1 0 1.2 0.8 1.2 0.3 1.1 0.4 1.2 0" fill="none" stroke="#2166cc" stroke-linejoin="round"/></defs><use href="#tr141" stroke-width="3.6" opacity="0.24"/>
<defs><path id="tr142" d="M430.5 305.8l1.2 2.6 1.1 0.5 1.2 0 1.2-0.7 1.1-0.6 1.2-0.9 1.2-1.9 1.1-0.5 1.2-0.7 1.2 0.5 1.1-0.6 1.2-0.7 1.2 0.4 1.1-0.2 1.2 0.4 1.2 0 1.1 0.2 1.2 0.5 1.2-1.1 1.1 0 1.2-1.2 1.2-0.3 1.1-0.4 1.2 0.2 1.2 0.1 1.1-0.1 1.2-1 1.2-0.3 1.1-0.4 1.2 0.3 1.2-0.3 1.1 0.2 1.2-0.9 1.2 0.6 1.1-0.5 1.2 1 1.2-0.8 1.1-0.3 1.2-0.7 1.2 0.5 1.1 0.3 1.2 0 1.2 0.1 1.1-0.1 1.2 0.5 1.2 0 1.1 0.2 1.2 0.3 1.2 1 1.1-0.6 1.2 0.5 1.2 0.3 1.1 1.1 1.2-1 1.2-1.2 1.1 0.1 1.2 0.7" fill="none" stroke="#33c1cf" stroke-linejoin="round"/></defs><use href="#tr142" stroke-width="4.1" opacity="0.24"/>
<defs><path id="tr143" d="M430.5 305.9l1.2 2.9 1.1 0.6 1.2-0.4 1.2-0.6 1.1-0.3 1.2-1.3 1.2-1.6 1.1-1.2 1.2-0.3 1.2 0 1.1 0.5 1.2-0.2 1.2-0.4 1.1-0.7 1.2-0.3 1.2 0.5 1.1 1 1.2 1.1 1.2-1.4 1.1-0.7 1.2-1.1 1.2 0.5 1.1-1 1.2-1.4 1.2-0.1 1.1 0.1 1.2 1.1 1.2-0.5 1.1-0.5 1.2 0 1.2-0.6 1.1-0.2 1.2-0.6 1.2 0.6 1.1 0.5 1.2 0.8 1.2-0.2 1.1 0.3 1.2-0.3 1.2-0.1 1.1 0.1 1.2 0.1 1.2 0.1 1.1-1 1.2 0.2 1.2-0.1 1.1 1 1.2-0.3 1.2 0.3 1.1 0.3 1.2-0.2 1.2-0.4 1.1-0.3 1.2 0.3 1.2 1.2 1.1-0.6 1.2 0.2" fill="none" stroke="#4fbf45" stroke-linejoin="round"/></defs><use href="#tr143" stroke-width="3.0" opacity="0.24"/>
<defs><path id="tr144" d="M430.5 305.8l1.2 2.8 1.1 2.7 1.2-1.7 1.2-2.5 1.1-1.9 1.2 0 1.2 0.3 1.1-0.7 1.2-0.7 1.2-0.9 1.1 0 1.2 0 1.2 1.1 1.1-1 1.2 0.2 1.2-0.4 1.1-0.1 1.2-0.1 1.2-0.8 1.1 0 1.2-0.9 1.2 0.5 1.1 0.1 1.2 0.2 1.2-0.5 1.1-0.7 1.2 0.2 1.2-0.6 1.1-0.2 1.2 0.3 1.2 0.6 1.1 0.8 1.2-0.5 1.2-0.5 1.1-0.2 1.2-0.2 1.2 0.3 1.1 0.1 1.2-0.1 1.2-0.4 1.1 0.3 1.2 0.3 1.2 0.6 1.1-0.2 1.2 0.6 1.2-0.6 1.1-0.3 1.2-0.4 1.2 0.7 1.1 0.4 1.2 0.3 1.2 0.4 1.1-0.7 1.2-1.4 1.2 0 1.1 1 1.2 1.1" fill="none" stroke="#d4d417" stroke-linejoin="round"/></defs><use href="#tr144" stroke-width="3.0" opacity="0.24"/>
<defs><path id="tr145" d="M430.5 306.1l1.2 3 1.1 1.9 1.2-1.9 1.2-1.1 1.1-2.1 1.2-0.2 1.2-0.8 1.1-0.5 1.2-0.2 1.2-0.8 1.1-0.1 1.2-0.2 1.2 0.5 1.1 0.2 1.2 0.2 1.2-0.2 1.1-1 1.2-0.7 1.2-0.2 1.1 0 1.2-0.2 1.2-0.2 1.1 0.5 1.2 0.6 1.2-0.2 1.1-0.1 1.2 0 1.2 0.4 1.1-1 1.2-0.7 1.2-0.7 1.1 0.6 1.2 0.2 1.2 0 1.1-0.3 1.2 0 1.2 0 1.1 0 1.2 0.2 1.2 0.1 1.1 0.7 1.2-0.3 1.2 0.2 1.1-0.6 1.2 0.5 1.2-0.7 1.1 0.6 1.2 0 1.2 1 1.1-0.3 1.2 0.1 1.2-1 1.1-0.1 1.2-0.5 1.2 1.2 1.1 0.5 1.2 0.5" fill="none" stroke="#e0782f" stroke-linejoin="round"/></defs><use href="#tr145" stroke-width="3.6" opacity="0.24"/>
<defs><path id="tr146" d="M430.5 304.8l1.2 2.5 1.1 1.6 1.2-0.4 1.2-1.4 1.1-0.8 1.2-0.3 1.2-1 1.1 0 1.2-0.2 1.2 0.1 1.1-0.8 1.2 0.6 1.2 0.1 1.1 0.6 1.2-0.5 1.2-0.5 1.1 0 1.2-1.1 1.2 0.5 1.1-0.6 1.2 0.5 1.2-0.7 1.1 0.3 1.2 0.5 1.2 0.4 1.1-0.5 1.2-0.4 1.2-0.4 1.1-0.1 1.2 0.3 1.2 0.5 1.1-0.4 1.2-0.2 1.2 0.3 1.1-0.2 1.2 0.1 1.2-0.2 1.1 0.3 1.2 0.1 1.2 0 1.1 0 1.2-0.1 1.2-1.2 1.1 0.4 1.2-1.3 1.2 0.8 1.1 0.1 1.2 1.2 1.2 0.1 1.1 0.2 1.2-0.2 1.2-0.4 1.1 0.3 1.2 0.3 1.2 1.1 1.1-1.1 1.2-0.3" fill="none" stroke="#dc1f1f" stroke-linejoin="round"/></defs><use href="#tr146" stroke-width="3.0" opacity="0.24"/>
<use href="#tr140" stroke-width="1.25"/>
<use href="#tr141" stroke-width="1.25"/>
<use href="#tr142" stroke-width="1.25"/>
<use href="#tr143" stroke-width="1.25"/>
<use href="#tr144" stroke-width="1.25"/>
<use href="#tr145" stroke-width="1.5"/>
<use href="#tr146" stroke-width="1.5"/>
</g>
<line x1="452.67" y1="276.80" x2="452.67" y2="312.20" stroke="#111" stroke-width="1.0" stroke-dasharray="3 2.4"/>
<line x1="430.50" y1="276.80" x2="430.50" y2="312.20" stroke="#3a3a3a" stroke-width="0.8" />
<line x1="430.50" y1="312.20" x2="497.00" y2="312.20" stroke="#3a3a3a" stroke-width="0.8" />
<line x1="430.50" y1="279.55" x2="431.90" y2="279.55" stroke="#3a3a3a" stroke-width="0.6" />
<text x="427.6" y="279.6" font-size="7.4" text-anchor="end" fill="#1a1a1a" stroke="#1a1a1a" stroke-width="0.1" dominant-baseline="central" >60</text>
<line x1="430.50" y1="287.40" x2="431.90" y2="287.40" stroke="#3a3a3a" stroke-width="0.6" />
<text x="427.6" y="287.4" font-size="7.4" text-anchor="end" fill="#1a1a1a" stroke="#1a1a1a" stroke-width="0.1" dominant-baseline="central" >40</text>
<line x1="430.50" y1="295.25" x2="431.90" y2="295.25" stroke="#3a3a3a" stroke-width="0.6" />
<text x="427.6" y="295.2" font-size="7.4" text-anchor="end" fill="#1a1a1a" stroke="#1a1a1a" stroke-width="0.1" dominant-baseline="central" >20</text>
<line x1="430.50" y1="303.10" x2="431.90" y2="303.10" stroke="#3a3a3a" stroke-width="0.6" />
<text x="427.6" y="303.1" font-size="7.4" text-anchor="end" fill="#1a1a1a" stroke="#1a1a1a" stroke-width="0.1" dominant-baseline="central" >0</text>
<line x1="430.50" y1="310.95" x2="431.90" y2="310.95" stroke="#3a3a3a" stroke-width="0.6" />
<text x="427.6" y="311.0" font-size="7.4" text-anchor="end" fill="#1a1a1a" stroke="#1a1a1a" stroke-width="0.1" dominant-baseline="central" >-20</text>
<line x1="437.89" y1="312.20" x2="437.89" y2="310.80" stroke="#3a3a3a" stroke-width="0.6" />
<text x="437.9" y="319.7" font-size="7.4" text-anchor="middle" fill="#1a1a1a" stroke="#1a1a1a" stroke-width="0.1" dominant-baseline="central" >-1</text>
<line x1="452.67" y1="312.20" x2="452.67" y2="310.80" stroke="#3a3a3a" stroke-width="0.6" />
<text x="452.7" y="319.7" font-size="7.4" text-anchor="middle" fill="#1a1a1a" stroke="#1a1a1a" stroke-width="0.1" dominant-baseline="central" >0</text>
<line x1="467.44" y1="312.20" x2="467.44" y2="310.80" stroke="#3a3a3a" stroke-width="0.6" />
<text x="467.4" y="319.7" font-size="7.4" text-anchor="middle" fill="#1a1a1a" stroke="#1a1a1a" stroke-width="0.1" dominant-baseline="central" >1</text>
<line x1="482.22" y1="312.20" x2="482.22" y2="310.80" stroke="#3a3a3a" stroke-width="0.6" />
<text x="482.2" y="319.7" font-size="7.4" text-anchor="middle" fill="#1a1a1a" stroke="#1a1a1a" stroke-width="0.1" dominant-baseline="central" >2</text>
<line x1="497.00" y1="312.20" x2="497.00" y2="310.80" stroke="#3a3a3a" stroke-width="0.6" />
<text x="497.0" y="319.7" font-size="7.4" text-anchor="middle" fill="#1a1a1a" stroke="#1a1a1a" stroke-width="0.1" dominant-baseline="central" >3</text>
<clipPath id="clipD15"><rect x="518.50" y="276.80" width="67.00" height="35.40"/></clipPath>
<g clip-path="url(#clipD15)">
<defs><path id="tr150" d="M518.5 302.9l1.2 0 1.1-0.1 1.2 0.2 1.2 0.2 1.1 0.2 1.2 0.3 1.2-0.1 1.1 0.3 1.2 0 1.2 0.1 1.1-0.2 1.2-0.3 1.2-0.2 1.1-0.3 1.2-0.2 1.2 0.2 1.1-0.1 1.2 0.2 1.2-0.4 1.1-1 1.2-1.9 1.2-1.7 1.1-1 1.2-1.3 1.2-0.3 1.1-0.2 1.2 0.8 1.2 0.7 1.1 1.2 1.2 1.3 1.2 0.8 1.1 0.7 1.2 1 1.2 0.6 1.1 0.9 1.2 0.3 1.2 0.6 1.1 0.3 1.2 0.4 1.2 0.3 1.1-0.1 1.2-0.1 1.2-0.3 1.1 0.3 1.2-0.1 1.2 0.3 1.1 0.2 1.2-0.1 1.2-0.5 1.1 0 1.2 0.1 1.2 0.2 1.1-0.4 1.2-0.2 1.2-0.3 1.1 0.2 1.2-0.1" fill="none" stroke="#2b3a9e" stroke-linejoin="round"/></defs><use href="#tr150" stroke-width="4.1" opacity="0.24"/>
<defs><path id="tr151" d="M518.5 303.2l1.2 0.1 1.1-0.2 1.2 0 1.2 0.1 1.1 0.2 1.2 0.2 1.2 0.2 1.1 0.4 1.2 0.4 1.2 0.1 1.1-0.1 1.2-0.4 1.2-0.1 1.1-0.1 1.2 0.1 1.2-0.4 1.1-0.3 1.2-0.5 1.2-0.9 1.1-3.5 1.2-4.1 1.2-2.2 1.1-2.1 1.2-0.2 1.2 0.9 1.1 2 1.2 1.4 1.2 0.9 1.1 1.3 1.2 1.4 1.2 1.2 1.1 0.8 1.2 0.6 1.2 0.4 1.1 0.6 1.2 0.1 1.2 0.1 1.1-0.2 1.2 0.2 1.2 0.4 1.1 0.2 1.2 0.2 1.2 0.3 1.1 0.2 1.2 0.1 1.2-0.2 1.1 0.1 1.2 0.1 1.2 0 1.1-0.1 1.2 0 1.2-0.1 1.1-0.1 1.2 0 1.2 0 1.1 0.4 1.2 0.6" fill="none" stroke="#2166cc" stroke-linejoin="round"/></defs><use href="#tr151" stroke-width="3.6" opacity="0.24"/>
<defs><path id="tr152" d="M518.5 303.1l1.2 0 1.1 0.2 1.2-0.2 1.2-0.1 1.1-0.3 1.2-0.1 1.2-0.2 1.1-0.3 1.2 0.1 1.2-0.1 1.1 0.2 1.2 0 1.2 0.1 1.1 0.1 1.2-0.1 1.2-0.2 1.1-0.1 1.2-0.7 1.2 0 1.1-0.3 1.2-0.8 1.2-1.8 1.1-2 1.2-1 1.2 0.2 1.1 1.4 1.2 1.4 1.2 0.7 1.1 0.1 1.2 0.4 1.2 0.9 1.1 0.7 1.2 0.5 1.2 0.6 1.1 0.5 1.2 0.5 1.2-0.2 1.1 0.1 1.2-0.2 1.2 0.3 1.1-0.5 1.2 0.2 1.2-0.1 1.1 0.3 1.2-0.2 1.2-0.2 1.1 0.4 1.2-0.1 1.2-0.1 1.1-0.2 1.2 0.2 1.2 0.4 1.1-0.2 1.2-0.2 1.2-0.2 1.1 0.4 1.2-0.3" fill="none" stroke="#33c1cf" stroke-linejoin="round"/></defs><use href="#tr152" stroke-width="4.1" opacity="0.24"/>
<defs><path id="tr153" d="M518.5 302.7l1.2 0.2 1.1-0.4 1.2 0.3 1.2-0.6 1.1 0 1.2-0.6 1.2 0.1 1.1-0.3 1.2-0.2 1.2-0.1 1.1-0.2 1.2 0.1 1.2-0.5 1.1 0 1.2-0.3 1.2 0 1.1-0.5 1.2 0 1.2-0.2 1.1 0.2 1.2-0.2 1.2 0 1.1-0.1 1.2 0 1.2 0.5 1.1 0.3 1.2 0.7 1.2 0.2 1.1 0 1.2 0.4 1.2 0.4 1.1 0.9 1.2 0 1.2 0.2 1.1 0.4 1.2 0.4 1.2 0 1.1-0.3 1.2-0.5 1.2 0.2 1.1-0.1 1.2 0.4 1.2-0.3 1.1 0.1 1.2-0.1 1.2 0.2 1.1-0.4 1.2 0.1 1.2 0.2 1.1 0.4 1.2 0 1.2-0.2 1.1-0.2 1.2-0.2 1.2-0.1 1.1-0.1 1.2 0" fill="none" stroke="#4fbf45" stroke-linejoin="round"/></defs><use href="#tr153" stroke-width="3.0" opacity="0.24"/>
<defs><path id="tr154" d="M518.5 301.7l1.2-0.2 1.1-0.4 1.2-0.1 1.2-0.3 1.1 0.1 1.2 0.1 1.2-0.1 1.1-0.3 1.2-0.5 1.2 0 1.1 0.2 1.2-0.1 1.2 0.1 1.1-0.3 1.2 0 1.2-0.1 1.1-0.7 1.2 0 1.2-0.4 1.1 0.5 1.2-0.4 1.2 0 1.1 0 1.2 0.3 1.2 0.6 1.1 0.2 1.2 0.5 1.2 0 1.1 0.4 1.2 0 1.2 0 1.1 0 1.2 0.3 1.2 0.3 1.1 0 1.2-0.1 1.2-0.1 1.1 0 1.2 0.1 1.2 0.2 1.1-0.2 1.2 0.1 1.2-0.4 1.1 0.3 1.2-0.1 1.2 0 1.1-0.1 1.2 0 1.2 0.3 1.1-0.1 1.2-0.4 1.2-0.2 1.1 0.1 1.2 0.5 1.2 0.2 1.1 0 1.2-0.3" fill="none" stroke="#d4d417" stroke-linejoin="round"/></defs><use href="#tr154" stroke-width="3.0" opacity="0.24"/>
<defs><path id="tr155" d="M518.5 303.2l1.2 0 1.1 0.1 1.2-0.3 1.2-0.1 1.1-0.1 1.2 0.3 1.2-0.3 1.1-0.3 1.2-0.6 1.2 0.3 1.1 0 1.2 0.3 1.2-0.3 1.1 0.4 1.2-0.1 1.2 0.2 1.1 0.2 1.2 0.1 1.2-0.1 1.1 0.2 1.2 0 1.2 0.2 1.1-0.4 1.2 0.4 1.2 0.6 1.1 0.7 1.2 1.1 1.2 0.9 1.1 0.2 1.2-0.4 1.2-0.3 1.1-0.3 1.2-0.6 1.2 0 1.1-0.5 1.2-0.1 1.2-0.8 1.1 0.1 1.2 0.1 1.2-0.1 1.1-0.1 1.2 0.1 1.2-0.1 1.1 0.1 1.2-0.2 1.2 0.1 1.1 0 1.2-0.1 1.2-0.1 1.1-0.1 1.2 0.1 1.2 0.2 1.1-0.5 1.2-0.1 1.2-0.6 1.1 0.2 1.2 0" fill="none" stroke="#e0782f" stroke-linejoin="round"/></defs><use href="#tr155" stroke-width="3.6" opacity="0.24"/>
<defs><path id="tr156" d="M518.5 303.4l1.2-0.2 1.1-0.3 1.2 0 1.2-0.2 1.1-0.1 1.2 0.1 1.2 0.1 1.1 0.2 1.2-0.4 1.2 0 1.1-0.4 1.2 0.1 1.2 0 1.1 0.2 1.2 0.1 1.2 0.2 1.1 0.2 1.2 0.3 1.2-0.1 1.1 0 1.2 0 1.2 1.2 1.1 1 1.2 1.5 1.2 0.6 1.1 0.8 1.2 0.3 1.2 0.1 1.1 0.1 1.2-0.2 1.2 0 1.1-0.4 1.2-0.5 1.2-0.6 1.1-0.6 1.2-0.2 1.2 0 1.1 0 1.2-0.2 1.2-0.3 1.1-0.2 1.2-0.1 1.2-0.3 1.1-0.1 1.2-0.3 1.2 0.1 1.1-0.2 1.2-0.3 1.2-0.5 1.1 0 1.2 0.1 1.2 0.2 1.1 0 1.2-0.2 1.2-0.3 1.1 0 1.2-0.4" fill="none" stroke="#dc1f1f" stroke-linejoin="round"/></defs><use href="#tr156" stroke-width="3.0" opacity="0.24"/>
<use href="#tr150" stroke-width="1.25"/>
<use href="#tr151" stroke-width="1.25"/>
<use href="#tr152" stroke-width="1.25"/>
<use href="#tr153" stroke-width="1.25"/>
<use href="#tr154" stroke-width="1.25"/>
<use href="#tr155" stroke-width="1.5"/>
<use href="#tr156" stroke-width="1.5"/>
</g>
<line x1="535.12" y1="276.80" x2="535.12" y2="312.20" stroke="#111" stroke-width="1.0" stroke-dasharray="3 2.4"/>
<line x1="518.50" y1="276.80" x2="518.50" y2="312.20" stroke="#3a3a3a" stroke-width="0.8" />
<line x1="518.50" y1="312.20" x2="585.00" y2="312.20" stroke="#3a3a3a" stroke-width="0.8" />
<line x1="518.50" y1="279.55" x2="519.90" y2="279.55" stroke="#3a3a3a" stroke-width="0.6" />
<text x="515.6" y="279.6" font-size="7.4" text-anchor="end" fill="#1a1a1a" stroke="#1a1a1a" stroke-width="0.1" dominant-baseline="central" >60</text>
<line x1="518.50" y1="287.40" x2="519.90" y2="287.40" stroke="#3a3a3a" stroke-width="0.6" />
<text x="515.6" y="287.4" font-size="7.4" text-anchor="end" fill="#1a1a1a" stroke="#1a1a1a" stroke-width="0.1" dominant-baseline="central" >40</text>
<line x1="518.50" y1="295.25" x2="519.90" y2="295.25" stroke="#3a3a3a" stroke-width="0.6" />
<text x="515.6" y="295.2" font-size="7.4" text-anchor="end" fill="#1a1a1a" stroke="#1a1a1a" stroke-width="0.1" dominant-baseline="central" >20</text>
<line x1="518.50" y1="303.10" x2="519.90" y2="303.10" stroke="#3a3a3a" stroke-width="0.6" />
<text x="515.6" y="303.1" font-size="7.4" text-anchor="end" fill="#1a1a1a" stroke="#1a1a1a" stroke-width="0.1" dominant-baseline="central" >0</text>
<line x1="518.50" y1="310.95" x2="519.90" y2="310.95" stroke="#3a3a3a" stroke-width="0.6" />
<text x="515.6" y="311.0" font-size="7.4" text-anchor="end" fill="#1a1a1a" stroke="#1a1a1a" stroke-width="0.1" dominant-baseline="central" >-20</text>
<line x1="518.50" y1="312.20" x2="518.50" y2="310.80" stroke="#3a3a3a" stroke-width="0.6" />
<text x="518.5" y="319.7" font-size="7.4" text-anchor="middle" fill="#1a1a1a" stroke="#1a1a1a" stroke-width="0.1" dominant-baseline="central" >-0.5</text>
<line x1="535.12" y1="312.20" x2="535.12" y2="310.80" stroke="#3a3a3a" stroke-width="0.6" />
<text x="535.1" y="319.7" font-size="7.4" text-anchor="middle" fill="#1a1a1a" stroke="#1a1a1a" stroke-width="0.1" dominant-baseline="central" >0</text>
<line x1="551.75" y1="312.20" x2="551.75" y2="310.80" stroke="#3a3a3a" stroke-width="0.6" />
<text x="551.8" y="319.7" font-size="7.4" text-anchor="middle" fill="#1a1a1a" stroke="#1a1a1a" stroke-width="0.1" dominant-baseline="central" >0.5</text>
<line x1="568.38" y1="312.20" x2="568.38" y2="310.80" stroke="#3a3a3a" stroke-width="0.6" />
<text x="568.4" y="319.7" font-size="7.4" text-anchor="middle" fill="#1a1a1a" stroke="#1a1a1a" stroke-width="0.1" dominant-baseline="central" >1</text>
<line x1="585.00" y1="312.20" x2="585.00" y2="310.80" stroke="#3a3a3a" stroke-width="0.6" />
<text x="585.0" y="319.7" font-size="7.4" text-anchor="middle" fill="#1a1a1a" stroke="#1a1a1a" stroke-width="0.1" dominant-baseline="central" >1.5</text>
<clipPath id="clipD16"><rect x="606.70" y="276.80" width="67.00" height="35.40"/></clipPath>
<g clip-path="url(#clipD16)">
<defs><path id="tr160" d="M606.7 304.2l1.2-0.9 1.1-0.9 1.2-0.2 1.2 0.4 1.1 0.7 1.2-0.1 1.2 0 1.1-1.1 1.2 0.3 1.2 0 1.1 1.2 1.2-0.5 1.2 0.2 1.1-0.4 1.2 0.7 1.2-0.7 1.1 0.5 1.2 0.7 1.2 1 1.1 0.7 1.2 0.2 1.2 0.4 1.1 0.3 1.2-0.4 1.2 0.6 1.1-0.4 1.2 0.3 1.2-0.3 1.1 0.2 1.2 0.1 1.2 0 1.1-0.3 1.2-0.7 1.2-0.3 1.1-0.9 1.2-0.6 1.2 0.1 1.1 0.2 1.2 0.5 1.2-0.7 1.1 0.5 1.2-0.8 1.2 0.2 1.1-0.5 1.2 0.7 1.2-1.1 1.1-0.7 1.2 0.1 1.2 0.7 1.1 0.2 1.2-0.5 1.2-0.2 1.1 0.4 1.2-0.4 1.2 0.2 1.1-0.8 1.2-0.9" fill="none" stroke="#2b3a9e" stroke-linejoin="round"/></defs><use href="#tr160" stroke-width="4.1" opacity="0.24"/>
<defs><path id="tr161" d="M606.7 302.5l1.2 0.1 1.1 0.7 1.2 0.4 1.2-0.3 1.1-0.4 1.2-0.7 1.2 0.1 1.1 0.6 1.2 0.4 1.2-0.7 1.1-0.5 1.2 0 1.2 1.4 1.1 0.4 1.2-0.1 1.2-0.1 1.1-0.3 1.2 0.9 1.2 0.4 1.1 1.1 1.2 0.3 1.2-0.3 1.1 0.3 1.2 0.8 1.2 0.6 1.1-0.2 1.2-1.1 1.2 0.4 1.1-0.4 1.2 0.2 1.2-0.8 1.1 0.5 1.2 0.3 1.2 0.2 1.1-0.8 1.2-0.7 1.2-0.9 1.1-0.5 1.2-0.1 1.2 0.2 1.1-0.2 1.2 0.3 1.2-0.1 1.1 0.7 1.2-0.5 1.2-0.4 1.1 0 1.2-0.7 1.2 0.4 1.1-0.2 1.2 0.9 1.2-0.2 1.1-0.6 1.2-1 1.2-0.6 1.1-0.3 1.2-0.1" fill="none" stroke="#2166cc" stroke-linejoin="round"/></defs><use href="#tr161" stroke-width="3.6" opacity="0.24"/>
<defs><path id="tr162" d="M606.7 303.2l1.2-0.9 1.1 0.1 1.2-0.1 1.2 0.5 1.1-0.6 1.2-0.1 1.2-0.2 1.1 0.8 1.2 0.2 1.2 1.1 1.1-0.3 1.2-0.9 1.2-0.7 1.1 0 1.2 0.9 1.2 0.3 1.1 0.9 1.2 0.8 1.2 0.5 1.1 0 1.2 0.4 1.2 0.4 1.1 0.6 1.2 0.4 1.2 0.4 1.1 0.2 1.2-0.7 1.2-0.6 1.1-0.6 1.2 0.2 1.2 0.5 1.1 0.5 1.2-0.2 1.2-1 1.1-1.3 1.2-0.5 1.2 0.5 1.1 0.2 1.2-0.3 1.2-0.2 1.1-0.3 1.2 0.2 1.2-0.2 1.1 0.1 1.2-0.8 1.2 0.3 1.1-0.8 1.2 0.3 1.2-0.4 1.1 0.2 1.2-0.2 1.2-0.3 1.1-0.3 1.2 0 1.2 0.3 1.1-0.2 1.2-0.4" fill="none" stroke="#33c1cf" stroke-linejoin="round"/></defs><use href="#tr162" stroke-width="4.1" opacity="0.24"/>
<defs><path id="tr163" d="M606.7 303.1l1.2 0.1 1.1 0.4 1.2-1 1.2-0.3 1.1-0.7 1.2 0.5 1.2 0.8 1.1 0.9 1.2-0.6 1.2-0.2 1.1-0.2 1.2 0.1 1.2-0.1 1.1-0.5 1.2 0.5 1.2 0.9 1.1 1 1.2 0.7 1.2 0.1 1.1 0 1.2-0.5 1.2 0.4 1.1 0.4 1.2 1.3 1.2-0.3 1.1 0 1.2-0.4 1.2 1 1.1 0.3 1.2-0.4 1.2-0.2 1.1-0.8 1.2-0.3 1.2-0.5 1.1 0.5 1.2-0.2 1.2-0.8 1.1-0.5 1.2 0.5 1.2-0.1 1.1-0.5 1.2-0.4 1.2-0.2 1.1-0.1 1.2-0.5 1.2 0.4 1.1 0 1.2-0.1 1.2 0 1.1 0.2 1.2 0 1.2-0.9 1.1-1.3 1.2-1.2 1.2-0.1 1.1-0.4 1.2 0.5" fill="none" stroke="#4fbf45" stroke-linejoin="round"/></defs><use href="#tr163" stroke-width="3.0" opacity="0.24"/>
<defs><path id="tr164" d="M606.7 303.4l1.2-0.4 1.1 0.3 1.2-0.5 1.2 0.6 1.1-0.2 1.2-0.3 1.2-0.2 1.1 0.1 1.2 0.2 1.2-0.3 1.1-0.2 1.2 0.6 1.2 0.9 1.1 0.5 1.2-0.6 1.2-0.3 1.1-0.2 1.2 0.4 1.2 0.3 1.1 0.5 1.2 0.9 1.2 1.1 1.1 0.2 1.2 0.1 1.2-0.6 1.1 0.8 1.2 0.1 1.2-0.4 1.1-0.2 1.2-0.2 1.2 0 1.1-0.4 1.2-0.3 1.2 0.9 1.1-0.6 1.2-0.1 1.2-1.4 1.1 0.1 1.2-0.2 1.2 0.2 1.1-0.2 1.2-0.1 1.2-0.5 1.1-0.6 1.2-0.4 1.2 0 1.1-0.1 1.2-0.3 1.2 0.1 1.1 0 1.2-0.1 1.2-0.4 1.1-0.4 1.2 0.1 1.2 0 1.1-0.3 1.2-0.1" fill="none" stroke="#d4d417" stroke-linejoin="round"/></defs><use href="#tr164" stroke-width="3.0" opacity="0.24"/>
<defs><path id="tr165" d="M606.7 302.8l1.2 0.1 1.1 0.2 1.2 0.2 1.2-0.5 1.1 0.1 1.2 0.4 1.2 0.7 1.1-0.2 1.2-0.7 1.2-0.3 1.1 0.6 1.2 0.2 1.2 0.2 1.1-0.2 1.2 0.1 1.2 0.3 1.1 0 1.2 0.7 1.2 0.4 1.1 0.6 1.2-0.3 1.2-0.4 1.1-0.1 1.2 1 1.2 0.8 1.1 0.1 1.2-0.4 1.2 0.6 1.1 0.3 1.2 0.4 1.2-1.1 1.1-0.5 1.2-0.3 1.2-0.8 1.1 0 1.2-1.3 1.2 0.6 1.1-0.2 1.2 0 1.2 0 1.1 0 1.2-0.1 1.2-0.3 1.1-0.5 1.2 0.8 1.2-0.8 1.1-0.4 1.2-0.7 1.2 0.2 1.1 0.3 1.2 0 1.2 0.6 1.1-0.6 1.2-0.9 1.2-1.1 1.1-0.5 1.2 0" fill="none" stroke="#e0782f" stroke-linejoin="round"/></defs><use href="#tr165" stroke-width="3.6" opacity="0.24"/>
<defs><path id="tr166" d="M606.7 303.6l1.2-0.4 1.1-0.8 1.2 0.3 1.2 0.4 1.1 0.1 1.2 0.1 1.2 0.2 1.1 0.3 1.2 0.1 1.2-0.2 1.1 0 1.2-0.6 1.2-1.1 1.1-0.7 1.2 0.6 1.2 0.7 1.1 1 1.2 0.2 1.2 1.1 1.1 0.4 1.2 1.2 1.2-0.5 1.1 0.5 1.2-0.6 1.2 1.1 1.1-0.2 1.2 0.7 1.2 0 1.1-0.3 1.2-0.8 1.2 0.4 1.1-0.3 1.2 0.4 1.2-1.1 1.1-0.1 1.2-0.5 1.2 0 1.1 0.1 1.2-0.5 1.2-0.6 1.1-0.8 1.2-0.1 1.2-0.5 1.1 0.6 1.2-0.6 1.2 0.6 1.1-0.8 1.2 0.5 1.2-0.4 1.1 0.4 1.2-0.5 1.2-0.9 1.1-0.7 1.2-0.2 1.2 0.4 1.1-0.4 1.2-0.3" fill="none" stroke="#dc1f1f" stroke-linejoin="round"/></defs><use href="#tr166" stroke-width="3.0" opacity="0.24"/>
<use href="#tr160" stroke-width="1.25"/>
<use href="#tr161" stroke-width="1.25"/>
<use href="#tr162" stroke-width="1.25"/>
<use href="#tr163" stroke-width="1.25"/>
<use href="#tr164" stroke-width="1.25"/>
<use href="#tr165" stroke-width="1.5"/>
<use href="#tr166" stroke-width="1.5"/>
</g>
<line x1="623.33" y1="276.80" x2="623.33" y2="312.20" stroke="#111" stroke-width="1.0" stroke-dasharray="3 2.4"/>
<line x1="606.70" y1="276.80" x2="606.70" y2="312.20" stroke="#3a3a3a" stroke-width="0.8" />
<line x1="606.70" y1="312.20" x2="673.20" y2="312.20" stroke="#3a3a3a" stroke-width="0.8" />
<line x1="606.70" y1="279.55" x2="608.10" y2="279.55" stroke="#3a3a3a" stroke-width="0.6" />
<text x="603.8" y="279.6" font-size="7.4" text-anchor="end" fill="#1a1a1a" stroke="#1a1a1a" stroke-width="0.1" dominant-baseline="central" >60</text>
<line x1="606.70" y1="287.40" x2="608.10" y2="287.40" stroke="#3a3a3a" stroke-width="0.6" />
<text x="603.8" y="287.4" font-size="7.4" text-anchor="end" fill="#1a1a1a" stroke="#1a1a1a" stroke-width="0.1" dominant-baseline="central" >40</text>
<line x1="606.70" y1="295.25" x2="608.10" y2="295.25" stroke="#3a3a3a" stroke-width="0.6" />
<text x="603.8" y="295.2" font-size="7.4" text-anchor="end" fill="#1a1a1a" stroke="#1a1a1a" stroke-width="0.1" dominant-baseline="central" >20</text>
<line x1="606.70" y1="303.10" x2="608.10" y2="303.10" stroke="#3a3a3a" stroke-width="0.6" />
<text x="603.8" y="303.1" font-size="7.4" text-anchor="end" fill="#1a1a1a" stroke="#1a1a1a" stroke-width="0.1" dominant-baseline="central" >0</text>
<line x1="606.70" y1="310.95" x2="608.10" y2="310.95" stroke="#3a3a3a" stroke-width="0.6" />
<text x="603.8" y="311.0" font-size="7.4" text-anchor="end" fill="#1a1a1a" stroke="#1a1a1a" stroke-width="0.1" dominant-baseline="central" >-20</text>
<line x1="606.70" y1="312.20" x2="606.70" y2="310.80" stroke="#3a3a3a" stroke-width="0.6" />
<text x="606.7" y="319.7" font-size="7.4" text-anchor="middle" fill="#1a1a1a" stroke="#1a1a1a" stroke-width="0.1" dominant-baseline="central" >-0.5</text>
<line x1="623.33" y1="312.20" x2="623.33" y2="310.80" stroke="#3a3a3a" stroke-width="0.6" />
<text x="623.3" y="319.7" font-size="7.4" text-anchor="middle" fill="#1a1a1a" stroke="#1a1a1a" stroke-width="0.1" dominant-baseline="central" >0</text>
<line x1="639.95" y1="312.20" x2="639.95" y2="310.80" stroke="#3a3a3a" stroke-width="0.6" />
<text x="640.0" y="319.7" font-size="7.4" text-anchor="middle" fill="#1a1a1a" stroke="#1a1a1a" stroke-width="0.1" dominant-baseline="central" >0.5</text>
<line x1="656.58" y1="312.20" x2="656.58" y2="310.80" stroke="#3a3a3a" stroke-width="0.6" />
<text x="656.6" y="319.7" font-size="7.4" text-anchor="middle" fill="#1a1a1a" stroke="#1a1a1a" stroke-width="0.1" dominant-baseline="central" >1</text>
<line x1="673.20" y1="312.20" x2="673.20" y2="310.80" stroke="#3a3a3a" stroke-width="0.6" />
<text x="673.2" y="319.7" font-size="7.4" text-anchor="middle" fill="#1a1a1a" stroke="#1a1a1a" stroke-width="0.1" dominant-baseline="central" >1.5</text>
<text x="58.8" y="294.5" font-size="7.6" text-anchor="middle" fill="#222" stroke="#222" stroke-width="0.1" transform="rotate(-90 58.8 294.5)" dominant-baseline="central" >Rate (ΔHz)</text>
<text x="29.9" y="334.0" font-size="7.0" text-anchor="middle" fill="#333" stroke="#333" stroke-width="0.1" dominant-baseline="central" >T16-i6v</text>
<text x="29.9" y="343.6" font-size="7.0" text-anchor="middle" fill="#333" stroke="#333" stroke-width="0.1" dominant-baseline="central" >(ch. 84)</text>
<clipPath id="clipD20"><rect x="80.00" y="326.80" width="67.00" height="35.90"/></clipPath>
<g clip-path="url(#clipD20)">
<defs><path id="tr200" d="M80.0 351.2l1.2-0.3 1.1 0.9 1.2 1.3 1.2 0.7 1.1-0.7 1.2-0.6 1.2 0.3 1.1-0.4 1.2 0.8 1.2-0.6 1.1 0.7 1.2-0.6 1.2 0.9 1.1 0.8 1.2 1.8 1.2 1.3 1.1 0.7 1.2-1.1 1.2-1.6 1.1-0.4 1.2-0.3 1.2 0 1.1-1.1 1.2 1 1.2 0.4 1.1 0.9 1.2-0.8 1.2-1.8 1.1-0.7 1.2-0.7 1.2 0.3 1.1-1.7 1.2-1 1.2-1.5 1.1-0.7 1.2-1 1.2-0.1 1.1-1 1.2-1.1 1.2-2.6 1.1-0.3 1.2 0.2 1.2 1.2 1.1 0.4 1.2 1.3 1.2 1.5 1.1 1.6 1.2 0.9 1.2 2.1 1.1 1.8 1.2 1.9 1.2-0.1 1.1-0.3 1.2-0.5 1.2 0.2 1.1-1.7 1.2 0.1" fill="none" stroke="#2b3a9e" stroke-linejoin="round"/></defs><use href="#tr200" stroke-width="6.1" opacity="0.24"/>
<defs><path id="tr201" d="M80.0 352.8l1.2-0.4 1.1 0.2 1.2 0.1 1.2-0.5 1.1 0.3 1.2-0.5 1.2 0.7 1.1 1.7 1.2 0.1 1.2 1.3 1.1-1.4 1.2 0.9 1.2 0.2 1.1 0.8 1.2-0.1 1.2 0 1.1 0.1 1.2 0.7 1.2-0.2 1.1 0 1.2-1.5 1.2-1.4 1.1-0.8 1.2 0.1 1.2-0.4 1.1-0.8 1.2-0.8 1.2 0.2 1.1-1.2 1.2-0.5 1.2-0.6 1.1-0.9 1.2-0.9 1.2-2.3 1.1-0.5 1.2-1.5 1.2-1.9 1.1-1.3 1.2-1.2 1.2 0.6 1.1 0.4 1.2 1.3 1.2 0.5 1.1 0.1 1.2 0.2 1.2 1.4 1.1 3 1.2 1.4 1.2 0.8 1.1-0.7 1.2 2.8 1.2 1.3 1.1 1.8 1.2-1.4 1.2 0.8 1.1 0.2 1.2-0.5" fill="none" stroke="#2166cc" stroke-linejoin="round"/></defs><use href="#tr201" stroke-width="5.4" opacity="0.24"/>
<defs><path id="tr202" d="M80.0 351.4l1.2 0.1 1.1-0.5 1.2 0 1.2 0.9 1.1 0.6 1.2 0.9 1.2-0.3 1.1-1.1 1.2 0.2 1.2 0.2 1.1 1.3 1.2-0.1 1.2 0.9 1.1 0.6 1.2 0.2 1.2 0.4 1.1 0.9 1.2 0.6 1.2 0.2 1.1-1 1.2 0 1.2-0.2 1.1 0.6 1.2-1.1 1.2-0.6 1.1-1.6 1.2 0.4 1.2-0.2 1.1 0 1.2 0.1 1.2 0.5 1.1-0.4 1.2-1.4 1.2-1.1 1.1-0.9 1.2 1.2 1.2 0.3 1.1 1.3 1.2-1.3 1.2-0.9 1.1 0.1 1.2 0.4 1.2 1.3 1.1 0.5 1.2 0.7 1.2 0.8 1.1-0.9 1.2 0.1 1.2-0.7 1.1 1 1.2 1.9 1.2 0.5 1.1 0.2 1.2-0.3 1.2-0.2 1.1-1.2 1.2-2.7" fill="none" stroke="#33c1cf" stroke-linejoin="round"/></defs><use href="#tr202" stroke-width="6.1" opacity="0.24"/>
<defs><path id="tr203" d="M80.0 353.0l1.2-0.3 1.1 0.6 1.2 0 1.2-0.3 1.1-0.3 1.2 0.6 1.2 1.1 1.1-0.2 1.2-0.8 1.2-0.1 1.1 1 1.2 0.6 1.2 0.9 1.1 0.1 1.2-0.6 1.2-0.9 1.1 0.8 1.2 0.1 1.2 0 1.1-0.7 1.2 1 1.2-0.5 1.1 0.7 1.2 0 1.2 0.3 1.1-1.9 1.2-1.2 1.2-2.1 1.1 0.8 1.2-0.6 1.2-1 1.1-1.6 1.2-0.3 1.2 0.3 1.1-1.2 1.2-1.9 1.2-2.2 1.1-2.1 1.2-2.1 1.2-0.9 1.1-0.3 1.2 0.1 1.2 0.2 1.1-1.5 1.2-0.8 1.2-0.2 1.1 2.2 1.2 1.4 1.2 1.3 1.1 1.5 1.2 3.1 1.2 2.2 1.1 1.8 1.2 0.1 1.2 0.7 1.1 0.3 1.2 1.5" fill="none" stroke="#4fbf45" stroke-linejoin="round"/></defs><use href="#tr203" stroke-width="4.5" opacity="0.24"/>
<defs><path id="tr204" d="M80.0 352.2l1.2 0.5 1.1 0.2 1.2 0.6 1.2 1.1 1.1 1.5 1.2 0.9 1.2-0.8 1.1-1.2 1.2-0.5 1.2 0.4 1.1-0.3 1.2 0.4 1.2 1.1 1.1 1.9 1.2 0 1.2-1.2 1.1-1.2 1.2-0.1 1.2 0 1.1 0.3 1.2 0.2 1.2 0.5 1.1-0.6 1.2-1 1.2 0.2 1.1 0.8 1.2 0.3 1.2-1.9 1.1-0.1 1.2 0.6 1.2 0.7 1.1-1 1.2-0.4 1.2 0.1 1.1 0 1.2 0.6 1.2 0.1 1.1 0 1.2-1.2 1.2-0.5 1.1 0.5 1.2 1.4 1.2 0.1 1.1-0.4 1.2-0.4 1.2 0.2 1.1-0.1 1.2-0.3 1.2 1.8 1.1 0.8 1.2 0.3 1.2-0.8 1.1-0.2 1.2 0.1 1.2-0.6 1.1-1.1 1.2 0.1" fill="none" stroke="#d4d417" stroke-linejoin="round"/></defs><use href="#tr204" stroke-width="4.5" opacity="0.24"/>
<defs><path id="tr205" d="M80.0 352.5l1.2 0.7 1.1-0.8 1.2 0.8 1.2-0.3 1.1 1.2 1.2-0.3 1.2 0.5 1.1-0.8 1.2 1.1 1.2 0.9 1.1 0 1.2-0.9 1.2-1.5 1.1 1.3 1.2 0.2 1.2 0.6 1.1-1.4 1.2 0.1 1.2 0.5 1.1 0.5 1.2 0 1.2 0 1.1-0.1 1.2 0.8 1.2-0.1 1.1-0.5 1.2-0.9 1.2-0.5 1.1 0.4 1.2-1 1.2-0.6 1.1 0.5 1.2 0.8 1.2-0.3 1.1-0.5 1.2 0 1.2 0.2 1.1-0.6 1.2-1.3 1.2 1.2 1.1 1.2 1.2 1.6 1.2-0.6 1.1-0.1 1.2-0.9 1.2 1.7 1.1-0.8 1.2 1 1.2-1.3 1.1 0.2 1.2-0.5 1.2 0.4 1.1-0.5 1.2-0.2 1.2-0.3 1.1 0.6 1.2 0.9" fill="none" stroke="#e0782f" stroke-linejoin="round"/></defs><use href="#tr205" stroke-width="5.4" opacity="0.24"/>
<defs><path id="tr206" d="M80.0 355.8l1.2-0.5 1.1 0.5 1.2 1.2 1.2 1.2 1.1-0.9 1.2-0.7 1.2-0.3 1.1 0.4 1.2 0.1 1.2-0.2 1.1 1 1.2-0.3 1.2-0.3 1.1-1.2 1.2 0.3 1.2 0.5 1.1 1.1 1.2 0.5 1.2-0.5 1.1-0.5 1.2-0.8 1.2-0.3 1.1 0.6 1.2 0.3 1.2 0.5 1.1-0.9 1.2 0.4 1.2-0.4 1.1 0.4 1.2-0.6 1.2-0.4 1.1-1.6 1.2-0.4 1.2 0.4 1.1 0.8 1.2-0.7 1.2-1.2 1.1-0.5 1.2-0.8 1.2-0.4 1.1-0.1 1.2 0.3 1.2 1.3 1.1 0.1 1.2 1.1 1.2-0.7 1.1-0.8 1.2-0.1 1.2-0.6 1.1 1.6 1.2-0.9 1.2 1.9 1.1 0.1 1.2 0.4 1.2-0.6 1.1-0.3 1.2 0.8" fill="none" stroke="#dc1f1f" stroke-linejoin="round"/></defs><use href="#tr206" stroke-width="4.5" opacity="0.24"/>
<use href="#tr200" stroke-width="1.25"/>
<use href="#tr201" stroke-width="1.25"/>
<use href="#tr202" stroke-width="1.25"/>
<use href="#tr203" stroke-width="1.25"/>
<use href="#tr204" stroke-width="1.25"/>
<use href="#tr205" stroke-width="1.5"/>
<use href="#tr206" stroke-width="1.5"/>
</g>
<line x1="100.46" y1="326.80" x2="100.46" y2="362.70" stroke="#111" stroke-width="1.0" stroke-dasharray="3 2.4"/>
<line x1="80.00" y1="326.80" x2="80.00" y2="362.70" stroke="#3a3a3a" stroke-width="0.8" />
<line x1="80.00" y1="362.70" x2="146.50" y2="362.70" stroke="#3a3a3a" stroke-width="0.8" />
<line x1="80.00" y1="333.20" x2="81.40" y2="333.20" stroke="#3a3a3a" stroke-width="0.6" />
<text x="77.1" y="333.2" font-size="7.4" text-anchor="end" fill="#1a1a1a" stroke="#1a1a1a" stroke-width="0.1" dominant-baseline="central" >100</text>
<line x1="80.00" y1="343.65" x2="81.40" y2="343.65" stroke="#3a3a3a" stroke-width="0.6" />
<text x="77.1" y="343.7" font-size="7.4" text-anchor="end" fill="#1a1a1a" stroke="#1a1a1a" stroke-width="0.1" dominant-baseline="central" >50</text>
<line x1="80.00" y1="354.10" x2="81.40" y2="354.10" stroke="#3a3a3a" stroke-width="0.6" />
<text x="77.1" y="354.1" font-size="7.4" text-anchor="end" fill="#1a1a1a" stroke="#1a1a1a" stroke-width="0.1" dominant-baseline="central" >0</text>
<line x1="80.00" y1="362.70" x2="80.00" y2="361.30" stroke="#3a3a3a" stroke-width="0.6" />
<text x="80.0" y="369.5" font-size="7.4" text-anchor="middle" fill="#1a1a1a" stroke="#1a1a1a" stroke-width="0.1" dominant-baseline="central" >-2</text>
<line x1="100.46" y1="362.70" x2="100.46" y2="361.30" stroke="#3a3a3a" stroke-width="0.6" />
<text x="100.5" y="369.5" font-size="7.4" text-anchor="middle" fill="#1a1a1a" stroke="#1a1a1a" stroke-width="0.1" dominant-baseline="central" >0</text>
<line x1="120.92" y1="362.70" x2="120.92" y2="361.30" stroke="#3a3a3a" stroke-width="0.6" />
<text x="120.9" y="369.5" font-size="7.4" text-anchor="middle" fill="#1a1a1a" stroke="#1a1a1a" stroke-width="0.1" dominant-baseline="central" >2</text>
<line x1="141.38" y1="362.70" x2="141.38" y2="361.30" stroke="#3a3a3a" stroke-width="0.6" />
<text x="141.4" y="369.5" font-size="7.4" text-anchor="middle" fill="#1a1a1a" stroke="#1a1a1a" stroke-width="0.1" dominant-baseline="central" >4</text>
<clipPath id="clipD21"><rect x="167.30" y="326.80" width="67.00" height="35.90"/></clipPath>
<g clip-path="url(#clipD21)">
<defs><path id="tr210" d="M167.3 354.6l1.2 0.3 1.1-0.1 1.2 0 1.2-0.3 1.1-0.8 1.2 0.5 1.2 0.6 1.1 1.2 1.2-0.8 1.2-0.3 1.1 0.3 1.2 0.1 1.2 0.2 1.1-0.3 1.2-0.8 1.2 0 1.1 0.7 1.2 1.7 1.2-0.3 1.1-0.6 1.2-0.5 1.2 0.9 1.1-0.1 1.2-0.5 1.2-0.7 1.1-0.3 1.2-1 1.2-1.2 1.1-1 1.2 0 1.2 0.2 1.1-1.5 1.2-2.4 1.2-2.8 1.1-1.1 1.2 0.4 1.2 1 1.1 1.5 1.2 0.6 1.2 1.4 1.1-0.4 1.2 0.7 1.2 0.5 1.1 1.6 1.2 1.7 1.2 0.6 1.1 0.5 1.2-1.8 1.2 0.3 1.1-0.5 1.2 1.4 1.2-0.1 1.1 0.2 1.2 1.2 1.2-0.6 1.1-0.6 1.2-1.1" fill="none" stroke="#2b3a9e" stroke-linejoin="round"/></defs><use href="#tr210" stroke-width="6.1" opacity="0.24"/>
<defs><path id="tr211" d="M167.3 353.7l1.2 0.3 1.1 0.1 1.2 0.1 1.2 0.1 1.1-0.1 1.2 0.3 1.2-0.5 1.1 0.9 1.2 0.5 1.2 0.8 1.1-1.1 1.2-0.3 1.2 0.7 1.1 1.4 1.2-0.8 1.2-1.1 1.1 0 1.2 1.5 1.2 0 1.1-1.5 1.2-1.4 1.2 0 1.1 0.6 1.2-0.6 1.2-0.3 1.1-1.7 1.2 0.1 1.2-1.4 1.1-0.7 1.2-0.9 1.2-0.4 1.1 0.7 1.2-0.7 1.2-2.3 1.1-3.1 1.2 0.3 1.2-0.5 1.1 1.2 1.2-0.8 1.2 1.8 1.1 1.6 1.2 1.7 1.2 1 1.1 1.2 1.2 1 1.2 0.8 1.1 0.5 1.2 1.2 1.2 1.1 1.1-0.3 1.2-0.9 1.2-0.7 1.1 1 1.2-0.1 1.2 0.3 1.1 0.6 1.2-0.3" fill="none" stroke="#2166cc" stroke-linejoin="round"/></defs><use href="#tr211" stroke-width="5.4" opacity="0.24"/>
<defs><path id="tr212" d="M167.3 352.4l1.2-0.5 1.1 2.5 1.2 0.8 1.2-0.9 1.1-1.8 1.2-0.4 1.2 1.8 1.1 1 1.2 0.5 1.2-1.1 1.1 0 1.2-0.2 1.2 1.2 1.1 0.4 1.2-0.5 1.2 0 1.1-0.7 1.2-0.4 1.2-1.1 1.1 1.3 1.2 0.6 1.2 1.3 1.1-1 1.2 0.8 1.2-1.8 1.1-0.7 1.2-0.6 1.2-0.5 1.1-0.2 1.2 0.1 1.2 1.3 1.1-1 1.2-0.3 1.2-1 1.1 1.1 1.2-0.2 1.2 0.9 1.1 0.1 1.2 0.2 1.2-0.9 1.1 0.7 1.2 1.2 1.2 1.4 1.1-0.2 1.2-0.9 1.2-0.9 1.1 0.2 1.2-0.2 1.2 0.3 1.1-1.1 1.2 0.3 1.2 0 1.1 0.5 1.2-0.7 1.2 0.6 1.1 0.5 1.2 0.8" fill="none" stroke="#33c1cf" stroke-linejoin="round"/></defs><use href="#tr212" stroke-width="6.1" opacity="0.24"/>
<defs><path id="tr213" d="M167.3 354.0l1.2-1.1 1.1-1 1.2 0 1.2-1 1.1 1.1 1.2 0.3 1.2 1.9 1.1 0.1 1.2 0.4 1.2 0 1.1 0.9 1.2-0.1 1.2-1.1 1.1 0 1.2 0.7 1.2 0.2 1.1 0.5 1.2-0.3 1.2 0 1.1 0.2 1.2-0.3 1.2 1.2 1.1-0.6 1.2 0.4 1.2-1.7 1.1-1.6 1.2-1.5 1.2-1.5 1.1-0.6 1.2-0.9 1.2-1.1 1.1-1.7 1.2-2.3 1.2-2.3 1.1-1.5 1.2-1.5 1.2 0.6 1.1-0.3 1.2 1.5 1.2-0.3 1.1-0.8 1.2-0.8 1.2-0.6 1.1 2 1.2 1 1.2 0.6 1.1-0.9 1.2-0.7 1.2 1.3 1.1 0.5 1.2 0.7 1.2-0.6 1.1 0.4 1.2 0.5 1.2 1.3 1.1 1.3 1.2 1" fill="none" stroke="#4fbf45" stroke-linejoin="round"/></defs><use href="#tr213" stroke-width="4.5" opacity="0.24"/>
<defs><path id="tr214" d="M167.3 354.2l1.2-0.3 1.1 0.4 1.2 1.3 1.2 0.6 1.1-0.3 1.2-0.3 1.2-0.8 1.1 0.7 1.2-0.5 1.2 0.6 1.1-0.8 1.2 0.7 1.2-1 1.1 0.8 1.2-0.5 1.2 0.2 1.1-0.4 1.2-0.6 1.2 0.2 1.1 0.4 1.2 0.6 1.2 0.5 1.1-0.3 1.2 0.3 1.2-0.6 1.1-1.4 1.2 0.8 1.2 0.1 1.1 0.2 1.2-1 1.2-0.3 1.1-0.3 1.2 0.6 1.2 0.1 1.1 0.4 1.2-0.3 1.2 1 1.1 1 1.2-0.4 1.2-1 1.1-1.4 1.2-0.6 1.2 1 1.1 0.4 1.2 0.3 1.2-1.6 1.1 0.7 1.2 0.8 1.2 0.8 1.1-0.8 1.2-0.6 1.2-0.7 1.1 0.4 1.2 0.7 1.2 1.5 1.1-0.5 1.2 0.5" fill="none" stroke="#d4d417" stroke-linejoin="round"/></defs><use href="#tr214" stroke-width="4.5" opacity="0.24"/>
<defs><path id="tr215" d="M167.3 353.9l1.2 0.2 1.1-0.1 1.2-1.6 1.2-0.1 1.1 0.4 1.2 1.3 1.2-0.4 1.1 0.3 1.2 0.4 1.2 1.5 1.1-0.7 1.2-0.4 1.2-1.6 1.1 1.1 1.2-0.7 1.2 0.4 1.1-0.4 1.2 1.4 1.2 0.7 1.1 0.5 1.2-0.6 1.2 0.2 1.1-0.3 1.2 0 1.2-0.5 1.1-0.3 1.2 0.2 1.2 0 1.1-1.2 1.2-1 1.2-0.1 1.1 0.5 1.2-0.5 1.2-0.7 1.1-1.5 1.2 0 1.2-0.8 1.1 2 1.2 0.1 1.2 0.6 1.1-0.9 1.2 0.7 1.2 0.2 1.1 0.7 1.2-0.1 1.2 0.4 1.1 0.3 1.2 1.1 1.2 0.1 1.1-0.7 1.2 0.7 1.2 1.2 1.1-0.3 1.2-1.1 1.2-2.6 1.1 1.5 1.2 0.1" fill="none" stroke="#e0782f" stroke-linejoin="round"/></defs><use href="#tr215" stroke-width="5.4" opacity="0.24"/>
<defs><path id="tr216" d="M167.3 354.4l1.2-1 1.1 1.1 1.2 0.3 1.2 1.8 1.1-0.5 1.2 0.8 1.2-0.8 1.1 0.8 1.2-0.4 1.2 0.4 1.1-0.3 1.2 0.8 1.2 0.5 1.1-0.4 1.2-0.4 1.2-0.9 1.1-0.8 1.2 0.5 1.2 0.3 1.1 0.8 1.2-1 1.2-0.2 1.1-0.7 1.2 0.1 1.2 0.6 1.1 0.7 1.2 1.1 1.2-1 1.1-0.3 1.2-1.6 1.2-0.5 1.1-0.4 1.2-0.7 1.2-0.6 1.1 0 1.2 0.6 1.2-0.2 1.1-1.6 1.2 0 1.2 0.8 1.1 1.3 1.2-0.1 1.2 0.3 1.1 0.1 1.2 0.8 1.2 0.3 1.1 0.7 1.2-0.5 1.2 0.1 1.1-0.7 1.2 0.2 1.2-0.8 1.1 1.8 1.2 0.8 1.2 1.2 1.1-1.3 1.2-0.8" fill="none" stroke="#dc1f1f" stroke-linejoin="round"/></defs><use href="#tr216" stroke-width="4.5" opacity="0.24"/>
<use href="#tr210" stroke-width="1.25"/>
<use href="#tr211" stroke-width="1.25"/>
<use href="#tr212" stroke-width="1.25"/>
<use href="#tr213" stroke-width="1.25"/>
<use href="#tr214" stroke-width="1.25"/>
<use href="#tr215" stroke-width="1.5"/>
<use href="#tr216" stroke-width="1.5"/>
</g>
<line x1="192.39" y1="326.80" x2="192.39" y2="362.70" stroke="#111" stroke-width="1.0" stroke-dasharray="3 2.4"/>
<line x1="167.30" y1="326.80" x2="167.30" y2="362.70" stroke="#3a3a3a" stroke-width="0.8" />
<line x1="167.30" y1="362.70" x2="233.80" y2="362.70" stroke="#3a3a3a" stroke-width="0.8" />
<line x1="167.30" y1="333.20" x2="168.70" y2="333.20" stroke="#3a3a3a" stroke-width="0.6" />
<text x="164.4" y="333.2" font-size="7.4" text-anchor="end" fill="#1a1a1a" stroke="#1a1a1a" stroke-width="0.1" dominant-baseline="central" >100</text>
<line x1="167.30" y1="343.65" x2="168.70" y2="343.65" stroke="#3a3a3a" stroke-width="0.6" />
<text x="164.4" y="343.7" font-size="7.4" text-anchor="end" fill="#1a1a1a" stroke="#1a1a1a" stroke-width="0.1" dominant-baseline="central" >50</text>
<line x1="167.30" y1="354.10" x2="168.70" y2="354.10" stroke="#3a3a3a" stroke-width="0.6" />
<text x="164.4" y="354.1" font-size="7.4" text-anchor="end" fill="#1a1a1a" stroke="#1a1a1a" stroke-width="0.1" dominant-baseline="central" >0</text>
<line x1="167.30" y1="362.70" x2="167.30" y2="361.30" stroke="#3a3a3a" stroke-width="0.6" />
<text x="167.3" y="369.5" font-size="7.4" text-anchor="middle" fill="#1a1a1a" stroke="#1a1a1a" stroke-width="0.1" dominant-baseline="central" >-2</text>
<line x1="192.39" y1="362.70" x2="192.39" y2="361.30" stroke="#3a3a3a" stroke-width="0.6" />
<text x="192.4" y="369.5" font-size="7.4" text-anchor="middle" fill="#1a1a1a" stroke="#1a1a1a" stroke-width="0.1" dominant-baseline="central" >0</text>
<line x1="217.49" y1="362.70" x2="217.49" y2="361.30" stroke="#3a3a3a" stroke-width="0.6" />
<text x="217.5" y="369.5" font-size="7.4" text-anchor="middle" fill="#1a1a1a" stroke="#1a1a1a" stroke-width="0.1" dominant-baseline="central" >2</text>
<clipPath id="clipD22"><rect x="255.30" y="326.80" width="67.00" height="35.90"/></clipPath>
<g clip-path="url(#clipD22)">
<defs><path id="tr220" d="M255.3 351.2l1.2 1.2 1.1 1.1 1.2 0.5 1.2 1.4 1.1-0.6 1.2 0.4 1.2-1.4 1.1 1.1 1.2 0.7 1.2 0.7 1.1-0.4 1.2-0.7 1.2-0.1 1.1-0.2 1.2-0.1 1.2 0.5 1.1 0.2 1.2 1.2 1.2-0.3 1.1-0.6 1.2-0.4 1.2-1.4 1.1 0.1 1.2-1 1.2 0.6 1.1-0.4 1.2-0.5 1.2-0.3 1.1 0.4 1.2 0.5 1.2-1.4 1.1-0.5 1.2-0.5 1.2 0.7 1.1 0 1.2-0.6 1.2-1.1 1.1-0.8 1.2 0.4 1.2 0.4 1.1 0.1 1.2 0.3 1.2 0.4 1.1 0.9 1.2-0.6 1.2 0.8 1.1-0.2 1.2 0.4 1.2-0.2 1.1 0.5 1.2-1 1.2-1 1.1 0.4 1.2 1.1 1.2 1.5 1.1-1 1.2 0.8" fill="none" stroke="#2b3a9e" stroke-linejoin="round"/></defs><use href="#tr220" stroke-width="6.1" opacity="0.24"/>
<defs><path id="tr221" d="M255.3 351.6l1.2-0.3 1.1 0.7 1.2 0.5 1.2 1 1.1 0 1.2 0.9 1.2 0.8 1.1-0.2 1.2 0.9 1.2-0.6 1.1 0.1 1.2-1 1.2 0.9 1.1 0.7 1.2-0.2 1.2-1.3 1.1-1.1 1.2 1.3 1.2 0.4 1.1 1.1 1.2-1.4 1.2 1 1.1-0.3 1.2-0.3 1.2-0.9 1.1-0.3 1.2 0.4 1.2-1.5 1.1 0 1.2-0.5 1.2 0.4 1.1-0.9 1.2-1.9 1.2-0.6 1.1 0 1.2 0.7 1.2-0.2 1.1-0.6 1.2 0.4 1.2 0 1.1 0.9 1.2 0.7 1.2 0.6 1.1 0.1 1.2-1 1.2-1.1 1.1-1.2 1.2 0.2 1.2 0.9 1.1 1.1 1.2 1 1.2 0 1.1 0.5 1.2-0.8 1.2 0.4 1.1-1.1 1.2 0.2" fill="none" stroke="#2166cc" stroke-linejoin="round"/></defs><use href="#tr221" stroke-width="5.4" opacity="0.24"/>
<defs><path id="tr222" d="M255.3 354.2l1.2 0.3 1.1-0.6 1.2-1.4 1.2-0.9 1.1 1 1.2 1.1 1.2 0.4 1.1-0.2 1.2-1.8 1.2 0.3 1.1 0.6 1.2 1.7 1.2-0.6 1.1 0.2 1.2-0.3 1.2 1.6 1.1-1.8 1.2 0.4 1.2-0.2 1.1 1.8 1.2 0.1 1.2 0.8 1.1-0.7 1.2-1.6 1.2-1.5 1.1-0.2 1.2 1.6 1.2-0.2 1.1-0.1 1.2-0.2 1.2-0.7 1.1-0.5 1.2-0.1 1.2-0.1 1.1 0.3 1.2-0.8 1.2 0.7 1.1-0.6 1.2-0.1 1.2 0.3 1.1 0.3 1.2 0.5 1.2-0.2 1.1-0.4 1.2 0.4 1.2 0.7 1.1 1.1 1.2-0.2 1.2-1.2 1.1 0.7 1.2-1.3 1.2-0.1 1.1-0.5 1.2 1.2 1.2 1.1 1.1-0.5 1.2-0.2" fill="none" stroke="#33c1cf" stroke-linejoin="round"/></defs><use href="#tr222" stroke-width="6.1" opacity="0.24"/>
<defs><path id="tr223" d="M255.3 352.3l1.2 0.5 1.1 0 1.2 1.1 1.2 0 1.1 0.2 1.2 0 1.2-0.1 1.1 0.6 1.2 0 1.2 0.6 1.1 0.2 1.2 0.3 1.2-0.1 1.1-0.5 1.2 0.4 1.2-0.1 1.1 0.5 1.2-0.4 1.2-0.3 1.1-1.2 1.2-0.7 1.2 0.3 1.1 0.7 1.2-0.8 1.2 0.4 1.1-1.1 1.2 1.2 1.2-0.8 1.1 0.2 1.2-1.1 1.2-1.6 1.1-0.6 1.2-0.7 1.2-0.5 1.1-0.8 1.2-0.7 1.2-1 1.1-1.3 1.2-1.5 1.2 1 1.1-0.3 1.2 0.8 1.2-1 1.1 0.5 1.2-1.5 1.2 1.4 1.1 1.3 1.2 0.8 1.2-1 1.1-0.3 1.2 2.4 1.2 0.2 1.1 0 1.2 0 1.2-1 1.1 1.4 1.2-1" fill="none" stroke="#4fbf45" stroke-linejoin="round"/></defs><use href="#tr223" stroke-width="4.5" opacity="0.24"/>
<defs><path id="tr224" d="M255.3 353.6l1.2 0.1 1.1 0.7 1.2 0.6 1.2 1 1.1 0.2 1.2-1.3 1.2-0.7 1.1-0.5 1.2 0.1 1.2-0.9 1.1-0.1 1.2 0.7 1.2 0.7 1.1 0.6 1.2-0.1 1.2-0.2 1.1-1.3 1.2 0.7 1.2 0.3 1.1 0.7 1.2-0.1 1.2 0 1.1 0.7 1.2-0.2 1.2-0.4 1.1-1.4 1.2 0.1 1.2 1.1 1.1 0.8 1.2-1.3 1.2-0.7 1.1 0.7 1.2 1.3 1.2 1.3 1.1-0.3 1.2 0 1.2-0.7 1.1-0.5 1.2 0.4 1.2 0.1 1.1 0.7 1.2-0.8 1.2-1.9 1.1-1.1 1.2 0.3 1.2 1.3 1.1 0.8 1.2-0.4 1.2 0.1 1.1-0.4 1.2 0.1 1.2 0.2 1.1 0.6 1.2 0.3 1.2-0.4 1.1-0.3 1.2 0.6" fill="none" stroke="#d4d417" stroke-linejoin="round"/></defs><use href="#tr224" stroke-width="4.5" opacity="0.24"/>
<defs><path id="tr225" d="M255.3 351.8l1.2 0.8 1.1 1 1.2 0.7 1.2-0.8 1.1 0.8 1.2 0.2 1.2-0.1 1.1-0.3 1.2-0.2 1.2 1.4 1.1 0.5 1.2 0.1 1.2-1.4 1.1-0.7 1.2 0.3 1.2 0.2 1.1-0.7 1.2-0.7 1.2 0.2 1.1 0.8 1.2-0.1 1.2-0.3 1.1-0.7 1.2 0.7 1.2 0.7 1.1 0.3 1.2 0.2 1.2-1.1 1.1-0.4 1.2 0.8 1.2 0.2 1.1-0.3 1.2-1.8 1.2 0.6 1.1 1.1 1.2 0 1.2-0.8 1.1-0.5 1.2 1.1 1.2 1.3 1.1-0.1 1.2-0.2 1.2-0.5 1.1-0.1 1.2-0.9 1.2 0.7 1.1 0.7 1.2-0.1 1.2-1.1 1.1-0.1 1.2 0.4 1.2 0.7 1.1 0.5 1.2 0.4 1.2-1.4 1.1-1.1 1.2 0" fill="none" stroke="#e0782f" stroke-linejoin="round"/></defs><use href="#tr225" stroke-width="5.4" opacity="0.24"/>
<defs><path id="tr226" d="M255.3 355.5l1.2 1.4 1.1-0.4 1.2-1.1 1.2-1.1 1.1 0.2 1.2 0.7 1.2-0.4 1.1 0 1.2 0.6 1.2-0.2 1.1 0.4 1.2-1 1.2 0.7 1.1-0.9 1.2 0.1 1.2-0.7 1.1 0.5 1.2 0.4 1.2 0.9 1.1-0.3 1.2 0.2 1.2-0.8 1.1 0.5 1.2 0 1.2 0.9 1.1-0.1 1.2-1.5 1.2-0.9 1.1-0.2 1.2 1.4 1.2-0.6 1.1 0.1 1.2-0.4 1.2 1.2 1.1-0.8 1.2 0 1.2 0 1.1 0.7 1.2 0.7 1.2 0.3 1.1 0.3 1.2 1 1.2-1.2 1.1-1.1 1.2-0.9 1.2 0.7 1.1 1.9 1.2-0.7 1.2-0.2 1.1-1.2 1.2 0.8 1.2 0.4 1.1 0.7 1.2-0.6 1.2-1.5 1.1-0.2 1.2-0.1" fill="none" stroke="#dc1f1f" stroke-linejoin="round"/></defs><use href="#tr226" stroke-width="4.5" opacity="0.24"/>
<use href="#tr220" stroke-width="1.25"/>
<use href="#tr221" stroke-width="1.25"/>
<use href="#tr222" stroke-width="1.25"/>
<use href="#tr223" stroke-width="1.25"/>
<use href="#tr224" stroke-width="1.25"/>
<use href="#tr225" stroke-width="1.5"/>
<use href="#tr226" stroke-width="1.5"/>
</g>
<line x1="280.39" y1="326.80" x2="280.39" y2="362.70" stroke="#111" stroke-width="1.0" stroke-dasharray="3 2.4"/>
<line x1="255.30" y1="326.80" x2="255.30" y2="362.70" stroke="#3a3a3a" stroke-width="0.8" />
<line x1="255.30" y1="362.70" x2="321.80" y2="362.70" stroke="#3a3a3a" stroke-width="0.8" />
<line x1="255.30" y1="333.20" x2="256.70" y2="333.20" stroke="#3a3a3a" stroke-width="0.6" />
<text x="252.4" y="333.2" font-size="7.4" text-anchor="end" fill="#1a1a1a" stroke="#1a1a1a" stroke-width="0.1" dominant-baseline="central" >100</text>
<line x1="255.30" y1="343.65" x2="256.70" y2="343.65" stroke="#3a3a3a" stroke-width="0.6" />
<text x="252.4" y="343.7" font-size="7.4" text-anchor="end" fill="#1a1a1a" stroke="#1a1a1a" stroke-width="0.1" dominant-baseline="central" >50</text>
<line x1="255.30" y1="354.10" x2="256.70" y2="354.10" stroke="#3a3a3a" stroke-width="0.6" />
<text x="252.4" y="354.1" font-size="7.4" text-anchor="end" fill="#1a1a1a" stroke="#1a1a1a" stroke-width="0.1" dominant-baseline="central" >0</text>
<line x1="255.30" y1="362.70" x2="255.30" y2="361.30" stroke="#3a3a3a" stroke-width="0.6" />
<text x="255.3" y="369.5" font-size="7.4" text-anchor="middle" fill="#1a1a1a" stroke="#1a1a1a" stroke-width="0.1" dominant-baseline="central" >-2</text>
<line x1="280.39" y1="362.70" x2="280.39" y2="361.30" stroke="#3a3a3a" stroke-width="0.6" />
<text x="280.4" y="369.5" font-size="7.4" text-anchor="middle" fill="#1a1a1a" stroke="#1a1a1a" stroke-width="0.1" dominant-baseline="central" >0</text>
<line x1="305.49" y1="362.70" x2="305.49" y2="361.30" stroke="#3a3a3a" stroke-width="0.6" />
<text x="305.5" y="369.5" font-size="7.4" text-anchor="middle" fill="#1a1a1a" stroke="#1a1a1a" stroke-width="0.1" dominant-baseline="central" >2</text>
<clipPath id="clipD23"><rect x="343.30" y="326.80" width="67.00" height="35.90"/></clipPath>
<g clip-path="url(#clipD23)">
<defs><path id="tr230" d="M343.3 352.6l1.2-0.9 1.1-0.3 1.2 2 1.2 0.1 1.1 0.9 1.2-1.1 1.2 0 1.1-0.2 1.2 1.6 1.2 0.6 1.1 0.7 1.2-1.1 1.2 0.2 1.1-0.8 1.2 1.1 1.2 0.5 1.1 0.6 1.2-1 1.2-0.2 1.1 0 1.2 0.1 1.2-0.9 1.1-0.1 1.2-0.3 1.2 1.3 1.1 1 1.2 0.6 1.2-1.6 1.1-0.5 1.2-1.4 1.2-0.1 1.1-1.5 1.2 0.3 1.2-0.2 1.1-0.8 1.2-1 1.2-0.4 1.1 0.6 1.2 0.3 1.2-0.3 1.1 0.1 1.2 0.7 1.2 1.5 1.1 0 1.2 0.4 1.2 0.2 1.1-0.3 1.2-0.1 1.2 0.3 1.1 0.9 1.2-1.3 1.2-0.9 1.1 0.3 1.2 1.6 1.2-0.4 1.1-0.9 1.2-0.6" fill="none" stroke="#2b3a9e" stroke-linejoin="round"/></defs><use href="#tr230" stroke-width="6.1" opacity="0.24"/>
<defs><path id="tr231" d="M343.3 352.1l1.2-0.3 1.1 0.5 1.2 1.7 1.2 0.1 1.1-0.8 1.2-0.9 1.2 1 1.1 0.9 1.2-0.2 1.2-0.2 1.1 0 1.2 0.2 1.2-1.1 1.1 1.2 1.2 1.7 1.2 0.8 1.1-1.2 1.2-0.7 1.2 0.2 1.1 0.6 1.2-0.8 1.2 1.1 1.1-0.6 1.2 1 1.2-1.2 1.1 0.5 1.2-0.7 1.2-0.9 1.1-1.3 1.2-1.9 1.2-0.3 1.1-0.5 1.2 0.6 1.2-0.3 1.1-0.6 1.2 0.3 1.2 0.1 1.1 0.9 1.2 0.1 1.2 0.2 1.1-0.5 1.2 0.1 1.2 0 1.1 0.6 1.2-0.3 1.2 0.3 1.1-0.5 1.2 0.8 1.2-0.6 1.1-0.4 1.2-0.4 1.2 0.5 1.1 1.7 1.2-0.3 1.2 0 1.1-1 1.2 0.8" fill="none" stroke="#2166cc" stroke-linejoin="round"/></defs><use href="#tr231" stroke-width="5.4" opacity="0.24"/>
<defs><path id="tr232" d="M343.3 351.6l1.2 0.5 1.1 1.7 1.2 0.3 1.2-0.5 1.1-0.9 1.2 0.6 1.2 1 1.1 0.9 1.2 0 1.2-0.3 1.1-0.6 1.2-1.6 1.2-0.1 1.1-0.6 1.2 1.9 1.2-0.6 1.1 0.3 1.2-1 1.2 0.4 1.1 0.1 1.2-0.8 1.2 0 1.1 1.2 1.2 1.9 1.2-0.5 1.1-1 1.2-1.8 1.2 0.9 1.1 0.2 1.2 0.8 1.2-0.5 1.1-0.5 1.2 0.1 1.2-0.2 1.1-0.2 1.2 0.1 1.2 0.9 1.1 1.4 1.2-0.3 1.2-0.6 1.1-0.7 1.2 0.2 1.2 0.1 1.1-0.3 1.2-0.6 1.2-0.5 1.1-0.1 1.2-0.2 1.2 1 1.1 0 1.2 0.5 1.2 0.1 1.1 0.8 1.2 0.1 1.2-0.6 1.1 0.4 1.2 0.6" fill="none" stroke="#33c1cf" stroke-linejoin="round"/></defs><use href="#tr232" stroke-width="6.1" opacity="0.24"/>
<defs><path id="tr233" d="M343.3 352.8l1.2 0.1 1.1 0.9 1.2 0.2 1.2 0.2 1.1-0.3 1.2 0.6 1.2 0.2 1.1-1 1.2 0.8 1.2 0.2 1.1 1.6 1.2-1.2 1.2 0.9 1.1-2.1 1.2 0.2 1.2-0.8 1.1 1.8 1.2 0.1 1.2 0.2 1.1-0.5 1.2-1.6 1.2-0.5 1.1-0.8 1.2 1.3 1.2-0.2 1.1 0.8 1.2 0 1.2-2.3 1.1-0.5 1.2-1.3 1.2 2 1.1-0.2 1.2 0.3 1.2-1.5 1.1-0.7 1.2-1.1 1.2-0.1 1.1 0.1 1.2-0.4 1.2 0 1.1-1 1.2 0.3 1.2-0.1 1.1 0 1.2-0.7 1.2 0.5 1.1-0.2 1.2 1.1 1.2-0.1 1.1 0.5 1.2-0.4 1.2 1.3 1.1 0.7 1.2 0.3 1.2-1.7 1.1-0.1 1.2-0.8" fill="none" stroke="#4fbf45" stroke-linejoin="round"/></defs><use href="#tr233" stroke-width="4.5" opacity="0.24"/>
<defs><path id="tr234" d="M343.3 354.7l1.2-0.9 1.1-0.1 1.2-0.2 1.2 0.5 1.1-0.1 1.2-0.1 1.2-0.2 1.1 1.6 1.2 1.2 1.2 0.4 1.1-0.7 1.2-0.8 1.2 0 1.1-1.9 1.2 0 1.2 0.3 1.1 1.5 1.2-0.5 1.2-1 1.1 0.4 1.2 0.2 1.2 0.7 1.1-1.7 1.2 0.8 1.2-0.6 1.1 0.9 1.2 0 1.2 0.4 1.1-0.4 1.2-0.5 1.2 0 1.1 0.4 1.2-0.7 1.2-0.6 1.1 0 1.2 0.8 1.2 1.3 1.1 0.2 1.2 0.4 1.2-1.2 1.1 0.4 1.2-0.5 1.2 1 1.1-0.8 1.2 0.6 1.2-0.5 1.1 0.2 1.2-0.2 1.2 0 1.1-0.2 1.2-1.1 1.2 1 1.1 1.1 1.2 0.6 1.2-1.4 1.1-0.2 1.2 0.3" fill="none" stroke="#d4d417" stroke-linejoin="round"/></defs><use href="#tr234" stroke-width="4.5" opacity="0.24"/>
<defs><path id="tr235" d="M343.3 352.5l1.2 0.5 1.1 2.1 1.2 0.6 1.2-1.3 1.1-0.6 1.2-1.7 1.2 0.4 1.1-0.3 1.2 0.7 1.2 0 1.1-0.3 1.2 0.9 1.2 0.8 1.1 0.8 1.2-0.6 1.2-0.1 1.1 0.4 1.2 0.4 1.2-1 1.1-1.8 1.2 0.1 1.2 0.7 1.1 1.2 1.2-0.1 1.2-0.2 1.1 0 1.2-1.3 1.2 0.1 1.1 0.1 1.2 2.2 1.2 0.3 1.1-0.7 1.2-1.1 1.2-0.5 1.1 0 1.2 0.5 1.2 0.6 1.1 0.1 1.2-1.3 1.2-0.3 1.1 0.2 1.2 0.6 1.2 0.2 1.1 0 1.2 0.4 1.2-0.5 1.1 0.3 1.2-0.8 1.2 0.6 1.1-0.3 1.2 0.3 1.2-0.7 1.1 0 1.2-0.4 1.2 0.6 1.1 0.4 1.2 0.7" fill="none" stroke="#e0782f" stroke-linejoin="round"/></defs><use href="#tr235" stroke-width="5.4" opacity="0.24"/>
<defs><path id="tr236" d="M343.3 355.3l1.2-1.1 1.1 0.4 1.2 0.4 1.2 0 1.1 0.3 1.2 0 1.2 0.2 1.1-1.1 1.2 0.1 1.2 1.1 1.1 1.5 1.2-1 1.2-0.7 1.1-1.8 1.2 0.4 1.2-0.2 1.1 1.3 1.2-0.1 1.2 0.1 1.1-0.9 1.2 0.4 1.2-0.5 1.1-0.3 1.2 1 1.2 1.2 1.1 0.4 1.2-0.8 1.2-1.2 1.1 0.1 1.2 0 1.2-0.7 1.1-0.8 1.2-0.7 1.2 0.5 1.1 1.2 1.2 0.7 1.2 0.7 1.1 0.2 1.2 0.5 1.2-0.1 1.1 0.1 1.2-0.7 1.2-0.1 1.1-0.6 1.2 0.5 1.2 0 1.1-0.4 1.2-0.4 1.2 1 1.1 1.1 1.2-0.9 1.2-0.3 1.1-0.7 1.2 2.1 1.2 0 1.1 0.2 1.2-1.4" fill="none" stroke="#dc1f1f" stroke-linejoin="round"/></defs><use href="#tr236" stroke-width="4.5" opacity="0.24"/>
<use href="#tr230" stroke-width="1.25"/>
<use href="#tr231" stroke-width="1.25"/>
<use href="#tr232" stroke-width="1.25"/>
<use href="#tr233" stroke-width="1.25"/>
<use href="#tr234" stroke-width="1.25"/>
<use href="#tr235" stroke-width="1.5"/>
<use href="#tr236" stroke-width="1.5"/>
</g>
<line x1="368.39" y1="326.80" x2="368.39" y2="362.70" stroke="#111" stroke-width="1.0" stroke-dasharray="3 2.4"/>
<line x1="343.30" y1="326.80" x2="343.30" y2="362.70" stroke="#3a3a3a" stroke-width="0.8" />
<line x1="343.30" y1="362.70" x2="409.80" y2="362.70" stroke="#3a3a3a" stroke-width="0.8" />
<line x1="343.30" y1="333.20" x2="344.70" y2="333.20" stroke="#3a3a3a" stroke-width="0.6" />
<text x="340.4" y="333.2" font-size="7.4" text-anchor="end" fill="#1a1a1a" stroke="#1a1a1a" stroke-width="0.1" dominant-baseline="central" >100</text>
<line x1="343.30" y1="343.65" x2="344.70" y2="343.65" stroke="#3a3a3a" stroke-width="0.6" />
<text x="340.4" y="343.7" font-size="7.4" text-anchor="end" fill="#1a1a1a" stroke="#1a1a1a" stroke-width="0.1" dominant-baseline="central" >50</text>
<line x1="343.30" y1="354.10" x2="344.70" y2="354.10" stroke="#3a3a3a" stroke-width="0.6" />
<text x="340.4" y="354.1" font-size="7.4" text-anchor="end" fill="#1a1a1a" stroke="#1a1a1a" stroke-width="0.1" dominant-baseline="central" >0</text>
<line x1="343.30" y1="362.70" x2="343.30" y2="361.30" stroke="#3a3a3a" stroke-width="0.6" />
<text x="343.3" y="369.5" font-size="7.4" text-anchor="middle" fill="#1a1a1a" stroke="#1a1a1a" stroke-width="0.1" dominant-baseline="central" >-2</text>
<line x1="368.39" y1="362.70" x2="368.39" y2="361.30" stroke="#3a3a3a" stroke-width="0.6" />
<text x="368.4" y="369.5" font-size="7.4" text-anchor="middle" fill="#1a1a1a" stroke="#1a1a1a" stroke-width="0.1" dominant-baseline="central" >0</text>
<line x1="393.49" y1="362.70" x2="393.49" y2="361.30" stroke="#3a3a3a" stroke-width="0.6" />
<text x="393.5" y="369.5" font-size="7.4" text-anchor="middle" fill="#1a1a1a" stroke="#1a1a1a" stroke-width="0.1" dominant-baseline="central" >2</text>
<clipPath id="clipD24"><rect x="430.50" y="326.80" width="67.00" height="35.90"/></clipPath>
<g clip-path="url(#clipD24)">
<defs><path id="tr240" d="M430.5 356.5l1.2-1.1 1.1-0.3 1.2 0.1 1.2 0.6 1.1-0.4 1.2-0.8 1.2-0.9 1.1 0.5 1.2 0.1 1.2-0.1 1.1 0.3 1.2 1.1 1.2 0.6 1.1-0.4 1.2-0.9 1.2 0.1 1.1 0 1.2 0.6 1.2 0.3 1.1 0.1 1.2-0.3 1.2-1.3 1.1 0.6 1.2-0.2 1.2 0.5 1.1-2 1.2-0.2 1.2-1.6 1.1 0.2 1.2 0.1 1.2 1.2 1.1 0.5 1.2-0.9 1.2-1.4 1.1-2 1.2-0.6 1.2 0.6 1.1 0.5 1.2 0.6 1.2-0.5 1.1 0 1.2-0.4 1.2 0.2 1.1 1.7 1.2 1.4 1.2 1.4 1.1-0.6 1.2 0.2 1.2-1.2 1.1-0.2 1.2-1.2 1.2-0.4 1.1 0.2 1.2 0.1 1.2 0.6 1.1-0.4 1.2-0.2" fill="none" stroke="#2b3a9e" stroke-linejoin="round"/></defs><use href="#tr240" stroke-width="6.1" opacity="0.24"/>
<defs><path id="tr241" d="M430.5 352.9l1.2-0.1 1.1-0.1 1.2 0.9 1.2-0.1 1.1 1 1.2 0.6 1.2 0.4 1.1-1.1 1.2-0.3 1.2-0.8 1.1 1.3 1.2 0 1.2 0.5 1.1-1.1 1.2 0.7 1.2-0.2 1.1-0.1 1.2-1.4 1.2 1 1.1 1.3 1.2 1.7 1.2-1 1.1-1.1 1.2-1.3 1.2 0.6 1.1-0.8 1.2-1.2 1.2-0.9 1.1 0.2 1.2-0.2 1.2-0.7 1.1-1.2 1.2 0.6 1.2-0.2 1.1 0.7 1.2-0.1 1.2 0.2 1.1-0.1 1.2-0.5 1.2 0.1 1.1 0 1.2 0.8 1.2 0.6 1.1-0.7 1.2 0.2 1.2-1.6 1.1 0.4 1.2 0.8 1.2 1.4 1.1 0.8 1.2-1.2 1.2-0.2 1.1 0.2 1.2-0.6 1.2 0.1 1.1-0.8 1.2 1.1" fill="none" stroke="#2166cc" stroke-linejoin="round"/></defs><use href="#tr241" stroke-width="5.4" opacity="0.24"/>
<defs><path id="tr242" d="M430.5 352.9l1.2 0.2 1.1 0.9 1.2-0.7 1.2-0.4 1.1 0.3 1.2 0.3 1.2-0.5 1.1-0.2 1.2 0.5 1.2 0.8 1.1-1.5 1.2 0 1.2-1 1.1 1.5 1.2-0.2 1.2 2 1.1-0.1 1.2 0.2 1.2-0.9 1.1 0.3 1.2 0.8 1.2 0.6 1.1-0.3 1.2-0.5 1.2-0.8 1.1 0 1.2-0.2 1.2 0.2 1.1-1.2 1.2 0.2 1.2-0.2 1.1 1.1 1.2 0 1.2 0.2 1.1-0.7 1.2-1.1 1.2-0.6 1.1-1.3 1.2 0.1 1.2-0.6 1.1 2.2 1.2-0.1 1.2-0.2 1.1-0.2 1.2-0.3 1.2 1.4 1.1 0.5 1.2 1 1.2 0.1 1.1-0.9 1.2 0.7 1.2-0.4 1.1 1.5 1.2-0.5 1.2-0.5 1.1-0.8 1.2-0.1" fill="none" stroke="#33c1cf" stroke-linejoin="round"/></defs><use href="#tr242" stroke-width="6.1" opacity="0.24"/>
<defs><path id="tr243" d="M430.5 354.8l1.2 0.5 1.1-0.7 1.2-0.5 1.2 0.6 1.1-0.5 1.2 0.5 1.2-0.4 1.1 0.7 1.2-0.9 1.2 0.1 1.1 0.4 1.2-0.6 1.2 0.2 1.1-0.9 1.2 1.2 1.2-0.2 1.1 0.4 1.2 0 1.2-0.4 1.1 1.2 1.2-0.1 1.2 0 1.1-1 1.2 0 1.2-1.4 1.1-1.8 1.2-0.8 1.2 0.8 1.1 0.8 1.2-0.8 1.2-0.1 1.1-0.1 1.2-0.1 1.2-0.6 1.1-1 1.2-1.4 1.2-0.5 1.1-0.9 1.2 0.4 1.2-1.2 1.1 0.6 1.2 0.2 1.2 0.3 1.1-1.7 1.2-0.6 1.2 0.3 1.1 0.7 1.2 0.3 1.2-0.2 1.1 0.7 1.2 0.6 1.2 0.9 1.1 0.4 1.2-0.5 1.2-1.5 1.1-1.2 1.2 0.8" fill="none" stroke="#4fbf45" stroke-linejoin="round"/></defs><use href="#tr243" stroke-width="4.5" opacity="0.24"/>
<defs><path id="tr244" d="M430.5 355.2l1.2 1 1.1-1.7 1.2 0.8 1.2-0.1 1.1 1.1 1.2-1.1 1.2-1 1.1 0 1.2-0.7 1.2 0.4 1.1 0 1.2 0.8 1.2 0.1 1.1-0.9 1.2 0.1 1.2-1.2 1.1-0.1 1.2 0.5 1.2 0.8 1.1 0.2 1.2 0.2 1.2 0.9 1.1 0.8 1.2 0.8 1.2-0.7 1.1-0.3 1.2-2 1.2 0.6 1.1-0.1 1.2 0.2 1.2-0.8 1.1-0.1 1.2 0.9 1.2-0.7 1.1-0.3 1.2-1.3 1.2 0.4 1.1-0.3 1.2 0.5 1.2 0.6 1.1 0.4 1.2 1 1.2-0.1 1.1 0.8 1.2-1 1.2 1 1.1-0.9 1.2 0.6 1.2-1.9 1.1 0.3 1.2-0.5 1.2 1.9 1.1 0.3 1.2 0.3 1.2-0.3 1.1 0.1 1.2 0.5" fill="none" stroke="#d4d417" stroke-linejoin="round"/></defs><use href="#tr244" stroke-width="4.5" opacity="0.24"/>
<defs><path id="tr245" d="M430.5 353.7l1.2 0.2 1.1 0.3 1.2-0.3 1.2 0.5 1.1 0.1 1.2 0.1 1.2 0.2 1.1 0.2 1.2-0.3 1.2-0.2 1.1 0.1 1.2 0.4 1.2-0.2 1.1-1 1.2-0.3 1.2 0 1.1-0.1 1.2 0.5 1.2 0.5 1.1 0 1.2 0 1.2-0.4 1.1 0 1.2-0.8 1.2-0.6 1.1 0.6 1.2 0.7 1.2 0.3 1.1 0.4 1.2 0.4 1.2-0.1 1.1-0.4 1.2-0.3 1.2-0.1 1.1-0.7 1.2-1 1.2 0.6 1.1 0.4 1.2 0.6 1.2-0.3 1.1 0.9 1.2 0.2 1.2-0.3 1.1-0.6 1.2-0.3 1.2 0.3 1.1-0.6 1.2 0.2 1.2 0.7 1.1-1 1.2 0.2 1.2-1.4 1.1 2.3 1.2-0.4 1.2 1.1 1.1-1.9 1.2-1" fill="none" stroke="#e0782f" stroke-linejoin="round"/></defs><use href="#tr245" stroke-width="5.4" opacity="0.24"/>
<defs><path id="tr246" d="M430.5 355.6l1.2 0.9 1.1-0.3 1.2-0.5 1.2 0 1.1-0.1 1.2-0.7 1.2-1.2 1.1 0.9 1.2 1.3 1.2 1 1.1-1.7 1.2-0.3 1.2-1.2 1.1 0.4 1.2-0.9 1.2 1.5 1.1 0.3 1.2 0.2 1.2-0.7 1.1 0.8 1.2 0.7 1.2 0.2 1.1-1.4 1.2 0.2 1.2-0.9 1.1 0.2 1.2-1.2 1.2 0.7 1.1 0 1.2 0.9 1.2 0.8 1.1-0.5 1.2-0.5 1.2-1.1 1.1 0.7 1.2 1 1.2 0.7 1.1 0 1.2-0.4 1.2-0.7 1.1 0.3 1.2 0.3 1.2 0.2 1.1-0.9 1.2-1.5 1.2 0.1 1.1 1 1.2 1.7 1.2 0.7 1.1-0.5 1.2-0.7 1.2-0.4 1.1 0.4 1.2 0.2 1.2 0 1.1-0.6 1.2-0.2" fill="none" stroke="#dc1f1f" stroke-linejoin="round"/></defs><use href="#tr246" stroke-width="4.5" opacity="0.24"/>
<use href="#tr240" stroke-width="1.25"/>
<use href="#tr241" stroke-width="1.25"/>
<use href="#tr242" stroke-width="1.25"/>
<use href="#tr243" stroke-width="1.25"/>
<use href="#tr244" stroke-width="1.25"/>
<use href="#tr245" stroke-width="1.5"/>
<use href="#tr246" stroke-width="1.5"/>
</g>
<line x1="455.59" y1="326.80" x2="455.59" y2="362.70" stroke="#111" stroke-width="1.0" stroke-dasharray="3 2.4"/>
<line x1="430.50" y1="326.80" x2="430.50" y2="362.70" stroke="#3a3a3a" stroke-width="0.8" />
<line x1="430.50" y1="362.70" x2="497.00" y2="362.70" stroke="#3a3a3a" stroke-width="0.8" />
<line x1="430.50" y1="333.20" x2="431.90" y2="333.20" stroke="#3a3a3a" stroke-width="0.6" />
<text x="427.6" y="333.2" font-size="7.4" text-anchor="end" fill="#1a1a1a" stroke="#1a1a1a" stroke-width="0.1" dominant-baseline="central" >100</text>
<line x1="430.50" y1="343.65" x2="431.90" y2="343.65" stroke="#3a3a3a" stroke-width="0.6" />
<text x="427.6" y="343.7" font-size="7.4" text-anchor="end" fill="#1a1a1a" stroke="#1a1a1a" stroke-width="0.1" dominant-baseline="central" >50</text>
<line x1="430.50" y1="354.10" x2="431.90" y2="354.10" stroke="#3a3a3a" stroke-width="0.6" />
<text x="427.6" y="354.1" font-size="7.4" text-anchor="end" fill="#1a1a1a" stroke="#1a1a1a" stroke-width="0.1" dominant-baseline="central" >0</text>
<line x1="430.50" y1="362.70" x2="430.50" y2="361.30" stroke="#3a3a3a" stroke-width="0.6" />
<text x="430.5" y="369.5" font-size="7.4" text-anchor="middle" fill="#1a1a1a" stroke="#1a1a1a" stroke-width="0.1" dominant-baseline="central" >-2</text>
<line x1="455.59" y1="362.70" x2="455.59" y2="361.30" stroke="#3a3a3a" stroke-width="0.6" />
<text x="455.6" y="369.5" font-size="7.4" text-anchor="middle" fill="#1a1a1a" stroke="#1a1a1a" stroke-width="0.1" dominant-baseline="central" >0</text>
<line x1="480.69" y1="362.70" x2="480.69" y2="361.30" stroke="#3a3a3a" stroke-width="0.6" />
<text x="480.7" y="369.5" font-size="7.4" text-anchor="middle" fill="#1a1a1a" stroke="#1a1a1a" stroke-width="0.1" dominant-baseline="central" >2</text>
<clipPath id="clipD25"><rect x="518.50" y="326.80" width="67.00" height="35.90"/></clipPath>
<g clip-path="url(#clipD25)">
<defs><path id="tr250" d="M518.5 354.2l1.2-0.1 1.1-0.2 1.2 0.4 1.2-0.2 1.1 0.2 1.2 0 1.2 0.4 1.1-0.1 1.2 0.4 1.2-0.1 1.1 0 1.2-0.5 1.2-0.1 1.1 0.2 1.2-0.2 1.2-0.1 1.1-0.3 1.2-0.1 1.2-1 1.1-1.6 1.2-2.4 1.2-2.5 1.1-0.6 1.2 0.5 1.2 1.9 1.1 1.1 1.2 2.1 1.2 1.2 1.1 0.7 1.2-0.1 1.2 0.4 1.1 1 1.2 0.3 1.2 0.1 1.1 0.1 1.2 0.3 1.2 0 1.1-0.1 1.2-0.2 1.2 0 1.1-0.2 1.2 0.2 1.2-0.1 1.1-0.6 1.2 0 1.2-0.5 1.1 0 1.2-0.4 1.2 0 1.1 0.2 1.2 0.3 1.2 0.2 1.1 0.4 1.2 0.3 1.2-0.2 1.1 0.2 1.2-0.1" fill="none" stroke="#2b3a9e" stroke-linejoin="round"/></defs><use href="#tr250" stroke-width="6.1" opacity="0.24"/>
<defs><path id="tr251" d="M518.5 354.7l1.2-0.3 1.1 0.1 1.2-0.1 1.2 0.4 1.1 0.6 1.2 0.1 1.2 0.2 1.1-0.3 1.2 0 1.2-0.4 1.1-0.2 1.2-0.2 1.2 0.5 1.1 0 1.2-0.1 1.2-0.6 1.1 0.1 1.2-0.9 1.2-2.5 1.1-3.2 1.2-3.9 1.2-4.5 1.1-4 1.2-2.9 1.2-3.3 1.1-0.7 1.2 0.5 1.2 1.9 1.1 1.3 1.2 1.8 1.2 2 1.1 2.4 1.2 2.3 1.2 1.2 1.1 1.5 1.2 1 1.2 1.3 1.1 0.8 1.2 0.7 1.2 0.8 1.1 0.7 1.2 0.3 1.2 0.2 1.1 0.6 1.2 0.6 1.2 0.7 1.1-0.1 1.2 0.1 1.2-0.1 1.1 0.2 1.2 0.3 1.2 0.2 1.1-0.1 1.2-0.4 1.2-0.1 1.1 0.4 1.2 0.4" fill="none" stroke="#2166cc" stroke-linejoin="round"/></defs><use href="#tr251" stroke-width="5.4" opacity="0.24"/>
<defs><path id="tr252" d="M518.5 354.4l1.2 0.2 1.1-0.3 1.2 0.2 1.2-0.3 1.1 0.3 1.2 0 1.2 0.6 1.1 0.1 1.2-0.2 1.2-0.3 1.1 0.1 1.2-0.1 1.2 0.1 1.1 0.3 1.2 0.6 1.2-0.3 1.1-0.5 1.2-1.2 1.2-2.2 1.1-1.3 1.2-2.2 1.2-2.2 1.1-1.7 1.2 0.8 1.2 1.6 1.1 0.8 1.2 1.1 1.2 0.8 1.1 0.1 1.2-1.1 1.2-0.6 1.1 0.3 1.2 0.9 1.2 1.8 1.1 2 1.2 0.7 1.2 0.2 1.1-0.2 1.2 0 1.2-0.2 1.1 0.1 1.2 0.5 1.2-0.1 1.1 0.9 1.2-0.3 1.2 0.3 1.1-0.5 1.2-0.4 1.2 0.3 1.1 0.2 1.2 0.5 1.2-0.3 1.1-0.5 1.2-0.1 1.2 0 1.1 0.3 1.2 0.2" fill="none" stroke="#33c1cf" stroke-linejoin="round"/></defs><use href="#tr252" stroke-width="6.1" opacity="0.24"/>
<defs><path id="tr253" d="M518.5 354.3l1.2 0.2 1.1-0.4 1.2 0.4 1.2 0.1 1.1 0.5 1.2 0 1.2 0.3 1.1 0 1.2 0.4 1.2-0.2 1.1-0.2 1.2-0.2 1.2 0.1 1.1 0.3 1.2 0.1 1.2-0.2 1.1-0.3 1.2-0.3 1.2-0.8 1.1-2.6 1.2-3.7 1.2-3.4 1.1-3.1 1.2-3.3 1.2-3.8 1.1-3.4 1.2-2.2 1.2-0.6 1.1 1.2 1.2 1.5 1.2 2.1 1.1 1.4 1.2 1.9 1.2 1.2 1.1 2.1 1.2 2.2 1.2 2.1 1.1 1.4 1.2 0.8 1.2 0.7 1.1 0.5 1.2 0.1 1.2 0.3 1.1-0.4 1.2 0.1 1.2-0.5 1.1 0.5 1.2 0.1 1.2 0.6 1.1-0.3 1.2 0 1.2-0.3 1.1 0.6 1.2 0.3 1.2 1.1 1.1 0.9 1.2 0.5" fill="none" stroke="#4fbf45" stroke-linejoin="round"/></defs><use href="#tr253" stroke-width="4.5" opacity="0.24"/>
<defs><path id="tr254" d="M518.5 354.3l1.2 0.3 1.1-0.7 1.2 0.7 1.2 0.2 1.1-0.2 1.2-0.2 1.2-0.2 1.1 0.2 1.2-0.6 1.2-0.2 1.1 0.3 1.2 0.6 1.2 0.5 1.1 0 1.2 0 1.2-0.6 1.1-0.3 1.2-0.4 1.2 0.2 1.1-0.4 1.2-0.5 1.2-0.5 1.1-0.5 1.2 0.3 1.2 0.9 1.1 1.4 1.2 1.8 1.2 0.7 1.1 0.2 1.2 0.3 1.2 0.1 1.1 0.2 1.2-0.3 1.2-0.1 1.1 0 1.2-0.7 1.2-0.3 1.1-0.6 1.2-0.2 1.2-0.2 1.1-0.3 1.2 0.2 1.2 0 1.1 0.5 1.2 0 1.2-0.1 1.1-0.2 1.2-0.6 1.2 0.2 1.1 0.2 1.2 0.3 1.2-0.4 1.1-0.6 1.2-0.1 1.2-0.6 1.1 0.2 1.2-0.3" fill="none" stroke="#d4d417" stroke-linejoin="round"/></defs><use href="#tr254" stroke-width="4.5" opacity="0.24"/>
<defs><path id="tr255" d="M518.5 352.7l1.2 0 1.1 0.5 1.2 0.1 1.2 0 1.1 0 1.2 0.2 1.2 0.6 1.1 0.1 1.2-0.2 1.2-0.7 1.1 0 1.2 0.8 1.2 0 1.1 0 1.2-1.2 1.2 0.5 1.1-0.4 1.2 0.6 1.2-0.8 1.1-1.4 1.2-1.8 1.2-1.5 1.1-1 1.2 0.3 1.2 1.8 1.1 1.9 1.2 1.2 1.2 0.9 1.1 1.2 1.2 0.6 1.2 0.6 1.1-0.4 1.2-0.1 1.2-0.6 1.1-0.4 1.2 0.1 1.2-0.4 1.1 0.6 1.2-0.1 1.2 0 1.1-0.2 1.2-0.1 1.2 0 1.1-0.5 1.2-0.3 1.2 0 1.1 0.5 1.2 0.6 1.2-0.3 1.1-0.5 1.2 0.2 1.2 0.2 1.1 0.5 1.2-0.7 1.2 0.2 1.1 0 1.2 0.2" fill="none" stroke="#e0782f" stroke-linejoin="round"/></defs><use href="#tr255" stroke-width="5.4" opacity="0.24"/>
<defs><path id="tr256" d="M518.5 352.8l1.2 0.2 1.1 0.3 1.2-0.1 1.2-0.1 1.1 0.3 1.2 0 1.2 0 1.1 0.2 1.2 0.5 1.2 0.2 1.1 0.6 1.2 0.2 1.2 0.3 1.1-0.5 1.2-0.1 1.2-1 1.1-0.3 1.2-1 1.2-1.5 1.1-1.8 1.2-1.8 1.2-1.3 1.1-0.8 1.2 0.3 1.2 1.4 1.1 2 1.2 1.8 1.2 1.8 1.1 1.5 1.2 1.1 1.2 1.2 1.1 0.5 1.2 0.3 1.2-1.3 1.1-0.9 1.2-0.6 1.2 0.5 1.1 0.2 1.2 0.1 1.2-0.5 1.1 0 1.2-0.2 1.2-0.3 1.1-0.4 1.2 0 1.2 0.8 1.1 0.1 1.2 0.1 1.2-0.3 1.1 0.3 1.2 0.1 1.2 0.1 1.1-0.1 1.2 0.4 1.2-0.1 1.1-0.3 1.2-0.2" fill="none" stroke="#dc1f1f" stroke-linejoin="round"/></defs><use href="#tr256" stroke-width="4.5" opacity="0.24"/>
<use href="#tr250" stroke-width="1.25"/>
<use href="#tr251" stroke-width="1.25"/>
<use href="#tr252" stroke-width="1.25"/>
<use href="#tr253" stroke-width="1.25"/>
<use href="#tr254" stroke-width="1.25"/>
<use href="#tr255" stroke-width="1.5"/>
<use href="#tr256" stroke-width="1.5"/>
</g>
<line x1="535.12" y1="326.80" x2="535.12" y2="362.70" stroke="#111" stroke-width="1.0" stroke-dasharray="3 2.4"/>
<line x1="518.50" y1="326.80" x2="518.50" y2="362.70" stroke="#3a3a3a" stroke-width="0.8" />
<line x1="518.50" y1="362.70" x2="585.00" y2="362.70" stroke="#3a3a3a" stroke-width="0.8" />
<line x1="518.50" y1="333.20" x2="519.90" y2="333.20" stroke="#3a3a3a" stroke-width="0.6" />
<text x="515.6" y="333.2" font-size="7.4" text-anchor="end" fill="#1a1a1a" stroke="#1a1a1a" stroke-width="0.1" dominant-baseline="central" >100</text>
<line x1="518.50" y1="343.65" x2="519.90" y2="343.65" stroke="#3a3a3a" stroke-width="0.6" />
<text x="515.6" y="343.7" font-size="7.4" text-anchor="end" fill="#1a1a1a" stroke="#1a1a1a" stroke-width="0.1" dominant-baseline="central" >50</text>
<line x1="518.50" y1="354.10" x2="519.90" y2="354.10" stroke="#3a3a3a" stroke-width="0.6" />
<text x="515.6" y="354.1" font-size="7.4" text-anchor="end" fill="#1a1a1a" stroke="#1a1a1a" stroke-width="0.1" dominant-baseline="central" >0</text>
<line x1="518.50" y1="362.70" x2="518.50" y2="361.30" stroke="#3a3a3a" stroke-width="0.6" />
<text x="518.5" y="369.5" font-size="7.4" text-anchor="middle" fill="#1a1a1a" stroke="#1a1a1a" stroke-width="0.1" dominant-baseline="central" >-0.5</text>
<line x1="535.12" y1="362.70" x2="535.12" y2="361.30" stroke="#3a3a3a" stroke-width="0.6" />
<text x="535.1" y="369.5" font-size="7.4" text-anchor="middle" fill="#1a1a1a" stroke="#1a1a1a" stroke-width="0.1" dominant-baseline="central" >0</text>
<line x1="551.75" y1="362.70" x2="551.75" y2="361.30" stroke="#3a3a3a" stroke-width="0.6" />
<text x="551.8" y="369.5" font-size="7.4" text-anchor="middle" fill="#1a1a1a" stroke="#1a1a1a" stroke-width="0.1" dominant-baseline="central" >0.5</text>
<line x1="568.38" y1="362.70" x2="568.38" y2="361.30" stroke="#3a3a3a" stroke-width="0.6" />
<text x="568.4" y="369.5" font-size="7.4" text-anchor="middle" fill="#1a1a1a" stroke="#1a1a1a" stroke-width="0.1" dominant-baseline="central" >1</text>
<line x1="585.00" y1="362.70" x2="585.00" y2="361.30" stroke="#3a3a3a" stroke-width="0.6" />
<text x="585.0" y="369.5" font-size="7.4" text-anchor="middle" fill="#1a1a1a" stroke="#1a1a1a" stroke-width="0.1" dominant-baseline="central" >1.5</text>
<clipPath id="clipD26"><rect x="606.70" y="326.80" width="67.00" height="35.90"/></clipPath>
<g clip-path="url(#clipD26)">
<defs><path id="tr260" d="M606.7 354.4l1.2-0.2 1.1-0.7 1.2-0.2 1.2 0.7 1.1-0.3 1.2-0.5 1.2-0.5 1.1 0.5 1.2 0.2 1.2-0.4 1.1-0.5 1.2 1.5 1.2 1.2 1.1 0.5 1.2-1.8 1.2-1.3 1.1-0.4 1.2 0.1 1.2-0.7 1.1-0.2 1.2 0.3 1.2 1.5 1.1-0.8 1.2-0.9 1.2-0.4 1.1-0.1 1.2 0.9 1.2-1 1.1-0.4 1.2-0.8 1.2-0.8 1.1-0.5 1.2-0.7 1.2-0.2 1.1-0.3 1.2 0.9 1.2 0.3 1.1 0.9 1.2 0.2 1.2-0.7 1.1-0.1 1.2-0.4 1.2 2.3 1.1 0.4 1.2-0.3 1.2-1 1.1 0.2 1.2-0.3 1.2 0.1 1.1-0.2 1.2 0.9 1.2-0.1 1.1-0.7 1.2-0.4 1.2-0.1 1.1 0.7 1.2 0.5" fill="none" stroke="#2b3a9e" stroke-linejoin="round"/></defs><use href="#tr260" stroke-width="6.1" opacity="0.24"/>
<defs><path id="tr261" d="M606.7 353.0l1.2 1.7 1.1-0.4 1.2 0 1.2-1.5 1.1-0.1 1.2 0.1 1.2 0.4 1.1-0.4 1.2-0.8 1.2 0.1 1.1 0.9 1.2 0.8 1.2 0.1 1.1-0.8 1.2-0.2 1.2-0.1 1.1 0.5 1.2 0.2 1.2 0.6 1.1-0.4 1.2 0.5 1.2-1 1.1 0 1.2-0.5 1.2 0.6 1.1-0.2 1.2-0.1 1.2-0.9 1.1-0.7 1.2-1.2 1.2 0.3 1.1-0.4 1.2-0.5 1.2-1.5 1.1 0.3 1.2 0.7 1.2-0.4 1.1 0.3 1.2 0.7 1.2 0.9 1.1-0.3 1.2-0.2 1.2 0.7 1.1-0.8 1.2-0.6 1.2-1 1.1 1.4 1.2 0.9 1.2 0.6 1.1-0.9 1.2-0.3 1.2 0.9 1.1 0.9 1.2-0.1 1.2-0.8 1.1 0.5 1.2 0.2" fill="none" stroke="#2166cc" stroke-linejoin="round"/></defs><use href="#tr261" stroke-width="5.4" opacity="0.24"/>
<defs><path id="tr262" d="M606.7 352.8l1.2-0.8 1.1 0.5 1.2 1.2 1.2 1.5 1.1-0.3 1.2-1.6 1.2-1.5 1.1 0.4 1.2 1.4 1.2 0.7 1.1-0.3 1.2-1.6 1.2-0.1 1.1 0.5 1.2 1.1 1.2-0.7 1.1-0.7 1.2 0.5 1.2-0.1 1.1 0.9 1.2-0.1 1.2 1.4 1.1-0.1 1.2-1.9 1.2-2.2 1.1 0.2 1.2 1.6 1.2 1.3 1.1-0.9 1.2-0.1 1.2 0.9 1.1 0.4 1.2 0.2 1.2 0 1.1-0.2 1.2 0.4 1.2 0 1.1-0.8 1.2-1.2 1.2-1.7 1.1 0.7 1.2 0.7 1.2 0.8 1.1 0.8 1.2-0.6 1.2-0.2 1.1-0.5 1.2 1.3 1.2 0.2 1.1-1 1.2-1.7 1.2-0.5 1.1 1 1.2 0.7 1.2 0.2 1.1-0.3 1.2-0.5" fill="none" stroke="#33c1cf" stroke-linejoin="round"/></defs><use href="#tr262" stroke-width="6.1" opacity="0.24"/>
<defs><path id="tr263" d="M606.7 356.9l1.2 0.1 1.1-0.5 1.2-1.7 1.2-1 1.1-0.8 1.2 0.1 1.2 0.5 1.1-0.2 1.2 0.6 1.2 0.2 1.1-0.6 1.2-0.1 1.2-0.3 1.1 0 1.2-0.7 1.2 0.1 1.1 0.5 1.2 1 1.2-0.4 1.1-0.1 1.2-0.6 1.2-0.1 1.1-0.2 1.2 1.2 1.2 0.3 1.1-0.1 1.2-1.4 1.2-0.3 1.1-0.1 1.2-1.5 1.2-0.7 1.1-0.1 1.2 0.9 1.2 0.3 1.1-0.8 1.2 0.1 1.2-1.2 1.1-0.3 1.2-0.9 1.2-0.1 1.1 0.5 1.2 1.1 1.2 0.5 1.1-0.5 1.2-0.1 1.2 0.4 1.1-0.4 1.2-1.2 1.2-1.5 1.1 0 1.2 0 1.2 0.3 1.1-0.3 1.2-0.1 1.2 0.1 1.1 0.1 1.2 0" fill="none" stroke="#4fbf45" stroke-linejoin="round"/></defs><use href="#tr263" stroke-width="4.5" opacity="0.24"/>
<defs><path id="tr264" d="M606.7 354.0l1.2 2 1.1-1 1.2-0.6 1.2-0.7 1.1 0.6 1.2-0.3 1.2 0.8 1.1-0.1 1.2 0.4 1.2-1.3 1.1-0.3 1.2 0.3 1.2 1.1 1.1 0.1 1.2-1.3 1.2-0.9 1.1 0.3 1.2 0.1 1.2 1.6 1.1 0.2 1.2 1.1 1.2-0.7 1.1-0.6 1.2-0.6 1.2-0.7 1.1 0.4 1.2-0.2 1.2-0.3 1.1 0.3 1.2-0.2 1.2 0.9 1.1-1.2 1.2 1.2 1.2-0.4 1.1 1.5 1.2-0.7 1.2-0.9 1.1-0.1 1.2-1 1.2 0 1.1-0.6 1.2 1.3 1.2 0.2 1.1 1.7 1.2 0.1 1.2 0 1.1-1.5 1.2-1.7 1.2 0.9 1.1 0.6 1.2 1.5 1.2-0.7 1.1-1.6 1.2 0.8 1.2 0.2 1.1 0.3 1.2-0.6" fill="none" stroke="#d4d417" stroke-linejoin="round"/></defs><use href="#tr264" stroke-width="4.5" opacity="0.24"/>
<defs><path id="tr265" d="M606.7 353.5l1.2-0.6 1.1-1 1.2 0.3 1.2-0.1 1.1 0.4 1.2-0.2 1.2 0.1 1.1-0.8 1.2 0.2 1.2 0.4 1.1 0.3 1.2 1.1 1.2 1 1.1-0.5 1.2-0.8 1.2-0.4 1.1 1.2 1.2 0.1 1.2-0.5 1.1 0 1.2-0.5 1.2 0.9 1.1-1.9 1.2 1.1 1.2-1.7 1.1 1.1 1.2 0.4 1.2 1.5 1.1 0.3 1.2-1 1.2-0.4 1.1 0 1.2 0.1 1.2 0.4 1.1 0 1.2-1.2 1.2-0.2 1.1 0.6 1.2 0.8 1.2-1 1.1-1.1 1.2 0.6 1.2 0.8 1.1 0.4 1.2-0.2 1.2-0.2 1.1-0.5 1.2-0.4 1.2 0.2 1.1 0.7 1.2-0.7 1.2 0.7 1.1-1.2 1.2 0.6 1.2-0.7 1.1 1.4 1.2-0.6" fill="none" stroke="#e0782f" stroke-linejoin="round"/></defs><use href="#tr265" stroke-width="5.4" opacity="0.24"/>
<defs><path id="tr266" d="M606.7 352.9l1.2 1.6 1.1 0.4 1.2 1.2 1.2-0.6 1.1 0 1.2-0.5 1.2-0.7 1.1 0.1 1.2 0.9 1.2 0 1.1-0.5 1.2-1.9 1.2-0.2 1.1 0.3 1.2 1.7 1.2-1 1.1 0.3 1.2-0.7 1.2 1 1.1-0.7 1.2-0.6 1.2 0.9 1.1 0.6 1.2 0.6 1.2 0.1 1.1-0.1 1.2-0.7 1.2-0.8 1.1-0.3 1.2 1 1.2 0.1 1.1 0 1.2 0.3 1.2-0.4 1.1 0.6 1.2-1.2 1.2 0.6 1.1 0.6 1.2 1.5 1.2-0.3 1.1-0.7 1.2-1.8 1.2-0.5 1.1-1.5 1.2 0.5 1.2 0.1 1.1 1.5 1.2-0.2 1.2 1.1 1.1-0.3 1.2 1.5 1.2-0.2 1.1-0.2 1.2-0.6 1.2 0.7 1.1-0.3 1.2-0.4" fill="none" stroke="#dc1f1f" stroke-linejoin="round"/></defs><use href="#tr266" stroke-width="4.5" opacity="0.24"/>
<use href="#tr260" stroke-width="1.25"/>
<use href="#tr261" stroke-width="1.25"/>
<use href="#tr262" stroke-width="1.25"/>
<use href="#tr263" stroke-width="1.25"/>
<use href="#tr264" stroke-width="1.25"/>
<use href="#tr265" stroke-width="1.5"/>
<use href="#tr266" stroke-width="1.5"/>
</g>
<line x1="620.00" y1="326.80" x2="620.00" y2="362.70" stroke="#111" stroke-width="1.0" stroke-dasharray="3 2.4"/>
<line x1="606.70" y1="326.80" x2="606.70" y2="362.70" stroke="#3a3a3a" stroke-width="0.8" />
<line x1="606.70" y1="362.70" x2="673.20" y2="362.70" stroke="#3a3a3a" stroke-width="0.8" />
<line x1="606.70" y1="333.20" x2="608.10" y2="333.20" stroke="#3a3a3a" stroke-width="0.6" />
<text x="603.8" y="333.2" font-size="7.4" text-anchor="end" fill="#1a1a1a" stroke="#1a1a1a" stroke-width="0.1" dominant-baseline="central" >100</text>
<line x1="606.70" y1="343.65" x2="608.10" y2="343.65" stroke="#3a3a3a" stroke-width="0.6" />
<text x="603.8" y="343.7" font-size="7.4" text-anchor="end" fill="#1a1a1a" stroke="#1a1a1a" stroke-width="0.1" dominant-baseline="central" >50</text>
<line x1="606.70" y1="354.10" x2="608.10" y2="354.10" stroke="#3a3a3a" stroke-width="0.6" />
<text x="603.8" y="354.1" font-size="7.4" text-anchor="end" fill="#1a1a1a" stroke="#1a1a1a" stroke-width="0.1" dominant-baseline="central" >0</text>
<line x1="620.00" y1="362.70" x2="620.00" y2="361.30" stroke="#3a3a3a" stroke-width="0.6" />
<text x="620.0" y="369.5" font-size="7.4" text-anchor="middle" fill="#1a1a1a" stroke="#1a1a1a" stroke-width="0.1" dominant-baseline="central" >0</text>
<line x1="646.60" y1="362.70" x2="646.60" y2="361.30" stroke="#3a3a3a" stroke-width="0.6" />
<text x="646.6" y="369.5" font-size="7.4" text-anchor="middle" fill="#1a1a1a" stroke="#1a1a1a" stroke-width="0.1" dominant-baseline="central" >1</text>
<line x1="673.20" y1="362.70" x2="673.20" y2="361.30" stroke="#3a3a3a" stroke-width="0.6" />
<text x="673.2" y="369.5" font-size="7.4" text-anchor="middle" fill="#1a1a1a" stroke="#1a1a1a" stroke-width="0.1" dominant-baseline="central" >2</text>
<text x="58.8" y="344.8" font-size="7.6" text-anchor="middle" fill="#222" stroke="#222" stroke-width="0.1" transform="rotate(-90 58.8 344.8)" dominant-baseline="central" >Rate (ΔHz)</text>
<text x="29.9" y="384.0" font-size="7.0" text-anchor="middle" fill="#333" stroke="#333" stroke-width="0.1" dominant-baseline="central" >T17-s6v-A</text>
<text x="29.9" y="393.6" font-size="7.0" text-anchor="middle" fill="#333" stroke="#333" stroke-width="0.1" dominant-baseline="central" >(ch. 31)</text>
<clipPath id="clipD30"><rect x="80.00" y="375.70" width="67.00" height="37.30"/></clipPath>
<g clip-path="url(#clipD30)">
<defs><path id="tr300" d="M80.0 396.3l1.2 0 1.1 0 1.2 1.2 1.2-0.5 1.1-0.8 1.2-1 1.2-1.1 1.1-0.3 1.2 0.5 1.2 0.3 1.1-0.9 1.2-1.5 1.2-0.5 1.1 1 1.2 0.6 1.2 0.6 1.1-2.4 1.2-1 1.2-0.4 1.1 2.3 1.2 2.1 1.2-0.3 1.1-0.7 1.2-1.5 1.2-0.5 1.1 0.6 1.2-0.9 1.2 1.7 1.1 1 1.2 1.3 1.2 0.5 1.1 0.9 1.2 2.1 1.2 1.6 1.1-0.6 1.2-1.1 1.2-0.9 1.1 0 1.2 0.1 1.2 0.2 1.1 0.5 1.2-0.2 1.2-0.7 1.1-1.7 1.2-0.4 1.2-0.2 1.1 1.7 1.2 0.9 1.2 0.9 1.1 1 1.2 0.1 1.2 0.4 1.1 0.2 1.2 0.4 1.2 0.5 1.1-1.8 1.2-1.2" fill="none" stroke="#2b3a9e" stroke-linejoin="round"/></defs><use href="#tr300" stroke-width="8.2" opacity="0.24"/>
<defs><path id="tr301" d="M80.0 397.7l1.2 0.5 1.1 0.7 1.2 0.5 1.2-0.9 1.1-0.4 1.2-1.7 1.2-1.7 1.1 0.3 1.2 0.6 1.2 0.3 1.1-2 1.2-0.9 1.2-0.6 1.1 0.3 1.2-0.1 1.2-1.4 1.1-2.2 1.2-0.9 1.2-0.9 1.1 1.6 1.2 0.6 1.2 2.9 1.1 0 1.2-1.5 1.2-4 1.1-0.5 1.2 0 1.2 2.2 1.1 1.1 1.2 3.3 1.2 1.8 1.1 0.1 1.2-0.4 1.2 2 1.1 2.5 1.2 1.1 1.2-0.2 1.1 0.4 1.2-0.2 1.2-0.5 1.1-1.4 1.2 0.4 1.2-0.8 1.1 0.7 1.2 0.6 1.2 0.8 1.1 0.6 1.2-1.3 1.2-0.3 1.1 0.3 1.2 0.8 1.2 0.1 1.1-0.7 1.2 0 1.2 1.1 1.1-0.1 1.2 0.4" fill="none" stroke="#2166cc" stroke-linejoin="round"/></defs><use href="#tr301" stroke-width="7.2" opacity="0.24"/>
<defs><path id="tr302" d="M80.0 402.8l1.2 0.3 1.1 0 1.2-0.7 1.2 0.7 1.1 0.7 1.2 0.1 1.2-0.3 1.1-1.1 1.2 0.8 1.2 0.5 1.1-0.2 1.2 0.9 1.2-1.2 1.1 0.6 1.2-0.9 1.2 1.1 1.1 0.1 1.2 0.5 1.2 0.1 1.1 1.1 1.2 1 1.2 0.4 1.1-0.3 1.2-1.3 1.2-0.1 1.1-0.5 1.2-0.6 1.2 0.4 1.1-1 1.2-1.7 1.2-0.7 1.1 1.3 1.2 1.2 1.2-0.9 1.1-1.2 1.2-0.4 1.2 1.6 1.1 0.5 1.2 0.9 1.2-1.4 1.1 0.9 1.2 0.4 1.2 1.1 1.1-0.4 1.2 0.1 1.2-0.1 1.1 0.8 1.2-0.1 1.2-0.3 1.1-0.9 1.2 1.9 1.2 0.3 1.1 0 1.2-1.8 1.2-1.5 1.1-1 1.2-0.6" fill="none" stroke="#33c1cf" stroke-linejoin="round"/></defs><use href="#tr302" stroke-width="8.2" opacity="0.24"/>
<defs><path id="tr303" d="M80.0 398.6l1.2-0.1 1.1 2.3 1.2-1.6 1.2-0.4 1.1-0.4 1.2 0.5 1.2 1 1.1 0.8 1.2-0.2 1.2-1.6 1.1-1 1.2 0.6 1.2 1.7 1.1-1.9 1.2-0.2 1.2-1.3 1.1 0.6 1.2-2.3 1.2-1.5 1.1-1 1.2-0.5 1.2-1.8 1.1-1.4 1.2-2.2 1.2-1.9 1.1-1.5 1.2-1.8 1.2 1 1.1 2.3 1.2 3.9 1.2 2.3 1.1 0.5 1.2 2.2 1.2 2.3 1.1 1.9 1.2 0.1 1.2 0.8 1.1 1.1 1.2-0.6 1.2-2.4 1.1-1.9 1.2-1.3 1.2-1.9 1.1 0.1 1.2 0.1 1.2 3.5 1.1 0 1.2 0.8 1.2-0.1 1.1 1.6 1.2 0.8 1.2 0.5 1.1-0.6 1.2-0.3 1.2-0.8 1.1 0.2 1.2 0.9" fill="none" stroke="#4fbf45" stroke-linejoin="round"/></defs><use href="#tr303" stroke-width="6.1" opacity="0.24"/>
<defs><path id="tr304" d="M80.0 400.7l1.2 0.9 1.1 0 1.2 2.2 1.2 0.5 1.1-0.1 1.2-1.5 1.2 0.8 1.1 0.3 1.2 1.3 1.2-0.1 1.1 0 1.2 0.2 1.2-1.2 1.1 1.8 1.2-0.8 1.2 1.8 1.1-0.4 1.2 0.3 1.2-0.8 1.1-1 1.2 1.1 1.2 0.8 1.1 0.8 1.2-0.3 1.2 0 1.1-0.2 1.2 0.3 1.2-0.9 1.1 0.1 1.2 0.4 1.2 1.4 1.1-0.8 1.2-1.4 1.2-2.3 1.1 0.3 1.2 0.6 1.2 1.4 1.1-1.1 1.2-0.4 1.2-1.6 1.1 0.4 1.2-0.3 1.2 1.6 1.1 0.2 1.2-0.7 1.2-0.9 1.1-0.9 1.2 1.3 1.2-1.1 1.1-1.3 1.2-1.8 1.2 0.3 1.1 2.3 1.2 0.8 1.2 0.5 1.1-1 1.2 0.8" fill="none" stroke="#d4d417" stroke-linejoin="round"/></defs><use href="#tr304" stroke-width="6.1" opacity="0.24"/>
<defs><path id="tr305" d="M80.0 400.3l1.2-0.8 1.1 0.3 1.2 1.1 1.2 1.5 1.1 0.4 1.2-0.5 1.2-0.8 1.1 0.8 1.2-0.6 1.2-0.2 1.1-1.2 1.2 0.8 1.2-0.2 1.1 0.7 1.2 0.4 1.2 0.4 1.1 1 1.2-0.5 1.2-0.1 1.1-1.3 1.2 0.6 1.2 1 1.1 1 1.2 0.8 1.2-0.2 1.1-1.9 1.2-1.1 1.2 0.2 1.1 2 1.2-0.8 1.2 0.3 1.1-0.4 1.2 1.1 1.2-0.3 1.1 0.2 1.2 0.9 1.2-0.1 1.1-1.3 1.2-2 1.2-0.5 1.1 0.2 1.2 0.4 1.2-0.4 1.1 0.4 1.2-0.6 1.2-0.4 1.1 0 1.2 0.7 1.2-0.3 1.1 0.1 1.2 0.1 1.2 0.6 1.1-0.1 1.2-1.3 1.2-0.5 1.1-0.4 1.2 1" fill="none" stroke="#e0782f" stroke-linejoin="round"/></defs><use href="#tr305" stroke-width="7.2" opacity="0.24"/>
<defs><path id="tr306" d="M80.0 398.0l1.2 0 1.1 0.2 1.2 1.3 1.2 0.5 1.1-0.5 1.2-1 1.2-0.7 1.1-1.2 1.2 1.1 1.2 0 1.1 1.5 1.2-0.4 1.2 0.3 1.1-0.2 1.2 0.3 1.2 0.9 1.1-0.7 1.2-0.1 1.2-1.6 1.1 0.9 1.2 0.4 1.2 0 1.1-2.2 1.2-1.8 1.2-1.1 1.1 1.1 1.2-0.9 1.2 0.5 1.1-0.6 1.2 1.6 1.2 0.1 1.1 1.1 1.2 0.6 1.2 1.8 1.1 0.6 1.2 0.8 1.2 0.7 1.1 0.2 1.2-1 1.2-0.7 1.1-0.8 1.2-0.8 1.2 0.2 1.1 0.1 1.2 1.4 1.2-0.5 1.1-0.1 1.2 0.7 1.2-0.9 1.1-0.5 1.2-1.8 1.2-0.2 1.1-0.7 1.2 0.5 1.2-0.4 1.1 0.1 1.2-0.6" fill="none" stroke="#dc1f1f" stroke-linejoin="round"/></defs><use href="#tr306" stroke-width="6.1" opacity="0.24"/>
<use href="#tr300" stroke-width="1.25"/>
<use href="#tr301" stroke-width="1.25"/>
<use href="#tr302" stroke-width="1.25"/>
<use href="#tr303" stroke-width="1.25"/>
<use href="#tr304" stroke-width="1.25"/>
<use href="#tr305" stroke-width="1.5"/>
<use href="#tr306" stroke-width="1.5"/>
</g>
<line x1="102.17" y1="375.70" x2="102.17" y2="413.00" stroke="#111" stroke-width="1.0" stroke-dasharray="3 2.4"/>
<line x1="80.00" y1="375.70" x2="80.00" y2="413.00" stroke="#3a3a3a" stroke-width="0.8" />
<line x1="80.00" y1="413.00" x2="146.50" y2="413.00" stroke="#3a3a3a" stroke-width="0.8" />
<line x1="80.00" y1="376.10" x2="81.40" y2="376.10" stroke="#3a3a3a" stroke-width="0.6" />
<text x="77.1" y="376.1" font-size="7.4" text-anchor="end" fill="#1a1a1a" stroke="#1a1a1a" stroke-width="0.1" dominant-baseline="central" >80</text>
<line x1="80.00" y1="382.15" x2="81.40" y2="382.15" stroke="#3a3a3a" stroke-width="0.6" />
<text x="77.1" y="382.2" font-size="7.4" text-anchor="end" fill="#1a1a1a" stroke="#1a1a1a" stroke-width="0.1" dominant-baseline="central" >60</text>
<line x1="80.00" y1="388.20" x2="81.40" y2="388.20" stroke="#3a3a3a" stroke-width="0.6" />
<text x="77.1" y="388.2" font-size="7.4" text-anchor="end" fill="#1a1a1a" stroke="#1a1a1a" stroke-width="0.1" dominant-baseline="central" >40</text>
<line x1="80.00" y1="394.25" x2="81.40" y2="394.25" stroke="#3a3a3a" stroke-width="0.6" />
<text x="77.1" y="394.2" font-size="7.4" text-anchor="end" fill="#1a1a1a" stroke="#1a1a1a" stroke-width="0.1" dominant-baseline="central" >20</text>
<line x1="80.00" y1="400.30" x2="81.40" y2="400.30" stroke="#3a3a3a" stroke-width="0.6" />
<text x="77.1" y="400.3" font-size="7.4" text-anchor="end" fill="#1a1a1a" stroke="#1a1a1a" stroke-width="0.1" dominant-baseline="central" >0</text>
<line x1="80.00" y1="406.35" x2="81.40" y2="406.35" stroke="#3a3a3a" stroke-width="0.6" />
<text x="77.1" y="406.4" font-size="7.4" text-anchor="end" fill="#1a1a1a" stroke="#1a1a1a" stroke-width="0.1" dominant-baseline="central" >-20</text>
<line x1="80.00" y1="412.40" x2="81.40" y2="412.40" stroke="#3a3a3a" stroke-width="0.6" />
<text x="77.1" y="412.4" font-size="7.4" text-anchor="end" fill="#1a1a1a" stroke="#1a1a1a" stroke-width="0.1" dominant-baseline="central" >-40</text>
<line x1="87.39" y1="413.00" x2="87.39" y2="411.60" stroke="#3a3a3a" stroke-width="0.6" />
<text x="87.4" y="420.0" font-size="7.4" text-anchor="middle" fill="#1a1a1a" stroke="#1a1a1a" stroke-width="0.1" dominant-baseline="central" >-1</text>
<line x1="102.17" y1="413.00" x2="102.17" y2="411.60" stroke="#3a3a3a" stroke-width="0.6" />
<text x="102.2" y="420.0" font-size="7.4" text-anchor="middle" fill="#1a1a1a" stroke="#1a1a1a" stroke-width="0.1" dominant-baseline="central" >0</text>
<line x1="116.94" y1="413.00" x2="116.94" y2="411.60" stroke="#3a3a3a" stroke-width="0.6" />
<text x="116.9" y="420.0" font-size="7.4" text-anchor="middle" fill="#1a1a1a" stroke="#1a1a1a" stroke-width="0.1" dominant-baseline="central" >1</text>
<line x1="131.72" y1="413.00" x2="131.72" y2="411.60" stroke="#3a3a3a" stroke-width="0.6" />
<text x="131.7" y="420.0" font-size="7.4" text-anchor="middle" fill="#1a1a1a" stroke="#1a1a1a" stroke-width="0.1" dominant-baseline="central" >2</text>
<line x1="146.50" y1="413.00" x2="146.50" y2="411.60" stroke="#3a3a3a" stroke-width="0.6" />
<text x="146.5" y="420.0" font-size="7.4" text-anchor="middle" fill="#1a1a1a" stroke="#1a1a1a" stroke-width="0.1" dominant-baseline="central" >3</text>
<text x="113.2" y="429.0" font-size="7.6" text-anchor="middle" fill="#222" stroke="#222" stroke-width="0.1" dominant-baseline="central" >Time (s)</text>
<clipPath id="clipD31"><rect x="167.30" y="375.70" width="67.00" height="37.30"/></clipPath>
<g clip-path="url(#clipD31)">
<defs><path id="tr310" d="M167.3 401.6l1.2-0.9 1.1-1 1.2-1.6 1.2-1.8 1.1-0.9 1.2-1.3 1.2-0.6 1.1-0.3 1.2 0.4 1.2-1.4 1.1-1.3 1.2-0.3 1.2 0.8 1.1-0.5 1.2-0.6 1.2 0.7 1.1 0.5 1.2 1.9 1.2-1.8 1.1-0.1 1.2-0.9 1.2 1.8 1.1 0.8 1.2 0.9 1.2-0.8 1.1 0.4 1.2 0.3 1.2 0.7 1.1-0.8 1.2 0 1.2 0.5 1.1-0.2 1.2-0.6 1.2 0.3 1.1 1.2 1.2-0.1 1.2 0.5 1.1 0.5 1.2 1.6 1.2 0.6 1.1 1.1 1.2-1.2 1.2-0.9 1.1-1.1 1.2 0 1.2 0.4 1.1 0.5 1.2 0.7 1.2 0 1.1 1 1.2 0.7 1.2 0.6 1.1-0.4 1.2 0.5 1.2 0.3 1.1 0 1.2-0.3" fill="none" stroke="#2b3a9e" stroke-linejoin="round"/></defs><use href="#tr310" stroke-width="8.2" opacity="0.24"/>
<defs><path id="tr311" d="M167.3 399.1l1.2-0.9 1.1-0.7 1.2-1.3 1.2-0.6 1.1 0.1 1.2-1.3 1.2-0.9 1.1-1.7 1.2 0.6 1.2 0.3 1.1 1.1 1.2-0.1 1.2 0.1 1.1-0.7 1.2 1.5 1.2-1.3 1.1 0.4 1.2-0.6 1.2 0.7 1.1-0.9 1.2 0 1.2 0.5 1.1 0.4 1.2-0.3 1.2 0 1.1 0 1.2 0.6 1.2 1.6 1.1-0.5 1.2 0.2 1.2-0.2 1.1 1 1.2-0.5 1.2-0.2 1.1-1 1.2 1.7 1.2-1.1 1.1 1.3 1.2-1.6 1.2 0.5 1.1 0.1 1.2 0 1.2 1 1.1 0.2 1.2-0.8 1.2 0.9 1.1-0.8 1.2 2.6 1.2-0.7 1.1 0.4 1.2-0.8 1.2 0.1 1.1 1.7 1.2 0.2 1.2 0 1.1-0.3 1.2 1.1" fill="none" stroke="#2166cc" stroke-linejoin="round"/></defs><use href="#tr311" stroke-width="7.2" opacity="0.24"/>
<defs><path id="tr312" d="M167.3 399.3l1.2-0.3 1.1-0.7 1.2-0.1 1.2 1.9 1.1-0.2 1.2 0.7 1.2-1.1 1.1 0.6 1.2-0.7 1.2 0.2 1.1 0.9 1.2 0.1 1.2-0.6 1.1-1.7 1.2 0.2 1.2-0.1 1.1 1.6 1.2-0.4 1.2 0.6 1.1-0.1 1.2 1 1.2-2.1 1.1-2 1.2-0.8 1.2 1.1 1.1 0.4 1.2-1 1.2 0.1 1.1-1 1.2 0.8 1.2-1.2 1.1 2.7 1.2 0 1.2 1.1 1.1-2.5 1.2 0.2 1.2 0.5 1.1 0.2 1.2 0.4 1.2-0.6 1.1 2.1 1.2-0.7 1.2 0.1 1.1-0.5 1.2 0.8 1.2 0.5 1.1 0.4 1.2 0.7 1.2-0.9 1.1-0.8 1.2 0.1 1.2 1.5 1.1 0.4 1.2-2 1.2-0.5 1.1 0.6 1.2 1.6" fill="none" stroke="#33c1cf" stroke-linejoin="round"/></defs><use href="#tr312" stroke-width="8.2" opacity="0.24"/>
<defs><path id="tr313" d="M167.3 399.6l1.2-0.9 1.1-1 1.2-0.8 1.2 0.2 1.1 0.2 1.2-1.2 1.2 0.7 1.1 0.3 1.2 3 1.2-1.6 1.1-0.5 1.2-2.3 1.2 1.2 1.1-0.7 1.2 0.6 1.2-0.8 1.1-1 1.2-0.3 1.2-1.1 1.1 0.6 1.2-0.8 1.2 0 1.1-1 1.2-0.3 1.2-0.3 1.1-0.6 1.2-0.2 1.2 0 1.1 0.7 1.2-0.6 1.2-1.6 1.1-0.2 1.2 0 1.2-0.1 1.1-2.1 1.2-1.3 1.2 0.6 1.1 0.5 1.2 0.3 1.2-0.2 1.1 1 1.2 2.2 1.2 0.9 1.1 0.6 1.2-0.3 1.2-0.4 1.1-0.3 1.2 0.9 1.2 1.1 1.1 1.3 1.2-0.2 1.2-0.5 1.1-0.4 1.2 0.3 1.2 1.7 1.1 1 1.2 0.1" fill="none" stroke="#4fbf45" stroke-linejoin="round"/></defs><use href="#tr313" stroke-width="6.1" opacity="0.24"/>
<defs><path id="tr314" d="M167.3 403.0l1.2 0.6 1.1-0.2 1.2 2.1 1.2-0.3 1.1 1.5 1.2-2.2 1.2-0.9 1.1-1.1 1.2-0.6 1.2 0.2 1.1 0.5 1.2 0 1.2-0.2 1.1 0.5 1.2 0.6 1.2-0.7 1.1-1.3 1.2 0.3 1.2-0.4 1.1 0.2 1.2 0.4 1.2 0.6 1.1-0.1 1.2-0.9 1.2 0.8 1.1 1.4 1.2 0 1.2 0 1.1-0.2 1.2 1.1 1.2 0.9 1.1 1.2 1.2 0 1.2-1.3 1.1-1.7 1.2 0.1 1.2-0.4 1.1 0.5 1.2 0 1.2 0.1 1.1-1.1 1.2-0.5 1.2 1.1 1.1 0.8 1.2 1.1 1.2-0.9 1.1-1.1 1.2-1.7 1.2 0.3 1.1 0.4 1.2 0.3 1.2-1.3 1.1 0.5 1.2-1.6 1.2 0.8 1.1-0.4 1.2 1.7" fill="none" stroke="#d4d417" stroke-linejoin="round"/></defs><use href="#tr314" stroke-width="6.1" opacity="0.24"/>
<defs><path id="tr315" d="M167.3 402.2l1.2-0.3 1.1-0.2 1.2 0.4 1.2-0.4 1.1 0.3 1.2-0.6 1.2-0.9 1.1-0.9 1.2-0.1 1.2 0.8 1.1 1.1 1.2-0.1 1.2 0.2 1.1-0.4 1.2 0.4 1.2-0.7 1.1-0.3 1.2-0.9 1.2-1 1.1-0.4 1.2 0.1 1.2 1.7 1.1 0.1 1.2 0 1.2 0.3 1.1-0.7 1.2 1.3 1.2 0.8 1.1 0.5 1.2-0.2 1.2-0.9 1.1 1.4 1.2-0.6 1.2-0.8 1.1-0.2 1.2-0.2 1.2 0.6 1.1 0.1 1.2 0.9 1.2-0.3 1.1-1.1 1.2-0.3 1.2 0.1 1.1 0.6 1.2 1 1.2-0.8 1.1-0.4 1.2-1.5 1.2 0.2 1.1-0.2 1.2 1 1.2-0.2 1.1 0.2 1.2 0.2 1.2-0.3 1.1 0 1.2-0.8" fill="none" stroke="#e0782f" stroke-linejoin="round"/></defs><use href="#tr315" stroke-width="7.2" opacity="0.24"/>
<defs><path id="tr316" d="M167.3 402.4l1.2 0 1.1 1.4 1.2-0.6 1.2-0.6 1.1-0.2 1.2 0.5 1.2-0.9 1.1-0.7 1.2-1.3 1.2 0.3 1.1 0.5 1.2-0.1 1.2-0.5 1.1-0.5 1.2 0.4 1.2 0.5 1.1-1.1 1.2-0.2 1.2-1 1.1 0.1 1.2-0.3 1.2-0.2 1.1 0 1.2 0.3 1.2 0.3 1.1 0.3 1.2-1.4 1.2-0.9 1.1-0.6 1.2-0.2 1.2 0 1.1-1.1 1.2 0.6 1.2-0.3 1.1 0.8 1.2-0.4 1.2-0.9 1.1 0.6 1.2 0.6 1.2 1.2 1.1-0.7 1.2 0.9 1.2 2.3 1.1 2.1 1.2-0.4 1.2-1.7 1.1-1.3 1.2 0.8 1.2 0 1.1 0.7 1.2-0.7 1.2 1 1.1-1 1.2 0.7 1.2 1.3 1.1 1.2 1.2-0.4" fill="none" stroke="#dc1f1f" stroke-linejoin="round"/></defs><use href="#tr316" stroke-width="6.1" opacity="0.24"/>
<use href="#tr310" stroke-width="1.25"/>
<use href="#tr311" stroke-width="1.25"/>
<use href="#tr312" stroke-width="1.25"/>
<use href="#tr313" stroke-width="1.25"/>
<use href="#tr314" stroke-width="1.25"/>
<use href="#tr315" stroke-width="1.5"/>
<use href="#tr316" stroke-width="1.5"/>
</g>
<line x1="189.47" y1="375.70" x2="189.47" y2="413.00" stroke="#111" stroke-width="1.0" stroke-dasharray="3 2.4"/>
<line x1="167.30" y1="375.70" x2="167.30" y2="413.00" stroke="#3a3a3a" stroke-width="0.8" />
<line x1="167.30" y1="413.00" x2="233.80" y2="413.00" stroke="#3a3a3a" stroke-width="0.8" />
<line x1="167.30" y1="376.10" x2="168.70" y2="376.10" stroke="#3a3a3a" stroke-width="0.6" />
<text x="164.4" y="376.1" font-size="7.4" text-anchor="end" fill="#1a1a1a" stroke="#1a1a1a" stroke-width="0.1" dominant-baseline="central" >80</text>
<line x1="167.30" y1="382.15" x2="168.70" y2="382.15" stroke="#3a3a3a" stroke-width="0.6" />
<text x="164.4" y="382.2" font-size="7.4" text-anchor="end" fill="#1a1a1a" stroke="#1a1a1a" stroke-width="0.1" dominant-baseline="central" >60</text>
<line x1="167.30" y1="388.20" x2="168.70" y2="388.20" stroke="#3a3a3a" stroke-width="0.6" />
<text x="164.4" y="388.2" font-size="7.4" text-anchor="end" fill="#1a1a1a" stroke="#1a1a1a" stroke-width="0.1" dominant-baseline="central" >40</text>
<line x1="167.30" y1="394.25" x2="168.70" y2="394.25" stroke="#3a3a3a" stroke-width="0.6" />
<text x="164.4" y="394.2" font-size="7.4" text-anchor="end" fill="#1a1a1a" stroke="#1a1a1a" stroke-width="0.1" dominant-baseline="central" >20</text>
<line x1="167.30" y1="400.30" x2="168.70" y2="400.30" stroke="#3a3a3a" stroke-width="0.6" />
<text x="164.4" y="400.3" font-size="7.4" text-anchor="end" fill="#1a1a1a" stroke="#1a1a1a" stroke-width="0.1" dominant-baseline="central" >0</text>
<line x1="167.30" y1="406.35" x2="168.70" y2="406.35" stroke="#3a3a3a" stroke-width="0.6" />
<text x="164.4" y="406.4" font-size="7.4" text-anchor="end" fill="#1a1a1a" stroke="#1a1a1a" stroke-width="0.1" dominant-baseline="central" >-20</text>
<line x1="167.30" y1="412.40" x2="168.70" y2="412.40" stroke="#3a3a3a" stroke-width="0.6" />
<text x="164.4" y="412.4" font-size="7.4" text-anchor="end" fill="#1a1a1a" stroke="#1a1a1a" stroke-width="0.1" dominant-baseline="central" >-40</text>
<line x1="174.69" y1="413.00" x2="174.69" y2="411.60" stroke="#3a3a3a" stroke-width="0.6" />
<text x="174.7" y="420.0" font-size="7.4" text-anchor="middle" fill="#1a1a1a" stroke="#1a1a1a" stroke-width="0.1" dominant-baseline="central" >-1</text>
<line x1="189.47" y1="413.00" x2="189.47" y2="411.60" stroke="#3a3a3a" stroke-width="0.6" />
<text x="189.5" y="420.0" font-size="7.4" text-anchor="middle" fill="#1a1a1a" stroke="#1a1a1a" stroke-width="0.1" dominant-baseline="central" >0</text>
<line x1="204.24" y1="413.00" x2="204.24" y2="411.60" stroke="#3a3a3a" stroke-width="0.6" />
<text x="204.2" y="420.0" font-size="7.4" text-anchor="middle" fill="#1a1a1a" stroke="#1a1a1a" stroke-width="0.1" dominant-baseline="central" >1</text>
<line x1="219.02" y1="413.00" x2="219.02" y2="411.60" stroke="#3a3a3a" stroke-width="0.6" />
<text x="219.0" y="420.0" font-size="7.4" text-anchor="middle" fill="#1a1a1a" stroke="#1a1a1a" stroke-width="0.1" dominant-baseline="central" >2</text>
<line x1="233.80" y1="413.00" x2="233.80" y2="411.60" stroke="#3a3a3a" stroke-width="0.6" />
<text x="233.8" y="420.0" font-size="7.4" text-anchor="middle" fill="#1a1a1a" stroke="#1a1a1a" stroke-width="0.1" dominant-baseline="central" >3</text>
<text x="200.6" y="429.0" font-size="7.6" text-anchor="middle" fill="#222" stroke="#222" stroke-width="0.1" dominant-baseline="central" >Time (s)</text>
<clipPath id="clipD32"><rect x="255.30" y="375.70" width="67.00" height="37.30"/></clipPath>
<g clip-path="url(#clipD32)">
<defs><path id="tr320" d="M255.3 400.7l1.2 0.8 1.1-0.4 1.2-0.2 1.2-0.9 1.1-1.2 1.2 1.2 1.2-0.2 1.1 0.6 1.2-0.6 1.2 0.2 1.1 0.2 1.2-0.1 1.2-0.5 1.1-1.2 1.2-1.1 1.2-0.2 1.1 0.4 1.2 0.4 1.2-0.2 1.1 0.9 1.2-0.4 1.2 0 1.1-1.5 1.2 0 1.2 0.3 1.1 0.2 1.2-0.4 1.2-0.5 1.1-0.5 1.2 0.2 1.2-0.7 1.1 0.1 1.2-0.5 1.2 1.1 1.1 0.3 1.2-0.3 1.2-1.5 1.1 0.6 1.2-0.6 1.2 0.4 1.1-0.5 1.2-0.1 1.2 0.1 1.1-0.7 1.2 1.5 1.2 1.3 1.1 0.2 1.2-1 1.2-0.5 1.1 1 1.2 1.3 1.2 1.3 1.1-0.7 1.2-0.2 1.2-1.8 1.1 1 1.2-0.7" fill="none" stroke="#2b3a9e" stroke-linejoin="round"/></defs><use href="#tr320" stroke-width="8.2" opacity="0.24"/>
<defs><path id="tr321" d="M255.3 401.1l1.2-0.1 1.1-0.3 1.2 0.8 1.2 0.1 1.1 0.3 1.2-0.4 1.2-0.2 1.1 0.2 1.2 0.6 1.2 0 1.1-0.1 1.2-0.9 1.2-0.2 1.1-1 1.2 0.6 1.2 0 1.1 0 1.2-1.1 1.2-0.2 1.1 0.2 1.2 1.3 1.2-0.4 1.1 0.3 1.2-1.3 1.2 0.2 1.1-0.2 1.2 0.5 1.2-1.1 1.1 0.2 1.2 0.1 1.2-1.8 1.1-1 1.2-0.1 1.2 1 1.1 0.8 1.2 0 1.2-0.7 1.1-1.6 1.2-0.8 1.2 1.5 1.1 0.4 1.2-1.8 1.2-1 1.1-0.1 1.2 2 1.2 1.5 1.1 0.3 1.2-1.1 1.2-0.8 1.1 0.5 1.2 0 1.2 0.9 1.1-0.3 1.2 0.6 1.2 0.1 1.1 0.9 1.2 0.6" fill="none" stroke="#2166cc" stroke-linejoin="round"/></defs><use href="#tr321" stroke-width="7.2" opacity="0.24"/>
<defs><path id="tr322" d="M255.3 400.7l1.2 0.2 1.1-0.7 1.2-0.2 1.2-0.2 1.1 0.1 1.2 0.2 1.2-0.5 1.1 0.2 1.2-0.2 1.2 1 1.1 0.2 1.2-0.5 1.2-0.6 1.1-0.6 1.2-0.1 1.2 0 1.1-0.6 1.2-0.9 1.2-0.4 1.1 0.5 1.2-0.1 1.2-0.3 1.1 0.7 1.2 0 1.2 0.1 1.1-1.6 1.2 1.3 1.2 0.5 1.1 0.8 1.2-1.1 1.2 0.1 1.1 0 1.2-0.2 1.2-0.2 1.1-0.4 1.2 1.2 1.2 0.8 1.1 0.2 1.2-0.3 1.2 0 1.1-0.4 1.2-0.4 1.2-1.2 1.1 1 1.2 1.2 1.2 0.7 1.1-0.3 1.2-0.4 1.2 0.4 1.1 0.8 1.2 0.4 1.2-0.1 1.1-0.2 1.2-1.3 1.2 0.2 1.1-0.4 1.2 1.4" fill="none" stroke="#33c1cf" stroke-linejoin="round"/></defs><use href="#tr322" stroke-width="8.2" opacity="0.24"/>
<defs><path id="tr323" d="M255.3 401.3l1.2 0.7 1.1 0.7 1.2-1 1.2-0.3 1.1-1.4 1.2 0.9 1.2-0.2 1.1-0.2 1.2 0.3 1.2-0.5 1.1 0.6 1.2-0.8 1.2-0.3 1.1-0.3 1.2-0.1 1.2 0.2 1.1-0.9 1.2 0.6 1.2 1.1 1.1 0.6 1.2-0.4 1.2-1 1.1-0.1 1.2-0.1 1.2 0.2 1.1-1.6 1.2-0.1 1.2-0.5 1.1 1.4 1.2-0.3 1.2-1 1.1-2.2 1.2-1.3 1.2-0.1 1.1 1.1 1.2 0.4 1.2-0.9 1.1-1.8 1.2-1 1.2-1.5 1.1-1.1 1.2-0.8 1.2 1.8 1.1 0.2 1.2 0 1.2-1.6 1.1 0.3 1.2 0.8 1.2 0.8 1.1 0.8 1.2 0.2 1.2 0.1 1.1 0.6 1.2 0.3 1.2-0.1 1.1 0.3 1.2-0.7" fill="none" stroke="#4fbf45" stroke-linejoin="round"/></defs><use href="#tr323" stroke-width="6.1" opacity="0.24"/>
<defs><path id="tr324" d="M255.3 403.3l1.2-0.1 1.1 0 1.2 0.9 1.2-0.1 1.1 0.8 1.2-1.8 1.2 0.3 1.1 0 1.2 1.5 1.2-1.5 1.1 0.5 1.2-0.5 1.2 2.2 1.1-0.2 1.2-0.2 1.2 0.4 1.1-0.7 1.2 0.3 1.2-1.1 1.1 1.9 1.2 0.2 1.2 0.6 1.1-1 1.2 0.1 1.2-0.3 1.1-0.4 1.2 0.1 1.2 1.3 1.1-0.2 1.2-0.4 1.2-1.9 1.1-0.1 1.2-0.3 1.2 1.2 1.1 0.5 1.2 0.1 1.2-1.9 1.1 0.5 1.2-1.2 1.2 1.3 1.1-0.9 1.2 1.1 1.2-0.7 1.1-0.3 1.2-1.1 1.2-0.1 1.1-0.7 1.2-0.9 1.2-0.4 1.1 1.1 1.2 1.1 1.2 0.2 1.1-0.4 1.2-0.7 1.2-0.7 1.1-1.4 1.2 0.4" fill="none" stroke="#d4d417" stroke-linejoin="round"/></defs><use href="#tr324" stroke-width="6.1" opacity="0.24"/>
<defs><path id="tr325" d="M255.3 403.1l1.2-1.2 1.1 0.2 1.2-0.2 1.2-0.6 1.1 0.2 1.2 0.8 1.2 1.8 1.1-0.7 1.2 0.2 1.2-1.8 1.1 0.6 1.2-0.2 1.2 0.1 1.1-2.3 1.2 0 1.2 0.3 1.1 1.9 1.2-1.4 1.2-1.3 1.1-0.8 1.2 0.7 1.2 0.2 1.1 0.7 1.2-0.3 1.2 0.4 1.1 0.2 1.2 0.4 1.2-1.8 1.1-1.1 1.2-0.2 1.2 1.1 1.1 0.6 1.2-1.1 1.2 0.1 1.1 0.3 1.2 0.6 1.2 0.1 1.1 0.3 1.2 1.1 1.2 0.4 1.1 0.9 1.2 0.3 1.2-0.2 1.1-1.2 1.2-1 1.2 1.2 1.1 1.1 1.2 1.2 1.2 0.2 1.1-0.9 1.2 0 1.2-1.2 1.1 0.9 1.2-0.6 1.2-0.5 1.1-0.3 1.2 0.4" fill="none" stroke="#e0782f" stroke-linejoin="round"/></defs><use href="#tr325" stroke-width="7.2" opacity="0.24"/>
<defs><path id="tr326" d="M255.3 403.3l1.2-0.1 1.1-2.2 1.2 0 1.2 0.8 1.1 0.7 1.2-0.9 1.2-1.3 1.1 0.3 1.2 0.1 1.2 0.2 1.1 0.1 1.2 0.3 1.2-1.4 1.1-0.9 1.2-0.1 1.2 1.6 1.1 0.2 1.2 0 1.2-1.6 1.1 0.4 1.2-0.4 1.2 0 1.1 0.1 1.2 0.2 1.2-1.3 1.1-0.3 1.2-1.2 1.2 0.6 1.1-1.3 1.2-0.5 1.2 0.9 1.1-0.5 1.2 1.7 1.2-1.1 1.1 0 1.2-2 1.2-0.8 1.1 0.6 1.2 0.7 1.2 0.8 1.1 0 1.2 0.5 1.2 0.6 1.1-0.9 1.2-1.1 1.2-0.6 1.1-0.1 1.2 1 1.2 1.3 1.1 1.6 1.2 0.2 1.2-0.9 1.1-0.9 1.2 0.9 1.2 0.3 1.1 1.3 1.2-0.7" fill="none" stroke="#dc1f1f" stroke-linejoin="round"/></defs><use href="#tr326" stroke-width="6.1" opacity="0.24"/>
<use href="#tr320" stroke-width="1.25"/>
<use href="#tr321" stroke-width="1.25"/>
<use href="#tr322" stroke-width="1.25"/>
<use href="#tr323" stroke-width="1.25"/>
<use href="#tr324" stroke-width="1.25"/>
<use href="#tr325" stroke-width="1.5"/>
<use href="#tr326" stroke-width="1.5"/>
</g>
<line x1="277.47" y1="375.70" x2="277.47" y2="413.00" stroke="#111" stroke-width="1.0" stroke-dasharray="3 2.4"/>
<line x1="255.30" y1="375.70" x2="255.30" y2="413.00" stroke="#3a3a3a" stroke-width="0.8" />
<line x1="255.30" y1="413.00" x2="321.80" y2="413.00" stroke="#3a3a3a" stroke-width="0.8" />
<line x1="255.30" y1="376.10" x2="256.70" y2="376.10" stroke="#3a3a3a" stroke-width="0.6" />
<text x="252.4" y="376.1" font-size="7.4" text-anchor="end" fill="#1a1a1a" stroke="#1a1a1a" stroke-width="0.1" dominant-baseline="central" >80</text>
<line x1="255.30" y1="382.15" x2="256.70" y2="382.15" stroke="#3a3a3a" stroke-width="0.6" />
<text x="252.4" y="382.2" font-size="7.4" text-anchor="end" fill="#1a1a1a" stroke="#1a1a1a" stroke-width="0.1" dominant-baseline="central" >60</text>
<line x1="255.30" y1="388.20" x2="256.70" y2="388.20" stroke="#3a3a3a" stroke-width="0.6" />
<text x="252.4" y="388.2" font-size="7.4" text-anchor="end" fill="#1a1a1a" stroke="#1a1a1a" stroke-width="0.1" dominant-baseline="central" >40</text>
<line x1="255.30" y1="394.25" x2="256.70" y2="394.25" stroke="#3a3a3a" stroke-width="0.6" />
<text x="252.4" y="394.2" font-size="7.4" text-anchor="end" fill="#1a1a1a" stroke="#1a1a1a" stroke-width="0.1" dominant-baseline="central" >20</text>
<line x1="255.30" y1="400.30" x2="256.70" y2="400.30" stroke="#3a3a3a" stroke-width="0.6" />
<text x="252.4" y="400.3" font-size="7.4" text-anchor="end" fill="#1a1a1a" stroke="#1a1a1a" stroke-width="0.1" dominant-baseline="central" >0</text>
<line x1="255.30" y1="406.35" x2="256.70" y2="406.35" stroke="#3a3a3a" stroke-width="0.6" />
<text x="252.4" y="406.4" font-size="7.4" text-anchor="end" fill="#1a1a1a" stroke="#1a1a1a" stroke-width="0.1" dominant-baseline="central" >-20</text>
<line x1="255.30" y1="412.40" x2="256.70" y2="412.40" stroke="#3a3a3a" stroke-width="0.6" />
<text x="252.4" y="412.4" font-size="7.4" text-anchor="end" fill="#1a1a1a" stroke="#1a1a1a" stroke-width="0.1" dominant-baseline="central" >-40</text>
<line x1="262.69" y1="413.00" x2="262.69" y2="411.60" stroke="#3a3a3a" stroke-width="0.6" />
<text x="262.7" y="420.0" font-size="7.4" text-anchor="middle" fill="#1a1a1a" stroke="#1a1a1a" stroke-width="0.1" dominant-baseline="central" >-1</text>
<line x1="277.47" y1="413.00" x2="277.47" y2="411.60" stroke="#3a3a3a" stroke-width="0.6" />
<text x="277.5" y="420.0" font-size="7.4" text-anchor="middle" fill="#1a1a1a" stroke="#1a1a1a" stroke-width="0.1" dominant-baseline="central" >0</text>
<line x1="292.24" y1="413.00" x2="292.24" y2="411.60" stroke="#3a3a3a" stroke-width="0.6" />
<text x="292.2" y="420.0" font-size="7.4" text-anchor="middle" fill="#1a1a1a" stroke="#1a1a1a" stroke-width="0.1" dominant-baseline="central" >1</text>
<line x1="307.02" y1="413.00" x2="307.02" y2="411.60" stroke="#3a3a3a" stroke-width="0.6" />
<text x="307.0" y="420.0" font-size="7.4" text-anchor="middle" fill="#1a1a1a" stroke="#1a1a1a" stroke-width="0.1" dominant-baseline="central" >2</text>
<line x1="321.80" y1="413.00" x2="321.80" y2="411.60" stroke="#3a3a3a" stroke-width="0.6" />
<text x="321.8" y="420.0" font-size="7.4" text-anchor="middle" fill="#1a1a1a" stroke="#1a1a1a" stroke-width="0.1" dominant-baseline="central" >3</text>
<text x="288.6" y="429.0" font-size="7.6" text-anchor="middle" fill="#222" stroke="#222" stroke-width="0.1" dominant-baseline="central" >Time (s)</text>
<clipPath id="clipD33"><rect x="343.30" y="375.70" width="67.00" height="37.30"/></clipPath>
<g clip-path="url(#clipD33)">
<defs><path id="tr330" d="M343.3 399.2l1.2 0.3 1.1 0.6 1.2-0.1 1.2 0 1.1-0.1 1.2 0.6 1.2 0.4 1.1-1 1.2-1.3 1.2-0.1 1.1 2.3 1.2 0.8 1.2-0.7 1.1-1.6 1.2-0.9 1.2-0.2 1.1 0.7 1.2-0.8 1.2 0.8 1.1-0.9 1.2 0.8 1.2-0.1 1.1-0.6 1.2-0.5 1.2-1.9 1.1-0.7 1.2-0.7 1.2 0.4 1.1 0.5 1.2-0.1 1.2-1.5 1.1-0.6 1.2-1 1.2 0.5 1.1 1.2 1.2 0.6 1.2 0.2 1.1-0.1 1.2 0.6 1.2 1.1 1.1 1 1.2 0.6 1.2-0.3 1.1-0.3 1.2 1.4 1.2 1 1.1-0.7 1.2-1.3 1.2-1 1.1 1.2 1.2 0.5 1.2 1.3 1.1 0.2 1.2-0.5 1.2-0.5 1.1-0.1 1.2 0.2" fill="none" stroke="#2b3a9e" stroke-linejoin="round"/></defs><use href="#tr330" stroke-width="8.2" opacity="0.24"/>
<defs><path id="tr331" d="M343.3 403.7l1.2-0.1 1.1 0.5 1.2-0.4 1.2-1.9 1.1-1.8 1.2-1.5 1.2 1.1 1.1 0.3 1.2 1.2 1.2-0.2 1.1 0.1 1.2 0.1 1.2-0.6 1.1-0.4 1.2 0.1 1.2 1.4 1.1 0.3 1.2-1.3 1.2-1.7 1.1 0.3 1.2-0.6 1.2-0.3 1.1-0.5 1.2-0.9 1.2-0.5 1.1-1.1 1.2-0.4 1.2 0.1 1.1 0.4 1.2 1.9 1.2-0.2 1.1-0.4 1.2-2.4 1.2-0.3 1.1 0.3 1.2 2.4 1.2 1.1 1.1 1.5 1.2 0.4 1.2-0.2 1.1-0.9 1.2 0 1.2 0.4 1.1 0.9 1.2-0.8 1.2-0.3 1.1 0 1.2 0.8 1.2 1.2 1.1 0 1.2-1.4 1.2-0.6 1.1-0.7 1.2 1.1 1.2-0.8 1.1 0.8 1.2 1" fill="none" stroke="#2166cc" stroke-linejoin="round"/></defs><use href="#tr331" stroke-width="7.2" opacity="0.24"/>
<defs><path id="tr332" d="M343.3 399.6l1.2-0.2 1.1 0.5 1.2-0.4 1.2-0.5 1.1-0.4 1.2-0.3 1.2 1.2 1.1 0.1 1.2-0.5 1.2-0.5 1.1 0.4 1.2 0.3 1.2 0.3 1.1-0.7 1.2 0.2 1.2 1.2 1.1 1 1.2 0 1.2 0 1.1-0.2 1.2-1.6 1.2-1.8 1.1-0.7 1.2 0.8 1.2 1.6 1.1-0.6 1.2-0.5 1.2-1.6 1.1 0.8 1.2-0.1 1.2 0.4 1.1-0.4 1.2 0.4 1.2 0 1.1-1.5 1.2 0.4 1.2-1.4 1.1 1.1 1.2 0.8 1.2 1.5 1.1 0.3 1.2-1.4 1.2-0.6 1.1-1.3 1.2 1.3 1.2 1.2 1.1 0.2 1.2 0.2 1.2-0.3 1.1 0.6 1.2 0.2 1.2 0.5 1.1 1.5 1.2-0.8 1.2-0.3 1.1-0.3 1.2 0" fill="none" stroke="#33c1cf" stroke-linejoin="round"/></defs><use href="#tr332" stroke-width="8.2" opacity="0.24"/>
<defs><path id="tr333" d="M343.3 400.7l1.2-1.6 1.1-0.2 1.2 0.2 1.2 0.5 1.1-0.1 1.2-0.7 1.2 0.6 1.1-0.6 1.2 0.7 1.2 0.7 1.1 1.2 1.2-0.2 1.2-1.6 1.1-1.6 1.2 0.4 1.2-0.3 1.1 1.7 1.2 0.3 1.2 0.8 1.1 0.2 1.2-1.1 1.2 0.2 1.1-1.4 1.2 1.1 1.2-0.2 1.1-0.3 1.2-0.8 1.2-0.5 1.1 0.4 1.2-0.4 1.2 0.7 1.1 0.8 1.2 0.2 1.2-0.5 1.1-0.4 1.2 1 1.2 1.2 1.1-1.2 1.2-1 1.2-0.4 1.1 0 1.2 0 1.2 0.5 1.1 1 1.2 0.5 1.2-0.7 1.1 0.4 1.2-0.5 1.2-0.2 1.1-0.1 1.2 0.3 1.2 0.5 1.1-0.7 1.2 0.5 1.2-0.4 1.1-0.1 1.2-0.2" fill="none" stroke="#4fbf45" stroke-linejoin="round"/></defs><use href="#tr333" stroke-width="6.1" opacity="0.24"/>
<defs><path id="tr334" d="M343.3 405.1l1.2-0.2 1.1 0.5 1.2-0.9 1.2-0.1 1.1-1.1 1.2-0.1 1.2-0.5 1.1 0.4 1.2-0.2 1.2 1 1.1-0.5 1.2-0.5 1.2-1.4 1.1 1.2 1.2 0.5 1.2 1.6 1.1-1.2 1.2 0.4 1.2-0.7 1.1 0.9 1.2 0 1.2-0.2 1.1 0.1 1.2-0.2 1.2-0.1 1.1-0.9 1.2 0.1 1.2 0.2 1.1-1.1 1.2-0.6 1.2-0.3 1.1 2.2 1.2 0.1 1.2-0.2 1.1 0.6 1.2 0.3 1.2 0 1.1-1.8 1.2-0.3 1.2 0.2 1.1-0.9 1.2-0.3 1.2-0.1 1.1 0.9 1.2-1 1.2 0.3 1.1 0.1 1.2 1.1 1.2-0.6 1.1-0.5 1.2-0.6 1.2-0.6 1.1 0 1.2 0.8 1.2 0.7 1.1 0.4 1.2-0.6" fill="none" stroke="#d4d417" stroke-linejoin="round"/></defs><use href="#tr334" stroke-width="6.1" opacity="0.24"/>
<defs><path id="tr335" d="M343.3 403.5l1.2-0.2 1.1-0.2 1.2-1 1.2 0.8 1.1-0.8 1.2 1.5 1.2-1.1 1.1 0.7 1.2-0.2 1.2 0.7 1.1-0.4 1.2 1.2 1.2 0.4 1.1 0.3 1.2-2.4 1.2-2.4 1.1-0.1 1.2 1.1 1.2 1.2 1.1-0.5 1.2-1.1 1.2 0.3 1.1-0.2 1.2 0.4 1.2-1.4 1.1 0.4 1.2-0.1 1.2 1.1 1.1 0.4 1.2-0.4 1.2-1 1.1-1.4 1.2 0 1.2 0.8 1.1 1.3 1.2 1 1.2 0.3 1.1-0.6 1.2-0.6 1.2 1.1 1.1 0.4 1.2 0.4 1.2-0.6 1.1 0 1.2-0.4 1.2 0 1.1 0.8 1.2 0.5 1.2-0.7 1.1-0.7 1.2-1.1 1.2 0 1.1 0.5 1.2 0.4 1.2 0.5 1.1-1 1.2 0.3" fill="none" stroke="#e0782f" stroke-linejoin="round"/></defs><use href="#tr335" stroke-width="7.2" opacity="0.24"/>
<defs><path id="tr336" d="M343.3 401.3l1.2 0.4 1.1 0 1.2 0.1 1.2-1.1 1.1-0.7 1.2 1 1.2 1.4 1.1-0.4 1.2-0.6 1.2-0.9 1.1 1.2 1.2-0.6 1.2 1.8 1.1-0.3 1.2 0.9 1.2-0.7 1.1-1 1.2 0.1 1.2-0.7 1.1-0.9 1.2-2 1.2-1.1 1.1-0.1 1.2-1.1 1.2-3.7 1.1-3.3 1.2-1.8 1.2 2.8 1.1 3.1 1.2 3.2 1.2 2.6 1.1 2.3 1.2 0.1 1.2-1.1 1.1-1.2 1.2-1.3 1.2-0.1 1.1-1.2 1.2 0.9 1.2-0.8 1.1 0 1.2-1.6 1.2-0.9 1.1-0.3 1.2 2.3 1.2 1.4 1.1 1.9 1.2 0.6 1.2 0.7 1.1 0.9 1.2-0.3 1.2-1.2 1.1-0.7 1.2-0.7 1.2 1.1 1.1 1.9 1.2 1.2" fill="none" stroke="#dc1f1f" stroke-linejoin="round"/></defs><use href="#tr336" stroke-width="6.1" opacity="0.24"/>
<use href="#tr330" stroke-width="1.25"/>
<use href="#tr331" stroke-width="1.25"/>
<use href="#tr332" stroke-width="1.25"/>
<use href="#tr333" stroke-width="1.25"/>
<use href="#tr334" stroke-width="1.25"/>
<use href="#tr335" stroke-width="1.5"/>
<use href="#tr336" stroke-width="1.5"/>
</g>
<line x1="365.47" y1="375.70" x2="365.47" y2="413.00" stroke="#111" stroke-width="1.0" stroke-dasharray="3 2.4"/>
<line x1="343.30" y1="375.70" x2="343.30" y2="413.00" stroke="#3a3a3a" stroke-width="0.8" />
<line x1="343.30" y1="413.00" x2="409.80" y2="413.00" stroke="#3a3a3a" stroke-width="0.8" />
<line x1="343.30" y1="376.10" x2="344.70" y2="376.10" stroke="#3a3a3a" stroke-width="0.6" />
<text x="340.4" y="376.1" font-size="7.4" text-anchor="end" fill="#1a1a1a" stroke="#1a1a1a" stroke-width="0.1" dominant-baseline="central" >80</text>
<line x1="343.30" y1="382.15" x2="344.70" y2="382.15" stroke="#3a3a3a" stroke-width="0.6" />
<text x="340.4" y="382.2" font-size="7.4" text-anchor="end" fill="#1a1a1a" stroke="#1a1a1a" stroke-width="0.1" dominant-baseline="central" >60</text>
<line x1="343.30" y1="388.20" x2="344.70" y2="388.20" stroke="#3a3a3a" stroke-width="0.6" />
<text x="340.4" y="388.2" font-size="7.4" text-anchor="end" fill="#1a1a1a" stroke="#1a1a1a" stroke-width="0.1" dominant-baseline="central" >40</text>
<line x1="343.30" y1="394.25" x2="344.70" y2="394.25" stroke="#3a3a3a" stroke-width="0.6" />
<text x="340.4" y="394.2" font-size="7.4" text-anchor="end" fill="#1a1a1a" stroke="#1a1a1a" stroke-width="0.1" dominant-baseline="central" >20</text>
<line x1="343.30" y1="400.30" x2="344.70" y2="400.30" stroke="#3a3a3a" stroke-width="0.6" />
<text x="340.4" y="400.3" font-size="7.4" text-anchor="end" fill="#1a1a1a" stroke="#1a1a1a" stroke-width="0.1" dominant-baseline="central" >0</text>
<line x1="343.30" y1="406.35" x2="344.70" y2="406.35" stroke="#3a3a3a" stroke-width="0.6" />
<text x="340.4" y="406.4" font-size="7.4" text-anchor="end" fill="#1a1a1a" stroke="#1a1a1a" stroke-width="0.1" dominant-baseline="central" >-20</text>
<line x1="343.30" y1="412.40" x2="344.70" y2="412.40" stroke="#3a3a3a" stroke-width="0.6" />
<text x="340.4" y="412.4" font-size="7.4" text-anchor="end" fill="#1a1a1a" stroke="#1a1a1a" stroke-width="0.1" dominant-baseline="central" >-40</text>
<line x1="350.69" y1="413.00" x2="350.69" y2="411.60" stroke="#3a3a3a" stroke-width="0.6" />
<text x="350.7" y="420.0" font-size="7.4" text-anchor="middle" fill="#1a1a1a" stroke="#1a1a1a" stroke-width="0.1" dominant-baseline="central" >-1</text>
<line x1="365.47" y1="413.00" x2="365.47" y2="411.60" stroke="#3a3a3a" stroke-width="0.6" />
<text x="365.5" y="420.0" font-size="7.4" text-anchor="middle" fill="#1a1a1a" stroke="#1a1a1a" stroke-width="0.1" dominant-baseline="central" >0</text>
<line x1="380.24" y1="413.00" x2="380.24" y2="411.60" stroke="#3a3a3a" stroke-width="0.6" />
<text x="380.2" y="420.0" font-size="7.4" text-anchor="middle" fill="#1a1a1a" stroke="#1a1a1a" stroke-width="0.1" dominant-baseline="central" >1</text>
<line x1="395.02" y1="413.00" x2="395.02" y2="411.60" stroke="#3a3a3a" stroke-width="0.6" />
<text x="395.0" y="420.0" font-size="7.4" text-anchor="middle" fill="#1a1a1a" stroke="#1a1a1a" stroke-width="0.1" dominant-baseline="central" >2</text>
<line x1="409.80" y1="413.00" x2="409.80" y2="411.60" stroke="#3a3a3a" stroke-width="0.6" />
<text x="409.8" y="420.0" font-size="7.4" text-anchor="middle" fill="#1a1a1a" stroke="#1a1a1a" stroke-width="0.1" dominant-baseline="central" >3</text>
<text x="376.6" y="429.0" font-size="7.6" text-anchor="middle" fill="#222" stroke="#222" stroke-width="0.1" dominant-baseline="central" >Time (s)</text>
<clipPath id="clipD34"><rect x="430.50" y="375.70" width="67.00" height="37.30"/></clipPath>
<g clip-path="url(#clipD34)">
<defs><path id="tr340" d="M430.5 403.3l1.2-0.3 1.1-0.6 1.2-0.9 1.2 0.5 1.1-0.6 1.2 0.5 1.2-1 1.1-0.1 1.2 0.8 1.2-0.5 1.1 1.1 1.2-1 1.2 0.3 1.1-1 1.2 1.1 1.2 0.5 1.1-0.2 1.2-0.9 1.2 0.1 1.1 0.6 1.2-1.2 1.2 0.1 1.1 0.5 1.2 1.4 1.2-0.2 1.1-0.6 1.2-1 1.2-0.5 1.1 0.7 1.2 1 1.2-0.6 1.1-1.5 1.2-0.3 1.2-0.2 1.1 1.7 1.2-2.2 1.2 0.1 1.1-0.6 1.2 1 1.2 0.3 1.1-0.8 1.2 0.5 1.2 0.1 1.1-0.2 1.2 0.3 1.2 0.3 1.1-0.3 1.2-0.8 1.2 0.6 1.1 0.8 1.2-0.5 1.2-1.1 1.1-1.1 1.2 1.9 1.2 1.2 1.1 2.4 1.2 0.5" fill="none" stroke="#2b3a9e" stroke-linejoin="round"/></defs><use href="#tr340" stroke-width="8.2" opacity="0.24"/>
<defs><path id="tr341" d="M430.5 401.8l1.2 0.2 1.1-0.6 1.2-1.1 1.2-0.8 1.1 0.9 1.2-0.3 1.2 0.5 1.1-0.4 1.2 0.9 1.2 0 1.1 0.3 1.2-0.9 1.2 0.1 1.1-0.4 1.2 0.6 1.2-1.4 1.1-0.6 1.2 0.9 1.2 0.7 1.1-0.4 1.2-0.8 1.2-0.1 1.1 0.9 1.2 0.2 1.2 1.3 1.1 0.1 1.2 0.5 1.2-1.1 1.1-1.5 1.2 0.6 1.2 0.6 1.1 1.2 1.2-1.4 1.2-1.7 1.1-0.9 1.2-1.7 1.2-2.6 1.1-3 1.2-2.1 1.2 1 1.1 3.6 1.2 3.5 1.2 2.8 1.1 0.5 1.2 0.5 1.2-0.4 1.1 0.5 1.2 0.7 1.2-0.1 1.1-0.8 1.2-0.9 1.2 0.6 1.1 0.5 1.2-0.1 1.2-0.5 1.1 1.2 1.2 0" fill="none" stroke="#2166cc" stroke-linejoin="round"/></defs><use href="#tr341" stroke-width="7.2" opacity="0.24"/>
<defs><path id="tr342" d="M430.5 400.0l1.2-0.3 1.1 1 1.2 0.8 1.2-0.2 1.1-0.9 1.2 1 1.2-0.1 1.1-0.2 1.2-1.3 1.2-0.2 1.1-0.2 1.2 0.9 1.2-0.3 1.1 0.6 1.2 0 1.2 0.9 1.1-0.1 1.2-0.8 1.2-1 1.1 0 1.2 0.4 1.2-0.6 1.1 0.1 1.2 0.1 1.2 0.5 1.1-0.1 1.2-0.2 1.2 1.1 1.1-1.1 1.2 0 1.2-0.8 1.1 0.9 1.2-0.6 1.2 0.5 1.1-0.4 1.2-0.5 1.2-1.2 1.1 0.3 1.2 1 1.2 1.5 1.1-0.2 1.2 0.8 1.2-1.7 1.1 0 1.2-1.5 1.2 1.7 1.1 0.5 1.2 0.7 1.2-1.2 1.1 0 1.2-0.6 1.2 0.2 1.1 1 1.2 0.7 1.2-0.3 1.1-0.7 1.2-0.1" fill="none" stroke="#33c1cf" stroke-linejoin="round"/></defs><use href="#tr342" stroke-width="8.2" opacity="0.24"/>
<defs><path id="tr343" d="M430.5 399.8l1.2 0 1.1-1.1 1.2 1.6 1.2-0.9 1.1-0.3 1.2-1 1.2 0.3 1.1 0.3 1.2-0.1 1.2 0.3 1.1 0.4 1.2 0.3 1.2 0.8 1.1 1.6 1.2 0 1.2-0.7 1.1-1.1 1.2 0.6 1.2 0.6 1.1 0.1 1.2-0.4 1.2-0.7 1.1-1.2 1.2 0 1.2-0.4 1.1-0.1 1.2 0.2 1.2 1.3 1.1 0.7 1.2-0.4 1.2-0.8 1.1-1.8 1.2 0.2 1.2-0.6 1.1 1.7 1.2-0.8 1.2 1 1.1-1 1.2 0.3 1.2-0.5 1.1 1.3 1.2-0.9 1.2 0.2 1.1-1.5 1.2 2.4 1.2 0.5 1.1-0.1 1.2-2.4 1.2-0.6 1.1 0.6 1.2 0.8 1.2 0.4 1.1 0.7 1.2 1.1 1.2 0.8 1.1 0.1 1.2-1" fill="none" stroke="#4fbf45" stroke-linejoin="round"/></defs><use href="#tr343" stroke-width="6.1" opacity="0.24"/>
<defs><path id="tr344" d="M430.5 403.4l1.2 0.1 1.1-1.2 1.2 0.7 1.2 0.2 1.1-0.2 1.2-1 1.2 0.5 1.1 1.3 1.2 0.2 1.2-0.9 1.1-0.7 1.2 1.1 1.2-0.4 1.1 0 1.2-0.7 1.2 0.4 1.1 0.4 1.2-0.1 1.2 0.2 1.1-0.7 1.2 0.2 1.2 0.9 1.1 1.1 1.2 0.5 1.2-1.3 1.1 0.2 1.2-0.7 1.2 0.2 1.1-0.8 1.2-0.6 1.2 0.7 1.1 0.3 1.2 0.5 1.2-0.4 1.1-0.7 1.2 0.6 1.2-0.9 1.1 0 1.2 0.8 1.2-0.1 1.1 0 1.2-0.9 1.2 0.6 1.1-0.1 1.2-1.3 1.2-0.4 1.1-0.2 1.2 0.7 1.2 0.7 1.1 0.3 1.2 0.3 1.2-0.3 1.1 0.3 1.2 0 1.2-0.7 1.1-0.9 1.2-0.3" fill="none" stroke="#d4d417" stroke-linejoin="round"/></defs><use href="#tr344" stroke-width="6.1" opacity="0.24"/>
<defs><path id="tr345" d="M430.5 399.7l1.2-0.3 1.1-1.4 1.2-1 1.2 0.1 1.1-0.1 1.2 1.1 1.2 0.1 1.1 1.7 1.2-0.5 1.2 1.3 1.1-0.1 1.2-0.4 1.2 0 1.1 0.1 1.2 0.5 1.2-0.4 1.1-0.5 1.2-1.3 1.2-0.8 1.1-0.3 1.2 0.5 1.2 0.2 1.1 0.1 1.2-0.5 1.2 0.1 1.1 0.3 1.2 1.5 1.2 0.8 1.1 0.2 1.2-1.4 1.2-1.4 1.1-0.6 1.2-0.3 1.2 1.3 1.1-0.7 1.2 0.8 1.2-1.5 1.1 0.1 1.2 0.6 1.2 1 1.1 0.7 1.2-0.4 1.2-0.1 1.1 0.4 1.2 0.5 1.2-0.4 1.1 0.3 1.2-1.3 1.2 0.8 1.1-0.4 1.2 1 1.2-1.4 1.1 1.1 1.2 0.4 1.2 0.1 1.1-0.1 1.2 0.1" fill="none" stroke="#e0782f" stroke-linejoin="round"/></defs><use href="#tr345" stroke-width="7.2" opacity="0.24"/>
<defs><path id="tr346" d="M430.5 398.6l1.2-1.2 1.1-0.4 1.2 1.2 1.2 1.7 1.1-0.4 1.2-0.1 1.2-1.1 1.1 1.9 1.2-0.1 1.2 0 1.1-1.6 1.2 1.5 1.2 0.2 1.1 0.2 1.2-1.7 1.2 0.4 1.1 0.3 1.2-0.1 1.2-0.5 1.1 1.6 1.2 0 1.2-0.3 1.1-1.9 1.2-0.8 1.2 1 1.1-1.4 1.2 0 1.2-0.4 1.1-0.6 1.2-0.3 1.2-1.2 1.1 2.3 1.2 0.9 1.2 0.7 1.1-1.3 1.2 0 1.2 1.1 1.1 0 1.2 0.2 1.2-0.9 1.1 1 1.2 0.1 1.2 1.1 1.1-0.5 1.2 0.4 1.2 0.4 1.1 0.2 1.2-0.2 1.2-1.5 1.1-0.1 1.2 0.8 1.2 0.8 1.1 0.6 1.2-0.6 1.2 0.6 1.1 0.1 1.2-0.4" fill="none" stroke="#dc1f1f" stroke-linejoin="round"/></defs><use href="#tr346" stroke-width="6.1" opacity="0.24"/>
<use href="#tr340" stroke-width="1.25"/>
<use href="#tr341" stroke-width="1.25"/>
<use href="#tr342" stroke-width="1.25"/>
<use href="#tr343" stroke-width="1.25"/>
<use href="#tr344" stroke-width="1.25"/>
<use href="#tr345" stroke-width="1.5"/>
<use href="#tr346" stroke-width="1.5"/>
</g>
<line x1="452.67" y1="375.70" x2="452.67" y2="413.00" stroke="#111" stroke-width="1.0" stroke-dasharray="3 2.4"/>
<line x1="430.50" y1="375.70" x2="430.50" y2="413.00" stroke="#3a3a3a" stroke-width="0.8" />
<line x1="430.50" y1="413.00" x2="497.00" y2="413.00" stroke="#3a3a3a" stroke-width="0.8" />
<line x1="430.50" y1="376.10" x2="431.90" y2="376.10" stroke="#3a3a3a" stroke-width="0.6" />
<text x="427.6" y="376.1" font-size="7.4" text-anchor="end" fill="#1a1a1a" stroke="#1a1a1a" stroke-width="0.1" dominant-baseline="central" >80</text>
<line x1="430.50" y1="382.15" x2="431.90" y2="382.15" stroke="#3a3a3a" stroke-width="0.6" />
<text x="427.6" y="382.2" font-size="7.4" text-anchor="end" fill="#1a1a1a" stroke="#1a1a1a" stroke-width="0.1" dominant-baseline="central" >60</text>
<line x1="430.50" y1="388.20" x2="431.90" y2="388.20" stroke="#3a3a3a" stroke-width="0.6" />
<text x="427.6" y="388.2" font-size="7.4" text-anchor="end" fill="#1a1a1a" stroke="#1a1a1a" stroke-width="0.1" dominant-baseline="central" >40</text>
<line x1="430.50" y1="394.25" x2="431.90" y2="394.25" stroke="#3a3a3a" stroke-width="0.6" />
<text x="427.6" y="394.2" font-size="7.4" text-anchor="end" fill="#1a1a1a" stroke="#1a1a1a" stroke-width="0.1" dominant-baseline="central" >20</text>
<line x1="430.50" y1="400.30" x2="431.90" y2="400.30" stroke="#3a3a3a" stroke-width="0.6" />
<text x="427.6" y="400.3" font-size="7.4" text-anchor="end" fill="#1a1a1a" stroke="#1a1a1a" stroke-width="0.1" dominant-baseline="central" >0</text>
<line x1="430.50" y1="406.35" x2="431.90" y2="406.35" stroke="#3a3a3a" stroke-width="0.6" />
<text x="427.6" y="406.4" font-size="7.4" text-anchor="end" fill="#1a1a1a" stroke="#1a1a1a" stroke-width="0.1" dominant-baseline="central" >-20</text>
<line x1="430.50" y1="412.40" x2="431.90" y2="412.40" stroke="#3a3a3a" stroke-width="0.6" />
<text x="427.6" y="412.4" font-size="7.4" text-anchor="end" fill="#1a1a1a" stroke="#1a1a1a" stroke-width="0.1" dominant-baseline="central" >-40</text>
<line x1="437.89" y1="413.00" x2="437.89" y2="411.60" stroke="#3a3a3a" stroke-width="0.6" />
<text x="437.9" y="420.0" font-size="7.4" text-anchor="middle" fill="#1a1a1a" stroke="#1a1a1a" stroke-width="0.1" dominant-baseline="central" >-1</text>
<line x1="452.67" y1="413.00" x2="452.67" y2="411.60" stroke="#3a3a3a" stroke-width="0.6" />
<text x="452.7" y="420.0" font-size="7.4" text-anchor="middle" fill="#1a1a1a" stroke="#1a1a1a" stroke-width="0.1" dominant-baseline="central" >0</text>
<line x1="467.44" y1="413.00" x2="467.44" y2="411.60" stroke="#3a3a3a" stroke-width="0.6" />
<text x="467.4" y="420.0" font-size="7.4" text-anchor="middle" fill="#1a1a1a" stroke="#1a1a1a" stroke-width="0.1" dominant-baseline="central" >1</text>
<line x1="482.22" y1="413.00" x2="482.22" y2="411.60" stroke="#3a3a3a" stroke-width="0.6" />
<text x="482.2" y="420.0" font-size="7.4" text-anchor="middle" fill="#1a1a1a" stroke="#1a1a1a" stroke-width="0.1" dominant-baseline="central" >2</text>
<line x1="497.00" y1="413.00" x2="497.00" y2="411.60" stroke="#3a3a3a" stroke-width="0.6" />
<text x="497.0" y="420.0" font-size="7.4" text-anchor="middle" fill="#1a1a1a" stroke="#1a1a1a" stroke-width="0.1" dominant-baseline="central" >3</text>
<text x="463.8" y="429.0" font-size="7.6" text-anchor="middle" fill="#222" stroke="#222" stroke-width="0.1" dominant-baseline="central" >Time (s)</text>
<clipPath id="clipD35"><rect x="518.50" y="375.70" width="67.00" height="37.30"/></clipPath>
<g clip-path="url(#clipD35)">
<defs><path id="tr350" d="M518.5 402.8l1.2 2.1 1.1 0.9 1.2 0.7 1.2 0.2 1.1-1.2 1.2-0.9 1.2-1.8 1.1 0.6 1.2 0.1 1.2 0.1 1.1-0.8 1.2-0.9 1.2-0.8 1.1 1 1.2 0.8 1.2-0.4 1.1-1.1 1.2 0.2 1.2-0.3 1.1-0.5 1.2-1.1 1.2 0.4 1.1 0 1.2 1.1 1.2-0.7 1.1-0.2 1.2-1.6 1.2-0.5 1.1-0.8 1.2-1.2 1.2-1.4 1.1-1 1.2-1 1.2-0.9 1.1-1.6 1.2-1.3 1.2-0.8 1.1-0.1 1.2 0.6 1.2 0.2 1.1-0.9 1.2-0.2 1.2-1.4 1.1 0.7 1.2 0.2 1.2 1.5 1.1 1 1.2 1 1.2 0.8 1.1 1.5 1.2 0.2 1.2 0.6 1.1 0 1.2-0.3 1.2-0.1 1.1-0.9 1.2 1.2" fill="none" stroke="#2b3a9e" stroke-linejoin="round"/></defs><use href="#tr350" stroke-width="8.2" opacity="0.24"/>
<defs><path id="tr351" d="M518.5 407.2l1.2 0.3 1.1-1.7 1.2-0.8 1.2-1.3 1.1 1.2 1.2-0.3 1.2-0.9 1.1 0.7 1.2 0.3 1.2 0.8 1.1-0.6 1.2-1.2 1.2-0.8 1.1-1.2 1.2-0.3 1.2 0.7 1.1-0.4 1.2 0.7 1.2 0.3 1.1 0.4 1.2-0.7 1.2-1.7 1.1 0 1.2-1.2 1.2 0.9 1.1-0.2 1.2 1.3 1.2-0.8 1.1-0.2 1.2-1.5 1.2-0.5 1.1-1.1 1.2 0.7 1.2-0.2 1.1-1 1.2-0.6 1.2-1.2 1.1-0.2 1.2-1.2 1.2-0.1 1.1-0.7 1.2-0.5 1.2 0.4 1.1-0.2 1.2 0.4 1.2-0.7 1.1 0 1.2-1.1 1.2-0.6 1.1 0.2 1.2 0.8 1.2 1.3 1.1 0.7 1.2-0.1 1.2-1.7 1.1-0.1 1.2 0.9" fill="none" stroke="#2166cc" stroke-linejoin="round"/></defs><use href="#tr351" stroke-width="7.2" opacity="0.24"/>
<defs><path id="tr352" d="M518.5 404.3l1.2 1.5 1.1-0.4 1.2 0.8 1.2-0.6 1.1 0 1.2-0.7 1.2-0.2 1.1-1.7 1.2 0.8 1.2 0.9 1.1 0.3 1.2-0.6 1.2-1.8 1.1 1.7 1.2 0.5 1.2 0.3 1.1-2.7 1.2-0.2 1.2 1 1.1 1.2 1.2-1.8 1.2-2.3 1.1 0.3 1.2 1 1.2 1.8 1.1-0.6 1.2 0 1.2-1.6 1.1-1.4 1.2-2.2 1.2 0.1 1.1-0.1 1.2 0.9 1.2-0.6 1.1-1 1.2-0.7 1.2-1.2 1.1 0.6 1.2-0.4 1.2 0.3 1.1-0.1 1.2 0.7 1.2 0.3 1.1-0.2 1.2-0.4 1.2-0.2 1.1 0.2 1.2-0.9 1.2-0.2 1.1-0.5 1.2 0.6 1.2-1.1 1.1 0.1 1.2-1.1 1.2 1.2 1.1-1.4 1.2 0.4" fill="none" stroke="#33c1cf" stroke-linejoin="round"/></defs><use href="#tr352" stroke-width="8.2" opacity="0.24"/>
<defs><path id="tr353" d="M518.5 404.2l1.2 0.2 1.1 0.3 1.2 0.4 1.2-0.6 1.1 0 1.2 0.1 1.2-0.5 1.1-0.7 1.2-0.9 1.2 0.2 1.1-1.4 1.2 1 1.2-1.4 1.1 1.7 1.2 0.5 1.2 1.1 1.1 0 1.2-1.7 1.2 0.7 1.1 0 1.2 0.4 1.2-1.8 1.1-0.8 1.2-0.8 1.2 0.2 1.1 0.2 1.2-0.5 1.2-1.3 1.1-0.6 1.2 0.4 1.2 1.3 1.1-1.3 1.2-0.4 1.2-1.1 1.1 1.9 1.2-0.4 1.2-1.4 1.1-1.1 1.2 0.2 1.2 0.3 1.1-0.3 1.2-0.8 1.2-0.4 1.1 0.4 1.2 0.8 1.2 0.5 1.1-0.9 1.2-0.7 1.2 0.3 1.1-0.1 1.2-0.4 1.2 0 1.1 0.1 1.2-0.1 1.2 0.2 1.1-0.6 1.2 1.3" fill="none" stroke="#4fbf45" stroke-linejoin="round"/></defs><use href="#tr353" stroke-width="6.1" opacity="0.24"/>
<defs><path id="tr354" d="M518.5 405.2l1.2-0.5 1.1 0.5 1.2-2 1.2 1.1 1.1-1.5 1.2 1.2 1.2-1.5 1.1 0.7 1.2-0.7 1.2 1 1.1 0.9 1.2 0.2 1.2-0.5 1.1-1.5 1.2-0.9 1.2 0.6 1.1 1 1.2 0.7 1.2-0.2 1.1-0.9 1.2 0 1.2-0.1 1.1-0.8 1.2-0.1 1.2-1.7 1.1 0.3 1.2-0.9 1.2 1.1 1.1 0.3 1.2 0.8 1.2 0.1 1.1-0.9 1.2-0.6 1.2-0.1 1.1 0.9 1.2 0.3 1.2 0.2 1.1-0.7 1.2 0.2 1.2-1.8 1.1 0 1.2-0.8 1.2 0.3 1.1-0.8 1.2-0.8 1.2-0.7 1.1-0.5 1.2 0.3 1.2-0.4 1.1 0 1.2 0 1.2-0.2 1.1 0.7 1.2-0.8 1.2 0 1.1-0.9 1.2-0.1" fill="none" stroke="#d4d417" stroke-linejoin="round"/></defs><use href="#tr354" stroke-width="6.1" opacity="0.24"/>
<defs><path id="tr355" d="M518.5 404.2l1.2 0 1.1-0.1 1.2 1.1 1.2-0.2 1.1 0.5 1.2-2.4 1.2-0.1 1.1 0.1 1.2 0.7 1.2 0.3 1.1 0.2 1.2 0.4 1.2-0.6 1.1-1.6 1.2-0.9 1.2 0 1.1 0.6 1.2 0.3 1.2-0.8 1.1-0.2 1.2-0.8 1.2 0.9 1.1-0.3 1.2 0 1.2-1.1 1.1-0.4 1.2 0.6 1.2 1.2 1.1 0.2 1.2 0 1.2-1 1.1-1.4 1.2-0.3 1.2-1 1.1 0.8 1.2-0.1 1.2 0.2 1.1-0.6 1.2-0.2 1.2 0.5 1.1 0.5 1.2-1.3 1.2-0.5 1.1-0.7 1.2 0 1.2-0.5 1.1-0.2 1.2-0.7 1.2 0 1.1-0.1 1.2 1.2 1.2 0.1 1.1 0.1 1.2-1.3 1.2-0.2 1.1 0.6 1.2-0.2" fill="none" stroke="#e0782f" stroke-linejoin="round"/></defs><use href="#tr355" stroke-width="7.2" opacity="0.24"/>
<defs><path id="tr356" d="M518.5 405.6l1.2 1.2 1.1-1.9 1.2-0.1 1.2-0.3 1.1-0.4 1.2-0.5 1.2-0.3 1.1 0.4 1.2 0.3 1.2 0.7 1.1 0.3 1.2-1.4 1.2-1.2 1.1-0.6 1.2 1.5 1.2 0.8 1.1 0.2 1.2 0 1.2-0.5 1.1-0.6 1.2-0.6 1.2 0 1.1 0.2 1.2-2.1 1.2-0.9 1.1-0.9 1.2 0.8 1.2 0.9 1.1-0.2 1.2 0.2 1.2 0.2 1.1-0.1 1.2-0.4 1.2-1.4 1.1-0.1 1.2-0.3 1.2-0.4 1.1-0.7 1.2-0.2 1.2 0.3 1.1 0.5 1.2-0.8 1.2-0.1 1.1-0.3 1.2 0.6 1.2-0.4 1.1-0.5 1.2-0.1 1.2-0.2 1.1 1 1.2-0.3 1.2-0.4 1.1-1.4 1.2 0 1.2-0.1 1.1 0.6 1.2-0.9" fill="none" stroke="#dc1f1f" stroke-linejoin="round"/></defs><use href="#tr356" stroke-width="6.1" opacity="0.24"/>
<use href="#tr350" stroke-width="1.25"/>
<use href="#tr351" stroke-width="1.25"/>
<use href="#tr352" stroke-width="1.25"/>
<use href="#tr353" stroke-width="1.25"/>
<use href="#tr354" stroke-width="1.25"/>
<use href="#tr355" stroke-width="1.5"/>
<use href="#tr356" stroke-width="1.5"/>
</g>
<line x1="535.12" y1="375.70" x2="535.12" y2="413.00" stroke="#111" stroke-width="1.0" stroke-dasharray="3 2.4"/>
<line x1="518.50" y1="375.70" x2="518.50" y2="413.00" stroke="#3a3a3a" stroke-width="0.8" />
<line x1="518.50" y1="413.00" x2="585.00" y2="413.00" stroke="#3a3a3a" stroke-width="0.8" />
<line x1="518.50" y1="376.10" x2="519.90" y2="376.10" stroke="#3a3a3a" stroke-width="0.6" />
<text x="515.6" y="376.1" font-size="7.4" text-anchor="end" fill="#1a1a1a" stroke="#1a1a1a" stroke-width="0.1" dominant-baseline="central" >80</text>
<line x1="518.50" y1="382.15" x2="519.90" y2="382.15" stroke="#3a3a3a" stroke-width="0.6" />
<text x="515.6" y="382.2" font-size="7.4" text-anchor="end" fill="#1a1a1a" stroke="#1a1a1a" stroke-width="0.1" dominant-baseline="central" >60</text>
<line x1="518.50" y1="388.20" x2="519.90" y2="388.20" stroke="#3a3a3a" stroke-width="0.6" />
<text x="515.6" y="388.2" font-size="7.4" text-anchor="end" fill="#1a1a1a" stroke="#1a1a1a" stroke-width="0.1" dominant-baseline="central" >40</text>
<line x1="518.50" y1="394.25" x2="519.90" y2="394.25" stroke="#3a3a3a" stroke-width="0.6" />
<text x="515.6" y="394.2" font-size="7.4" text-anchor="end" fill="#1a1a1a" stroke="#1a1a1a" stroke-width="0.1" dominant-baseline="central" >20</text>
<line x1="518.50" y1="400.30" x2="519.90" y2="400.30" stroke="#3a3a3a" stroke-width="0.6" />
<text x="515.6" y="400.3" font-size="7.4" text-anchor="end" fill="#1a1a1a" stroke="#1a1a1a" stroke-width="0.1" dominant-baseline="central" >0</text>
<line x1="518.50" y1="406.35" x2="519.90" y2="406.35" stroke="#3a3a3a" stroke-width="0.6" />
<text x="515.6" y="406.4" font-size="7.4" text-anchor="end" fill="#1a1a1a" stroke="#1a1a1a" stroke-width="0.1" dominant-baseline="central" >-20</text>
<line x1="518.50" y1="412.40" x2="519.90" y2="412.40" stroke="#3a3a3a" stroke-width="0.6" />
<text x="515.6" y="412.4" font-size="7.4" text-anchor="end" fill="#1a1a1a" stroke="#1a1a1a" stroke-width="0.1" dominant-baseline="central" >-40</text>
<line x1="518.50" y1="413.00" x2="518.50" y2="411.60" stroke="#3a3a3a" stroke-width="0.6" />
<text x="518.5" y="420.0" font-size="7.4" text-anchor="middle" fill="#1a1a1a" stroke="#1a1a1a" stroke-width="0.1" dominant-baseline="central" >-0.5</text>
<line x1="535.12" y1="413.00" x2="535.12" y2="411.60" stroke="#3a3a3a" stroke-width="0.6" />
<text x="535.1" y="420.0" font-size="7.4" text-anchor="middle" fill="#1a1a1a" stroke="#1a1a1a" stroke-width="0.1" dominant-baseline="central" >0</text>
<line x1="551.75" y1="413.00" x2="551.75" y2="411.60" stroke="#3a3a3a" stroke-width="0.6" />
<text x="551.8" y="420.0" font-size="7.4" text-anchor="middle" fill="#1a1a1a" stroke="#1a1a1a" stroke-width="0.1" dominant-baseline="central" >0.5</text>
<line x1="568.38" y1="413.00" x2="568.38" y2="411.60" stroke="#3a3a3a" stroke-width="0.6" />
<text x="568.4" y="420.0" font-size="7.4" text-anchor="middle" fill="#1a1a1a" stroke="#1a1a1a" stroke-width="0.1" dominant-baseline="central" >1</text>
<line x1="585.00" y1="413.00" x2="585.00" y2="411.60" stroke="#3a3a3a" stroke-width="0.6" />
<text x="585.0" y="420.0" font-size="7.4" text-anchor="middle" fill="#1a1a1a" stroke="#1a1a1a" stroke-width="0.1" dominant-baseline="central" >1.5</text>
<text x="551.8" y="429.0" font-size="7.6" text-anchor="middle" fill="#222" stroke="#222" stroke-width="0.1" dominant-baseline="central" >Time (s)</text>
<clipPath id="clipD36"><rect x="606.70" y="375.70" width="67.00" height="37.30"/></clipPath>
<g clip-path="url(#clipD36)">
<defs><path id="tr360" d="M606.7 400.0l1.2 1.1 1.1 0.6 1.2 0.8 1.2-0.4 1.1-0.1 1.2-1.3 1.2 0.1 1.1 0.5 1.2 0.7 1.2 0.9 1.1-1.5 1.2 1.1 1.2-1.7 1.1 0.7 1.2-1.4 1.2 0.8 1.1 0.2 1.2 0.7 1.2-0.6 1.1 0.8 1.2 0.3 1.2 0.2 1.1-0.2 1.2-1 1.2 0.4 1.1-0.7 1.2 0.5 1.2-0.9 1.1-1.6 1.2-0.4 1.2 0.1 1.1 1.7 1.2-1.1 1.2-2.1 1.1-1.2 1.2-1.1 1.2 0.7 1.1-0.3 1.2-1 1.2-1.1 1.1 0.5 1.2 1.6 1.2 0.4 1.1-1.4 1.2-0.3 1.2 0.2 1.1 0.3 1.2 0.3 1.2-0.2 1.1 1.1 1.2-0.4 1.2 0.3 1.1-0.3 1.2 0.9 1.2 0.7 1.1 1.7 1.2-0.2" fill="none" stroke="#2b3a9e" stroke-linejoin="round"/></defs><use href="#tr360" stroke-width="8.2" opacity="0.24"/>
<defs><path id="tr361" d="M606.7 401.9l1.2-0.3 1.1-1.3 1.2 0.5 1.2 0.6 1.1 0.8 1.2 0.3 1.2-1.1 1.1-0.5 1.2 0.7 1.2 0.7 1.1 0.1 1.2 0.1 1.2 0 1.1 0.5 1.2 0.6 1.2-1.2 1.1-0.8 1.2-0.9 1.2 0.4 1.1 1.1 1.2-1.1 1.2 0.7 1.1-0.8 1.2 1.1 1.2-0.4 1.1-0.4 1.2-0.7 1.2 0.2 1.1-0.6 1.2-0.7 1.2-0.9 1.1-0.6 1.2 0.4 1.2-1.1 1.1 0.3 1.2-1.6 1.2 0.8 1.1-0.2 1.2 0.6 1.2-1.1 1.1-1.2 1.2 0.2 1.2 0.9 1.1 0.3 1.2-1.1 1.2-0.9 1.1 0.6 1.2-0.1 1.2 0.4 1.1-0.2 1.2 0.6 1.2 0.5 1.1 1.6 1.2 0.5 1.2-0.5 1.1-1.4 1.2 0" fill="none" stroke="#2166cc" stroke-linejoin="round"/></defs><use href="#tr361" stroke-width="7.2" opacity="0.24"/>
<defs><path id="tr362" d="M606.7 399.5l1.2-0.9 1.1 0.5 1.2-0.6 1.2 1.1 1.1-0.3 1.2 0 1.2-0.5 1.1-0.9 1.2 0.1 1.2-0.7 1.1 0.6 1.2-0.6 1.2 1.1 1.1 0.5 1.2 0.2 1.2 0.2 1.1-0.1 1.2 0.7 1.2-0.1 1.1 0.5 1.2 0.4 1.2 0.6 1.1 0.1 1.2 0.6 1.2 0.1 1.1 1.1 1.2-0.4 1.2 0.5 1.1-1.2 1.2-0.5 1.2-0.7 1.1-0.4 1.2-0.6 1.2-1.2 1.1-0.2 1.2-0.6 1.2-1.2 1.1-1.9 1.2-1.9 1.2 0.8 1.1-0.3 1.2 0.2 1.2-1.4 1.1-0.5 1.2-1.4 1.2-0.6 1.1-0.5 1.2 0.8 1.2 0.7 1.1 2.5 1.2 0.3 1.2-0.7 1.1 0.2 1.2 1.3 1.2 1.9 1.1-0.6 1.2 0.4" fill="none" stroke="#33c1cf" stroke-linejoin="round"/></defs><use href="#tr362" stroke-width="8.2" opacity="0.24"/>
<defs><path id="tr363" d="M606.7 398.9l1.2 1.7 1.1-0.4 1.2-0.4 1.2-0.8 1.1-0.2 1.2 1.9 1.2-1.8 1.1-0.1 1.2 0 1.2 3.2 1.1 0.5 1.2-0.6 1.2 0.2 1.1 0.5 1.2 0.2 1.2 0.2 1.1-0.1 1.2 1.3 1.2-0.6 1.1-0.3 1.2-1.6 1.2-1.4 1.1 0.6 1.2 0.3 1.2 1.6 1.1 0.4 1.2-0.2 1.2-0.9 1.1-0.4 1.2 1.2 1.2-0.2 1.1-2.1 1.2-0.1 1.2 0.3 1.1 0.4 1.2-0.3 1.2-0.4 1.1 0.4 1.2-1.9 1.2-0.5 1.1-1.2 1.2 0.6 1.2-0.1 1.1 0.7 1.2-0.4 1.2 0.7 1.1 0.7 1.2 0.2 1.2-1.1 1.1 0 1.2 0.2 1.2 0.5 1.1-1 1.2-0.3 1.2-0.8 1.1-0.2 1.2 0.2" fill="none" stroke="#4fbf45" stroke-linejoin="round"/></defs><use href="#tr363" stroke-width="6.1" opacity="0.24"/>
<defs><path id="tr364" d="M606.7 402.7l1.2-0.6 1.1-0.1 1.2 1.1 1.2 0.3 1.1-0.3 1.2-0.9 1.2 0.1 1.1-0.3 1.2-0.5 1.2 0.6 1.1 1.6 1.2 0.9 1.2 0 1.1-1 1.2-0.4 1.2 0 1.1-0.9 1.2 0.6 1.2 0 1.1 1 1.2-1.6 1.2 0.5 1.1 0.4 1.2 1.5 1.2-1.1 1.1-0.6 1.2-0.1 1.2 1.2 1.1 1.2 1.2-0.1 1.2-0.8 1.1-2.3 1.2-0.5 1.2-0.4 1.1 0.3 1.2 0.6 1.2 0.9 1.1 0.7 1.2-1.5 1.2-1.4 1.1 0.1 1.2 1.5 1.2-0.1 1.1-1.1 1.2-0.1 1.2-0.5 1.1 1 1.2-1.2 1.2 0.9 1.1-0.4 1.2 0.7 1.2-0.6 1.1-0.7 1.2-0.9 1.2 0.4 1.1 0.8 1.2-0.9" fill="none" stroke="#d4d417" stroke-linejoin="round"/></defs><use href="#tr364" stroke-width="6.1" opacity="0.24"/>
<defs><path id="tr365" d="M606.7 398.6l1.2 0.2 1.1-0.1 1.2-0.5 1.2 0.5 1.1 0.1 1.2 0.1 1.2-0.5 1.1 1.4 1.2-0.1 1.2 1.9 1.1-1 1.2 0.7 1.2-0.6 1.1 1.6 1.2-0.4 1.2-1 1.1-1.1 1.2 0 1.2 1.1 1.1-0.3 1.2 0.9 1.2 0 1.1 0.1 1.2-1.1 1.2-0.2 1.1 0.6 1.2 2.5 1.2-0.4 1.1-0.8 1.2-1.9 1.2 1.2 1.1-1.3 1.2-0.8 1.2-0.5 1.1 1.6 1.2 0.3 1.2-0.8 1.1-0.7 1.2-0.3 1.2 0.5 1.1 0 1.2 1.2 1.2 0 1.1 0.1 1.2-0.8 1.2 0.2 1.1-0.3 1.2 0.2 1.2-0.2 1.1 0.9 1.2-1.8 1.2 0.2 1.1-0.1 1.2 1.5 1.2-0.3 1.1-0.2 1.2 1" fill="none" stroke="#e0782f" stroke-linejoin="round"/></defs><use href="#tr365" stroke-width="7.2" opacity="0.24"/>
<defs><path id="tr366" d="M606.7 397.4l1.2 0.7 1.1 1.2 1.2 0.7 1.2 0.1 1.1-1.1 1.2-0.6 1.2 0.1 1.1 2.1 1.2-0.3 1.2-0.6 1.1-1.9 1.2-0.1 1.2 0.4 1.1 1.4 1.2 1.1 1.2 1.6 1.1-0.8 1.2 0.3 1.2 1.1 1.1 0.3 1.2 0.3 1.2-1.3 1.1-0.4 1.2 0.9 1.2 1.3 1.1 0.4 1.2-2 1.2-1.3 1.1 0.1 1.2 0.2 1.2-0.4 1.1 0.7 1.2-0.2 1.2-0.5 1.1-0.8 1.2 0.7 1.2 0.6 1.1-0.2 1.2-1.1 1.2-1.1 1.1-0.6 1.2 0.3 1.2 1.2 1.1 0.1 1.2 0.2 1.2-0.9 1.1-0.7 1.2-0.9 1.2-2.6 1.1 0.5 1.2 0.2 1.2 2.5 1.1-0.6 1.2-0.3 1.2-1.5 1.1 0.8 1.2-0.9" fill="none" stroke="#dc1f1f" stroke-linejoin="round"/></defs><use href="#tr366" stroke-width="6.1" opacity="0.24"/>
<use href="#tr360" stroke-width="1.25"/>
<use href="#tr361" stroke-width="1.25"/>
<use href="#tr362" stroke-width="1.25"/>
<use href="#tr363" stroke-width="1.25"/>
<use href="#tr364" stroke-width="1.25"/>
<use href="#tr365" stroke-width="1.5"/>
<use href="#tr366" stroke-width="1.5"/>
</g>
<line x1="623.33" y1="375.70" x2="623.33" y2="413.00" stroke="#111" stroke-width="1.0" stroke-dasharray="3 2.4"/>
<line x1="606.70" y1="375.70" x2="606.70" y2="413.00" stroke="#3a3a3a" stroke-width="0.8" />
<line x1="606.70" y1="413.00" x2="673.20" y2="413.00" stroke="#3a3a3a" stroke-width="0.8" />
<line x1="606.70" y1="376.10" x2="608.10" y2="376.10" stroke="#3a3a3a" stroke-width="0.6" />
<text x="603.8" y="376.1" font-size="7.4" text-anchor="end" fill="#1a1a1a" stroke="#1a1a1a" stroke-width="0.1" dominant-baseline="central" >80</text>
<line x1="606.70" y1="382.15" x2="608.10" y2="382.15" stroke="#3a3a3a" stroke-width="0.6" />
<text x="603.8" y="382.2" font-size="7.4" text-anchor="end" fill="#1a1a1a" stroke="#1a1a1a" stroke-width="0.1" dominant-baseline="central" >60</text>
<line x1="606.70" y1="388.20" x2="608.10" y2="388.20" stroke="#3a3a3a" stroke-width="0.6" />
<text x="603.8" y="388.2" font-size="7.4" text-anchor="end" fill="#1a1a1a" stroke="#1a1a1a" stroke-width="0.1" dominant-baseline="central" >40</text>
<line x1="606.70" y1="394.25" x2="608.10" y2="394.25" stroke="#3a3a3a" stroke-width="0.6" />
<text x="603.8" y="394.2" font-size="7.4" text-anchor="end" fill="#1a1a1a" stroke="#1a1a1a" stroke-width="0.1" dominant-baseline="central" >20</text>
<line x1="606.70" y1="400.30" x2="608.10" y2="400.30" stroke="#3a3a3a" stroke-width="0.6" />
<text x="603.8" y="400.3" font-size="7.4" text-anchor="end" fill="#1a1a1a" stroke="#1a1a1a" stroke-width="0.1" dominant-baseline="central" >0</text>
<line x1="606.70" y1="406.35" x2="608.10" y2="406.35" stroke="#3a3a3a" stroke-width="0.6" />
<text x="603.8" y="406.4" font-size="7.4" text-anchor="end" fill="#1a1a1a" stroke="#1a1a1a" stroke-width="0.1" dominant-baseline="central" >-20</text>
<line x1="606.70" y1="412.40" x2="608.10" y2="412.40" stroke="#3a3a3a" stroke-width="0.6" />
<text x="603.8" y="412.4" font-size="7.4" text-anchor="end" fill="#1a1a1a" stroke="#1a1a1a" stroke-width="0.1" dominant-baseline="central" >-40</text>
<line x1="606.70" y1="413.00" x2="606.70" y2="411.60" stroke="#3a3a3a" stroke-width="0.6" />
<text x="606.7" y="420.0" font-size="7.4" text-anchor="middle" fill="#1a1a1a" stroke="#1a1a1a" stroke-width="0.1" dominant-baseline="central" >-0.5</text>
<line x1="623.33" y1="413.00" x2="623.33" y2="411.60" stroke="#3a3a3a" stroke-width="0.6" />
<text x="623.3" y="420.0" font-size="7.4" text-anchor="middle" fill="#1a1a1a" stroke="#1a1a1a" stroke-width="0.1" dominant-baseline="central" >0</text>
<line x1="639.95" y1="413.00" x2="639.95" y2="411.60" stroke="#3a3a3a" stroke-width="0.6" />
<text x="640.0" y="420.0" font-size="7.4" text-anchor="middle" fill="#1a1a1a" stroke="#1a1a1a" stroke-width="0.1" dominant-baseline="central" >0.5</text>
<line x1="656.58" y1="413.00" x2="656.58" y2="411.60" stroke="#3a3a3a" stroke-width="0.6" />
<text x="656.6" y="420.0" font-size="7.4" text-anchor="middle" fill="#1a1a1a" stroke="#1a1a1a" stroke-width="0.1" dominant-baseline="central" >1</text>
<line x1="673.20" y1="413.00" x2="673.20" y2="411.60" stroke="#3a3a3a" stroke-width="0.6" />
<text x="673.2" y="420.0" font-size="7.4" text-anchor="middle" fill="#1a1a1a" stroke="#1a1a1a" stroke-width="0.1" dominant-baseline="central" >1.5</text>
<text x="640.0" y="429.0" font-size="7.6" text-anchor="middle" fill="#222" stroke="#222" stroke-width="0.1" dominant-baseline="central" >Time (s)</text>
<text x="58.8" y="394.4" font-size="7.6" text-anchor="middle" fill="#222" stroke="#222" stroke-width="0.1" transform="rotate(-90 58.8 394.4)" dominant-baseline="central" >Rate (ΔHz)</text>
<text x="105.2" y="209.9" font-size="7.5" text-anchor="middle" fill="#1a1a1a" stroke="#1a1a1a" stroke-width="0.1" dominant-baseline="central" >Attempted Vocalized Speech</text>
<text x="203.0" y="209.9" font-size="7.5" text-anchor="middle" fill="#1a1a1a" stroke="#1a1a1a" stroke-width="0.1" dominant-baseline="central" >Attempted Mimed Speech</text>
<text x="287.6" y="209.9" font-size="7.5" text-anchor="middle" fill="#1a1a1a" stroke="#1a1a1a" stroke-width="0.1" dominant-baseline="central" >Motoric Inner Speech</text>
<text x="379.0" y="209.7" font-size="7.5" text-anchor="middle" fill="#1a1a1a" stroke="#1a1a1a" stroke-width="0.1" dominant-baseline="central" >Auditory Inner Speech</text>
<text x="377.2" y="219.0" font-size="7.5" text-anchor="middle" fill="#1a1a1a" stroke="#1a1a1a" stroke-width="0.1" dominant-baseline="central" >(1st Person)</text>
<text x="471.3" y="209.7" font-size="7.5" text-anchor="middle" fill="#1a1a1a" stroke="#1a1a1a" stroke-width="0.1" dominant-baseline="central" >Auditory Inner Speech</text>
<text x="469.2" y="219.0" font-size="7.5" text-anchor="middle" fill="#1a1a1a" stroke="#1a1a1a" stroke-width="0.1" dominant-baseline="central" >(3rd Person)</text>
<text x="551.3" y="209.9" font-size="7.5" text-anchor="middle" fill="#1a1a1a" stroke="#1a1a1a" stroke-width="0.1" dominant-baseline="central" >Listening</text>
<text x="638.8" y="209.9" font-size="7.5" text-anchor="middle" fill="#1a1a1a" stroke="#1a1a1a" stroke-width="0.1" dominant-baseline="central" >Silent Reading</text>
<line x1="695.80" y1="272.90" x2="718.40" y2="272.90" stroke="#2b3a9e" stroke-width="1.6" />
<text x="724.1" y="272.9" font-size="6.3" text-anchor="start" fill="#222" stroke="#222" stroke-width="0.1" dominant-baseline="central" >ban</text>
<line x1="695.80" y1="283.30" x2="718.40" y2="283.30" stroke="#2166cc" stroke-width="1.6" />
<text x="724.1" y="283.3" font-size="6.3" text-anchor="start" fill="#222" stroke="#222" stroke-width="0.1" dominant-baseline="central" >choice</text>
<line x1="695.80" y1="293.70" x2="718.40" y2="293.70" stroke="#33c1cf" stroke-width="1.6" />
<text x="724.1" y="293.7" font-size="6.3" text-anchor="start" fill="#222" stroke="#222" stroke-width="0.1" dominant-baseline="central" >day</text>
<line x1="695.80" y1="304.10" x2="718.40" y2="304.10" stroke="#4fbf45" stroke-width="1.6" />
<text x="724.1" y="304.1" font-size="6.3" text-anchor="start" fill="#222" stroke="#222" stroke-width="0.1" dominant-baseline="central" >feel</text>
<line x1="695.80" y1="314.50" x2="718.40" y2="314.50" stroke="#d4d417" stroke-width="1.6" />
<text x="724.1" y="314.5" font-size="6.3" text-anchor="start" fill="#222" stroke="#222" stroke-width="0.1" dominant-baseline="central" >kite</text>
<line x1="695.80" y1="324.90" x2="718.40" y2="324.90" stroke="#e0782f" stroke-width="1.6" />
<text x="724.1" y="324.9" font-size="6.3" text-anchor="start" fill="#222" stroke="#222" stroke-width="0.1" dominant-baseline="central" >though</text>
<line x1="695.80" y1="335.30" x2="718.40" y2="335.30" stroke="#dc1f1f" stroke-width="1.6" />
<text x="724.1" y="335.3" font-size="6.3" text-anchor="start" fill="#222" stroke="#222" stroke-width="0.1" dominant-baseline="central" >were</text>
<rect x="58.00" y="485.20" width="41.06" height="16.51" fill="#3686c0" />
<rect x="98.06" y="485.20" width="41.06" height="16.51" fill="#2474b6" />
<rect x="138.11" y="485.20" width="41.06" height="16.51" fill="#d8e7f5" />
<rect x="178.17" y="485.20" width="41.06" height="16.51" fill="#f1f7fd" />
<rect x="218.23" y="485.20" width="41.06" height="16.51" fill="#bdd7ec" />
<rect x="258.29" y="485.20" width="41.06" height="16.51" fill="#4191c5" />
<rect x="298.34" y="485.20" width="40.06" height="16.51" fill="#ebf3fb" />
<text x="75.8" y="493.0" font-size="7.8" text-anchor="middle" fill="#1a1a1a" stroke="#1a1a1a" stroke-width="0.1" dominant-baseline="central" >72.1</text>
<text x="115.9" y="493.0" font-size="7.8" text-anchor="middle" fill="#1a1a1a" stroke="#1a1a1a" stroke-width="0.1" dominant-baseline="central" >77.9</text>
<text x="155.9" y="493.0" font-size="7.8" text-anchor="middle" fill="#1a1a1a" stroke="#1a1a1a" stroke-width="0.1" dominant-baseline="central" >28.1</text>
<text x="196.0" y="493.0" font-size="7.8" text-anchor="middle" fill="#1a1a1a" stroke="#1a1a1a" stroke-width="0.1" dominant-baseline="central" >17.6</text>
<text x="213.2" y="493.0" font-size="7.6" text-anchor="middle" fill="#e8262a" stroke="#e8262a" stroke-width="0.1" dominant-baseline="central" >X</text>
<text x="236.1" y="493.0" font-size="7.8" text-anchor="middle" fill="#1a1a1a" stroke="#1a1a1a" stroke-width="0.1" dominant-baseline="central" >38.6</text>
<text x="276.1" y="493.0" font-size="7.8" text-anchor="middle" fill="#1a1a1a" stroke="#1a1a1a" stroke-width="0.1" dominant-baseline="central" >68.6</text>
<text x="316.2" y="493.0" font-size="7.8" text-anchor="middle" fill="#1a1a1a" stroke="#1a1a1a" stroke-width="0.1" dominant-baseline="central" >20.0</text>
<text x="333.4" y="493.0" font-size="7.6" text-anchor="middle" fill="#e8262a" stroke="#e8262a" stroke-width="0.1" dominant-baseline="central" >X</text>
<text x="56.4" y="493.0" font-size="7.8" text-anchor="end" fill="#6a4fb0" stroke="#6a4fb0" stroke-width="0.1" dominant-baseline="central" >T15-55b</text>
<line x1="58.00" y1="492.96" x2="59.60" y2="492.96" stroke="#333" stroke-width="0.6" />
<line x1="336.80" y1="492.96" x2="338.40" y2="492.96" stroke="#333" stroke-width="0.6" />
<rect x="58.00" y="500.71" width="41.06" height="16.51" fill="#88bedc" />
<rect x="98.06" y="500.71" width="41.06" height="16.51" fill="#b8d5ea" />
<rect x="138.11" y="500.71" width="41.06" height="16.51" fill="#f1f7fd" />
<rect x="178.17" y="500.71" width="41.06" height="16.51" fill="#f7fbff" />
<rect x="218.23" y="500.71" width="41.06" height="16.51" fill="#f7fbff" />
<rect x="258.29" y="500.71" width="41.06" height="16.51" fill="#f7fbff" />
<rect x="298.34" y="500.71" width="40.06" height="16.51" fill="#f7fbff" />
<text x="75.8" y="508.5" font-size="7.8" text-anchor="middle" fill="#1a1a1a" stroke="#1a1a1a" stroke-width="0.1" dominant-baseline="central" >51.4</text>
<text x="115.9" y="508.5" font-size="7.8" text-anchor="middle" fill="#1a1a1a" stroke="#1a1a1a" stroke-width="0.1" dominant-baseline="central" >40.0</text>
<text x="155.9" y="508.5" font-size="7.8" text-anchor="middle" fill="#1a1a1a" stroke="#1a1a1a" stroke-width="0.1" dominant-baseline="central" >17.6</text>
<text x="173.1" y="508.5" font-size="7.6" text-anchor="middle" fill="#e8262a" stroke="#e8262a" stroke-width="0.1" dominant-baseline="central" >X</text>
<text x="196.0" y="508.5" font-size="7.8" text-anchor="middle" fill="#1a1a1a" stroke="#1a1a1a" stroke-width="0.1" dominant-baseline="central" >11.0</text>
<text x="213.2" y="508.5" font-size="7.6" text-anchor="middle" fill="#e8262a" stroke="#e8262a" stroke-width="0.1" dominant-baseline="central" >X</text>
<text x="236.1" y="508.5" font-size="7.8" text-anchor="middle" fill="#1a1a1a" stroke="#1a1a1a" stroke-width="0.1" dominant-baseline="central" >13.8</text>
<text x="253.3" y="508.5" font-size="7.6" text-anchor="middle" fill="#e8262a" stroke="#e8262a" stroke-width="0.1" dominant-baseline="central" >X</text>
<text x="276.1" y="508.5" font-size="7.8" text-anchor="middle" fill="#1a1a1a" stroke="#1a1a1a" stroke-width="0.1" dominant-baseline="central" >10.7</text>
<text x="293.3" y="508.5" font-size="7.6" text-anchor="middle" fill="#e8262a" stroke="#e8262a" stroke-width="0.1" dominant-baseline="central" >X</text>
<text x="316.2" y="508.5" font-size="7.8" text-anchor="middle" fill="#1a1a1a" stroke="#1a1a1a" stroke-width="0.1" dominant-baseline="central" >10.7</text>
<text x="333.4" y="508.5" font-size="7.6" text-anchor="middle" fill="#e8262a" stroke="#e8262a" stroke-width="0.1" dominant-baseline="central" >X</text>
<text x="56.4" y="508.5" font-size="7.8" text-anchor="end" fill="#35b3c4" stroke="#35b3c4" stroke-width="0.1" dominant-baseline="central" >T15-s6v</text>
<line x1="58.00" y1="508.47" x2="59.60" y2="508.47" stroke="#333" stroke-width="0.6" />
<line x1="336.80" y1="508.47" x2="338.40" y2="508.47" stroke="#333" stroke-width="0.6" />
<rect x="58.00" y="516.22" width="41.06" height="16.51" fill="#a0cbe2" />
<rect x="98.06" y="516.22" width="41.06" height="16.51" fill="#dfecf7" />
<rect x="138.11" y="516.22" width="41.06" height="16.51" fill="#f7fbff" />
<rect x="178.17" y="516.22" width="41.06" height="16.51" fill="#eff6fc" />
<rect x="218.23" y="516.22" width="41.06" height="16.51" fill="#f7fbff" />
<rect x="258.29" y="516.22" width="41.06" height="16.51" fill="#eff6fc" />
<rect x="298.34" y="516.22" width="40.06" height="16.51" fill="#f2f8fd" />
<text x="75.8" y="524.0" font-size="7.8" text-anchor="middle" fill="#1a1a1a" stroke="#1a1a1a" stroke-width="0.1" dominant-baseline="central" >46.4</text>
<text x="115.9" y="524.0" font-size="7.8" text-anchor="middle" fill="#1a1a1a" stroke="#1a1a1a" stroke-width="0.1" dominant-baseline="central" >25.0</text>
<text x="155.9" y="524.0" font-size="7.8" text-anchor="middle" fill="#1a1a1a" stroke="#1a1a1a" stroke-width="0.1" dominant-baseline="central" >14.2</text>
<text x="173.1" y="524.0" font-size="7.6" text-anchor="middle" fill="#e8262a" stroke="#e8262a" stroke-width="0.1" dominant-baseline="central" >X</text>
<text x="196.0" y="524.0" font-size="7.8" text-anchor="middle" fill="#1a1a1a" stroke="#1a1a1a" stroke-width="0.1" dominant-baseline="central" >18.4</text>
<text x="213.2" y="524.0" font-size="7.6" text-anchor="middle" fill="#e8262a" stroke="#e8262a" stroke-width="0.1" dominant-baseline="central" >X</text>
<text x="236.1" y="524.0" font-size="7.8" text-anchor="middle" fill="#1a1a1a" stroke="#1a1a1a" stroke-width="0.1" dominant-baseline="central" >14.2</text>
<text x="253.3" y="524.0" font-size="7.6" text-anchor="middle" fill="#e8262a" stroke="#e8262a" stroke-width="0.1" dominant-baseline="central" >X</text>
<text x="276.1" y="524.0" font-size="7.8" text-anchor="middle" fill="#1a1a1a" stroke="#1a1a1a" stroke-width="0.1" dominant-baseline="central" >18.6</text>
<text x="293.3" y="524.0" font-size="7.6" text-anchor="middle" fill="#e8262a" stroke="#e8262a" stroke-width="0.1" dominant-baseline="central" >X</text>
<text x="316.2" y="524.0" font-size="7.8" text-anchor="middle" fill="#1a1a1a" stroke="#1a1a1a" stroke-width="0.1" dominant-baseline="central" >17.1</text>
<text x="333.4" y="524.0" font-size="7.6" text-anchor="middle" fill="#e8262a" stroke="#e8262a" stroke-width="0.1" dominant-baseline="central" >X</text>
<text x="56.4" y="524.0" font-size="7.8" text-anchor="end" fill="#35b3c4" stroke="#35b3c4" stroke-width="0.1" dominant-baseline="central" >T12-s6v</text>
<line x1="58.00" y1="523.98" x2="59.60" y2="523.98" stroke="#333" stroke-width="0.6" />
<line x1="336.80" y1="523.98" x2="338.40" y2="523.98" stroke="#333" stroke-width="0.6" />
<rect x="58.00" y="531.73" width="41.06" height="16.51" fill="#56a0ce" />
<rect x="98.06" y="531.73" width="41.06" height="16.51" fill="#b0d2e7" />
<rect x="138.11" y="531.73" width="41.06" height="16.51" fill="#e1edf8" />
<rect x="178.17" y="531.73" width="41.06" height="16.51" fill="#deebf7" />
<rect x="218.23" y="531.73" width="41.06" height="16.51" fill="#d9e8f5" />
<rect x="258.29" y="531.73" width="41.06" height="16.51" fill="#f4f9fe" />
<rect x="298.34" y="531.73" width="40.06" height="16.51" fill="#f2f8fd" />
<text x="75.8" y="539.5" font-size="7.8" text-anchor="middle" fill="#1a1a1a" stroke="#1a1a1a" stroke-width="0.1" dominant-baseline="central" >62.9</text>
<text x="115.9" y="539.5" font-size="7.8" text-anchor="middle" fill="#1a1a1a" stroke="#1a1a1a" stroke-width="0.1" dominant-baseline="central" >42.1</text>
<text x="155.9" y="539.5" font-size="7.8" text-anchor="middle" fill="#1a1a1a" stroke="#1a1a1a" stroke-width="0.1" dominant-baseline="central" >24.3</text>
<text x="196.0" y="539.5" font-size="7.8" text-anchor="middle" fill="#1a1a1a" stroke="#1a1a1a" stroke-width="0.1" dominant-baseline="central" >25.7</text>
<text x="236.1" y="539.5" font-size="7.8" text-anchor="middle" fill="#1a1a1a" stroke="#1a1a1a" stroke-width="0.1" dominant-baseline="central" >27.9</text>
<text x="276.1" y="539.5" font-size="7.8" text-anchor="middle" fill="#1a1a1a" stroke="#1a1a1a" stroke-width="0.1" dominant-baseline="central" >16.4</text>
<text x="293.3" y="539.5" font-size="7.6" text-anchor="middle" fill="#e8262a" stroke="#e8262a" stroke-width="0.1" dominant-baseline="central" >X</text>
<text x="316.2" y="539.5" font-size="7.8" text-anchor="middle" fill="#1a1a1a" stroke="#1a1a1a" stroke-width="0.1" dominant-baseline="central" >17.1</text>
<text x="333.4" y="539.5" font-size="7.6" text-anchor="middle" fill="#e8262a" stroke="#e8262a" stroke-width="0.1" dominant-baseline="central" >X</text>
<text x="56.4" y="539.5" font-size="7.8" text-anchor="end" fill="#35b3c4" stroke="#35b3c4" stroke-width="0.1" dominant-baseline="central" >T17-s6v-B</text>
<line x1="58.00" y1="539.49" x2="59.60" y2="539.49" stroke="#333" stroke-width="0.6" />
<line x1="336.80" y1="539.49" x2="338.40" y2="539.49" stroke="#333" stroke-width="0.6" />
<rect x="58.00" y="547.24" width="41.06" height="16.51" fill="#3888c1" />
<rect x="98.06" y="547.24" width="41.06" height="16.51" fill="#a2cce3" />
<rect x="138.11" y="547.24" width="41.06" height="16.51" fill="#ebf3fb" />
<rect x="178.17" y="547.24" width="41.06" height="16.51" fill="#c3daee" />
<rect x="218.23" y="547.24" width="41.06" height="16.51" fill="#e4eff9" />
<rect x="258.29" y="547.24" width="41.06" height="16.51" fill="#d6e5f4" />
<rect x="298.34" y="547.24" width="40.06" height="16.51" fill="#edf5fc" />
<text x="75.8" y="555.0" font-size="7.8" text-anchor="middle" fill="#1a1a1a" stroke="#1a1a1a" stroke-width="0.1" dominant-baseline="central" >71.4</text>
<text x="115.9" y="555.0" font-size="7.8" text-anchor="middle" fill="#1a1a1a" stroke="#1a1a1a" stroke-width="0.1" dominant-baseline="central" >45.7</text>
<text x="155.9" y="555.0" font-size="7.8" text-anchor="middle" fill="#1a1a1a" stroke="#1a1a1a" stroke-width="0.1" dominant-baseline="central" >20.0</text>
<text x="173.1" y="555.0" font-size="7.6" text-anchor="middle" fill="#e8262a" stroke="#e8262a" stroke-width="0.1" dominant-baseline="central" >X</text>
<text x="196.0" y="555.0" font-size="7.8" text-anchor="middle" fill="#1a1a1a" stroke="#1a1a1a" stroke-width="0.1" dominant-baseline="central" >37.1</text>
<text x="236.1" y="555.0" font-size="7.8" text-anchor="middle" fill="#1a1a1a" stroke="#1a1a1a" stroke-width="0.1" dominant-baseline="central" >22.9</text>
<text x="276.1" y="555.0" font-size="7.8" text-anchor="middle" fill="#1a1a1a" stroke="#1a1a1a" stroke-width="0.1" dominant-baseline="central" >29.3</text>
<text x="316.2" y="555.0" font-size="7.8" text-anchor="middle" fill="#1a1a1a" stroke="#1a1a1a" stroke-width="0.1" dominant-baseline="central" >19.3</text>
<text x="333.4" y="555.0" font-size="7.6" text-anchor="middle" fill="#e8262a" stroke="#e8262a" stroke-width="0.1" dominant-baseline="central" >X</text>
<text x="56.4" y="555.0" font-size="7.8" text-anchor="end" fill="#35b3c4" stroke="#35b3c4" stroke-width="0.1" dominant-baseline="central" >T17-s6v-A</text>
<line x1="58.00" y1="555.00" x2="59.60" y2="555.00" stroke="#333" stroke-width="0.6" />
<line x1="336.80" y1="555.00" x2="338.40" y2="555.00" stroke="#333" stroke-width="0.6" />
<rect x="58.00" y="562.76" width="41.06" height="16.51" fill="#3e8ec4" />
<rect x="98.06" y="562.76" width="41.06" height="16.51" fill="#5ca4d0" />
<rect x="138.11" y="562.76" width="41.06" height="16.51" fill="#eef5fc" />
<rect x="178.17" y="562.76" width="41.06" height="16.51" fill="#f4f9fe" />
<rect x="218.23" y="562.76" width="41.06" height="16.51" fill="#ddeaf7" />
<rect x="258.29" y="562.76" width="41.06" height="16.51" fill="#cadef0" />
<rect x="298.34" y="562.76" width="40.06" height="16.51" fill="#deebf7" />
<text x="75.8" y="570.5" font-size="7.8" text-anchor="middle" fill="#1a1a1a" stroke="#1a1a1a" stroke-width="0.1" dominant-baseline="central" >69.3</text>
<text x="115.9" y="570.5" font-size="7.8" text-anchor="middle" fill="#1a1a1a" stroke="#1a1a1a" stroke-width="0.1" dominant-baseline="central" >61.4</text>
<text x="155.9" y="570.5" font-size="7.8" text-anchor="middle" fill="#1a1a1a" stroke="#1a1a1a" stroke-width="0.1" dominant-baseline="central" >19.0</text>
<text x="173.1" y="570.5" font-size="7.6" text-anchor="middle" fill="#e8262a" stroke="#e8262a" stroke-width="0.1" dominant-baseline="central" >X</text>
<text x="196.0" y="570.5" font-size="7.8" text-anchor="middle" fill="#1a1a1a" stroke="#1a1a1a" stroke-width="0.1" dominant-baseline="central" >16.2</text>
<text x="213.2" y="570.5" font-size="7.6" text-anchor="middle" fill="#e8262a" stroke="#e8262a" stroke-width="0.1" dominant-baseline="central" >X</text>
<text x="236.1" y="570.5" font-size="7.8" text-anchor="middle" fill="#1a1a1a" stroke="#1a1a1a" stroke-width="0.1" dominant-baseline="central" >26.2</text>
<text x="276.1" y="570.5" font-size="7.8" text-anchor="middle" fill="#1a1a1a" stroke="#1a1a1a" stroke-width="0.1" dominant-baseline="central" >34.3</text>
<text x="316.2" y="570.5" font-size="7.8" text-anchor="middle" fill="#1a1a1a" stroke="#1a1a1a" stroke-width="0.1" dominant-baseline="central" >25.7</text>
<text x="56.4" y="570.5" font-size="7.8" text-anchor="end" fill="#5aac3c" stroke="#5aac3c" stroke-width="0.1" dominant-baseline="central" >T15-4</text>
<line x1="58.00" y1="570.51" x2="59.60" y2="570.51" stroke="#333" stroke-width="0.6" />
<line x1="336.80" y1="570.51" x2="338.40" y2="570.51" stroke="#333" stroke-width="0.6" />
<rect x="58.00" y="578.27" width="41.06" height="16.51" fill="#135da6" />
<rect x="98.06" y="578.27" width="41.06" height="16.51" fill="#2676b8" />
<rect x="138.11" y="578.27" width="41.06" height="16.51" fill="#ccdff1" />
<rect x="178.17" y="578.27" width="41.06" height="16.51" fill="#dce9f6" />
<rect x="218.23" y="578.27" width="41.06" height="16.51" fill="#a6cde4" />
<rect x="258.29" y="578.27" width="41.06" height="16.51" fill="#1d6bb1" />
<rect x="298.34" y="578.27" width="40.06" height="16.51" fill="#d1e2f3" />
<text x="75.8" y="586.0" font-size="7.8" text-anchor="middle" fill="#fff" stroke="#fff" stroke-width="0.1" dominant-baseline="central" >85.7</text>
<text x="115.9" y="586.0" font-size="7.8" text-anchor="middle" fill="#1a1a1a" stroke="#1a1a1a" stroke-width="0.1" dominant-baseline="central" >77.1</text>
<text x="155.9" y="586.0" font-size="7.8" text-anchor="middle" fill="#1a1a1a" stroke="#1a1a1a" stroke-width="0.1" dominant-baseline="central" >33.8</text>
<text x="196.0" y="586.0" font-size="7.8" text-anchor="middle" fill="#1a1a1a" stroke="#1a1a1a" stroke-width="0.1" dominant-baseline="central" >26.7</text>
<text x="236.1" y="586.0" font-size="7.8" text-anchor="middle" fill="#1a1a1a" stroke="#1a1a1a" stroke-width="0.1" dominant-baseline="central" >44.8</text>
<text x="276.1" y="586.0" font-size="7.8" text-anchor="middle" fill="#fff" stroke="#fff" stroke-width="0.1" dominant-baseline="central" >80.7</text>
<text x="316.2" y="586.0" font-size="7.8" text-anchor="middle" fill="#1a1a1a" stroke="#1a1a1a" stroke-width="0.1" dominant-baseline="central" >31.4</text>
<text x="56.4" y="586.0" font-size="7.8" text-anchor="end" fill="#d43a3a" stroke="#d43a3a" stroke-width="0.1" dominant-baseline="central" >T15-i6v</text>
<line x1="58.00" y1="586.02" x2="59.60" y2="586.02" stroke="#333" stroke-width="0.6" />
<line x1="336.80" y1="586.02" x2="338.40" y2="586.02" stroke="#333" stroke-width="0.6" />
<rect x="58.00" y="593.78" width="41.06" height="16.51" fill="#243a7e" />
<rect x="98.06" y="593.78" width="41.06" height="16.51" fill="#135da6" />
<rect x="138.11" y="593.78" width="41.06" height="16.51" fill="#3484bf" />
<rect x="178.17" y="593.78" width="41.06" height="16.51" fill="#3484bf" />
<rect x="218.23" y="593.78" width="41.06" height="16.51" fill="#3282be" />
<rect x="258.29" y="593.78" width="41.06" height="16.51" fill="#67abd4" />
<rect x="298.34" y="593.78" width="40.06" height="16.51" fill="#519ccc" />
<text x="75.8" y="601.5" font-size="7.8" text-anchor="middle" fill="#fff" stroke="#fff" stroke-width="0.1" dominant-baseline="central" >97.9</text>
<text x="115.9" y="601.5" font-size="7.8" text-anchor="middle" fill="#fff" stroke="#fff" stroke-width="0.1" dominant-baseline="central" >85.7</text>
<text x="155.9" y="601.5" font-size="7.8" text-anchor="middle" fill="#1a1a1a" stroke="#1a1a1a" stroke-width="0.1" dominant-baseline="central" >72.6</text>
<text x="196.0" y="601.5" font-size="7.8" text-anchor="middle" fill="#1a1a1a" stroke="#1a1a1a" stroke-width="0.1" dominant-baseline="central" >72.6</text>
<text x="236.1" y="601.5" font-size="7.8" text-anchor="middle" fill="#1a1a1a" stroke="#1a1a1a" stroke-width="0.1" dominant-baseline="central" >73.2</text>
<text x="276.1" y="601.5" font-size="7.8" text-anchor="middle" fill="#1a1a1a" stroke="#1a1a1a" stroke-width="0.1" dominant-baseline="central" >58.6</text>
<text x="316.2" y="601.5" font-size="7.8" text-anchor="middle" fill="#1a1a1a" stroke="#1a1a1a" stroke-width="0.1" dominant-baseline="central" >64.3</text>
<text x="56.4" y="601.5" font-size="7.8" text-anchor="end" fill="#d43a3a" stroke="#d43a3a" stroke-width="0.1" dominant-baseline="central" >T12-i6v</text>
<line x1="58.00" y1="601.53" x2="59.60" y2="601.53" stroke="#333" stroke-width="0.6" />
<line x1="336.80" y1="601.53" x2="338.40" y2="601.53" stroke="#333" stroke-width="0.6" />
<rect x="58.00" y="609.29" width="41.06" height="15.51" fill="#1f6db2" />
<rect x="98.06" y="609.29" width="41.06" height="15.51" fill="#1c6ab0" />
<rect x="138.11" y="609.29" width="41.06" height="15.51" fill="#4090c5" />
<rect x="178.17" y="609.29" width="41.06" height="15.51" fill="#4c99ca" />
<rect x="218.23" y="609.29" width="41.06" height="15.51" fill="#6aadd6" />
<rect x="258.29" y="609.29" width="41.06" height="15.51" fill="#144a94" />
<rect x="298.34" y="609.29" width="40.06" height="15.51" fill="#509ccc" />
<text x="75.8" y="617.0" font-size="7.8" text-anchor="middle" fill="#fff" stroke="#fff" stroke-width="0.1" dominant-baseline="central" >80.0</text>
<text x="115.9" y="617.0" font-size="7.8" text-anchor="middle" fill="#fff" stroke="#fff" stroke-width="0.1" dominant-baseline="central" >81.1</text>
<text x="155.9" y="617.0" font-size="7.8" text-anchor="middle" fill="#1a1a1a" stroke="#1a1a1a" stroke-width="0.1" dominant-baseline="central" >68.9</text>
<text x="196.0" y="617.0" font-size="7.8" text-anchor="middle" fill="#1a1a1a" stroke="#1a1a1a" stroke-width="0.1" dominant-baseline="central" >65.6</text>
<text x="236.1" y="617.0" font-size="7.8" text-anchor="middle" fill="#1a1a1a" stroke="#1a1a1a" stroke-width="0.1" dominant-baseline="central" >57.8</text>
<text x="276.1" y="617.0" font-size="7.8" text-anchor="middle" fill="#fff" stroke="#fff" stroke-width="0.1" dominant-baseline="central" >92.1</text>
<text x="316.2" y="617.0" font-size="7.8" text-anchor="middle" fill="#1a1a1a" stroke="#1a1a1a" stroke-width="0.1" dominant-baseline="central" >64.4</text>
<text x="56.4" y="617.0" font-size="7.8" text-anchor="end" fill="#d43a3a" stroke="#d43a3a" stroke-width="0.1" dominant-baseline="central" >T16-i6v</text>
<line x1="58.00" y1="617.04" x2="59.60" y2="617.04" stroke="#333" stroke-width="0.6" />
<line x1="336.80" y1="617.04" x2="338.40" y2="617.04" stroke="#333" stroke-width="0.6" />
<line x1="78.03" y1="485.20" x2="78.03" y2="487.00" stroke="#333" stroke-width="0.6" />
<line x1="78.03" y1="623.00" x2="78.03" y2="624.80" stroke="#333" stroke-width="0.6" />
<line x1="118.09" y1="485.20" x2="118.09" y2="487.00" stroke="#333" stroke-width="0.6" />
<line x1="118.09" y1="623.00" x2="118.09" y2="624.80" stroke="#333" stroke-width="0.6" />
<line x1="158.14" y1="485.20" x2="158.14" y2="487.00" stroke="#333" stroke-width="0.6" />
<line x1="158.14" y1="623.00" x2="158.14" y2="624.80" stroke="#333" stroke-width="0.6" />
<line x1="198.20" y1="485.20" x2="198.20" y2="487.00" stroke="#333" stroke-width="0.6" />
<line x1="198.20" y1="623.00" x2="198.20" y2="624.80" stroke="#333" stroke-width="0.6" />
<line x1="238.26" y1="485.20" x2="238.26" y2="487.00" stroke="#333" stroke-width="0.6" />
<line x1="238.26" y1="623.00" x2="238.26" y2="624.80" stroke="#333" stroke-width="0.6" />
<line x1="278.31" y1="485.20" x2="278.31" y2="487.00" stroke="#333" stroke-width="0.6" />
<line x1="278.31" y1="623.00" x2="278.31" y2="624.80" stroke="#333" stroke-width="0.6" />
<line x1="318.37" y1="485.20" x2="318.37" y2="487.00" stroke="#333" stroke-width="0.6" />
<line x1="318.37" y1="623.00" x2="318.37" y2="624.80" stroke="#333" stroke-width="0.6" />
<rect x="58.00" y="485.20" width="280.40" height="139.60" fill="none" stroke="#2a2a2a" stroke-width="0.9"/>
<text x="201.0" y="468.4" font-size="7.2" text-anchor="middle" fill="#1a1a1a" stroke="#1a1a1a" stroke-width="0.1" textLength="138.7" lengthAdjust="spacingAndGlyphs" dominant-baseline="central" >Cross-Validated Decoding Accuracies (%)</text>
<text x="10.0" y="556.4" font-size="8.2" text-anchor="middle" fill="#1a1a1a" stroke="#1a1a1a" stroke-width="0.1" transform="rotate(-90 10.0 556.4)" dominant-baseline="central" >Participant Array</text>
<text x="198.0" y="679.2" font-size="7.5" text-anchor="middle" fill="#1a1a1a" stroke="#1a1a1a" stroke-width="0.1" dominant-baseline="central" >Behavior</text>
<text x="84.2" y="631.3" font-size="7.5" text-anchor="end" fill="#1a1a1a" transform="rotate(-30 84.2 631.3)" dominant-baseline="central">Attempted Vocalized Speech</text>
<text x="123.6" y="631.3" font-size="7.5" text-anchor="end" fill="#1a1a1a" transform="rotate(-30 123.6 631.3)" dominant-baseline="central">Attempted Mimed Speech</text>
<text x="162.0" y="631.3" font-size="7.5" text-anchor="end" fill="#1a1a1a" transform="rotate(-30 162.0 631.3)" dominant-baseline="central">Motoric Inner Speech</text>
<text x="202.3" y="631.3" font-size="7.5" text-anchor="end" fill="#1a1a1a" transform="rotate(-30 202.3 631.3)" dominant-baseline="central">Auditory Inner Speech</text>
<text x="200.7" y="641.1" font-size="7.5" text-anchor="end" fill="#1a1a1a" transform="rotate(-30 200.7 641.1)" dominant-baseline="central">(1st Person)</text>
<text x="239.1" y="631.3" font-size="7.5" text-anchor="end" fill="#1a1a1a" transform="rotate(-30 239.1 631.3)" dominant-baseline="central">Auditory Inner Speech</text>
<text x="237.5" y="641.1" font-size="7.5" text-anchor="end" fill="#1a1a1a" transform="rotate(-30 237.5 641.1)" dominant-baseline="central">(3rd Person)</text>
<text x="281.5" y="631.3" font-size="7.5" text-anchor="end" fill="#1a1a1a" transform="rotate(-30 281.5 631.3)" dominant-baseline="central">Listening</text>
<text x="320.2" y="631.3" font-size="7.5" text-anchor="end" fill="#1a1a1a" transform="rotate(-30 320.2 631.3)" dominant-baseline="central">Silent Reading</text>
<defs><linearGradient id="cbblues" x1="0" y1="1" x2="0" y2="0"><stop offset="0.000" stop-color="#f7fbff"/><stop offset="0.125" stop-color="#deebf7"/><stop offset="0.250" stop-color="#c6dbef"/><stop offset="0.375" stop-color="#9ecae1"/><stop offset="0.500" stop-color="#6baed6"/><stop offset="0.625" stop-color="#4292c6"/><stop offset="0.750" stop-color="#2171b5"/><stop offset="0.875" stop-color="#0c529e"/><stop offset="1.000" stop-color="#2a3476"/></linearGradient></defs>
<rect x="350.20" y="485.20" width="12.40" height="139.60" fill="url(#cbblues)" stroke="#333" stroke-width="0.7"/>
<line x1="361.00" y1="616.50" x2="362.60" y2="616.50" stroke="#333" stroke-width="0.6" />
<text x="365.0" y="616.5" font-size="7.8" text-anchor="start" fill="#1a1a1a" stroke="#1a1a1a" stroke-width="0.1" dominant-baseline="central" >20</text>
<line x1="361.00" y1="600.12" x2="362.60" y2="600.12" stroke="#333" stroke-width="0.6" />
<text x="365.0" y="600.1" font-size="7.8" text-anchor="start" fill="#1a1a1a" stroke="#1a1a1a" stroke-width="0.1" dominant-baseline="central" >30</text>
<line x1="361.00" y1="583.75" x2="362.60" y2="583.75" stroke="#333" stroke-width="0.6" />
<text x="365.0" y="583.8" font-size="7.8" text-anchor="start" fill="#1a1a1a" stroke="#1a1a1a" stroke-width="0.1" dominant-baseline="central" >40</text>
<line x1="361.00" y1="567.38" x2="362.60" y2="567.38" stroke="#333" stroke-width="0.6" />
<text x="365.0" y="567.4" font-size="7.8" text-anchor="start" fill="#1a1a1a" stroke="#1a1a1a" stroke-width="0.1" dominant-baseline="central" >50</text>
<line x1="361.00" y1="551.00" x2="362.60" y2="551.00" stroke="#333" stroke-width="0.6" />
<text x="365.0" y="551.0" font-size="7.8" text-anchor="start" fill="#1a1a1a" stroke="#1a1a1a" stroke-width="0.1" dominant-baseline="central" >60</text>
<line x1="361.00" y1="534.62" x2="362.60" y2="534.62" stroke="#333" stroke-width="0.6" />
<text x="365.0" y="534.6" font-size="7.8" text-anchor="start" fill="#1a1a1a" stroke="#1a1a1a" stroke-width="0.1" dominant-baseline="central" >70</text>
<line x1="361.00" y1="518.25" x2="362.60" y2="518.25" stroke="#333" stroke-width="0.6" />
<text x="365.0" y="518.2" font-size="7.8" text-anchor="start" fill="#1a1a1a" stroke="#1a1a1a" stroke-width="0.1" dominant-baseline="central" >80</text>
<line x1="361.00" y1="501.88" x2="362.60" y2="501.88" stroke="#333" stroke-width="0.6" />
<text x="365.0" y="501.9" font-size="7.8" text-anchor="start" fill="#1a1a1a" stroke="#1a1a1a" stroke-width="0.1" dominant-baseline="central" >90</text>
<line x1="361.00" y1="485.50" x2="362.60" y2="485.50" stroke="#333" stroke-width="0.6" />
<text x="365.0" y="485.5" font-size="7.8" text-anchor="start" fill="#1a1a1a" stroke="#1a1a1a" stroke-width="0.1" dominant-baseline="central" >100</text>
<rect x="424.50" y="489.30" width="20.03" height="17.74" fill="#f5ee1e" />
<rect x="443.53" y="489.30" width="20.03" height="17.74" fill="#4353b9" />
<rect x="462.56" y="489.30" width="20.03" height="17.74" fill="#433ea8" />
<rect x="481.59" y="489.30" width="20.03" height="17.74" fill="#4445ae" />
<rect x="500.61" y="489.30" width="20.03" height="17.74" fill="#4238a1" />
<rect x="519.64" y="489.30" width="20.03" height="17.74" fill="#4238a1" />
<rect x="538.67" y="489.30" width="19.03" height="17.74" fill="#4238a1" />
<rect x="424.50" y="506.04" width="20.03" height="17.74" fill="#3d72ca" />
<rect x="443.53" y="506.04" width="20.03" height="17.74" fill="#3fbb9c" />
<rect x="462.56" y="506.04" width="20.03" height="17.74" fill="#3f6cc8" />
<rect x="481.59" y="506.04" width="20.03" height="17.74" fill="#4448b0" />
<rect x="500.61" y="506.04" width="20.03" height="17.74" fill="#4238a1" />
<rect x="519.64" y="506.04" width="20.03" height="17.74" fill="#4238a1" />
<rect x="538.67" y="506.04" width="19.03" height="17.74" fill="#4238a1" />
<rect x="424.50" y="522.79" width="20.03" height="17.74" fill="#433ea8" />
<rect x="443.53" y="522.79" width="20.03" height="17.74" fill="#4238a1" />
<rect x="462.56" y="522.79" width="20.03" height="17.74" fill="#f3b636" />
<rect x="481.59" y="522.79" width="20.03" height="17.74" fill="#4238a1" />
<rect x="500.61" y="522.79" width="20.03" height="17.74" fill="#4353b9" />
<rect x="519.64" y="522.79" width="20.03" height="17.74" fill="#4442ac" />
<rect x="538.67" y="522.79" width="19.03" height="17.74" fill="#4442ac" />
<rect x="424.50" y="539.53" width="20.03" height="17.74" fill="#423aa3" />
<rect x="443.53" y="539.53" width="20.03" height="17.74" fill="#423aa3" />
<rect x="462.56" y="539.53" width="20.03" height="17.74" fill="#423aa3" />
<rect x="481.59" y="539.53" width="20.03" height="17.74" fill="#f5ee1e" />
<rect x="500.61" y="539.53" width="20.03" height="17.74" fill="#4238a1" />
<rect x="519.64" y="539.53" width="20.03" height="17.74" fill="#4238a1" />
<rect x="538.67" y="539.53" width="19.03" height="17.74" fill="#4238a1" />
<rect x="424.50" y="556.27" width="20.03" height="17.74" fill="#433ea8" />
<rect x="443.53" y="556.27" width="20.03" height="17.74" fill="#4448b0" />
<rect x="462.56" y="556.27" width="20.03" height="17.74" fill="#434db5" />
<rect x="481.59" y="556.27" width="20.03" height="17.74" fill="#4238a1" />
<rect x="500.61" y="556.27" width="20.03" height="17.74" fill="#f3b636" />
<rect x="519.64" y="556.27" width="20.03" height="17.74" fill="#4238a1" />
<rect x="538.67" y="556.27" width="19.03" height="17.74" fill="#4238a1" />
<rect x="424.50" y="573.01" width="20.03" height="17.74" fill="#433ea8" />
<rect x="443.53" y="573.01" width="20.03" height="17.74" fill="#4238a1" />
<rect x="462.56" y="573.01" width="20.03" height="17.74" fill="#4448b0" />
<rect x="481.59" y="573.01" width="20.03" height="17.74" fill="#4238a1" />
<rect x="500.61" y="573.01" width="20.03" height="17.74" fill="#4238a1" />
<rect x="519.64" y="573.01" width="20.03" height="17.74" fill="#f7df24" />
<rect x="538.67" y="573.01" width="19.03" height="17.74" fill="#433ea8" />
<rect x="424.50" y="589.76" width="20.03" height="16.74" fill="#4238a1" />
<rect x="443.53" y="589.76" width="20.03" height="16.74" fill="#4238a1" />
<rect x="462.56" y="589.76" width="20.03" height="16.74" fill="#4442ac" />
<rect x="481.59" y="589.76" width="20.03" height="16.74" fill="#4238a1" />
<rect x="500.61" y="589.76" width="20.03" height="16.74" fill="#433ea8" />
<rect x="519.64" y="589.76" width="20.03" height="16.74" fill="#4238a1" />
<rect x="538.67" y="589.76" width="19.03" height="16.74" fill="#f5ee1e" />
<line x1="424.50" y1="497.67" x2="426.00" y2="497.67" stroke="#333" stroke-width="0.5" />
<line x1="556.20" y1="497.67" x2="557.70" y2="497.67" stroke="#333" stroke-width="0.5" />
<text x="418.5" y="497.7" font-size="7.4" text-anchor="end" fill="#1a1a1a" stroke="#1a1a1a" stroke-width="0.1" dominant-baseline="central" >ban</text>
<line x1="424.50" y1="514.41" x2="426.00" y2="514.41" stroke="#333" stroke-width="0.5" />
<line x1="556.20" y1="514.41" x2="557.70" y2="514.41" stroke="#333" stroke-width="0.5" />
<text x="418.5" y="514.4" font-size="7.4" text-anchor="end" fill="#1a1a1a" stroke="#1a1a1a" stroke-width="0.1" dominant-baseline="central" >choice</text>
<line x1="424.50" y1="531.16" x2="426.00" y2="531.16" stroke="#333" stroke-width="0.5" />
<line x1="556.20" y1="531.16" x2="557.70" y2="531.16" stroke="#333" stroke-width="0.5" />
<text x="418.5" y="531.2" font-size="7.4" text-anchor="end" fill="#1a1a1a" stroke="#1a1a1a" stroke-width="0.1" dominant-baseline="central" >day</text>
<line x1="424.50" y1="547.90" x2="426.00" y2="547.90" stroke="#333" stroke-width="0.5" />
<line x1="556.20" y1="547.90" x2="557.70" y2="547.90" stroke="#333" stroke-width="0.5" />
<text x="418.5" y="547.9" font-size="7.4" text-anchor="end" fill="#1a1a1a" stroke="#1a1a1a" stroke-width="0.1" dominant-baseline="central" >feel</text>
<line x1="424.50" y1="564.64" x2="426.00" y2="564.64" stroke="#333" stroke-width="0.5" />
<line x1="556.20" y1="564.64" x2="557.70" y2="564.64" stroke="#333" stroke-width="0.5" />
<text x="418.5" y="564.6" font-size="7.4" text-anchor="end" fill="#1a1a1a" stroke="#1a1a1a" stroke-width="0.1" dominant-baseline="central" >kite</text>
<line x1="424.50" y1="581.39" x2="426.00" y2="581.39" stroke="#333" stroke-width="0.5" />
<line x1="556.20" y1="581.39" x2="557.70" y2="581.39" stroke="#333" stroke-width="0.5" />
<text x="418.5" y="581.4" font-size="7.4" text-anchor="end" fill="#1a1a1a" stroke="#1a1a1a" stroke-width="0.1" dominant-baseline="central" >though</text>
<line x1="424.50" y1="598.13" x2="426.00" y2="598.13" stroke="#333" stroke-width="0.5" />
<line x1="556.20" y1="598.13" x2="557.70" y2="598.13" stroke="#333" stroke-width="0.5" />
<text x="418.5" y="598.1" font-size="7.4" text-anchor="end" fill="#1a1a1a" stroke="#1a1a1a" stroke-width="0.1" dominant-baseline="central" >were</text>
<line x1="434.01" y1="489.30" x2="434.01" y2="490.80" stroke="#333" stroke-width="0.5" />
<line x1="434.01" y1="605.00" x2="434.01" y2="606.50" stroke="#333" stroke-width="0.5" />
<text x="437.0" y="617.0" font-size="7.4" text-anchor="end" fill="#1a1a1a" transform="rotate(-45 437.0 617.0)" dominant-baseline="central">ban</text>
<line x1="453.04" y1="489.30" x2="453.04" y2="490.80" stroke="#333" stroke-width="0.5" />
<line x1="453.04" y1="605.00" x2="453.04" y2="606.50" stroke="#333" stroke-width="0.5" />
<text x="456.0" y="617.0" font-size="7.4" text-anchor="end" fill="#1a1a1a" transform="rotate(-45 456.0 617.0)" dominant-baseline="central">choice</text>
<line x1="472.07" y1="489.30" x2="472.07" y2="490.80" stroke="#333" stroke-width="0.5" />
<line x1="472.07" y1="605.00" x2="472.07" y2="606.50" stroke="#333" stroke-width="0.5" />
<text x="475.1" y="617.0" font-size="7.4" text-anchor="end" fill="#1a1a1a" transform="rotate(-45 475.1 617.0)" dominant-baseline="central">day</text>
<line x1="491.10" y1="489.30" x2="491.10" y2="490.80" stroke="#333" stroke-width="0.5" />
<line x1="491.10" y1="605.00" x2="491.10" y2="606.50" stroke="#333" stroke-width="0.5" />
<text x="494.1" y="617.0" font-size="7.4" text-anchor="end" fill="#1a1a1a" transform="rotate(-45 494.1 617.0)" dominant-baseline="central">feel</text>
<line x1="510.13" y1="489.30" x2="510.13" y2="490.80" stroke="#333" stroke-width="0.5" />
<line x1="510.13" y1="605.00" x2="510.13" y2="606.50" stroke="#333" stroke-width="0.5" />
<text x="513.1" y="617.0" font-size="7.4" text-anchor="end" fill="#1a1a1a" transform="rotate(-45 513.1 617.0)" dominant-baseline="central">kite</text>
<line x1="529.16" y1="489.30" x2="529.16" y2="490.80" stroke="#333" stroke-width="0.5" />
<line x1="529.16" y1="605.00" x2="529.16" y2="606.50" stroke="#333" stroke-width="0.5" />
<text x="532.2" y="617.0" font-size="7.4" text-anchor="end" fill="#1a1a1a" transform="rotate(-45 532.2 617.0)" dominant-baseline="central">though</text>
<line x1="548.19" y1="489.30" x2="548.19" y2="490.80" stroke="#333" stroke-width="0.5" />
<line x1="548.19" y1="605.00" x2="548.19" y2="606.50" stroke="#333" stroke-width="0.5" />
<text x="551.2" y="617.0" font-size="7.4" text-anchor="end" fill="#1a1a1a" transform="rotate(-45 551.2 617.0)" dominant-baseline="central">were</text>
<rect x="424.50" y="489.30" width="133.20" height="117.20" fill="none" stroke="#2a2a2a" stroke-width="0.9"/>
<rect x="569.50" y="489.30" width="20.03" height="17.74" fill="#3c76cc" />
<rect x="588.53" y="489.30" width="20.03" height="17.74" fill="#3c76cc" />
<rect x="607.56" y="489.30" width="20.03" height="17.74" fill="#4442ac" />
<rect x="626.59" y="489.30" width="20.03" height="17.74" fill="#4442ac" />
<rect x="645.61" y="489.30" width="20.03" height="17.74" fill="#3488d2" />
<rect x="664.64" y="489.30" width="20.03" height="17.74" fill="#433ea8" />
<rect x="683.67" y="489.30" width="19.03" height="17.74" fill="#433ea8" />
<rect x="569.50" y="506.04" width="20.03" height="17.74" fill="#4238a1" />
<rect x="588.53" y="506.04" width="20.03" height="17.74" fill="#3fbb9c" />
<rect x="607.56" y="506.04" width="20.03" height="17.74" fill="#4442ac" />
<rect x="626.59" y="506.04" width="20.03" height="17.74" fill="#433ea8" />
<rect x="645.61" y="506.04" width="20.03" height="17.74" fill="#433ea8" />
<rect x="664.64" y="506.04" width="20.03" height="17.74" fill="#2998d7" />
<rect x="683.67" y="506.04" width="19.03" height="17.74" fill="#433ea8" />
<rect x="569.50" y="522.79" width="20.03" height="17.74" fill="#4350b7" />
<rect x="588.53" y="522.79" width="20.03" height="17.74" fill="#4238a1" />
<rect x="607.56" y="522.79" width="20.03" height="17.74" fill="#2998d7" />
<rect x="626.59" y="522.79" width="20.03" height="17.74" fill="#425ec2" />
<rect x="645.61" y="522.79" width="20.03" height="17.74" fill="#4238a1" />
<rect x="664.64" y="522.79" width="20.03" height="17.74" fill="#425ec2" />
<rect x="683.67" y="522.79" width="19.03" height="17.74" fill="#4258be" />
<rect x="569.50" y="539.53" width="20.03" height="17.74" fill="#4442ac" />
<rect x="588.53" y="539.53" width="20.03" height="17.74" fill="#4442ac" />
<rect x="607.56" y="539.53" width="20.03" height="17.74" fill="#4448b0" />
<rect x="626.59" y="539.53" width="20.03" height="17.74" fill="#14b2d7" />
<rect x="645.61" y="539.53" width="20.03" height="17.74" fill="#425ec2" />
<rect x="664.64" y="539.53" width="20.03" height="17.74" fill="#433ea8" />
<rect x="683.67" y="539.53" width="19.03" height="17.74" fill="#425ec2" />
<rect x="569.50" y="556.27" width="20.03" height="17.74" fill="#4442ac" />
<rect x="588.53" y="556.27" width="20.03" height="17.74" fill="#4442ac" />
<rect x="607.56" y="556.27" width="20.03" height="17.74" fill="#433ea8" />
<rect x="626.59" y="556.27" width="20.03" height="17.74" fill="#4442ac" />
<rect x="645.61" y="556.27" width="20.03" height="17.74" fill="#3fbb9c" />
<rect x="664.64" y="556.27" width="20.03" height="17.74" fill="#425ec2" />
<rect x="683.67" y="556.27" width="19.03" height="17.74" fill="#4442ac" />
<rect x="569.50" y="573.01" width="20.03" height="17.74" fill="#4442ac" />
<rect x="588.53" y="573.01" width="20.03" height="17.74" fill="#4442ac" />
<rect x="607.56" y="573.01" width="20.03" height="17.74" fill="#4350b7" />
<rect x="626.59" y="573.01" width="20.03" height="17.74" fill="#4350b7" />
<rect x="645.61" y="573.01" width="20.03" height="17.74" fill="#4442ac" />
<rect x="664.64" y="573.01" width="20.03" height="17.74" fill="#cbbd2e" />
<rect x="683.67" y="573.01" width="19.03" height="17.74" fill="#433ea8" />
<rect x="569.50" y="589.76" width="20.03" height="16.74" fill="#4442ac" />
<rect x="588.53" y="589.76" width="20.03" height="16.74" fill="#4350b7" />
<rect x="607.56" y="589.76" width="20.03" height="16.74" fill="#4350b7" />
<rect x="626.59" y="589.76" width="20.03" height="16.74" fill="#4448b0" />
<rect x="645.61" y="589.76" width="20.03" height="16.74" fill="#433ea8" />
<rect x="664.64" y="589.76" width="20.03" height="16.74" fill="#433ea8" />
<rect x="683.67" y="589.76" width="19.03" height="16.74" fill="#bfbe30" />
<line x1="569.50" y1="497.67" x2="571.00" y2="497.67" stroke="#333" stroke-width="0.5" />
<line x1="701.20" y1="497.67" x2="702.70" y2="497.67" stroke="#333" stroke-width="0.5" />
<line x1="569.50" y1="514.41" x2="571.00" y2="514.41" stroke="#333" stroke-width="0.5" />
<line x1="701.20" y1="514.41" x2="702.70" y2="514.41" stroke="#333" stroke-width="0.5" />
<line x1="569.50" y1="531.16" x2="571.00" y2="531.16" stroke="#333" stroke-width="0.5" />
<line x1="701.20" y1="531.16" x2="702.70" y2="531.16" stroke="#333" stroke-width="0.5" />
<line x1="569.50" y1="547.90" x2="571.00" y2="547.90" stroke="#333" stroke-width="0.5" />
<line x1="701.20" y1="547.90" x2="702.70" y2="547.90" stroke="#333" stroke-width="0.5" />
<line x1="569.50" y1="564.64" x2="571.00" y2="564.64" stroke="#333" stroke-width="0.5" />
<line x1="701.20" y1="564.64" x2="702.70" y2="564.64" stroke="#333" stroke-width="0.5" />
<line x1="569.50" y1="581.39" x2="571.00" y2="581.39" stroke="#333" stroke-width="0.5" />
<line x1="701.20" y1="581.39" x2="702.70" y2="581.39" stroke="#333" stroke-width="0.5" />
<line x1="569.50" y1="598.13" x2="571.00" y2="598.13" stroke="#333" stroke-width="0.5" />
<line x1="701.20" y1="598.13" x2="702.70" y2="598.13" stroke="#333" stroke-width="0.5" />
<line x1="579.01" y1="489.30" x2="579.01" y2="490.80" stroke="#333" stroke-width="0.5" />
<line x1="579.01" y1="605.00" x2="579.01" y2="606.50" stroke="#333" stroke-width="0.5" />
<text x="582.0" y="617.0" font-size="7.4" text-anchor="end" fill="#1a1a1a" transform="rotate(-45 582.0 617.0)" dominant-baseline="central">ban</text>
<line x1="598.04" y1="489.30" x2="598.04" y2="490.80" stroke="#333" stroke-width="0.5" />
<line x1="598.04" y1="605.00" x2="598.04" y2="606.50" stroke="#333" stroke-width="0.5" />
<text x="601.0" y="617.0" font-size="7.4" text-anchor="end" fill="#1a1a1a" transform="rotate(-45 601.0 617.0)" dominant-baseline="central">choice</text>
<line x1="617.07" y1="489.30" x2="617.07" y2="490.80" stroke="#333" stroke-width="0.5" />
<line x1="617.07" y1="605.00" x2="617.07" y2="606.50" stroke="#333" stroke-width="0.5" />
<text x="620.1" y="617.0" font-size="7.4" text-anchor="end" fill="#1a1a1a" transform="rotate(-45 620.1 617.0)" dominant-baseline="central">day</text>
<line x1="636.10" y1="489.30" x2="636.10" y2="490.80" stroke="#333" stroke-width="0.5" />
<line x1="636.10" y1="605.00" x2="636.10" y2="606.50" stroke="#333" stroke-width="0.5" />
<text x="639.1" y="617.0" font-size="7.4" text-anchor="end" fill="#1a1a1a" transform="rotate(-45 639.1 617.0)" dominant-baseline="central">feel</text>
<line x1="655.13" y1="489.30" x2="655.13" y2="490.80" stroke="#333" stroke-width="0.5" />
<line x1="655.13" y1="605.00" x2="655.13" y2="606.50" stroke="#333" stroke-width="0.5" />
<text x="658.1" y="617.0" font-size="7.4" text-anchor="end" fill="#1a1a1a" transform="rotate(-45 658.1 617.0)" dominant-baseline="central">kite</text>
<line x1="674.16" y1="489.30" x2="674.16" y2="490.80" stroke="#333" stroke-width="0.5" />
<line x1="674.16" y1="605.00" x2="674.16" y2="606.50" stroke="#333" stroke-width="0.5" />
<text x="677.2" y="617.0" font-size="7.4" text-anchor="end" fill="#1a1a1a" transform="rotate(-45 677.2 617.0)" dominant-baseline="central">though</text>
<line x1="693.19" y1="489.30" x2="693.19" y2="490.80" stroke="#333" stroke-width="0.5" />
<line x1="693.19" y1="605.00" x2="693.19" y2="606.50" stroke="#333" stroke-width="0.5" />
<text x="696.2" y="617.0" font-size="7.4" text-anchor="end" fill="#1a1a1a" transform="rotate(-45 696.2 617.0)" dominant-baseline="central">were</text>
<rect x="569.50" y="489.30" width="133.20" height="117.20" fill="none" stroke="#2a2a2a" stroke-width="0.9"/>
<text x="494.2" y="464.7" font-size="7.4" text-anchor="middle" fill="#1a1a1a" stroke="#1a1a1a" stroke-width="0.1" dominant-baseline="central" >T16-i6v Listening</text>
<text x="495.0" y="473.6" font-size="7.4" text-anchor="middle" fill="#1a1a1a" stroke="#1a1a1a" stroke-width="0.1" dominant-baseline="central" >Decoding Accuracy: 92.1%</text>
<text x="639.5" y="464.7" font-size="7.4" text-anchor="middle" fill="#1a1a1a" stroke="#1a1a1a" stroke-width="0.1" dominant-baseline="central" >T12-i6v Motoric Inner Speech</text>
<text x="640.0" y="473.6" font-size="7.4" text-anchor="middle" fill="#1a1a1a" stroke="#1a1a1a" stroke-width="0.1" dominant-baseline="central" >Decoding Accuracy: 72.6%</text>
<defs><linearGradient id="cbpar" x1="0" y1="1" x2="0" y2="0"><stop offset="0.000" stop-color="#402e96"/><stop offset="0.100" stop-color="#4442ac"/><stop offset="0.200" stop-color="#425ec2"/><stop offset="0.300" stop-color="#3a80d0"/><stop offset="0.400" stop-color="#1ea8dc"/><stop offset="0.450" stop-color="#12b4d6"/><stop offset="0.500" stop-color="#28bab8"/><stop offset="0.600" stop-color="#4ebc8a"/><stop offset="0.700" stop-color="#a5c03a"/><stop offset="0.750" stop-color="#c6be2d"/><stop offset="0.810" stop-color="#e6b830"/><stop offset="0.870" stop-color="#f6b637"/><stop offset="0.930" stop-color="#f8d428"/><stop offset="1.000" stop-color="#f5ee1e"/></linearGradient></defs>
<rect x="714.80" y="489.90" width="13.50" height="116.20" fill="url(#cbpar)" stroke="#333" stroke-width="0.6"/>
<line x1="726.80" y1="606.10" x2="728.30" y2="606.10" stroke="#333" stroke-width="0.5" />
<text x="734.2" y="607.7" font-size="7.8" text-anchor="start" fill="#1a1a1a" stroke="#1a1a1a" stroke-width="0.1" dominant-baseline="central" >0</text>
<line x1="726.80" y1="582.86" x2="728.30" y2="582.86" stroke="#333" stroke-width="0.5" />
<text x="734.2" y="584.4" font-size="7.8" text-anchor="start" fill="#1a1a1a" stroke="#1a1a1a" stroke-width="0.1" dominant-baseline="central" >20</text>
<line x1="726.80" y1="559.62" x2="728.30" y2="559.62" stroke="#333" stroke-width="0.5" />
<text x="734.2" y="561.2" font-size="7.8" text-anchor="start" fill="#1a1a1a" stroke="#1a1a1a" stroke-width="0.1" dominant-baseline="central" >40</text>
<line x1="726.80" y1="536.38" x2="728.30" y2="536.38" stroke="#333" stroke-width="0.5" />
<text x="734.2" y="537.9" font-size="7.8" text-anchor="start" fill="#1a1a1a" stroke="#1a1a1a" stroke-width="0.1" dominant-baseline="central" >60</text>
<line x1="726.80" y1="513.14" x2="728.30" y2="513.14" stroke="#333" stroke-width="0.5" />
<text x="734.2" y="514.7" font-size="7.8" text-anchor="start" fill="#1a1a1a" stroke="#1a1a1a" stroke-width="0.1" dominant-baseline="central" >80</text>
<line x1="726.80" y1="489.90" x2="728.30" y2="489.90" stroke="#333" stroke-width="0.5" />
<text x="734.2" y="491.4" font-size="7.8" text-anchor="start" fill="#1a1a1a" stroke="#1a1a1a" stroke-width="0.1" dominant-baseline="central" >100</text>
<text x="4.0" y="10.5" font-size="13" text-anchor="start" fill="#000" font-weight="bold" dominant-baseline="central" >A</text>
<text x="282.0" y="10.2" font-size="13" text-anchor="start" fill="#000" font-weight="bold" dominant-baseline="central" >B</text>
<text x="511.5" y="10.5" font-size="13" text-anchor="start" fill="#000" font-weight="bold" dominant-baseline="central" >C</text>
<text x="2.8" y="190.0" font-size="13" text-anchor="start" fill="#000" font-weight="bold" dominant-baseline="central" >D</text>
<text x="4.5" y="469.2" font-size="13" text-anchor="start" fill="#000" font-weight="bold" dominant-baseline="central" >E</text>
<text x="399.5" y="470.2" font-size="13" text-anchor="start" fill="#000" font-weight="bold" dominant-baseline="central" >F</text>
</svg>
</body></html>
